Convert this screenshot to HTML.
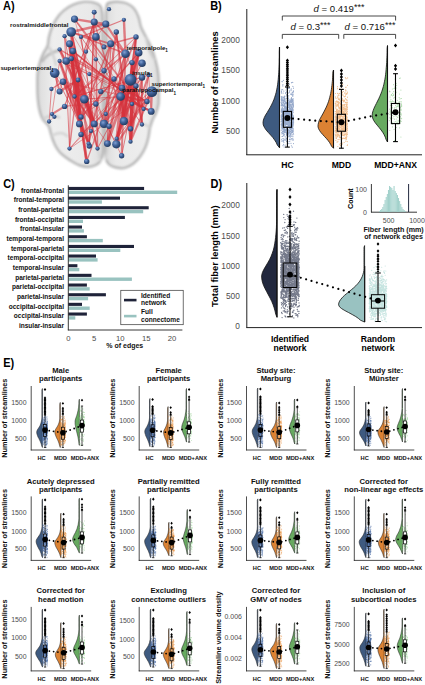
<!DOCTYPE html>
<html><head><meta charset="utf-8"><style>
html,body{margin:0;padding:0;background:#fff;width:425px;height:685px;overflow:hidden}
svg{display:block}
text{font-family:"Liberation Sans",sans-serif}
</style></head><body>
<svg width="425" height="685" viewBox="0 0 425 685" font-family="Liberation Sans, sans-serif">
<rect width="425" height="685" fill="#fff"/>
<text transform="translate(3.0,9.9) scale(0.9,1)" font-size="12.2" font-weight="bold" fill="#000">A)</text>
<defs>
<radialGradient id="nb" cx="0.38" cy="0.33" r="0.72"><stop offset="0" stop-color="#7f9fd2"/><stop offset="0.45" stop-color="#41639a"/><stop offset="1" stop-color="#1f3558"/></radialGradient>
<linearGradient id="hemiL" x1="0" y1="0" x2="1" y2="0"><stop offset="0" stop-color="#dcdcdc"/><stop offset="0.25" stop-color="#eeeeee"/><stop offset="0.8" stop-color="#e9e9e9"/><stop offset="1" stop-color="#dcdcdc"/></linearGradient>
<linearGradient id="hemiR" x1="0" y1="0" x2="1" y2="0"><stop offset="0" stop-color="#dcdcdc"/><stop offset="0.2" stop-color="#e9e9e9"/><stop offset="0.75" stop-color="#eeeeee"/><stop offset="1" stop-color="#dcdcdc"/></linearGradient>
<filter id="bl" x="-10%" y="-10%" width="120%" height="120%"><feGaussianBlur stdDeviation="1.0"/></filter>
</defs>
<path d="M100,5.5 C98.3,3.9 94.8,2.8 92,2.2 C89.2,1.6 86.1,1.5 83,1.9 C79.9,2.3 76.5,3.3 73.3,4.7 C70.1,6.1 66.7,8.1 63.9,10.4 C61.1,12.8 58.4,15.8 56.4,18.8 C54.4,21.8 52.9,25.1 51.6,28.2 C50.3,31.3 49.5,34.6 48.8,37.6 C48.1,40.6 48.4,43.4 47.5,46 C46.6,48.6 44.8,50.3 43.5,53 C42.2,55.7 41.0,58.8 40,62 C39.0,65.2 38.2,68.5 37.8,72 C37.3,75.5 37.3,79.0 37.3,83 C37.3,87.0 37.3,91.8 37.6,96 C37.9,100.2 38.2,104.2 39,108 C39.8,111.8 40.9,116.0 42.5,119 C44.1,122.0 47.0,123.2 48.5,126 C50.0,128.8 50.4,132.8 51.5,136 C52.6,139.2 53.7,142.3 55,145 C56.3,147.7 57.7,149.9 59.5,152 C61.3,154.1 63.8,155.8 66,157.5 C68.2,159.2 70.7,160.7 73,162 C75.3,163.3 77.5,164.7 80,165.5 C82.5,166.3 85.3,167.1 88,167 C90.7,166.9 93.9,166.1 96,165 C98.1,163.9 99.6,163.0 100.8,160.5 C102.0,158.0 102.8,156.8 103.2,150 C103.7,143.2 103.5,131.7 103.5,120 C103.5,108.3 103.4,95.0 103.3,80 C103.2,65.0 103.2,41.3 103,30 C102.8,18.7 102.7,16.1 102.2,12 C101.7,7.9 101.7,7.1 100,5.5 Z" fill="url(#hemiL)"/>
<path d="M106.5,6 C107.2,2.2 108.1,3.2 110,2.5 C111.9,1.8 115.2,1.6 118,1.8 C120.8,2.0 124.3,2.4 127,3.5 C129.7,4.6 132.1,6.2 134,8.5 C135.9,10.8 137.3,13.9 138.5,17 C139.7,20.1 139.8,23.7 141,27 C142.2,30.3 144.3,33.7 146,37 C147.7,40.3 149.4,43.2 151,47 C152.6,50.8 154.3,55.5 155.5,60 C156.7,64.5 157.8,69.0 158.3,74 C158.9,79.0 158.8,85.0 158.8,90 C158.8,95.0 159.0,100.2 158.5,104 C158.0,107.8 157.0,110.3 156,113 C155.0,115.7 153.5,117.5 152.5,120 C151.5,122.5 150.7,125.2 150,128 C149.3,130.8 149.2,133.8 148.5,137 C147.8,140.2 146.8,143.8 145.5,147 C144.2,150.2 142.5,153.2 140.5,156 C138.5,158.8 136.1,161.5 133.5,163.5 C130.9,165.5 127.9,167.1 125,167.8 C122.1,168.5 118.7,168.1 116,167.5 C113.3,166.9 110.7,166.1 109,164.5 C107.3,162.9 106.4,162.1 105.8,158 C105.2,153.9 105.5,149.7 105.5,140 C105.5,130.3 105.5,113.3 105.5,100 C105.5,86.7 105.7,72.5 105.8,60 C105.9,47.5 105.9,34.0 106,25 C106.1,16.0 105.8,9.8 106.5,6 Z" fill="url(#hemiR)"/>
<g filter="url(#bl)" fill="none" stroke="#b8b8b8" stroke-width="2.4"><path d="M100,5.5 C98.3,3.9 94.8,2.8 92,2.2 C89.2,1.6 86.1,1.5 83,1.9 C79.9,2.3 76.5,3.3 73.3,4.7 C70.1,6.1 66.7,8.1 63.9,10.4 C61.1,12.8 58.4,15.8 56.4,18.8 C54.4,21.8 52.9,25.1 51.6,28.2 C50.3,31.3 49.5,34.6 48.8,37.6 C48.1,40.6 48.4,43.4 47.5,46 C46.6,48.6 44.8,50.3 43.5,53 C42.2,55.7 41.0,58.8 40,62 C39.0,65.2 38.2,68.5 37.8,72 C37.3,75.5 37.3,79.0 37.3,83 C37.3,87.0 37.3,91.8 37.6,96 C37.9,100.2 38.2,104.2 39,108 C39.8,111.8 40.9,116.0 42.5,119 C44.1,122.0 47.0,123.2 48.5,126 C50.0,128.8 50.4,132.8 51.5,136 C52.6,139.2 53.7,142.3 55,145 C56.3,147.7 57.7,149.9 59.5,152 C61.3,154.1 63.8,155.8 66,157.5 C68.2,159.2 70.7,160.7 73,162 C75.3,163.3 77.5,164.7 80,165.5 C82.5,166.3 85.3,167.1 88,167 C90.7,166.9 93.9,166.1 96,165 C98.1,163.9 99.6,163.0 100.8,160.5 C102.0,158.0 102.8,156.8 103.2,150 C103.7,143.2 103.5,131.7 103.5,120 C103.5,108.3 103.4,95.0 103.3,80 C103.2,65.0 103.2,41.3 103,30 C102.8,18.7 102.7,16.1 102.2,12 C101.7,7.9 101.7,7.1 100,5.5 Z"/><path d="M106.5,6 C107.2,2.2 108.1,3.2 110,2.5 C111.9,1.8 115.2,1.6 118,1.8 C120.8,2.0 124.3,2.4 127,3.5 C129.7,4.6 132.1,6.2 134,8.5 C135.9,10.8 137.3,13.9 138.5,17 C139.7,20.1 139.8,23.7 141,27 C142.2,30.3 144.3,33.7 146,37 C147.7,40.3 149.4,43.2 151,47 C152.6,50.8 154.3,55.5 155.5,60 C156.7,64.5 157.8,69.0 158.3,74 C158.9,79.0 158.8,85.0 158.8,90 C158.8,95.0 159.0,100.2 158.5,104 C158.0,107.8 157.0,110.3 156,113 C155.0,115.7 153.5,117.5 152.5,120 C151.5,122.5 150.7,125.2 150,128 C149.3,130.8 149.2,133.8 148.5,137 C147.8,140.2 146.8,143.8 145.5,147 C144.2,150.2 142.5,153.2 140.5,156 C138.5,158.8 136.1,161.5 133.5,163.5 C130.9,165.5 127.9,167.1 125,167.8 C122.1,168.5 118.7,168.1 116,167.5 C113.3,166.9 110.7,166.1 109,164.5 C107.3,162.9 106.4,162.1 105.8,158 C105.2,153.9 105.5,149.7 105.5,140 C105.5,130.3 105.5,113.3 105.5,100 C105.5,86.7 105.7,72.5 105.8,60 C105.9,47.5 105.9,34.0 106,25 C106.1,16.0 105.8,9.8 106.5,6 Z"/><path d="M60,50 C52,52 45,56 42,62" /><path d="M49,47 C52,52 55,58 56,66" stroke="#d0d0d0"/><path d="M42.5,119 C50,115 56,115 60,118" stroke="#d0d0d0"/><path d="M51.5,136 C58,132 64,132 68,137" stroke="#d4d4d4"/><path d="M146,37 C148,47 150,55 155.5,60" stroke="#cccccc"/><path d="M150,128 C145,123 140,123 136,127" stroke="#d4d4d4"/><path d="M100.5,161 C98,150 96,140 97,130" stroke="#d6d6d6"/><path d="M105.5,160 C108,150 110,140 110,130" stroke="#d6d6d6"/></g>
<g stroke="#d5323c" stroke-opacity="0.6"><line x1="63" y1="81.7" x2="94.2" y2="123.9" stroke-width="2.0"/><line x1="59.6" y1="61" x2="97.5" y2="148.6" stroke-width="0.6"/><line x1="78" y1="80" x2="69.5" y2="148.6" stroke-width="1.3"/><line x1="54.7" y1="73.1" x2="79.4" y2="123.9" stroke-width="1.0"/><line x1="69.5" y1="43.8" x2="86.7" y2="161.4" stroke-width="2.9"/><line x1="78" y1="80" x2="89.3" y2="146" stroke-width="2.4"/><line x1="59.6" y1="49.4" x2="84.3" y2="99.2" stroke-width="1.3"/><line x1="71.2" y1="32" x2="97.5" y2="148.6" stroke-width="1.3"/><line x1="81" y1="36.9" x2="94.2" y2="123.9" stroke-width="1.0"/><line x1="78" y1="80" x2="59.6" y2="91.6" stroke-width="2.4"/><line x1="72.8" y1="51" x2="59.6" y2="91.6" stroke-width="0.8"/><line x1="72.8" y1="51" x2="81" y2="117" stroke-width="2.9"/><line x1="72.8" y1="51" x2="81" y2="134.4" stroke-width="0.6"/><line x1="78" y1="80" x2="79.4" y2="123.9" stroke-width="1.3"/><line x1="59.6" y1="61" x2="89.3" y2="146" stroke-width="1.0"/><line x1="78" y1="80" x2="81" y2="134.4" stroke-width="1.6"/><line x1="94.2" y1="22" x2="89.3" y2="146" stroke-width="1.3"/><line x1="72.8" y1="51" x2="97.5" y2="148.6" stroke-width="1.3"/><line x1="81" y1="36.9" x2="94.2" y2="123.9" stroke-width="0.6"/><line x1="94.2" y1="22" x2="64.6" y2="106.4" stroke-width="1.0"/><line x1="72.8" y1="51" x2="94.2" y2="123.9" stroke-width="0.8"/><line x1="94.2" y1="22" x2="94.2" y2="123.9" stroke-width="0.6"/><line x1="63" y1="81.7" x2="88.6" y2="143.6" stroke-width="2.0"/><line x1="69.5" y1="43.8" x2="94.2" y2="123.9" stroke-width="2.0"/><line x1="78" y1="80" x2="94.2" y2="123.9" stroke-width="2.9"/><line x1="71.2" y1="58.6" x2="86.7" y2="161.4" stroke-width="1.0"/><line x1="64.6" y1="36.2" x2="69.5" y2="148.6" stroke-width="1.0"/><line x1="71.2" y1="32" x2="94.2" y2="123.9" stroke-width="0.6"/><line x1="71.2" y1="58.6" x2="86.7" y2="161.4" stroke-width="2.4"/><line x1="71.2" y1="32" x2="74.5" y2="96.5" stroke-width="2.4"/><line x1="94.2" y1="22" x2="64.6" y2="106.4" stroke-width="0.6"/><line x1="64.6" y1="36.2" x2="79.4" y2="123.9" stroke-width="1.0"/><line x1="63" y1="81.7" x2="89.3" y2="146" stroke-width="0.8"/><line x1="59.6" y1="61" x2="89.3" y2="146" stroke-width="2.9"/><line x1="94.2" y1="22" x2="74.5" y2="96.5" stroke-width="2.0"/><line x1="59.6" y1="49.4" x2="94.2" y2="123.9" stroke-width="2.9"/><line x1="69.5" y1="43.8" x2="81" y2="117" stroke-width="2.0"/><line x1="78" y1="80" x2="94.2" y2="123.9" stroke-width="0.6"/><line x1="110.7" y1="43.8" x2="107.4" y2="143.6" stroke-width="1.3"/><line x1="151.9" y1="91.6" x2="151.2" y2="111.4" stroke-width="2.0"/><line x1="138.7" y1="52.7" x2="116.6" y2="138.7" stroke-width="1.6"/><line x1="148.6" y1="75.1" x2="151.2" y2="111.4" stroke-width="0.8"/><line x1="120.6" y1="96.5" x2="147" y2="101.5" stroke-width="2.0"/><line x1="120.6" y1="96.5" x2="123.9" y2="121.2" stroke-width="0.8"/><line x1="132" y1="62.6" x2="123.9" y2="121.2" stroke-width="1.6"/><line x1="116.3" y1="32" x2="123.9" y2="121.2" stroke-width="0.6"/><line x1="130.5" y1="79.7" x2="143.6" y2="109" stroke-width="2.4"/><line x1="125.5" y1="53.7" x2="121.6" y2="155.8" stroke-width="2.0"/><line x1="136" y1="86" x2="130.5" y2="141.7" stroke-width="2.9"/><line x1="132" y1="62.6" x2="130.5" y2="128.8" stroke-width="1.0"/><line x1="125.5" y1="53.7" x2="147" y2="101.5" stroke-width="0.6"/><line x1="142" y1="77.4" x2="142" y2="124.5" stroke-width="2.0"/><line x1="136" y1="86" x2="121.6" y2="155.8" stroke-width="1.0"/><line x1="148.6" y1="75.1" x2="143.6" y2="109" stroke-width="1.0"/><line x1="132" y1="62.6" x2="130.5" y2="128.8" stroke-width="0.8"/><line x1="138.7" y1="52.7" x2="130.5" y2="128.8" stroke-width="2.0"/><line x1="138.7" y1="52.7" x2="116.3" y2="144.3" stroke-width="2.4"/><line x1="120.6" y1="96.5" x2="123.9" y2="121.2" stroke-width="2.9"/><line x1="122" y1="88" x2="123.9" y2="121.2" stroke-width="2.9"/><line x1="116.3" y1="32" x2="104" y2="123.9" stroke-width="2.0"/><line x1="116.3" y1="32" x2="130.5" y2="141.7" stroke-width="1.6"/><line x1="116.3" y1="32" x2="130.5" y2="128.8" stroke-width="1.0"/><line x1="130.5" y1="79.7" x2="130.5" y2="128.8" stroke-width="1.0"/><line x1="132" y1="62.6" x2="142" y2="124.5" stroke-width="2.0"/><line x1="138.7" y1="52.7" x2="107.4" y2="143.6" stroke-width="2.9"/><line x1="120.6" y1="96.5" x2="151.2" y2="111.4" stroke-width="2.0"/><line x1="130.5" y1="79.7" x2="116.6" y2="138.7" stroke-width="0.6"/><line x1="142" y1="77.4" x2="130.5" y2="141.7" stroke-width="2.0"/><line x1="136" y1="36.9" x2="104" y2="123.9" stroke-width="1.6"/><line x1="136" y1="86" x2="142" y2="124.5" stroke-width="1.6"/><line x1="142" y1="77.4" x2="104" y2="123.9" stroke-width="1.6"/><line x1="151.9" y1="91.6" x2="147" y2="101.5" stroke-width="1.0"/><line x1="122" y1="88" x2="116.3" y2="144.3" stroke-width="2.9"/><line x1="136" y1="36.9" x2="130.5" y2="141.7" stroke-width="2.0"/><line x1="132" y1="62.6" x2="130.5" y2="141.7" stroke-width="2.9"/><line x1="120.6" y1="96.5" x2="151.2" y2="111.4" stroke-width="2.0"/><line x1="151.9" y1="91.6" x2="130.5" y2="141.7" stroke-width="2.0"/><line x1="148.6" y1="75.1" x2="130.5" y2="128.8" stroke-width="2.0"/><line x1="136" y1="86" x2="123.9" y2="121.2" stroke-width="2.9"/><line x1="151.9" y1="91.6" x2="116.6" y2="138.7" stroke-width="1.0"/><line x1="136" y1="36.9" x2="123.9" y2="121.2" stroke-width="1.3"/><line x1="136" y1="86" x2="116.6" y2="138.7" stroke-width="2.9"/><line x1="74.5" y1="19.1" x2="104" y2="123.9" stroke-width="0.6"/><line x1="71.2" y1="58.6" x2="147" y2="101.5" stroke-width="1.3"/><line x1="72.8" y1="51" x2="143.6" y2="109" stroke-width="1.6"/><line x1="59.6" y1="49.4" x2="147" y2="101.5" stroke-width="1.3"/><line x1="74.5" y1="19.1" x2="143.6" y2="109" stroke-width="1.6"/><line x1="59.6" y1="61" x2="147" y2="101.5" stroke-width="1.0"/><line x1="71.2" y1="58.6" x2="116.3" y2="144.3" stroke-width="0.8"/><line x1="72.8" y1="51" x2="143.6" y2="109" stroke-width="1.3"/><line x1="63" y1="81.7" x2="147" y2="101.5" stroke-width="0.8"/><line x1="66.2" y1="61" x2="147" y2="101.5" stroke-width="0.8"/><line x1="54.7" y1="73.1" x2="104" y2="123.9" stroke-width="0.6"/><line x1="64.6" y1="36.2" x2="121.6" y2="155.8" stroke-width="0.8"/><line x1="71.2" y1="32" x2="123.9" y2="121.2" stroke-width="0.6"/><line x1="94.2" y1="22" x2="123.9" y2="121.2" stroke-width="1.3"/><line x1="66.2" y1="61" x2="151.2" y2="111.4" stroke-width="0.6"/><line x1="81" y1="36.9" x2="142" y2="124.5" stroke-width="1.0"/><line x1="110.7" y1="43.8" x2="88.6" y2="143.6" stroke-width="1.6"/><line x1="130.5" y1="79.7" x2="81" y2="117" stroke-width="0.8"/><line x1="142" y1="63.2" x2="97.5" y2="148.6" stroke-width="1.0"/><line x1="125.5" y1="53.7" x2="86.7" y2="161.4" stroke-width="1.3"/><line x1="120.6" y1="96.5" x2="64.6" y2="106.4" stroke-width="0.6"/><line x1="148.6" y1="75.1" x2="74.5" y2="96.5" stroke-width="1.0"/><line x1="125.5" y1="53.7" x2="74.5" y2="96.5" stroke-width="1.6"/><line x1="120.6" y1="96.5" x2="84.3" y2="99.2" stroke-width="1.0"/><line x1="136" y1="36.9" x2="74.5" y2="96.5" stroke-width="1.0"/><line x1="122" y1="88" x2="94.2" y2="123.9" stroke-width="1.0"/><line x1="136" y1="86" x2="81" y2="134.4" stroke-width="1.3"/><line x1="110.7" y1="43.8" x2="81" y2="117" stroke-width="1.6"/><line x1="151.9" y1="91.6" x2="69.5" y2="148.6" stroke-width="0.8"/><line x1="138.7" y1="52.7" x2="81" y2="117" stroke-width="1.3"/><line x1="122" y1="88" x2="69.5" y2="148.6" stroke-width="0.8"/><line x1="138.7" y1="52.7" x2="81" y2="117" stroke-width="0.6"/><line x1="132" y1="104" x2="74.5" y2="19.1" stroke-width="0.7"/><line x1="110.7" y1="43.8" x2="120.6" y2="96.5" stroke-width="0.5"/><line x1="120.6" y1="96.5" x2="136" y2="86" stroke-width="0.7"/><line x1="94.2" y1="123.9" x2="104" y2="123.9" stroke-width="0.5"/><line x1="107.4" y1="143.6" x2="74.5" y2="96.5" stroke-width="0.7"/><line x1="54.4" y1="116.8" x2="49.1" y2="121.5" stroke-width="0.5"/><line x1="148.6" y1="75.1" x2="100.8" y2="91.6" stroke-width="0.7"/><line x1="114" y1="79" x2="79.4" y2="123.9" stroke-width="0.5"/><line x1="95.9" y1="104" x2="64.6" y2="106.4" stroke-width="0.7"/><line x1="84.3" y1="99.2" x2="125.5" y2="53.7" stroke-width="0.7"/><line x1="105.8" y1="24" x2="86" y2="51.7" stroke-width="0.7"/><line x1="142" y1="77.4" x2="74.5" y2="96.5" stroke-width="0.5"/><line x1="71.2" y1="32" x2="105.8" y2="24" stroke-width="2.8"/><line x1="74.5" y1="19.1" x2="103" y2="23.7" stroke-width="2.4"/><line x1="71.2" y1="32" x2="110.7" y2="43.8" stroke-width="1.8"/><line x1="71.2" y1="32" x2="125.5" y2="53.7" stroke-width="1.5"/><line x1="94.2" y1="22" x2="125.5" y2="53.7" stroke-width="1.6"/><line x1="123.9" y1="19.8" x2="125.5" y2="53.7" stroke-width="2.4"/><line x1="105.8" y1="24" x2="125.5" y2="53.7" stroke-width="2.2"/><line x1="136" y1="36.9" x2="130.5" y2="79.7" stroke-width="1.8"/><line x1="71.2" y1="32" x2="84.3" y2="99.2" stroke-width="2.8"/><line x1="69.5" y1="43.8" x2="79.4" y2="123.9" stroke-width="3.0"/><line x1="72.8" y1="51" x2="94.2" y2="123.9" stroke-width="2.4"/><line x1="130.5" y1="79.7" x2="116.3" y2="144.3" stroke-width="3.0"/><line x1="125.5" y1="53.7" x2="107.4" y2="143.6" stroke-width="2.6"/><line x1="120.6" y1="96.5" x2="104" y2="123.9" stroke-width="2.2"/><line x1="151.9" y1="91.6" x2="116.3" y2="144.3" stroke-width="2.2"/><line x1="54.7" y1="73.1" x2="59.6" y2="91.6" stroke-width="2.0"/><line x1="63" y1="81.7" x2="51.4" y2="89" stroke-width="1.2"/><line x1="95.9" y1="36.9" x2="97.5" y2="148.6" stroke-width="1.6"/><line x1="94.2" y1="12.2" x2="89.3" y2="146" stroke-width="1.2"/><line x1="64.6" y1="106.4" x2="52" y2="114.1" stroke-width="2.2"/><line x1="49.1" y1="121.5" x2="51.4" y2="89" stroke-width="0.9"/><line x1="52" y1="114.1" x2="59.6" y2="61" stroke-width="0.8"/><line x1="69.5" y1="148.6" x2="71.2" y2="58.6" stroke-width="0.9"/><line x1="69.5" y1="148.6" x2="94.2" y2="123.9" stroke-width="0.7"/><line x1="110.7" y1="43.8" x2="136" y2="36.9" stroke-width="1.6"/><line x1="81" y1="36.9" x2="123.9" y2="19.8" stroke-width="1.2"/></g>
<g fill="url(#nb)"><circle cx="74.5" cy="19.1" r="3.56"/><circle cx="94.2" cy="12.2" r="2.48"/><circle cx="94.2" cy="22" r="3.56"/><circle cx="105.8" cy="24" r="3.56"/><circle cx="109" cy="9.2" r="2.16"/><circle cx="71.2" cy="32" r="4.86"/><circle cx="64.6" cy="36.2" r="2.16"/><circle cx="69.5" cy="43.8" r="3.56"/><circle cx="81" cy="36.9" r="2.16"/><circle cx="95.9" cy="36.9" r="3.78"/><circle cx="116.3" cy="32" r="2.70"/><circle cx="123.9" cy="19.8" r="2.16"/><circle cx="136" cy="36.9" r="2.70"/><circle cx="110.7" cy="43.8" r="3.56"/><circle cx="104" cy="47.1" r="2.48"/><circle cx="86" cy="51.7" r="2.16"/><circle cx="59.6" cy="49.4" r="2.16"/><circle cx="72.8" cy="51" r="3.24"/><circle cx="125.5" cy="53.7" r="4.32"/><circle cx="138.7" cy="52.7" r="3.78"/><circle cx="66.2" cy="61" r="3.78"/><circle cx="71.2" cy="58.6" r="2.70"/><circle cx="59.6" cy="61" r="2.16"/><circle cx="95.9" cy="59.3" r="2.16"/><circle cx="142" cy="63.2" r="3.78"/><circle cx="132" cy="62.6" r="2.70"/><circle cx="54.7" cy="73.1" r="4.86"/><circle cx="104" cy="70.8" r="2.70"/><circle cx="89.3" cy="74.1" r="2.16"/><circle cx="63" cy="81.7" r="3.24"/><circle cx="130.5" cy="79.7" r="5.94"/><circle cx="142" cy="77.4" r="3.24"/><circle cx="114" cy="79" r="2.70"/><circle cx="148.6" cy="75.1" r="2.16"/><circle cx="51.4" cy="89" r="2.16"/><circle cx="59.6" cy="91.6" r="3.02"/><circle cx="84.3" cy="99.2" r="4.32"/><circle cx="74.5" cy="96.5" r="2.16"/><circle cx="100.8" cy="91.6" r="2.70"/><circle cx="64.6" cy="106.4" r="2.70"/><circle cx="95.9" cy="104" r="2.70"/><circle cx="120.6" cy="96.5" r="4.32"/><circle cx="151.9" cy="91.6" r="5.40"/><circle cx="147" cy="101.5" r="2.70"/><circle cx="132" cy="104" r="2.16"/><circle cx="143.6" cy="109" r="2.16"/><circle cx="151.2" cy="111.4" r="3.46"/><circle cx="52" cy="114.1" r="2.16"/><circle cx="54.4" cy="116.8" r="2.16"/><circle cx="49.1" cy="121.5" r="2.16"/><circle cx="81" cy="117" r="2.70"/><circle cx="105.8" cy="114" r="2.16"/><circle cx="123.9" cy="121.2" r="4.10"/><circle cx="79.4" cy="123.9" r="3.46"/><circle cx="94.2" cy="123.9" r="3.46"/><circle cx="104" cy="123.9" r="4.10"/><circle cx="109" cy="126.2" r="2.70"/><circle cx="142" cy="124.5" r="2.16"/><circle cx="130.5" cy="128.8" r="2.70"/><circle cx="81" cy="134.4" r="2.70"/><circle cx="91" cy="131.1" r="2.16"/><circle cx="116.6" cy="138.7" r="2.16"/><circle cx="130.5" cy="141.7" r="2.16"/><circle cx="107.4" cy="143.6" r="3.46"/><circle cx="116.3" cy="144.3" r="4.10"/><circle cx="89.3" cy="146" r="2.70"/><circle cx="69.5" cy="148.6" r="2.16"/><circle cx="97.5" cy="148.6" r="2.16"/><circle cx="88.6" cy="143.6" r="2.16"/><circle cx="121.6" cy="155.8" r="2.70"/><circle cx="86.7" cy="161.4" r="2.70"/><circle cx="122" cy="88" r="3.24"/><circle cx="136" cy="86" r="2.70"/><circle cx="78" cy="80" r="2.38"/></g>
<text x="10.0" y="26.8" font-size="6.2" font-weight="bold" fill="#111">rostralmiddlefrontal</text>
<text x="0.4" y="69.5" font-size="6.2" font-weight="bold" fill="#111">superiortemporal<tspan font-size="4.6" dy="2.2">1</tspan></text>
<text x="126.5" y="49.7" font-size="6.2" font-weight="bold" fill="#111">temporalpole<tspan font-size="4.6" dy="2.2">1</tspan></text>
<text x="132" y="75.2" font-size="6.2" font-weight="bold" fill="#111">insula<tspan font-size="4.6" dy="2.2">1</tspan></text>
<text x="151.5" y="85.5" font-size="6.2" font-weight="bold" fill="#111">superiortemporal<tspan font-size="4.6" dy="2.2">1</tspan></text>
<text x="122.2" y="92.3" font-size="6.2" font-weight="bold" fill="#111">parahippocampal<tspan font-size="4.6" dy="2.2">1</tspan></text>
<text transform="translate(210.2,9.9) scale(0.9,1)" font-size="12.2" font-weight="bold" fill="#000">B)</text>
<line x1="246.8" y1="9.0" x2="246.8" y2="155.0" stroke="#222" stroke-width="1"/>
<line x1="246.3" y1="154.8" x2="422.0" y2="154.8" stroke="#222" stroke-width="1"/>
<text transform="translate(239.9,43.0) scale(0.87,1)" font-size="9.6" text-anchor="end" fill="#4d4d4d">2000</text>
<text transform="translate(239.9,73.4) scale(0.87,1)" font-size="9.6" text-anchor="end" fill="#4d4d4d">1500</text>
<text transform="translate(239.9,103.8) scale(0.87,1)" font-size="9.6" text-anchor="end" fill="#4d4d4d">1000</text>
<text transform="translate(239.9,134.2) scale(0.87,1)" font-size="9.6" text-anchor="end" fill="#4d4d4d">500</text>
<text x="217.6" y="82.3" font-size="9.45" font-weight="bold" text-anchor="middle" fill="#000" transform="rotate(-90 217.6 82.3)">Number of streamlines</text>
<text x="287.5" y="168.3" font-size="8.6" font-weight="bold" text-anchor="middle" fill="#000">HC</text>
<text x="341.5" y="168.3" font-size="8.6" font-weight="bold" text-anchor="middle" fill="#000">MDD</text>
<text x="395.5" y="168.3" font-size="8.6" font-weight="bold" text-anchor="middle" fill="#000">MDD+ANX</text>
<path d="M282.3,20.5 V16 H395.6 V20.5 M282.3,38.8 V34.4 H338.7 V38.8 M343.8,38.8 V34.4 H395.6 V38.8" fill="none" stroke="#333" stroke-width="0.9"/>
<text x="339" y="12.4" font-size="9.6" text-anchor="middle" fill="#111"><tspan font-style="italic">d</tspan> = 0.419<tspan font-size="9" dy="-2.2">***</tspan></text>
<text x="310.5" y="29.7" font-size="9.6" text-anchor="middle" fill="#111"><tspan font-style="italic">d</tspan> = 0.3<tspan font-size="9" dy="-2.2">***</tspan></text>
<text x="370" y="29.7" font-size="9.6" text-anchor="middle" fill="#111"><tspan font-style="italic">d</tspan> = 0.716<tspan font-size="9" dy="-2.2">***</tspan></text>
<path d="M279.5,47.0 L279.5,47.0 L279.4,49.5 L279.3,52.0 L279.3,54.6 L279.3,57.1 L279.2,59.6 L279.2,62.1 L279.1,64.6 L279.0,67.1 L278.9,69.7 L278.8,72.2 L278.6,74.7 L278.4,77.2 L278.2,79.7 L277.9,82.2 L277.6,84.8 L277.2,87.3 L276.7,89.8 L276.2,92.3 L275.5,94.8 L274.7,97.3 L273.8,99.9 L272.7,102.4 L271.5,104.9 L270.2,107.4 L268.7,109.9 L267.2,112.5 L265.6,115.0 L264.3,117.5 L263.4,120.0 L263.0,122.5 L263.3,125.0 L264.5,127.6 L266.2,130.1 L268.4,132.6 L270.7,135.1 L272.9,137.6 L274.7,140.1 L276.3,142.7 L277.4,145.2 L279.5,147.7 L279.5,147.7 Z" fill="#3e5a80" stroke="#111" stroke-width="0.8"/>
<line x1="279.5" y1="47.0" x2="279.5" y2="147.7" stroke="#111" stroke-width="1.1"/>
<path d="M287.8 119.6h0M292.8 116.8h0M283.1 119.0h0M284.8 127.5h0M288.7 134.4h0M282.7 121.3h0M285.4 123.1h0M287.8 102.4h0M288.5 104.0h0M284.3 101.1h0M288.0 93.5h0M290.9 104.2h0M289.0 99.3h0M292.5 108.8h0M283.6 97.6h0M291.5 101.6h0M286.6 107.7h0M290.9 100.4h0M288.0 126.6h0M285.3 106.3h0M282.0 96.9h0M291.4 105.7h0M290.2 120.1h0M293.6 120.9h0M283.9 138.9h0M293.0 125.2h0M292.6 124.9h0M288.8 110.1h0M281.7 108.5h0M285.9 102.3h0M290.4 101.7h0M282.9 123.9h0M287.3 111.3h0M285.8 132.5h0M289.0 116.2h0M292.5 111.2h0M288.0 110.9h0M290.5 111.3h0M285.8 112.0h0M283.4 124.8h0M289.5 121.4h0M282.7 113.9h0M287.2 120.4h0M291.1 90.3h0M283.1 118.1h0M289.6 122.4h0M289.4 90.8h0M282.9 138.5h0M285.3 123.7h0M285.5 125.2h0M289.2 101.6h0M286.6 134.5h0M288.3 133.5h0M286.1 120.4h0M281.7 109.6h0M287.2 120.3h0M292.2 131.2h0M286.5 118.8h0M283.2 112.2h0M286.0 114.1h0M284.6 123.7h0M284.8 110.1h0M292.7 115.3h0M292.8 118.4h0M292.9 124.5h0M289.5 104.8h0M283.2 108.5h0M281.5 98.7h0M293.3 106.3h0M285.1 112.1h0M290.1 114.1h0M284.2 96.6h0M286.5 133.6h0M281.3 124.6h0M281.8 116.2h0M293.5 104.7h0M282.1 115.2h0M287.3 122.7h0M281.8 126.6h0M281.9 115.3h0M281.8 108.8h0M293.2 112.2h0M287.8 104.6h0M285.1 118.0h0M288.6 88.4h0M283.9 125.3h0M288.3 103.2h0M289.0 114.8h0M286.8 126.9h0M284.0 123.7h0M290.8 116.5h0M285.1 123.2h0M282.2 109.7h0M288.4 113.6h0M281.8 98.7h0M284.7 110.6h0M285.1 106.9h0M288.1 125.5h0M288.3 129.3h0M291.3 99.4h0M289.9 135.8h0M291.3 112.5h0M283.3 115.3h0M289.6 115.0h0M288.1 96.9h0M281.8 109.6h0M293.0 101.5h0M284.1 135.8h0M281.4 110.7h0M291.5 126.3h0M283.3 130.0h0M286.7 126.4h0M285.1 120.3h0M286.9 124.1h0M292.8 96.5h0M293.2 110.2h0M286.4 134.9h0M293.3 103.3h0M292.1 104.6h0M283.9 111.3h0M285.6 113.4h0M284.2 132.3h0M291.6 118.4h0M291.5 123.8h0M281.7 114.3h0M292.4 100.7h0M291.1 105.9h0M288.9 107.4h0M285.9 138.8h0M283.5 100.3h0M285.1 117.4h0M287.1 113.6h0M286.1 128.8h0M289.8 128.8h0M287.9 141.7h0M289.6 128.4h0M284.7 104.6h0M288.4 107.6h0M290.1 124.2h0M290.1 108.7h0M290.5 114.0h0M289.7 141.4h0M290.4 125.1h0M292.3 122.2h0M293.3 102.5h0M286.0 118.0h0M289.3 118.1h0M286.0 131.6h0M289.7 108.5h0M292.2 115.9h0M285.0 105.6h0M283.3 97.4h0M290.7 135.1h0M291.5 102.1h0M290.2 124.3h0M292.4 103.5h0M284.7 111.1h0M281.6 125.7h0M288.2 116.9h0M288.6 121.7h0M289.8 125.3h0M291.5 130.5h0M285.1 123.6h0M284.0 134.2h0M291.6 138.7h0M283.1 111.4h0M283.1 113.4h0M290.3 133.4h0M291.2 130.1h0M289.0 143.3h0M282.5 131.5h0M285.8 110.1h0M289.6 115.1h0M287.9 128.5h0M282.7 111.7h0M287.3 130.6h0M292.9 130.6h0M284.9 117.4h0M287.1 96.5h0M285.9 116.3h0M287.4 87.6h0M284.9 122.3h0M291.7 101.1h0M284.1 104.9h0M282.1 122.4h0M293.4 105.7h0M286.0 109.8h0M291.3 127.4h0M290.7 111.7h0M286.9 108.2h0M287.6 117.7h0M286.7 111.4h0M282.3 81.7h0M287.5 98.4h0M286.1 112.8h0M292.4 132.3h0M289.1 124.7h0M286.3 95.1h0M291.4 121.6h0M292.3 147.2h0M293.3 116.0h0M283.9 130.1h0M284.8 116.7h0M282.7 131.1h0M285.9 113.5h0M292.2 119.9h0M293.1 92.8h0M282.9 121.2h0M281.6 89.9h0M286.5 103.0h0M290.8 118.5h0M287.6 105.3h0M282.6 120.2h0M285.8 123.4h0M293.2 100.5h0M288.3 116.2h0M282.9 97.1h0M290.0 112.4h0M287.5 116.9h0M291.0 130.2h0M286.0 114.9h0M281.5 118.8h0M292.7 99.4h0M287.8 112.5h0M293.5 143.6h0M283.3 105.7h0M290.3 129.4h0M286.0 111.7h0M291.5 123.0h0M285.6 101.9h0M286.8 110.1h0M282.3 115.0h0M284.5 96.2h0M290.9 90.1h0M289.0 120.4h0M289.0 92.6h0M286.6 116.4h0M283.4 141.2h0M288.2 97.1h0M281.7 111.4h0M281.7 141.1h0M282.7 119.6h0M283.9 130.4h0M282.6 128.5h0M282.0 116.3h0M289.2 113.2h0M289.2 119.6h0M282.7 122.9h0M281.2 119.3h0M287.6 128.1h0M283.9 125.0h0M292.9 117.1h0M282.2 107.7h0M288.9 111.9h0M287.3 121.5h0M286.7 124.2h0M284.5 124.0h0M287.8 114.7h0M286.4 134.0h0M291.6 124.3h0M285.6 110.4h0M284.5 124.1h0M282.6 136.3h0M285.4 140.1h0M288.4 100.6h0M293.3 98.9h0M284.4 104.1h0M285.3 101.9h0M286.3 98.4h0M282.0 125.7h0M291.0 104.6h0M287.5 142.7h0M281.5 110.2h0M284.8 122.8h0M292.9 86.4h0M282.5 116.4h0M282.2 129.1h0M287.9 127.8h0M293.3 116.3h0M283.8 101.3h0M289.1 106.9h0M285.2 124.1h0M281.9 124.7h0M287.0 119.9h0M287.4 102.9h0M290.4 109.8h0M288.7 95.7h0M283.7 114.5h0M293.6 119.5h0M283.3 112.4h0M291.8 100.5h0M289.9 112.4h0M285.6 109.5h0M290.1 113.7h0M288.5 117.7h0M287.3 128.7h0M285.3 126.6h0M282.8 123.1h0M282.8 85.9h0M290.6 134.2h0M285.1 145.2h0M289.4 119.0h0M285.4 107.8h0M287.5 132.9h0M283.2 133.6h0M281.2 102.4h0M281.7 121.6h0M287.1 92.4h0M291.8 107.7h0M291.5 82.7h0M284.0 130.7h0M281.3 105.5h0M287.4 134.6h0M285.0 107.5h0M290.6 129.1h0M289.7 105.3h0M283.0 117.0h0M281.4 92.1h0M286.6 128.4h0M287.1 126.3h0M290.7 94.2h0M291.6 121.8h0M288.9 123.3h0M292.2 92.2h0M285.4 120.0h0M285.8 113.9h0M286.5 118.6h0M290.2 117.7h0M292.3 101.4h0M283.9 142.3h0M281.5 105.2h0M290.7 114.5h0M290.7 129.5h0M292.6 131.6h0M289.4 132.8h0M290.0 126.9h0M284.3 114.3h0M290.7 127.9h0M285.7 92.6h0M288.7 113.2h0M281.3 111.7h0M286.5 109.8h0M293.1 101.2h0M285.2 119.3h0M281.3 124.3h0M288.7 115.0h0M286.8 138.4h0M288.7 121.6h0M286.7 111.8h0M284.0 129.0h0M287.9 116.6h0M289.4 113.9h0M286.3 133.6h0M291.8 106.2h0M282.7 124.8h0M282.2 99.2h0M281.7 132.3h0M287.0 108.8h0M286.8 112.2h0M289.6 109.6h0M285.0 117.3h0M284.8 123.4h0M282.3 99.7h0M283.8 91.1h0M291.9 123.7h0M289.7 117.3h0M284.0 115.5h0M284.5 115.3h0M287.5 128.9h0M288.3 119.0h0M286.2 108.1h0M282.8 102.7h0M285.7 110.2h0M288.5 125.3h0M281.7 97.4h0M290.6 111.2h0M289.0 122.9h0M289.3 116.4h0M285.3 110.8h0M287.5 120.6h0M291.7 127.1h0M287.1 102.5h0M292.2 114.0h0M290.9 114.0h0M291.8 129.0h0M282.8 122.8h0M284.6 120.5h0M286.3 103.5h0M288.9 125.7h0M288.8 112.6h0M291.3 117.9h0M284.2 121.7h0M292.4 104.4h0M285.0 125.1h0M292.8 112.5h0M287.4 113.4h0M284.0 114.6h0M291.0 119.3h0M282.7 115.3h0M293.4 117.8h0M282.6 118.7h0M290.4 122.8h0M284.4 128.7h0M284.5 97.8h0M287.3 108.7h0M285.0 98.9h0M290.3 129.3h0M288.1 133.1h0M281.7 108.6h0M286.9 113.7h0M285.8 109.6h0M287.2 122.8h0M285.2 119.3h0M285.1 100.1h0M284.9 130.7h0M281.3 99.3h0M284.9 119.0h0M283.7 117.3h0M290.3 126.5h0M292.6 113.1h0M290.3 100.5h0M292.0 106.9h0M283.5 120.4h0M288.0 113.5h0M287.1 118.1h0M291.6 105.9h0M289.3 101.1h0M284.7 111.8h0M282.9 102.6h0M288.1 106.9h0M281.5 93.1h0M284.9 99.6h0M286.2 117.8h0M282.2 125.3h0M281.5 112.2h0M284.7 100.4h0M287.2 126.7h0M283.1 115.0h0M287.9 121.1h0M293.1 131.1h0M289.4 131.3h0M289.7 114.2h0M289.5 104.5h0M290.0 128.9h0M288.8 121.1h0M282.0 126.4h0M287.7 120.7h0M290.7 131.5h0M288.2 104.8h0M285.2 123.2h0M290.8 123.2h0M287.9 120.1h0M287.2 122.7h0M289.9 123.6h0M282.0 125.5h0M292.5 94.0h0M290.7 119.2h0M289.5 106.2h0M293.2 130.3h0M287.3 102.2h0M293.1 122.0h0M287.4 117.1h0M284.6 107.0h0M291.3 88.9h0M292.3 109.8h0M285.3 103.1h0M282.7 118.7h0M285.1 118.6h0M284.3 128.4h0M289.0 114.1h0M284.5 106.2h0M290.9 107.3h0M287.9 96.7h0M285.1 125.8h0M286.5 141.3h0M284.4 110.8h0M291.3 122.6h0M285.0 96.5h0M283.1 93.1h0M288.1 131.8h0M287.7 106.0h0M285.0 111.5h0M290.8 128.1h0M286.4 116.9h0M288.9 115.2h0M285.7 125.1h0M281.6 103.8h0M289.6 117.1h0M284.1 117.7h0M291.8 109.2h0M282.1 118.4h0M284.8 104.6h0M281.8 128.0h0M281.8 133.8h0M291.6 110.8h0M282.0 120.8h0M283.4 108.9h0M287.3 95.0h0M282.9 133.2h0M292.2 127.2h0M293.4 106.8h0M292.8 95.1h0M282.1 128.4h0M289.6 101.7h0M285.5 93.5h0M287.6 114.1h0M284.5 110.0h0M290.5 101.0h0M281.6 123.6h0M290.4 124.8h0M288.8 122.9h0M283.6 116.2h0M282.6 104.3h0M285.5 86.1h0M284.7 108.6h0M292.2 125.5h0M281.8 119.1h0M285.6 115.2h0M284.9 99.2h0M289.6 131.5h0M292.9 118.5h0M288.9 110.4h0M291.0 143.3h0M283.1 122.8h0M289.7 105.2h0M281.5 118.7h0M285.6 121.3h0M289.9 105.1h0M293.5 91.6h0M284.8 101.3h0M288.8 126.5h0M284.8 132.2h0M290.3 134.7h0M293.3 117.6h0M287.0 128.6h0M282.1 123.6h0M288.4 109.8h0M291.8 134.0h0M287.4 120.9h0M290.6 105.6h0M282.7 120.7h0M288.0 136.8h0M288.3 121.8h0M285.5 103.4h0M291.3 102.2h0M282.8 119.7h0M283.9 129.6h0M281.2 121.7h0M291.0 127.1h0M290.3 126.7h0M288.4 117.8h0M288.7 116.6h0M288.7 132.6h0M286.3 107.3h0M289.7 102.8h0M285.7 110.5h0M289.3 120.4h0M285.6 113.8h0M289.6 127.7h0M287.9 116.3h0M292.1 120.4h0M292.8 112.7h0M289.4 102.7h0M286.0 128.8h0M289.7 118.0h0M283.6 114.2h0M287.4 123.8h0M285.8 123.4h0M283.6 125.6h0M284.5 131.1h0M292.4 130.0h0M293.1 121.6h0M283.1 133.6h0M281.2 115.8h0M284.4 115.6h0M289.6 102.8h0M288.4 110.8h0M289.1 114.3h0M291.4 132.8h0M291.5 97.7h0M292.3 100.4h0M285.9 129.4h0M290.7 101.7h0M285.7 127.4h0M286.9 120.4h0M283.4 80.3h0M290.2 115.5h0M284.6 97.9h0M283.7 121.5h0M292.3 104.6h0M292.6 114.6h0M285.1 115.1h0M285.7 123.2h0M283.5 135.6h0M283.3 115.6h0M289.6 114.5h0M284.8 111.6h0M286.6 114.5h0M287.7 113.4h0M291.8 117.3h0M292.7 127.4h0M292.2 104.6h0M287.9 112.0h0M292.2 118.2h0M286.5 129.3h0M285.8 117.1h0M281.3 130.2h0M289.7 91.8h0M288.7 135.8h0M287.3 121.8h0M288.0 130.6h0M287.3 124.5h0M293.6 134.0h0M282.1 121.9h0M291.5 117.5h0M284.3 118.5h0M283.0 112.4h0M288.9 121.1h0M291.5 110.9h0M290.3 131.5h0M286.4 103.2h0M286.6 94.8h0M289.0 134.0h0M291.0 114.3h0M284.3 101.0h0M292.7 104.7h0M284.6 121.7h0M286.1 110.5h0M289.3 118.4h0M286.0 130.7h0M288.1 127.6h0M283.6 102.9h0M291.6 114.7h0M289.0 122.7h0M284.9 109.7h0M292.1 102.4h0M287.9 107.9h0M284.3 122.9h0M283.0 125.9h0M286.8 119.6h0M283.4 102.6h0M290.4 124.7h0M283.6 116.9h0M290.0 126.3h0M293.6 117.7h0M282.8 131.6h0M289.9 106.2h0M292.7 82.4h0M282.0 136.5h0M290.1 138.0h0M289.0 117.1h0M283.0 123.1h0M290.0 118.8h0M289.7 121.9h0M286.9 113.5h0M290.2 116.8h0M287.3 94.5h0M287.0 106.7h0M291.1 120.9h0M285.5 106.4h0M292.9 136.7h0M287.0 109.1h0M291.9 109.1h0M291.1 125.2h0M283.5 112.0h0M292.3 125.8h0M289.6 114.1h0M288.0 125.2h0M287.8 103.3h0M289.7 121.6h0M285.8 127.0h0M286.0 132.4h0M284.9 132.3h0M292.0 115.3h0M286.4 123.8h0M284.2 98.7h0M287.4 100.4h0M282.7 115.4h0M288.7 105.2h0M289.5 88.1h0M290.6 100.7h0M289.8 108.8h0M289.9 127.2h0M285.8 122.3h0M281.7 124.1h0M292.0 113.3h0M282.5 104.8h0M286.8 106.8h0M287.6 133.8h0M293.0 115.4h0M282.4 120.5h0M290.5 115.4h0M283.0 131.6h0M290.5 120.6h0M285.0 124.5h0M286.7 117.6h0M282.8 127.9h0M284.2 147.1h0M286.6 88.0h0M291.6 102.6h0M287.4 110.5h0M291.8 124.4h0M290.9 124.4h0M290.5 120.9h0M283.9 99.8h0M281.6 103.6h0M293.5 124.9h0M289.0 130.9h0M287.3 119.4h0M290.2 133.3h0M283.6 131.3h0M293.0 117.8h0M291.3 109.4h0M283.4 120.8h0M290.0 120.2h0M289.4 112.0h0M290.9 122.6h0M284.5 119.4h0M282.1 118.4h0M288.2 98.4h0M292.0 123.2h0M293.2 128.6h0M283.1 123.7h0M289.8 125.1h0M290.4 108.8h0M292.4 114.7h0M290.6 120.7h0M288.0 117.6h0M287.0 112.0h0M284.1 105.3h0M285.3 112.4h0M281.9 81.5h0M286.4 122.9h0M281.9 103.8h0M281.3 111.6h0M283.4 112.3h0M292.9 92.7h0M291.9 111.0h0M289.5 111.7h0M287.2 124.1h0M287.1 112.4h0M287.5 135.4h0M287.5 121.3h0M283.8 113.5h0M287.2 109.1h0M287.5 96.0h0M286.9 91.5h0M288.4 130.0h0M289.7 118.5h0M289.1 115.2h0M287.2 106.4h0M286.9 111.6h0M291.3 119.3h0M283.6 128.7h0M282.9 84.6h0M282.9 122.4h0M283.8 127.7h0M281.7 100.7h0M287.8 128.4h0M291.4 93.9h0M285.3 120.7h0M289.1 115.6h0M290.5 118.2h0M285.3 120.7h0M289.1 135.6h0M287.8 108.0h0M291.5 107.2h0M287.6 117.5h0M286.9 139.9h0M281.6 109.3h0M287.0 88.8h0M284.2 107.0h0M288.4 122.6h0M288.9 122.5h0M286.5 128.9h0M293.2 105.2h0M291.7 128.2h0M291.5 130.6h0M286.2 124.5h0M284.5 117.5h0M289.7 107.3h0M287.2 132.3h0M282.9 124.5h0M283.1 128.7h0M281.5 117.8h0M291.6 136.2h0M285.0 105.3h0M284.4 118.5h0M286.8 115.4h0M282.9 112.1h0M284.8 119.3h0M292.8 108.7h0M282.4 140.8h0M284.7 113.7h0M282.0 101.5h0M287.0 112.6h0M290.0 106.5h0M284.9 100.7h0M289.2 102.9h0M292.2 128.4h0M286.2 114.6h0M292.5 114.4h0M293.2 133.0h0M285.7 107.2h0M282.2 113.4h0M282.2 123.5h0M283.3 122.4h0M281.6 117.4h0M290.8 109.4h0M291.0 111.4h0M292.0 119.1h0M282.1 104.8h0M284.9 132.4h0M287.3 122.7h0M287.3 96.4h0M287.8 109.0h0M285.4 130.3h0M284.2 123.1h0M283.6 131.5h0M287.9 108.1h0M282.7 113.8h0M286.1 121.6h0M290.5 125.9h0M287.4 128.3h0M289.7 115.2h0M289.2 136.7h0M284.8 129.3h0M287.6 132.2h0M293.4 90.8h0M289.0 123.8h0M292.1 139.5h0M283.7 115.7h0M287.1 132.9h0M288.3 112.9h0M291.1 123.4h0M285.3 136.9h0M292.4 108.6h0M281.8 105.9h0M291.1 128.8h0M281.7 139.3h0M289.6 130.3h0M291.4 132.7h0M283.5 112.8h0M288.0 124.4h0M285.1 111.7h0M286.3 122.7h0M293.1 95.0h0M285.5 116.1h0M283.1 116.8h0M283.8 119.3h0M281.3 96.7h0M284.3 104.0h0M289.2 114.4h0M290.0 112.4h0M288.2 105.2h0M292.6 115.0h0M288.3 120.0h0M288.4 100.3h0M286.7 129.8h0M285.4 117.3h0M283.8 110.1h0M281.8 125.6h0M287.0 135.4h0M291.3 130.6h0M282.4 107.0h0M282.0 115.9h0M292.6 95.3h0M291.4 94.7h0M289.8 104.3h0M290.3 122.5h0M291.0 124.9h0M293.5 88.2h0M287.5 137.8h0M282.8 128.0h0M282.9 128.0h0M289.2 103.8h0M293.0 124.2h0M285.5 107.0h0M293.3 121.6h0M285.1 111.4h0M292.8 138.5h0M288.2 98.6h0M291.0 98.9h0M290.6 110.5h0M287.3 126.6h0M284.6 113.1h0M292.8 118.9h0M289.5 132.2h0M290.9 131.1h0M290.8 108.3h0M282.4 116.2h0M283.6 140.3h0M284.4 110.6h0M287.9 111.9h0M283.1 123.7h0M281.4 116.6h0M293.1 123.7h0M283.8 109.6h0M282.6 131.3h0M284.1 126.8h0M289.0 99.7h0M281.6 100.7h0M293.3 129.9h0M292.1 107.7h0M282.4 113.1h0M283.7 101.7h0M287.8 123.7h0M292.6 118.7h0M284.4 121.9h0M293.3 94.8h0M293.3 123.5h0M292.7 100.6h0M287.5 99.0h0M288.4 113.1h0M283.4 120.2h0M286.2 118.2h0M290.1 117.0h0M284.4 139.9h0M289.8 126.0h0M288.8 125.1h0M292.6 109.1h0M292.3 117.4h0M293.2 122.8h0M282.5 98.8h0M289.4 84.2h0M289.4 139.4h0M283.0 113.7h0M292.4 109.4h0M283.3 118.9h0M293.4 140.0h0M281.9 133.8h0M282.2 105.5h0M288.8 133.9h0M290.3 139.7h0M288.0 126.3h0M289.7 109.7h0M286.8 117.1h0M291.2 132.2h0M284.1 130.4h0M282.3 133.1h0M284.2 115.0h0M288.7 121.0h0M287.9 105.4h0M292.2 99.3h0M282.7 89.6h0M288.7 133.5h0M292.4 124.3h0M282.1 111.9h0M287.6 110.5h0M283.5 144.3h0M288.3 100.9h0M282.4 123.1h0M291.1 131.1h0M289.7 118.2h0M284.9 119.9h0M287.8 117.9h0M283.3 134.2h0M283.5 119.9h0M283.2 114.9h0M290.6 105.8h0M287.5 116.8h0M293.1 109.7h0M291.9 121.4h0M288.4 98.5h0M286.7 120.1h0M283.0 145.7h0M289.9 114.7h0M282.7 100.7h0M289.6 104.0h0M291.6 127.6h0M285.7 118.9h0M286.5 115.9h0M283.7 116.5h0M284.4 112.6h0M286.5 124.4h0M291.4 145.8h0M292.0 125.9h0M288.7 125.8h0M292.7 110.0h0M285.4 108.5h0M288.3 118.8h0M283.8 98.9h0M291.6 98.4h0M292.8 110.5h0M289.5 119.8h0M283.4 115.5h0M290.6 105.6h0M292.8 134.9h0M293.3 120.2h0M288.3 102.6h0M283.3 132.0h0M286.1 90.0h0M286.7 123.3h0M289.1 119.7h0M292.9 105.3h0M283.0 104.1h0M283.7 126.0h0M291.0 119.2h0M292.3 124.7h0M293.6 122.8h0M289.1 112.4h0M287.1 111.9h0M285.9 103.3h0M282.6 110.9h0M289.5 108.4h0M289.0 123.5h0M287.2 121.6h0M281.6 127.7h0M283.6 106.1h0M292.6 115.7h0M287.3 123.5h0M290.3 123.4h0M281.5 91.4h0M281.6 96.9h0M287.6 113.9h0M293.0 109.1h0M287.9 143.7h0M282.9 121.2h0M282.5 109.1h0M282.2 111.4h0M286.9 112.8h0M284.4 134.6h0M284.7 131.7h0M287.9 126.6h0M291.1 116.6h0M281.3 117.0h0M292.1 110.0h0M285.3 119.0h0M284.8 131.9h0M282.9 114.9h0M285.3 118.8h0M291.5 110.7h0M283.5 119.0h0M289.1 106.0h0M284.2 127.3h0M282.7 129.0h0M290.1 109.6h0M281.5 103.1h0M284.2 103.2h0M286.0 104.0h0M287.9 98.6h0M284.8 110.9h0M289.5 87.4h0M289.4 132.4h0M282.5 111.8h0M293.2 107.3h0M286.5 133.2h0M287.0 129.6h0M282.5 112.8h0M288.4 121.7h0M288.9 131.0h0M286.9 132.1h0M292.9 130.8h0M292.1 110.4h0M290.9 118.8h0M282.7 116.8h0M283.3 110.3h0M293.4 139.9h0M283.4 112.3h0M291.7 128.8h0M284.5 107.9h0M290.5 136.8h0M290.8 102.7h0M286.0 108.8h0M286.9 130.0h0M288.2 117.6h0M286.3 115.2h0M285.6 112.5h0M290.8 99.9h0M289.0 99.3h0M282.2 107.5h0M293.4 122.3h0M286.5 134.0h0M286.0 119.2h0M288.2 112.0h0M287.0 111.6h0M291.0 132.8h0M288.3 120.8h0M283.6 123.4h0M282.2 107.8h0M286.3 117.3h0M292.3 140.0h0M287.5 120.7h0M291.6 136.1h0M288.8 114.8h0M286.9 105.1h0M292.0 113.1h0M284.8 130.2h0M288.9 125.8h0M293.2 131.7h0M289.0 117.0h0M293.1 110.0h0M287.1 111.0h0M288.7 120.6h0M281.7 120.3h0M284.2 120.4h0M283.9 133.5h0M288.0 141.6h0M292.9 126.4h0M293.5 104.7h0" stroke="#3f62a0" stroke-opacity="0.55" stroke-width="1.2" stroke-linecap="round" fill="none"/>
<path d="M333.5,70.0 L333.5,70.0 L332.9,72.0 L332.8,73.9 L332.7,75.9 L332.6,77.8 L332.5,79.8 L332.3,81.7 L332.1,83.7 L331.9,85.6 L331.6,87.6 L331.4,89.5 L331.0,91.5 L330.7,93.5 L330.2,95.4 L329.7,97.4 L329.2,99.3 L328.6,101.3 L327.9,103.2 L327.1,105.2 L326.3,107.1 L325.3,109.1 L324.3,111.1 L323.3,113.0 L322.2,115.0 L321.1,116.9 L320.0,118.9 L319.1,120.8 L318.5,122.8 L318.1,124.7 L318.0,126.7 L318.5,128.6 L319.6,130.6 L321.0,132.6 L322.7,134.5 L324.5,136.5 L326.3,138.4 L328.0,140.4 L329.4,142.3 L330.6,144.3 L331.5,146.2 L333.5,148.2 L333.5,148.2 Z" fill="#db8233" stroke="#111" stroke-width="0.8"/>
<line x1="333.5" y1="70.0" x2="333.5" y2="148.2" stroke="#111" stroke-width="1.1"/>
<path d="M345.8 87.5h0M335.9 123.8h0M336.2 129.1h0M336.6 130.3h0M336.9 100.8h0M347.4 134.4h0M343.1 95.2h0M343.8 131.9h0M344.6 93.0h0M343.8 113.5h0M336.2 114.2h0M344.1 118.9h0M344.4 135.1h0M344.8 96.6h0M346.5 123.3h0M346.0 120.4h0M336.1 132.7h0M345.7 113.5h0M336.1 122.4h0M338.6 128.5h0M337.3 116.5h0M339.8 110.9h0M338.5 104.8h0M347.1 117.4h0M340.8 108.1h0M343.0 114.2h0M347.4 128.4h0M343.8 109.4h0M338.4 99.0h0M343.1 121.2h0M341.6 144.5h0M343.4 128.5h0M344.0 130.9h0M346.1 104.3h0M339.5 136.1h0M346.5 121.8h0M341.4 110.0h0M338.6 107.1h0M336.6 129.4h0M347.3 109.5h0M337.2 116.5h0M346.7 120.9h0M337.9 131.7h0M336.9 129.1h0M346.0 113.6h0M339.3 100.1h0M339.1 135.8h0M338.4 131.9h0M337.7 127.2h0M336.1 129.0h0M336.5 114.4h0M338.5 135.8h0M339.2 120.5h0M343.7 128.0h0M339.5 131.8h0M341.4 123.8h0M339.4 113.7h0M343.0 108.9h0M346.1 131.1h0M347.1 128.1h0M339.4 125.9h0M344.9 130.7h0M347.5 126.1h0M342.6 113.6h0M345.2 121.7h0M343.8 123.0h0M344.7 118.6h0M342.6 128.4h0M346.4 128.0h0M346.5 138.0h0M346.5 127.8h0M346.0 117.2h0M344.1 135.3h0M339.5 99.0h0M345.8 131.4h0M345.8 108.7h0M338.2 128.3h0M340.1 109.6h0M336.3 129.1h0M339.1 115.7h0M346.2 118.5h0M347.1 108.6h0M345.0 118.2h0M347.0 127.3h0M346.7 121.2h0M337.5 113.5h0M347.5 144.8h0M340.4 106.5h0M346.4 134.3h0M344.5 118.7h0M344.2 116.5h0M335.5 113.8h0M335.3 119.9h0M337.9 105.1h0M341.2 104.0h0M338.8 107.0h0M336.8 122.4h0M338.5 129.4h0M339.5 126.2h0M345.5 123.5h0M346.0 122.7h0M346.9 112.8h0M345.4 127.1h0M336.6 128.3h0M336.3 135.7h0M344.4 129.0h0M342.7 94.5h0M340.3 108.2h0M344.9 131.4h0M342.3 132.2h0M338.6 106.6h0M344.7 115.1h0M336.9 122.4h0M344.3 122.6h0M346.3 118.4h0M337.5 135.1h0M343.9 134.0h0M339.9 129.0h0M343.4 118.8h0M338.8 134.8h0M345.1 134.1h0M339.1 125.7h0M343.7 111.5h0M342.4 112.8h0M340.5 145.5h0M335.5 93.5h0M342.6 108.4h0M342.5 109.3h0M339.8 118.8h0M342.5 92.1h0M345.3 122.7h0M341.3 100.5h0M345.9 106.6h0M344.0 96.6h0M338.4 118.7h0M346.3 129.6h0M346.1 112.6h0M335.2 111.5h0M341.6 128.4h0M343.0 116.0h0M344.2 131.5h0M337.1 122.8h0M336.4 124.2h0M341.3 139.6h0M345.6 120.5h0M346.6 105.7h0M341.6 122.5h0M343.3 107.0h0M340.2 118.7h0M342.0 124.2h0M341.4 111.6h0M346.8 112.3h0M337.3 111.6h0M344.2 131.9h0M341.8 110.5h0M341.4 120.0h0M337.8 116.8h0M346.0 87.2h0M347.5 119.8h0M343.9 130.5h0M345.0 122.5h0M345.0 115.0h0M335.7 127.0h0M336.9 112.5h0M346.7 102.8h0M344.4 125.1h0M339.8 119.3h0M337.3 118.4h0M335.8 108.0h0M347.2 119.1h0M346.3 134.9h0M343.1 100.1h0M342.0 119.8h0M341.5 105.4h0M339.1 122.4h0M338.7 98.1h0M344.9 122.4h0M335.4 120.0h0M346.5 112.8h0M335.8 140.4h0M347.2 93.5h0M342.7 89.2h0M336.2 125.3h0M339.1 139.3h0M343.1 107.4h0M336.3 117.4h0M344.8 126.8h0M338.2 112.3h0M337.5 97.2h0M339.4 125.7h0M338.1 124.1h0M335.9 119.6h0M338.9 120.2h0M344.4 129.9h0M347.3 128.2h0M344.5 112.7h0M345.5 93.0h0M336.2 124.4h0M342.1 119.6h0M340.3 137.3h0M342.5 105.9h0M345.0 119.8h0M338.1 112.4h0M340.5 111.2h0M335.4 103.4h0M343.1 124.8h0M337.7 124.1h0M340.6 127.3h0M341.2 131.4h0M340.9 123.4h0M339.3 110.5h0M346.7 100.0h0M347.5 85.3h0M341.1 121.0h0M335.6 106.0h0M343.0 121.3h0M345.6 89.9h0M344.3 106.6h0M346.0 104.4h0M338.1 122.9h0M344.2 138.5h0M346.1 123.8h0M343.9 130.4h0M335.3 117.7h0M342.2 104.6h0M337.8 129.8h0M337.9 141.6h0M335.4 116.1h0M336.0 128.3h0M346.3 131.5h0M337.7 111.7h0M344.4 131.8h0M335.4 113.9h0M337.0 101.4h0M338.9 107.7h0M339.7 107.9h0M343.3 135.4h0M339.8 144.7h0M337.7 101.7h0M346.4 105.3h0M339.6 99.5h0M347.5 107.5h0M339.7 126.5h0M337.5 86.7h0M338.7 127.6h0M339.2 111.5h0M343.1 119.3h0M341.8 115.9h0M337.4 105.2h0M337.3 116.6h0M346.1 78.7h0M342.6 143.0h0M335.7 136.8h0M336.5 113.5h0M335.2 131.5h0M341.6 120.8h0M342.6 138.4h0M338.1 110.2h0M346.6 133.2h0M342.5 126.1h0M340.1 111.9h0M336.6 111.3h0M344.8 128.2h0M344.1 122.3h0M342.6 100.4h0M338.3 132.5h0M339.2 112.1h0M335.9 113.6h0M339.6 125.4h0M337.5 126.7h0M335.2 116.8h0M337.3 105.3h0M343.2 107.3h0M336.3 128.7h0M344.2 100.0h0M344.8 116.0h0M340.5 137.6h0M345.4 127.5h0M339.5 107.6h0M338.8 128.5h0M343.3 120.9h0M339.7 108.7h0M337.2 120.1h0M341.4 111.7h0M339.1 108.4h0M347.2 123.1h0M340.4 104.6h0M346.2 139.4h0M341.4 121.6h0M337.6 102.4h0M338.2 116.6h0M346.9 117.2h0M339.1 129.7h0M342.3 109.1h0M342.7 107.5h0M339.6 135.6h0M338.4 113.5h0M341.5 122.5h0M347.3 104.2h0M345.1 110.7h0M342.5 125.4h0M340.8 130.3h0M337.3 111.2h0M339.2 102.7h0M342.6 126.2h0M344.7 126.9h0M338.6 129.2h0M339.0 121.4h0M337.8 122.2h0M346.2 136.0h0M336.9 142.0h0M338.7 106.1h0M342.6 109.3h0M340.7 125.2h0M345.6 129.5h0M344.7 101.1h0M344.0 117.0h0M344.0 101.3h0M340.5 145.6h0M340.1 127.0h0M338.1 115.2h0M339.4 129.0h0M344.3 114.3h0M341.5 92.6h0M347.3 130.5h0M345.0 138.5h0M346.0 121.8h0M337.1 137.0h0M337.9 134.7h0M336.7 109.7h0M339.7 108.8h0M344.2 107.6h0M338.5 102.4h0M342.7 105.0h0M346.0 107.2h0M338.4 117.3h0M341.6 125.5h0M339.9 123.5h0M343.6 108.7h0M336.2 101.7h0M341.3 132.3h0M336.8 113.8h0M339.2 124.2h0M343.9 116.0h0M335.5 135.5h0M344.4 114.3h0M345.7 117.5h0M335.9 120.4h0M339.7 93.3h0M346.9 114.2h0M335.7 128.5h0M338.1 110.8h0M347.4 102.6h0M347.2 132.2h0M340.4 133.7h0M346.4 135.0h0M336.5 111.4h0M344.1 115.5h0M342.7 84.4h0M346.7 108.8h0M335.9 122.8h0M336.8 131.1h0M341.9 116.5h0M340.6 101.3h0M342.6 126.5h0M338.6 112.2h0M346.8 122.7h0M346.9 107.2h0M337.9 125.5h0M336.0 138.2h0M339.6 130.0h0M339.6 118.1h0M335.6 116.1h0M341.9 109.9h0M340.9 101.2h0M337.6 93.4h0M341.0 114.9h0M346.3 93.3h0M345.9 108.4h0M335.9 114.2h0M339.7 128.7h0M345.5 119.7h0M338.6 130.9h0M341.1 91.0h0M339.0 93.8h0M344.8 109.7h0M345.6 109.4h0M339.1 125.6h0M346.0 118.0h0M336.9 126.5h0M336.2 101.4h0M336.4 111.2h0M345.4 111.3h0M341.2 98.1h0M346.2 103.0h0M345.2 131.9h0M338.1 116.6h0M344.0 119.1h0M340.2 133.9h0M338.7 107.0h0M342.0 119.1h0M342.8 132.0h0M339.8 116.5h0M341.5 124.6h0M340.7 116.4h0M341.7 113.4h0M339.7 115.0h0M342.2 138.1h0M339.6 120.7h0M338.6 123.5h0M337.9 114.6h0M344.2 120.8h0M336.9 117.2h0M343.2 130.1h0M336.0 122.4h0M341.9 104.9h0M346.5 137.8h0M346.2 125.7h0M341.8 121.9h0M345.0 124.3h0M344.4 124.6h0M346.9 123.7h0M346.6 137.0h0M342.9 118.9h0M336.4 138.6h0M344.5 100.4h0M337.6 142.0h0M335.7 118.7h0M341.2 126.4h0M338.6 103.4h0M339.5 117.0h0M335.8 107.3h0M338.5 126.7h0M344.3 111.2h0M345.9 125.7h0M341.8 106.7h0M339.6 125.8h0M347.2 106.8h0M346.4 122.3h0M346.5 119.8h0M335.5 98.0h0M336.9 123.8h0M343.7 127.0h0M344.2 123.5h0M345.3 96.3h0M343.8 129.6h0M342.7 133.3h0M337.5 122.7h0M336.7 116.8h0M347.3 128.4h0M342.3 105.5h0M342.8 125.0h0M341.1 111.2h0M341.4 127.7h0M343.5 129.6h0M338.0 105.4h0M346.3 111.0h0M335.9 116.8h0M338.4 125.0h0M341.4 120.2h0M338.4 122.0h0M340.0 89.5h0M337.9 96.1h0M336.2 111.8h0M336.6 101.6h0M337.9 122.0h0M346.0 90.5h0M347.1 100.2h0M343.0 125.6h0M347.5 129.8h0M344.1 125.3h0M346.8 118.6h0M342.7 125.1h0M344.9 125.5h0M335.3 126.6h0M341.2 126.8h0M339.3 126.4h0M339.4 126.7h0M342.0 133.0h0M347.3 111.4h0M342.7 124.6h0M337.2 104.2h0M342.0 98.9h0M340.9 107.7h0M343.2 112.5h0M346.2 99.4h0M339.3 132.0h0M339.8 102.8h0M343.7 113.1h0M336.0 124.2h0M341.1 120.7h0M342.8 95.3h0M345.1 133.9h0M343.1 113.2h0M342.2 99.8h0M346.2 139.1h0M342.5 114.5h0M342.5 129.4h0M343.5 119.6h0M341.0 131.3h0M344.2 135.8h0M336.5 123.5h0M347.0 107.1h0M337.9 105.1h0M335.8 132.4h0M343.0 124.8h0M339.0 114.0h0M342.5 111.7h0M345.8 117.0h0M346.9 121.3h0M336.1 113.1h0M342.5 105.7h0M338.3 103.9h0M337.6 129.2h0M346.1 116.5h0M338.0 139.7h0M346.8 105.0h0M341.5 125.0h0M345.4 77.7h0M344.5 122.7h0M341.9 122.1h0M335.9 135.2h0M336.5 138.4h0M344.5 105.2h0M346.8 116.0h0M336.3 132.8h0M343.2 110.1h0M341.5 137.8h0M345.4 115.3h0M336.5 110.0h0M347.4 109.2h0M341.2 120.7h0M340.0 128.0h0M336.1 102.2h0M339.4 113.4h0M337.4 106.0h0M337.3 132.0h0M336.0 108.7h0M337.2 123.0h0M347.3 106.9h0M342.8 107.3h0M335.7 121.6h0M347.3 141.6h0M344.7 130.4h0M344.7 134.0h0M342.5 128.2h0M338.0 128.2h0M346.1 139.6h0M341.7 120.1h0M340.7 116.2h0M336.6 111.2h0M346.4 115.9h0M336.1 118.5h0M343.1 117.7h0M347.3 123.9h0M342.3 92.9h0M345.5 109.6h0M339.3 137.6h0M335.7 104.1h0M345.8 113.1h0M341.5 126.3h0M343.1 118.5h0M344.7 138.6h0M345.5 94.9h0M336.8 133.1h0M345.8 141.2h0M340.7 107.1h0M336.4 113.7h0M335.4 105.9h0M339.5 102.8h0M338.5 125.7h0M340.5 108.9h0M341.5 119.5h0M336.8 105.1h0M339.3 118.3h0M341.5 115.9h0M340.3 117.1h0M335.5 122.1h0M347.2 145.5h0M339.0 102.4h0M341.2 102.4h0M344.2 114.0h0M339.4 128.7h0M338.4 111.1h0M345.8 125.6h0M337.5 115.0h0M345.0 110.4h0M342.8 138.5h0M343.5 138.1h0M335.3 130.4h0M336.9 98.3h0M341.8 119.8h0M347.1 124.5h0M345.9 106.3h0M345.6 117.3h0M340.3 143.5h0M341.9 107.0h0M346.8 126.8h0M339.8 114.9h0M335.4 114.0h0M338.9 117.3h0M335.3 134.2h0M338.0 133.5h0M337.7 135.5h0M344.7 104.7h0M346.6 109.0h0M346.8 129.7h0M345.5 98.7h0M340.1 116.0h0M336.7 112.3h0M337.4 112.6h0M338.4 128.7h0M347.1 100.9h0M342.3 126.7h0M343.1 122.4h0M347.6 77.9h0M346.3 139.0h0M340.4 103.6h0M343.3 100.8h0M344.4 115.0h0M336.3 129.4h0M335.8 130.3h0M344.5 93.1h0M341.9 105.5h0M335.8 122.4h0M342.5 135.2h0M335.9 129.1h0M343.7 126.5h0M345.2 126.2h0M338.6 131.3h0M346.8 119.1h0M340.7 130.2h0M344.1 104.4h0M340.5 119.3h0M340.8 103.1h0M338.0 124.3h0M342.9 135.2h0M347.3 123.5h0M343.1 117.5h0M340.7 104.9h0M338.9 95.3h0M335.8 104.8h0M337.2 122.0h0M339.4 107.8h0M343.2 102.0h0M340.4 117.9h0M347.4 114.3h0M345.7 129.7h0M346.0 118.2h0M345.3 102.5h0M339.9 122.7h0M343.1 126.1h0M345.8 102.3h0M344.2 114.0h0M343.6 105.2h0M344.3 105.3h0M344.9 119.6h0M337.3 109.3h0M346.9 117.8h0M343.7 124.1h0M336.9 126.3h0M347.1 114.1h0M337.3 134.7h0M339.1 111.6h0M341.1 123.2h0M340.7 127.1h0M339.8 88.4h0M338.9 98.8h0M345.2 134.6h0M341.4 129.2h0M341.3 124.7h0M342.2 109.4h0M346.0 138.2h0M344.7 108.4h0M335.6 106.0h0M337.9 134.6h0M346.8 133.2h0M347.1 114.4h0M345.2 133.4h0M338.0 121.4h0M343.5 112.2h0M345.8 90.9h0M344.9 124.2h0M342.4 110.4h0M342.1 130.6h0M340.8 124.1h0M346.8 109.2h0M337.5 88.7h0M347.4 113.8h0M340.2 104.9h0M338.2 120.4h0M337.3 129.2h0M337.9 115.0h0M346.4 127.9h0M344.8 113.8h0M336.9 134.6h0M336.2 132.1h0M341.4 99.5h0M337.1 128.1h0M339.0 129.9h0M337.2 111.2h0M337.8 120.7h0M342.1 144.3h0M342.3 120.5h0M343.1 123.7h0M341.5 129.5h0M336.6 117.9h0M345.0 126.7h0M338.3 110.4h0M342.2 124.0h0M339.5 116.0h0M344.5 118.5h0M337.1 129.2h0M340.8 125.0h0M346.3 104.7h0M338.5 117.3h0M343.9 104.6h0M346.2 102.6h0M341.5 120.9h0M345.2 124.5h0M345.9 128.9h0M346.7 125.1h0M346.3 120.1h0M337.6 120.8h0M337.6 115.5h0M342.3 128.4h0M346.5 119.5h0M337.1 101.3h0M335.8 115.5h0M342.7 111.2h0M346.6 124.4h0M337.0 131.0h0M343.6 112.8h0M335.8 101.5h0M338.0 121.8h0M346.2 104.8h0M335.6 128.1h0M338.3 134.6h0M340.2 120.3h0M341.5 126.1h0M347.0 105.9h0M340.3 123.1h0M346.4 123.7h0M340.9 112.7h0M347.1 133.3h0M343.0 127.9h0M338.0 122.4h0M344.2 142.5h0M343.6 107.4h0M337.5 136.4h0M344.6 115.6h0M336.5 106.2h0M347.5 97.2h0M338.6 112.6h0M337.4 118.8h0M340.2 121.9h0M343.2 135.4h0M347.0 136.1h0M347.5 92.2h0M338.3 95.0h0M337.8 146.5h0M342.8 134.0h0M344.0 114.7h0M344.7 114.2h0M340.9 131.1h0M345.3 137.3h0M341.1 124.4h0M343.9 124.4h0M336.6 119.6h0M342.2 98.4h0M346.7 94.3h0M338.3 124.2h0M339.5 137.2h0M347.3 111.1h0M340.2 132.0h0M335.9 103.3h0M338.3 122.9h0M344.4 122.3h0M346.7 117.0h0M337.2 105.6h0M346.6 105.6h0M343.5 91.5h0M338.7 101.7h0M338.3 103.8h0M342.3 138.8h0M337.0 122.9h0M336.2 137.1h0M338.5 99.5h0M343.4 128.4h0M346.4 109.9h0M341.8 118.1h0M337.4 116.5h0M342.3 126.3h0M342.7 116.9h0M345.9 120.3h0M335.5 96.8h0M340.8 100.5h0M346.1 124.5h0M339.8 120.9h0M335.6 123.9h0" stroke="#e58a34" stroke-opacity="0.55" stroke-width="1.2" stroke-linecap="round" fill="none"/>
<path d="M387.5,45.6 L387.5,45.6 L387.2,48.0 L387.1,50.4 L387.1,52.8 L387.0,55.2 L386.9,57.7 L386.8,60.1 L386.7,62.5 L386.5,64.9 L386.3,67.3 L386.1,69.7 L385.9,72.1 L385.6,74.5 L385.3,76.9 L384.9,79.3 L384.4,81.8 L383.9,84.2 L383.3,86.6 L382.6,89.0 L381.8,91.4 L380.9,93.8 L379.9,96.2 L378.8,98.6 L377.6,101.0 L376.4,103.4 L375.2,105.8 L374.0,108.3 L373.1,110.7 L372.4,113.1 L372.2,115.5 L372.6,117.9 L373.6,120.3 L375.2,122.7 L377.1,125.1 L379.1,127.5 L381.0,129.9 L382.8,132.4 L384.2,134.8 L385.3,137.2 L386.1,139.6 L387.5,142.0 L387.5,142.0 Z" fill="#67aa60" stroke="#111" stroke-width="0.8"/>
<line x1="387.5" y1="45.6" x2="387.5" y2="142.0" stroke="#111" stroke-width="1.1"/>
<path d="M401.5 104.9h0M400.6 107.3h0M391.2 95.5h0M394.4 108.1h0M397.4 110.5h0M399.7 115.9h0M400.9 118.1h0M399.9 109.2h0M392.9 101.5h0M390.8 103.2h0M400.2 112.6h0M399.7 110.8h0M400.4 78.0h0M399.7 102.5h0M400.1 98.6h0M400.9 90.1h0M390.9 99.3h0M397.5 104.6h0M392.4 126.9h0M392.4 89.0h0M394.9 114.2h0M401.6 118.7h0M396.4 127.5h0M392.5 100.9h0M392.1 123.5h0M396.2 88.0h0M389.5 91.1h0M396.1 92.5h0M393.0 118.1h0M399.6 78.4h0M401.4 103.9h0M392.5 115.4h0M395.2 111.5h0M397.0 111.5h0M397.8 117.4h0M401.2 121.4h0M395.8 112.9h0M401.6 106.4h0M397.4 117.2h0M394.9 88.4h0M393.5 84.7h0M392.2 122.6h0M401.4 114.9h0M390.0 117.6h0M397.0 106.3h0M400.7 118.1h0M399.2 115.9h0M399.5 112.5h0M399.5 94.0h0M397.0 113.0h0M391.3 101.4h0M391.9 105.6h0M394.8 97.3h0M391.5 94.5h0M394.5 140.5h0M400.5 107.8h0M390.4 105.3h0M399.9 107.1h0M399.9 121.5h0M400.2 112.3h0M389.8 130.5h0M397.2 122.7h0M399.2 112.3h0M398.1 105.3h0M399.8 101.5h0M393.7 98.1h0M401.4 101.8h0M397.1 120.9h0M395.2 86.7h0M396.3 83.3h0M394.8 107.6h0M398.7 115.6h0M399.6 127.8h0M398.8 120.4h0M390.4 110.8h0M400.8 107.9h0M401.0 109.7h0M392.4 95.8h0M393.7 112.1h0M389.5 91.7h0M392.4 123.9h0M395.1 79.0h0M394.0 110.1h0M396.3 116.2h0M394.8 111.4h0M394.2 122.0h0M396.8 122.9h0M393.4 94.3h0M394.1 103.4h0M400.7 114.3h0M399.9 113.0h0M399.8 116.5h0M401.2 106.4h0M397.3 100.3h0M395.6 121.6h0M393.0 111.5h0M396.3 107.2h0M390.2 118.1h0M398.0 124.3h0M396.3 119.0h0M401.0 113.3h0M398.5 112.5h0M391.4 94.7h0M391.0 118.6h0M397.6 106.4h0M391.0 113.3h0M394.2 110.7h0M397.2 104.7h0M394.9 87.8h0M393.5 95.4h0M390.1 97.0h0M396.9 103.1h0M396.0 92.2h0M390.4 112.1h0M398.0 104.4h0M390.3 118.8h0M401.5 98.5h0M392.6 93.3h0M394.9 103.5h0M393.6 91.7h0M400.5 116.6h0M399.6 105.8h0M400.9 137.0h0M401.6 105.5h0M392.2 107.3h0M396.4 109.1h0M398.8 104.8h0M394.4 119.2h0M394.4 102.1h0M400.3 120.4h0M395.6 105.6h0M399.9 99.1h0M389.4 120.7h0M392.5 107.9h0M400.0 121.2h0M392.1 105.5h0M390.0 101.7h0M400.3 123.0h0M398.5 121.8h0M393.5 101.5h0M389.9 112.1h0M393.9 116.4h0M394.1 129.4h0M391.3 102.6h0M396.8 123.0h0M396.6 85.3h0M390.0 91.7h0M400.0 101.5h0M390.0 114.4h0M400.1 110.7h0M389.7 109.2h0M399.2 97.5h0M394.0 88.6h0M396.0 102.3h0M398.8 102.2h0M395.6 93.4h0M391.8 111.1h0M390.5 101.0h0M398.3 106.7h0M401.5 110.0h0" stroke="#7cc478" stroke-opacity="0.55" stroke-width="1.2" stroke-linecap="round" fill="none"/>
<path d="M287.4,118.0 L314.0,120.6 L341.4,122.3 L368.0,116.8 L395.5,112.3" fill="none" stroke="#000" stroke-width="2.2" stroke-linecap="round" stroke-dasharray="0 5.6"/>
<line x1="287.4" y1="87.0" x2="287.4" y2="111.4" stroke="#000" stroke-width="1.1"/>
<line x1="287.4" y1="127.3" x2="287.4" y2="147.1" stroke="#000" stroke-width="1.1"/>
<line x1="285.0" y1="87.0" x2="289.8" y2="87.0" stroke="#000" stroke-width="1.1"/>
<line x1="285.0" y1="147.1" x2="289.8" y2="147.1" stroke="#000" stroke-width="1.1"/>
<rect x="283.3" y="111.4" width="8.2" height="15.9" fill="none" stroke="#000" stroke-width="1.1"/>
<circle cx="287.4" cy="118.0" r="3.0" fill="#000"/>
<path d="M287.4,45.3L289.0,47.3L287.4,49.3L285.8,47.3ZM287.4,58.6L289.0,60.6L287.4,62.6L285.8,60.6ZM287.4,60.5L289.0,62.5L287.4,64.5L285.8,62.5ZM287.4,62.4L289.0,64.4L287.4,66.4L285.8,64.4ZM287.4,64.3L289.0,66.3L287.4,68.3L285.8,66.3ZM287.4,66.2L289.0,68.2L287.4,70.2L285.8,68.2ZM287.4,68.1L289.0,70.1L287.4,72.1L285.8,70.1ZM287.4,70.0L289.0,72.0L287.4,74.0L285.8,72.0ZM287.4,71.9L289.0,73.9L287.4,75.9L285.8,73.9ZM287.4,73.8L289.0,75.8L287.4,77.8L285.8,75.8ZM287.4,75.7L289.0,77.7L287.4,79.7L285.8,77.7ZM287.4,77.6L289.0,79.6L287.4,81.6L285.8,79.6ZM287.4,79.5L289.0,81.5L287.4,83.5L285.8,81.5ZM287.4,81.4L289.0,83.4L287.4,85.4L285.8,83.4ZM287.4,83.3L289.0,85.3L287.4,87.3L285.8,85.3Z" fill="#000"/>
<line x1="341.4" y1="89.4" x2="341.4" y2="114.3" stroke="#000" stroke-width="1.1"/>
<line x1="341.4" y1="131.2" x2="341.4" y2="148.2" stroke="#000" stroke-width="1.1"/>
<line x1="339.0" y1="89.4" x2="343.8" y2="89.4" stroke="#000" stroke-width="1.1"/>
<line x1="339.0" y1="148.2" x2="343.8" y2="148.2" stroke="#000" stroke-width="1.1"/>
<rect x="337.3" y="114.3" width="8.2" height="16.9" fill="none" stroke="#000" stroke-width="1.1"/>
<circle cx="341.4" cy="122.3" r="3.0" fill="#000"/>
<path d="M341.4,68.5L343.0,70.5L341.4,72.5L339.8,70.5ZM341.4,72.0L343.0,74.0L341.4,76.0L339.8,74.0ZM341.4,75.0L343.0,77.0L341.4,79.0L339.8,77.0ZM341.4,78.0L343.0,80.0L341.4,82.0L339.8,80.0ZM341.4,81.0L343.0,83.0L341.4,85.0L339.8,83.0ZM341.4,84.0L343.0,86.0L341.4,88.0L339.8,86.0Z" fill="#000"/>
<line x1="395.5" y1="73.7" x2="395.5" y2="103.5" stroke="#000" stroke-width="1.1"/>
<line x1="395.5" y1="123.6" x2="395.5" y2="141.6" stroke="#000" stroke-width="1.1"/>
<line x1="393.1" y1="73.7" x2="397.9" y2="73.7" stroke="#000" stroke-width="1.1"/>
<line x1="393.1" y1="141.6" x2="397.9" y2="141.6" stroke="#000" stroke-width="1.1"/>
<rect x="391.4" y="103.5" width="8.2" height="20.1" fill="none" stroke="#000" stroke-width="1.1"/>
<circle cx="395.5" cy="112.3" r="3.0" fill="#000"/>
<path d="M395.5,43.6L397.1,45.6L395.5,47.6L393.9,45.6ZM395.5,63.7L397.1,65.7L395.5,67.7L393.9,65.7ZM395.5,67.0L397.1,69.0L395.5,71.0L393.9,69.0Z" fill="#000"/>
<text transform="translate(3.2,187.9) scale(0.9,1)" font-size="12.2" font-weight="bold" fill="#000">C)</text>
<text x="64.0" y="192.7" font-size="6.55" font-weight="bold" text-anchor="end" fill="#111">frontal-frontal</text>
<rect x="68.3" y="186.9" width="75.8" height="3.1" fill="#1f2339"/>
<rect x="68.3" y="190.6" width="108.9" height="3.4" fill="#99c3c0"/>
<text x="64.0" y="202.4" font-size="6.55" font-weight="bold" text-anchor="end" fill="#111">frontal-temporal</text>
<rect x="68.3" y="196.6" width="51.7" height="3.1" fill="#1f2339"/>
<rect x="68.3" y="200.3" width="33.6" height="3.4" fill="#99c3c0"/>
<text x="64.0" y="212.0" font-size="6.55" font-weight="bold" text-anchor="end" fill="#111">frontal-parietal</text>
<rect x="68.3" y="206.2" width="80.4" height="3.1" fill="#1f2339"/>
<rect x="68.3" y="209.9" width="74.9" height="3.4" fill="#99c3c0"/>
<text x="64.0" y="221.7" font-size="6.55" font-weight="bold" text-anchor="end" fill="#111">frontal-occipital</text>
<rect x="68.3" y="215.9" width="56.6" height="3.1" fill="#1f2339"/>
<rect x="68.3" y="219.6" width="14.7" height="3.4" fill="#99c3c0"/>
<text x="64.0" y="231.3" font-size="6.55" font-weight="bold" text-anchor="end" fill="#111">frontal-insular</text>
<rect x="68.3" y="225.5" width="13.7" height="3.1" fill="#1f2339"/>
<rect x="68.3" y="229.2" width="15.6" height="3.4" fill="#99c3c0"/>
<text x="64.0" y="241.0" font-size="6.55" font-weight="bold" text-anchor="end" fill="#111">temporal-temporal</text>
<rect x="68.3" y="235.2" width="18.6" height="3.1" fill="#1f2339"/>
<rect x="68.3" y="238.9" width="34.5" height="3.4" fill="#99c3c0"/>
<text x="64.0" y="250.7" font-size="6.55" font-weight="bold" text-anchor="end" fill="#111">temporal-parietal</text>
<rect x="68.3" y="244.9" width="65.7" height="3.1" fill="#1f2339"/>
<rect x="68.3" y="248.6" width="52.0" height="3.4" fill="#99c3c0"/>
<text x="64.0" y="260.3" font-size="6.55" font-weight="bold" text-anchor="end" fill="#111">temporal-occipital</text>
<rect x="68.3" y="254.5" width="27.7" height="3.1" fill="#1f2339"/>
<rect x="68.3" y="258.2" width="29.3" height="3.4" fill="#99c3c0"/>
<text x="64.0" y="270.0" font-size="6.55" font-weight="bold" text-anchor="end" fill="#111">temporal-insular</text>
<rect x="68.3" y="264.2" width="9.1" height="3.1" fill="#1f2339"/>
<rect x="68.3" y="267.9" width="11.0" height="3.4" fill="#99c3c0"/>
<text x="64.0" y="279.6" font-size="6.55" font-weight="bold" text-anchor="end" fill="#111">parietal-parietal</text>
<rect x="68.3" y="273.8" width="23.2" height="3.1" fill="#1f2339"/>
<rect x="68.3" y="277.5" width="63.6" height="3.4" fill="#99c3c0"/>
<text x="64.0" y="289.3" font-size="6.55" font-weight="bold" text-anchor="end" fill="#111">parietal-occipital</text>
<rect x="68.3" y="283.5" width="18.6" height="3.1" fill="#1f2339"/>
<rect x="68.3" y="287.2" width="21.4" height="3.4" fill="#99c3c0"/>
<text x="64.0" y="299.0" font-size="6.55" font-weight="bold" text-anchor="end" fill="#111">parietal-insular</text>
<rect x="68.3" y="293.2" width="37.6" height="3.1" fill="#1f2339"/>
<rect x="68.3" y="296.9" width="19.8" height="3.4" fill="#99c3c0"/>
<text x="64.0" y="308.6" font-size="6.55" font-weight="bold" text-anchor="end" fill="#111">occipital-occipital</text>
<rect x="68.3" y="302.8" width="13.7" height="3.1" fill="#1f2339"/>
<rect x="68.3" y="306.5" width="21.4" height="3.4" fill="#99c3c0"/>
<text x="64.0" y="318.3" font-size="6.55" font-weight="bold" text-anchor="end" fill="#111">occipital-insular</text>
<rect x="68.3" y="312.5" width="18.6" height="3.1" fill="#1f2339"/>
<rect x="68.3" y="316.2" width="7.0" height="3.4" fill="#99c3c0"/>
<text x="64.0" y="327.9" font-size="6.55" font-weight="bold" text-anchor="end" fill="#111">insular-insular</text>
<line x1="68.3" y1="185.3" x2="68.3" y2="330.3" stroke="#222" stroke-width="0.9"/>
<line x1="67.9" y1="330.0" x2="182.4" y2="330.0" stroke="#222" stroke-width="0.9"/>
<text x="68.3" y="340.8" font-size="7.7" text-anchor="middle" fill="#4d4d4d">0</text>
<text x="94.2" y="340.8" font-size="7.7" text-anchor="middle" fill="#4d4d4d">5</text>
<text x="120.2" y="340.8" font-size="7.7" text-anchor="middle" fill="#4d4d4d">10</text>
<text x="146.2" y="340.8" font-size="7.7" text-anchor="middle" fill="#4d4d4d">15</text>
<text x="172.1" y="340.8" font-size="7.7" text-anchor="middle" fill="#4d4d4d">20</text>
<text x="124.8" y="348.3" font-size="7.0" font-weight="bold" text-anchor="middle" fill="#111">% of edges</text>
<rect x="120.8" y="290.3" width="62.4" height="34.4" fill="#fff" stroke="#333" stroke-width="0.7"/>
<rect x="124.0" y="298.8" width="12.5" height="2.6" fill="#1f2339"/>
<rect x="124.0" y="314.8" width="12.5" height="2.6" fill="#99c3c0"/>
<text x="141.0" y="297.9" font-size="6.6" font-weight="bold" text-anchor="start" fill="#111">Identified</text>
<text x="141.0" y="305.1" font-size="6.6" font-weight="bold" text-anchor="start" fill="#111">network</text>
<text x="141.0" y="314.3" font-size="6.6" font-weight="bold" text-anchor="start" fill="#111">Full</text>
<text x="141.0" y="321.6" font-size="6.6" font-weight="bold" text-anchor="start" fill="#111">connectome</text>
<text transform="translate(210.5,187.7) scale(0.9,1)" font-size="12.2" font-weight="bold" fill="#000">D)</text>
<line x1="246.8" y1="183.0" x2="246.8" y2="327.8" stroke="#222" stroke-width="1"/>
<line x1="246.3" y1="327.6" x2="422.0" y2="327.6" stroke="#222" stroke-width="1"/>
<text transform="translate(239.9,208.4) scale(0.87,1)" font-size="9.6" text-anchor="end" fill="#4d4d4d">2000</text>
<text transform="translate(239.9,238.8) scale(0.87,1)" font-size="9.6" text-anchor="end" fill="#4d4d4d">1500</text>
<text transform="translate(239.9,269.1) scale(0.87,1)" font-size="9.6" text-anchor="end" fill="#4d4d4d">1000</text>
<text transform="translate(239.9,299.4) scale(0.87,1)" font-size="9.6" text-anchor="end" fill="#4d4d4d">500</text>
<text transform="translate(239.9,329.3) scale(0.87,1)" font-size="9.6" text-anchor="end" fill="#4d4d4d">0</text>
<text x="217.6" y="256.2" font-size="9.45" font-weight="bold" text-anchor="middle" fill="#000" transform="rotate(-90 217.6 256.2)">Total fiber length (mm)</text>
<text x="290.0" y="342.0" font-size="8.6" font-weight="bold" text-anchor="middle" fill="#000">Identified</text>
<text x="290.0" y="350.5" font-size="8.6" font-weight="bold" text-anchor="middle" fill="#000">network</text>
<text x="378.0" y="342.0" font-size="8.6" font-weight="bold" text-anchor="middle" fill="#000">Random</text>
<text x="378.0" y="350.5" font-size="8.6" font-weight="bold" text-anchor="middle" fill="#000">network</text>
<path d="M277.0,189.4 L277.0,189.4 L276.6,192.6 L276.6,195.8 L276.6,199.0 L276.6,202.2 L276.6,205.4 L276.6,208.6 L276.6,211.8 L276.6,215.0 L276.6,218.2 L276.6,221.4 L276.5,224.6 L276.4,227.8 L276.2,231.0 L275.9,234.2 L275.6,237.4 L275.2,240.6 L274.7,243.8 L274.1,247.0 L273.3,250.2 L272.2,253.4 L271.0,256.5 L269.5,259.7 L267.7,262.9 L265.8,266.1 L263.9,269.3 L262.4,272.5 L261.6,275.7 L261.8,278.9 L262.4,282.1 L263.5,285.3 L265.0,288.5 L266.7,291.7 L268.4,294.9 L270.1,298.1 L271.7,301.3 L273.0,304.5 L274.1,307.7 L275.0,310.9 L275.7,314.1 L277.0,317.3 L277.0,317.3 Z" fill="#22283e" stroke="#111" stroke-width="0.8"/>
<line x1="277.0" y1="189.4" x2="277.0" y2="317.3" stroke="#111" stroke-width="1.1"/>
<path d="M287.4 256.3h0M290.7 268.0h0M293.3 258.5h0M286.5 273.1h0M287.7 274.9h0M295.1 244.3h0M284.0 275.3h0M288.5 286.6h0M298.6 248.1h0M288.8 243.0h0M293.9 269.6h0M288.9 283.7h0M297.3 274.5h0M295.0 294.0h0M281.6 261.3h0M292.0 268.4h0M298.4 300.2h0M296.0 257.8h0M290.4 295.1h0M298.2 280.3h0M282.5 281.3h0M288.1 254.9h0M281.3 298.3h0M291.3 296.0h0M286.2 272.4h0M283.0 254.1h0M292.1 285.5h0M292.8 272.2h0M288.5 264.9h0M282.6 248.7h0M291.9 243.7h0M294.0 294.3h0M294.9 280.7h0M285.7 296.0h0M283.2 284.0h0M292.3 270.9h0M286.2 278.1h0M291.6 262.1h0M281.4 296.0h0M297.8 256.9h0M283.8 268.4h0M294.7 238.3h0M292.1 276.7h0M283.2 282.3h0M286.7 261.2h0M291.7 259.3h0M285.2 270.5h0M298.1 263.8h0M298.3 296.0h0M298.3 271.1h0M290.9 285.4h0M283.3 275.4h0M288.5 268.4h0M294.8 269.4h0M286.5 291.1h0M288.0 277.8h0M285.6 272.7h0M297.3 309.4h0M293.3 269.0h0M296.7 283.9h0M286.8 274.7h0M283.7 274.6h0M294.2 280.2h0M286.3 271.0h0M284.2 253.1h0M290.2 243.3h0M287.9 264.3h0M287.3 257.7h0M290.5 298.5h0M298.7 294.4h0M293.4 271.2h0M288.4 301.5h0M292.6 278.4h0M298.0 292.3h0M289.1 279.5h0M282.0 270.8h0M283.9 279.7h0M286.2 275.4h0M299.1 296.1h0M292.6 276.1h0M286.6 293.5h0M284.0 277.5h0M282.1 291.9h0M294.1 303.2h0M291.6 284.5h0M282.1 272.0h0M288.3 252.9h0M298.5 288.8h0M287.5 280.2h0M299.1 267.0h0M296.5 270.2h0M291.8 262.6h0M291.2 305.9h0M288.7 270.1h0M291.2 254.5h0M281.9 277.3h0M290.9 270.4h0M286.1 268.1h0M293.8 269.0h0M289.8 285.2h0M288.6 283.5h0M293.9 266.0h0M294.4 275.1h0M295.5 272.2h0M291.9 263.2h0M295.0 248.3h0M291.7 289.5h0M288.2 271.8h0M284.2 272.5h0M290.1 265.4h0M293.1 277.5h0M298.6 294.0h0M281.5 277.6h0M283.7 273.3h0M282.9 261.3h0M295.1 234.7h0M285.3 283.4h0M281.5 276.4h0M287.9 288.9h0M284.5 255.0h0M292.5 275.8h0M299.1 250.6h0M290.9 243.6h0M286.2 260.1h0M292.1 295.4h0M298.5 279.9h0M283.5 270.2h0M286.9 251.4h0M285.1 263.4h0M297.8 316.7h0M285.8 276.8h0M290.2 272.3h0M285.7 276.4h0M292.0 271.1h0M295.7 248.7h0M289.2 270.1h0M283.7 272.5h0M284.4 281.3h0M290.1 284.5h0M286.9 296.5h0M291.7 262.0h0M287.4 278.9h0M286.2 291.1h0M283.7 235.1h0M281.7 279.1h0M297.6 264.3h0M283.1 288.2h0M284.6 273.9h0M289.8 247.1h0M294.4 296.9h0M288.6 266.7h0M280.9 272.8h0M291.2 283.8h0M285.5 255.4h0M295.4 297.9h0M285.3 269.4h0M291.5 263.7h0M283.4 236.9h0M281.7 279.2h0M295.0 261.9h0M292.5 281.5h0M296.3 301.3h0M296.7 278.1h0M296.1 267.7h0M287.5 243.1h0M289.4 278.2h0M287.5 300.9h0M281.2 254.4h0M282.8 289.8h0M293.2 272.8h0M292.6 270.1h0M290.1 291.0h0M283.9 297.8h0M290.2 247.4h0M286.5 268.3h0M284.1 253.2h0M291.8 260.8h0M282.5 280.3h0M296.9 268.5h0M281.7 267.7h0M290.8 278.0h0M289.0 280.8h0M289.1 285.0h0M287.3 278.0h0M289.0 273.2h0M283.6 261.6h0M296.9 278.8h0M296.7 260.1h0M286.5 256.2h0M280.7 276.8h0M293.6 266.3h0M298.9 262.5h0M286.6 274.3h0M289.7 287.0h0M291.2 283.3h0M295.6 260.4h0M298.4 261.5h0M288.1 288.4h0M294.9 257.8h0M289.5 276.3h0M289.1 288.5h0M292.7 247.2h0M283.3 270.7h0M296.5 262.7h0M293.4 264.4h0M296.9 218.1h0M296.9 273.2h0M283.6 251.3h0M288.4 260.7h0M282.5 291.2h0M292.6 262.1h0M281.3 285.1h0M286.7 243.7h0M294.7 227.3h0M290.7 254.6h0M284.2 276.7h0M290.7 306.4h0M289.7 269.6h0M286.3 264.9h0M298.8 268.5h0M283.9 273.6h0M285.0 232.6h0M294.2 279.1h0M298.4 255.1h0M289.5 314.0h0M296.3 269.5h0M294.3 260.0h0M296.3 296.7h0M290.3 284.5h0M296.5 280.4h0M287.2 294.7h0M289.4 299.1h0M281.7 280.4h0M296.1 298.8h0M285.9 233.0h0M282.5 256.3h0M289.2 249.5h0M284.8 222.5h0M292.9 248.1h0M294.1 270.6h0M290.2 275.6h0M299.3 305.4h0M281.8 293.1h0M297.8 251.3h0M289.0 290.8h0M287.1 254.7h0M293.3 283.3h0M284.3 287.1h0M284.3 267.7h0M284.7 281.3h0M289.7 292.7h0M298.1 262.8h0M297.0 285.3h0M287.0 252.8h0M283.3 259.9h0M296.6 244.0h0M289.2 299.6h0M288.4 269.0h0M280.8 286.3h0M282.2 289.5h0M282.2 272.2h0M291.2 246.2h0M295.0 295.3h0M289.8 285.9h0M288.8 253.3h0M281.8 271.6h0M284.2 295.7h0M281.7 270.3h0M295.8 275.6h0M289.3 259.2h0M287.1 278.0h0M292.4 268.7h0M283.5 302.5h0M290.5 263.6h0M298.9 285.4h0M291.3 277.0h0M286.3 277.1h0M293.9 295.9h0M286.4 250.0h0M297.6 279.0h0M297.9 255.0h0M291.7 267.8h0M298.6 279.7h0M292.8 272.5h0M285.7 274.2h0M284.1 278.8h0M292.0 253.2h0M283.8 261.5h0M291.2 278.4h0M292.2 261.9h0M296.5 272.1h0M287.5 284.6h0M293.5 244.4h0M294.8 278.2h0M284.4 272.4h0M295.9 274.5h0M286.6 294.5h0M286.5 281.9h0M290.4 280.7h0M280.7 267.6h0M297.9 287.7h0M298.1 281.1h0M286.9 258.7h0M296.8 261.0h0M281.5 248.7h0M292.4 294.2h0M298.4 283.9h0M290.5 267.2h0M294.0 262.6h0M283.2 252.6h0M287.5 285.7h0M295.5 250.7h0M291.6 240.4h0M286.4 288.2h0M287.7 286.9h0M283.8 283.5h0M296.9 294.9h0M294.4 289.7h0M295.9 262.4h0M295.6 285.9h0M284.7 287.6h0M296.2 274.6h0M290.7 258.8h0M292.2 247.4h0M289.1 272.1h0M284.5 277.2h0M299.1 253.6h0M296.4 304.4h0M281.8 235.6h0M287.1 293.4h0M289.8 258.6h0M284.6 267.3h0M283.3 280.7h0M289.3 248.5h0M294.5 270.4h0M292.3 277.0h0M285.2 287.1h0M284.8 303.8h0M295.7 279.4h0M295.8 305.8h0M285.4 261.9h0M298.8 237.8h0M291.2 298.3h0M292.0 263.9h0M296.1 278.6h0M294.1 282.6h0M282.2 270.9h0M296.7 256.9h0M298.2 283.3h0M298.1 256.2h0M282.1 313.5h0M296.5 299.6h0M291.1 288.8h0M281.2 285.8h0M298.0 276.2h0M293.3 246.9h0M289.8 284.9h0M284.2 227.8h0M281.7 257.7h0M284.7 266.6h0M292.9 269.1h0M284.7 266.9h0M297.2 283.5h0M283.7 283.9h0M295.9 260.9h0M288.5 259.1h0M285.6 305.4h0M296.7 245.0h0M283.6 281.9h0M287.6 273.6h0M285.0 316.0h0M290.6 301.1h0M284.2 303.4h0M288.0 281.4h0M296.8 272.6h0M281.5 283.1h0M294.3 247.6h0M286.6 271.7h0M291.8 274.7h0M297.8 259.7h0M285.8 271.8h0M295.8 246.8h0M282.9 285.2h0M289.3 249.8h0M292.9 293.1h0M284.7 275.7h0M285.4 262.5h0M285.4 293.8h0M296.0 287.9h0M282.3 293.7h0M281.5 276.5h0M290.9 285.5h0M290.2 242.4h0M281.9 285.5h0M294.6 246.0h0M287.2 286.6h0M287.5 258.4h0M293.9 310.3h0M291.3 255.3h0M296.9 289.0h0M289.8 255.7h0M291.3 304.8h0M298.2 257.5h0M291.6 293.9h0M298.9 313.4h0M294.8 243.3h0M289.2 224.9h0M289.1 263.3h0M292.2 293.6h0M284.5 284.4h0M282.1 269.7h0M296.3 255.0h0M294.1 251.1h0M285.6 296.8h0M293.8 286.1h0M286.9 275.6h0M297.6 262.3h0M290.9 238.3h0M290.6 271.8h0M293.8 269.4h0M289.8 292.3h0M295.4 265.4h0M295.6 304.7h0M295.4 271.1h0M294.6 252.0h0M295.1 255.8h0M296.8 269.9h0M283.8 217.6h0M288.2 262.2h0M292.2 259.6h0M283.4 249.6h0M292.4 271.7h0M296.3 250.1h0M282.9 275.2h0M282.5 271.0h0M297.6 288.6h0M286.6 282.6h0M284.9 243.1h0M283.3 260.3h0M283.7 297.8h0M283.3 287.6h0M288.1 253.5h0M286.4 227.0h0M298.7 296.2h0M292.5 240.0h0M297.8 263.8h0M292.2 266.4h0M296.0 271.4h0M282.1 274.6h0M298.8 264.7h0M289.3 279.2h0M290.4 270.1h0M290.3 239.8h0M298.1 270.1h0M299.0 302.9h0M290.3 266.2h0M288.3 285.9h0M287.0 262.1h0M283.9 245.4h0M285.9 281.1h0M284.5 275.8h0M288.2 275.0h0M284.8 256.6h0M291.6 280.4h0M281.2 259.2h0M288.2 291.2h0M283.5 272.1h0M296.9 258.2h0M286.9 280.8h0M296.6 268.1h0M282.1 292.0h0M286.4 291.0h0M288.4 224.8h0M288.4 255.7h0M296.0 262.7h0M283.1 239.6h0M285.7 270.4h0M294.6 266.0h0M289.3 283.6h0M287.1 214.7h0M293.5 236.4h0M283.3 275.9h0M283.0 285.7h0M283.7 284.8h0M289.2 308.1h0M292.8 255.6h0M282.8 272.6h0M281.5 275.0h0M285.4 247.2h0M295.9 286.7h0M288.1 266.7h0M286.9 263.7h0M295.0 271.8h0M294.3 285.9h0M287.2 273.5h0M281.4 285.3h0M284.9 250.7h0M298.4 298.2h0M281.3 279.8h0M287.4 272.5h0M293.8 254.3h0M282.1 298.0h0M295.3 269.8h0M295.7 267.9h0M290.1 244.9h0M284.1 270.1h0M288.5 258.5h0M289.2 281.1h0M291.0 266.4h0M295.8 281.2h0M282.6 228.1h0M282.9 287.8h0M298.0 275.0h0M283.3 283.4h0M289.4 258.3h0M285.0 309.0h0M296.9 272.1h0M286.2 268.7h0M283.4 271.9h0M281.4 279.3h0M297.5 258.6h0M290.9 252.9h0M292.9 265.0h0M293.6 258.3h0M299.1 241.3h0M281.6 264.3h0M290.8 240.3h0M287.2 251.0h0M297.8 270.4h0M282.9 286.1h0M281.2 264.7h0M290.8 230.4h0M286.3 297.3h0M292.4 275.6h0M291.3 239.5h0M291.5 285.1h0M284.7 268.7h0M282.2 244.4h0M286.2 246.5h0M282.9 287.4h0M287.4 273.2h0M282.0 245.9h0M297.4 293.9h0M285.4 278.4h0M294.8 257.1h0M295.9 265.8h0M294.6 283.8h0M290.3 309.4h0M285.8 259.9h0M285.4 245.6h0M296.3 278.5h0M290.8 274.9h0M282.0 275.2h0M296.8 288.3h0M295.8 275.9h0M289.4 283.4h0M287.4 269.5h0M281.2 293.9h0M285.3 278.2h0M293.1 278.6h0M285.7 288.6h0M295.3 280.6h0M286.6 257.4h0M291.0 282.8h0M297.6 244.2h0M295.7 249.2h0M285.4 255.0h0M286.5 265.2h0M284.3 288.3h0M296.4 302.4h0M292.9 247.3h0M281.6 260.5h0M288.3 285.4h0M281.3 239.2h0M294.4 299.0h0M289.2 208.5h0M294.2 261.6h0M282.7 276.6h0M282.4 282.3h0M290.0 273.1h0M292.6 254.7h0M296.7 259.5h0M287.2 286.3h0M285.7 281.5h0M291.7 305.1h0M298.0 266.1h0M294.9 282.2h0M291.6 250.1h0M297.9 264.0h0M284.9 256.5h0M293.3 260.8h0M293.4 284.4h0M298.7 274.4h0M296.2 289.9h0M294.0 244.6h0M295.5 264.1h0M282.0 269.9h0M291.3 272.3h0M297.2 259.9h0M288.5 252.3h0M286.8 265.2h0M284.2 264.8h0M292.4 271.4h0M281.2 265.0h0M284.6 283.7h0M296.4 257.6h0M286.8 261.1h0M295.0 259.7h0M284.9 251.8h0M293.0 263.4h0M285.0 250.1h0M293.5 273.8h0M298.5 255.7h0M283.7 297.2h0M295.5 272.2h0M291.8 281.6h0M294.0 261.2h0M292.5 253.0h0M288.4 273.4h0M290.9 268.7h0M293.9 300.7h0M295.5 290.6h0M297.3 253.7h0M299.0 283.0h0M283.9 250.3h0M298.2 273.5h0M287.2 261.0h0M296.9 277.2h0M281.3 257.8h0M281.0 261.3h0M288.3 311.1h0M283.1 305.2h0M286.8 267.2h0M286.1 279.0h0M285.5 300.7h0M283.4 271.2h0M292.8 285.0h0M292.8 234.0h0M296.8 294.1h0M289.0 283.4h0M297.8 251.8h0M299.3 276.4h0M291.0 260.8h0M293.8 282.0h0M286.2 258.6h0M286.0 312.6h0M294.3 282.6h0M282.6 286.0h0M290.9 252.7h0M286.0 294.8h0M281.2 258.0h0M298.1 285.2h0M291.7 285.8h0M293.5 259.8h0M286.8 242.3h0M286.6 294.7h0M286.3 243.4h0M284.8 256.3h0M294.0 278.9h0M293.1 264.6h0M298.3 262.6h0M286.2 270.7h0M287.2 285.6h0M291.4 270.7h0M284.6 310.8h0M292.8 283.5h0M281.6 312.5h0M281.5 274.2h0M283.6 261.6h0M286.0 260.2h0M294.1 259.0h0M289.0 304.0h0M292.8 249.1h0M296.7 283.7h0M283.0 280.5h0M297.3 289.8h0M293.0 241.9h0M295.7 272.1h0M285.3 277.4h0M288.0 278.3h0M294.3 274.6h0M284.9 275.9h0M291.6 286.9h0M292.5 265.1h0M292.2 270.7h0M288.6 264.3h0M283.9 241.5h0M294.0 260.6h0M284.5 269.8h0M294.9 247.7h0M297.8 273.6h0M289.7 236.2h0M284.2 278.5h0M292.3 282.9h0M296.1 278.4h0M295.4 283.4h0M294.1 260.6h0M294.2 286.1h0M282.0 267.9h0M286.2 302.4h0M293.5 242.1h0M298.0 261.7h0M282.8 287.2h0M297.4 227.6h0M290.5 245.5h0M292.7 306.1h0M297.6 283.4h0M298.0 260.2h0M287.9 286.2h0M285.1 265.7h0M291.3 244.9h0M292.7 256.1h0M292.8 239.4h0M288.8 217.4h0M287.3 256.6h0M292.3 269.6h0M294.3 281.0h0M298.3 282.0h0M292.6 277.1h0M292.1 260.4h0M292.4 284.7h0M298.5 288.0h0M295.3 296.9h0M295.3 276.2h0M291.1 249.3h0M291.8 260.4h0M284.5 279.8h0M286.2 286.7h0M284.1 308.2h0M293.2 276.8h0M283.7 214.4h0M287.5 260.3h0M284.7 299.8h0M284.5 283.5h0M297.6 268.0h0M287.3 289.1h0M284.2 254.5h0M287.9 297.4h0M284.5 257.8h0M292.4 294.2h0M298.1 264.3h0M282.3 241.2h0M284.3 256.9h0M293.9 269.4h0M290.5 287.4h0M292.8 257.3h0M288.8 281.3h0M297.7 246.4h0M290.7 305.6h0M283.3 254.3h0M281.8 247.8h0M283.0 273.8h0M290.3 270.9h0M294.1 257.1h0M282.7 244.0h0M295.1 304.6h0M290.2 244.0h0M293.9 273.3h0M296.4 290.8h0M287.1 283.0h0M293.4 286.5h0M288.3 257.7h0M298.7 290.3h0M286.9 273.5h0M291.7 279.8h0M294.1 252.9h0M288.0 290.3h0M285.7 246.3h0M294.0 242.4h0M288.8 279.9h0M283.7 248.2h0M298.5 277.8h0M282.3 246.1h0M289.6 295.4h0M285.8 281.4h0M295.7 294.8h0M292.2 262.7h0M294.5 238.7h0M286.3 231.6h0M297.5 281.2h0M281.2 270.8h0M293.7 284.3h0M281.1 265.8h0M294.6 284.1h0M296.7 285.8h0M292.5 254.2h0M289.9 259.1h0M290.4 280.5h0M288.8 275.9h0M295.9 260.0h0M291.4 271.6h0M290.6 251.8h0M292.8 265.4h0M286.3 283.5h0M297.9 295.4h0M285.9 274.2h0M290.4 279.2h0M294.0 222.0h0M298.1 263.2h0M296.6 282.2h0M297.1 293.9h0M285.0 283.5h0M289.8 266.6h0M287.4 250.0h0M295.0 259.9h0M298.5 265.6h0M295.1 313.6h0M285.2 245.9h0M285.2 284.9h0M291.1 301.3h0M285.5 276.2h0M286.1 271.0h0M290.3 272.4h0M283.8 278.8h0M293.3 245.8h0M296.1 256.9h0M294.9 299.0h0M286.5 264.9h0M297.1 268.6h0M298.8 270.6h0M295.7 258.9h0M287.4 257.3h0M284.7 255.9h0M293.8 278.2h0M293.4 279.4h0M287.2 268.1h0M298.3 256.4h0M281.1 268.8h0M284.9 246.5h0M287.9 261.6h0M283.1 275.4h0M294.2 268.8h0M287.2 291.4h0M281.5 287.5h0M287.7 263.6h0M288.0 225.4h0M288.1 254.3h0M287.9 287.2h0M293.1 259.5h0M291.6 258.3h0M296.8 288.6h0M283.2 301.7h0M298.6 248.8h0M280.9 260.3h0M288.2 216.3h0M291.8 303.9h0M288.1 283.7h0M293.7 265.5h0M289.2 278.3h0M282.2 234.4h0M298.2 283.1h0M287.8 284.3h0M297.7 273.0h0M285.2 242.3h0M288.4 296.9h0M296.0 313.7h0M291.1 276.7h0M284.3 274.4h0M297.8 276.2h0M292.0 232.5h0M291.2 299.0h0M285.6 240.8h0M287.1 233.7h0M292.7 286.6h0M289.9 266.3h0M290.9 303.1h0M286.1 290.5h0M289.3 204.0h0M283.8 304.6h0M285.3 275.8h0M296.2 269.8h0M284.9 255.0h0M297.3 271.8h0M290.2 288.2h0M288.6 299.5h0M291.8 276.7h0M290.8 263.9h0M289.2 279.8h0M294.1 259.4h0M299.2 254.0h0M288.0 281.4h0M283.9 292.0h0M289.0 263.9h0M281.1 245.2h0M284.7 268.1h0M294.9 263.0h0M290.3 266.4h0M285.1 219.6h0M292.5 315.6h0M298.8 258.2h0M290.3 298.7h0M281.0 253.3h0M298.5 266.6h0M293.1 264.0h0M297.9 248.5h0M286.2 261.2h0M285.2 242.2h0M289.9 244.1h0M292.3 301.0h0M284.6 274.0h0M289.2 262.7h0M292.0 239.1h0M290.0 288.9h0M289.3 279.8h0M289.1 277.7h0M296.6 297.6h0M296.2 258.2h0M281.7 282.5h0M293.4 266.2h0M282.0 243.2h0M296.2 269.8h0M297.4 279.4h0M284.3 273.7h0M296.2 232.3h0M287.3 273.0h0M286.2 269.7h0M290.5 245.6h0M290.4 259.7h0M294.4 281.7h0M282.7 274.8h0M293.9 281.0h0M293.2 286.4h0M292.4 253.1h0M282.5 272.3h0M295.5 248.5h0M298.3 263.4h0M281.0 261.6h0M284.7 252.8h0M296.5 253.2h0M289.5 259.7h0M283.5 300.4h0M285.2 316.1h0M293.8 248.8h0M295.8 264.5h0M283.0 284.5h0M286.0 296.0h0M287.2 311.1h0M297.0 261.5h0M281.3 291.4h0M293.3 264.5h0M289.9 267.7h0M283.8 274.2h0M293.8 251.3h0M285.8 316.9h0M289.2 266.8h0M296.3 278.0h0M281.3 274.1h0M288.5 299.4h0M282.9 306.6h0M282.7 288.8h0M286.3 272.7h0M286.5 268.1h0M281.2 246.9h0M292.1 264.1h0M292.0 263.0h0M285.0 311.4h0M281.5 276.1h0M286.7 263.2h0M282.8 291.1h0M290.7 263.2h0M297.5 286.3h0M295.9 272.7h0M290.4 256.7h0M287.1 242.8h0M282.5 272.6h0M292.5 298.4h0M296.0 261.8h0M295.2 259.8h0M286.4 289.5h0M288.4 246.9h0M286.1 275.2h0M289.8 257.0h0M284.3 230.4h0M283.0 297.2h0M296.8 290.8h0M294.9 253.7h0M293.1 254.8h0M282.2 270.1h0M280.9 276.2h0M294.3 280.1h0M294.7 275.6h0M298.2 306.5h0M291.8 269.1h0M283.2 291.2h0M287.3 288.5h0M289.5 277.0h0M297.1 278.0h0M297.4 236.3h0M295.7 275.4h0M294.2 259.2h0M291.8 246.9h0M294.8 262.9h0M288.4 277.6h0M285.4 286.3h0M285.6 300.7h0M286.3 243.4h0M289.5 277.2h0M285.3 253.8h0M283.1 279.2h0M281.2 278.7h0M281.0 291.9h0M293.6 268.5h0M286.2 270.3h0M295.7 222.4h0M298.2 275.0h0M291.2 303.6h0M285.9 277.1h0M288.8 289.9h0M282.2 249.1h0M292.9 241.5h0M297.2 307.1h0M285.3 271.6h0M290.5 276.4h0M292.4 265.9h0M291.6 279.2h0M294.0 250.2h0M283.9 261.4h0M296.6 279.1h0M288.5 261.5h0M287.4 291.3h0M291.0 265.8h0M294.3 284.6h0M286.0 266.8h0M292.9 238.7h0M285.8 275.2h0M288.7 294.0h0M286.0 263.4h0M287.8 264.7h0M296.6 238.3h0M288.6 260.7h0M286.6 287.0h0M285.1 251.0h0M286.0 284.0h0M298.0 250.7h0M288.4 265.6h0M290.9 254.1h0M295.1 229.3h0M285.6 306.5h0M282.7 271.0h0M298.4 281.1h0M284.2 263.1h0M286.2 243.3h0M286.3 276.1h0M283.0 299.4h0M290.4 296.2h0M296.5 299.3h0M298.3 289.9h0M287.7 281.6h0M286.9 240.7h0M288.2 268.9h0M289.6 263.0h0M284.4 287.7h0M289.0 296.3h0M295.8 255.4h0M287.5 259.9h0M299.2 273.8h0M283.5 274.9h0M291.2 285.9h0M292.5 285.3h0M285.3 292.4h0M298.6 261.3h0M285.5 259.3h0M295.3 267.2h0M293.2 275.2h0M282.3 284.8h0M291.5 233.8h0M288.4 292.9h0M297.0 293.0h0M297.8 315.5h0M281.5 281.8h0M283.3 259.1h0M293.7 279.0h0M293.7 298.5h0M284.5 274.3h0M293.9 261.0h0M293.7 276.9h0M285.3 259.9h0M295.7 289.4h0M286.4 264.2h0M286.6 249.1h0M287.6 272.2h0M289.4 277.4h0M291.5 240.4h0M291.5 268.8h0M291.8 264.3h0M283.3 279.8h0M285.9 256.8h0M284.9 282.5h0M285.7 295.3h0M290.5 279.1h0M294.0 269.8h0M295.5 279.1h0M294.0 246.3h0M293.5 283.8h0M287.6 306.9h0M293.5 252.4h0M290.7 254.8h0M282.3 278.6h0M288.3 269.5h0M290.0 301.3h0M298.1 294.1h0M292.8 300.0h0M293.5 295.2h0M296.4 286.2h0M295.9 303.1h0M292.2 281.2h0M282.1 256.8h0M297.7 281.5h0M288.4 259.6h0M293.5 289.1h0M298.7 286.7h0M286.5 246.6h0M285.7 274.1h0M283.2 274.2h0M293.2 284.7h0M295.2 289.2h0M298.1 263.7h0M291.0 279.1h0M291.8 259.9h0M286.9 268.6h0M286.0 266.1h0M290.6 240.6h0M296.2 247.7h0M298.7 284.7h0M296.5 282.1h0M293.9 261.2h0M289.4 283.9h0M296.6 291.4h0M284.7 256.9h0M292.7 291.2h0M297.8 281.7h0M298.7 275.0h0M289.1 284.5h0M289.0 259.0h0M288.3 297.1h0M285.4 303.7h0M291.7 254.0h0M287.2 313.1h0M297.5 252.2h0M294.6 258.5h0M286.0 254.3h0M298.3 263.1h0M289.2 252.7h0M281.4 282.1h0M282.6 271.9h0M287.9 286.9h0M298.3 295.1h0M289.8 283.7h0M295.5 297.0h0M296.4 276.3h0M287.1 283.6h0M298.2 285.5h0M298.5 279.2h0M283.9 268.3h0M298.0 259.7h0M297.9 246.4h0M293.3 267.1h0M286.7 279.0h0M284.8 246.1h0M284.7 270.1h0M290.2 240.3h0M287.1 242.6h0M283.5 271.8h0M290.3 277.8h0M294.1 259.9h0M288.6 256.2h0M283.9 270.8h0M298.5 262.8h0M297.1 246.8h0M293.4 267.9h0M286.6 267.3h0M283.9 291.3h0M283.5 269.6h0M296.3 275.7h0M294.3 293.3h0M281.0 252.8h0M289.5 282.5h0M294.7 300.8h0M290.6 300.7h0M293.8 270.4h0M295.8 282.6h0M291.8 256.1h0M288.9 304.0h0M293.9 296.0h0M293.5 270.6h0M298.7 266.2h0M288.2 297.1h0M288.2 260.8h0M295.3 255.8h0M296.4 268.1h0M286.3 280.9h0M297.3 277.1h0M293.0 269.3h0M286.3 294.9h0M285.5 273.1h0M295.2 270.6h0M283.9 267.8h0M289.7 277.0h0M292.7 262.6h0M282.7 272.1h0M294.9 289.2h0M295.9 257.5h0M285.2 297.8h0M293.2 289.7h0M288.0 278.1h0M283.0 272.0h0M295.8 278.7h0M296.5 240.4h0M290.8 260.8h0M295.9 297.6h0M289.7 262.9h0M296.9 300.5h0M286.3 293.0h0M295.4 295.6h0M286.1 283.2h0M282.9 262.9h0M296.2 230.0h0M284.5 256.2h0M287.4 275.0h0M292.6 248.4h0M283.2 290.7h0M298.3 294.4h0M285.4 268.2h0M286.8 283.1h0M280.8 258.5h0M296.5 266.7h0M287.5 280.3h0M289.2 287.2h0M296.8 257.6h0M289.3 249.6h0M287.3 309.6h0M283.7 256.7h0M295.2 287.2h0M289.8 308.2h0M294.8 232.1h0M283.9 253.5h0M296.4 228.5h0M287.1 292.7h0M293.8 294.4h0M282.6 287.2h0M282.3 255.0h0M290.0 297.3h0M283.2 284.4h0M291.1 295.7h0M296.7 287.0h0M298.7 252.9h0M283.5 291.7h0M291.0 250.1h0M282.3 264.5h0M290.1 264.4h0M284.7 311.9h0M283.0 239.5h0M285.9 264.8h0M285.0 246.9h0M297.6 311.1h0M289.0 296.2h0M291.0 288.6h0M294.5 286.3h0M283.8 307.7h0M295.1 261.3h0M295.8 263.6h0M289.7 306.9h0M290.3 271.3h0M290.2 282.3h0M295.7 270.1h0M288.2 218.8h0M287.4 232.5h0M282.9 278.4h0M288.0 252.6h0M291.0 248.2h0M287.5 260.5h0M295.3 277.7h0M295.4 268.6h0M290.0 280.6h0M294.2 287.8h0M291.1 308.4h0M294.6 292.0h0M291.2 285.9h0M298.1 252.4h0M297.3 266.7h0M289.3 273.8h0M298.9 269.5h0M286.6 292.3h0M288.3 277.3h0M292.7 283.9h0M290.9 277.1h0M295.5 254.5h0M295.9 254.6h0M282.9 255.4h0M283.5 282.7h0M288.4 301.3h0M283.9 284.7h0M286.3 281.4h0M284.4 266.1h0M297.0 259.7h0M288.9 269.1h0M296.0 244.1h0M295.8 284.6h0M297.4 281.8h0M283.3 294.4h0M288.4 298.1h0M287.8 277.1h0M291.8 285.4h0M288.9 288.5h0M299.0 272.0h0M285.4 258.2h0M292.8 247.0h0M284.5 273.8h0M295.1 276.3h0M296.7 273.4h0M298.1 251.5h0M283.3 279.8h0M286.2 284.1h0M289.2 223.0h0M286.2 279.1h0M287.6 283.6h0M293.7 277.7h0M298.3 261.9h0M282.6 291.7h0M294.3 266.8h0M281.6 271.5h0M296.8 285.8h0M288.9 303.7h0M291.8 240.9h0M282.6 267.1h0M291.6 277.6h0M285.7 275.2h0M291.4 292.0h0M287.6 277.3h0M295.6 266.1h0M282.2 255.2h0M295.4 285.5h0M293.3 263.2h0M291.0 261.7h0M289.8 246.6h0M294.3 282.0h0M289.5 258.7h0M281.7 279.4h0M289.3 288.5h0M290.3 287.4h0M299.0 248.3h0M297.6 314.6h0M297.6 264.2h0M292.9 286.6h0M293.8 272.7h0M296.0 293.0h0M282.5 303.5h0M284.7 271.3h0M297.1 292.6h0M297.7 275.2h0M292.3 273.1h0M291.3 259.6h0M290.0 265.0h0M297.2 274.4h0M288.9 253.6h0M297.0 290.1h0M281.0 269.8h0M280.7 281.3h0M295.2 259.6h0M285.2 291.5h0M286.2 258.4h0M288.5 283.2h0M293.8 303.6h0M287.8 270.3h0M288.8 295.4h0M289.0 266.5h0M288.7 289.0h0M294.6 230.6h0M284.0 286.4h0M283.5 286.7h0M295.2 272.9h0M288.2 280.1h0M281.0 284.3h0M290.5 258.1h0M291.7 283.7h0M293.3 258.2h0M282.6 265.7h0M289.1 242.0h0M294.5 278.5h0M293.6 289.6h0M286.7 264.3h0M296.8 272.6h0M291.2 268.7h0M288.3 278.0h0M298.9 291.0h0M287.6 282.2h0M283.1 286.8h0M281.7 260.6h0M294.0 296.6h0M284.8 276.5h0M281.7 266.3h0M288.9 280.4h0M293.8 252.7h0M286.4 274.6h0M289.7 289.6h0M281.6 292.8h0M291.7 269.4h0M293.5 235.1h0M284.7 277.9h0M283.0 269.1h0M294.5 224.7h0M298.3 268.9h0M296.8 249.7h0M281.3 265.3h0M280.8 252.9h0M296.5 314.9h0M295.4 284.4h0M294.9 285.5h0M283.1 287.5h0M283.8 275.7h0M282.6 261.7h0M281.5 282.4h0M286.3 273.5h0M281.0 273.6h0M281.0 279.3h0M298.4 245.1h0M288.3 270.9h0M288.7 250.8h0M282.6 276.8h0M283.0 264.8h0M285.1 301.9h0M299.1 259.0h0M290.1 268.4h0M298.6 269.7h0M284.5 280.8h0M296.5 292.9h0M281.0 296.1h0M288.5 251.3h0M281.3 291.8h0M288.3 281.5h0M286.2 278.8h0M283.1 265.6h0M298.5 266.6h0M283.8 275.7h0M286.8 278.7h0M295.1 269.5h0M295.9 272.9h0M281.1 237.4h0M287.9 284.3h0M298.4 245.7h0M282.8 285.0h0M298.9 267.8h0M290.5 243.5h0M297.3 294.1h0M296.9 281.3h0M281.5 307.9h0M289.0 269.9h0M293.2 289.2h0M282.9 254.3h0M282.0 255.6h0M287.5 287.2h0M292.9 273.9h0M288.8 265.6h0M293.4 247.1h0M296.0 269.7h0M284.6 246.2h0M289.7 287.8h0M280.7 277.3h0M298.1 266.7h0M293.5 211.2h0M293.2 283.8h0M288.8 263.9h0M283.8 289.4h0M292.3 255.4h0M292.1 236.3h0M297.7 254.2h0M290.2 290.5h0M284.0 277.2h0M296.1 315.4h0M291.8 294.9h0M290.6 253.1h0M297.4 277.1h0M297.7 282.1h0M297.8 228.2h0M292.4 281.4h0M294.9 270.7h0M281.9 262.4h0M296.7 253.5h0M292.5 263.6h0M298.9 311.4h0M282.4 283.1h0M286.7 249.0h0M285.3 292.1h0M287.6 248.4h0M293.3 286.9h0M285.2 271.1h0M293.2 256.5h0M292.6 256.7h0M280.7 276.0h0M285.5 285.8h0M286.0 267.8h0M289.6 275.9h0M298.4 291.1h0M289.8 282.1h0M286.5 304.8h0M284.4 285.3h0M288.3 284.2h0M285.8 269.4h0M285.2 259.7h0M288.8 284.7h0M292.5 296.6h0M293.5 294.2h0M284.9 263.3h0M285.3 254.1h0M299.1 287.2h0M282.8 258.0h0M281.4 268.8h0M289.0 246.1h0M283.3 311.0h0M290.4 257.4h0M286.0 302.2h0M296.6 269.4h0M281.8 290.1h0M295.6 272.3h0M290.4 268.5h0M295.4 266.7h0M285.0 259.4h0M294.5 272.9h0M292.4 273.3h0M295.3 281.3h0M298.8 245.3h0M289.6 265.5h0M294.0 307.2h0M281.5 278.3h0M280.8 275.1h0M295.9 284.6h0M280.8 282.9h0M283.7 261.7h0M290.9 284.4h0M286.9 258.7h0M288.2 273.8h0M282.2 265.7h0M281.6 269.7h0M281.3 235.1h0M294.1 275.5h0M284.3 288.7h0M294.9 276.1h0M292.4 301.3h0M282.4 274.7h0M281.7 272.4h0M296.0 299.1h0M285.3 248.7h0M293.3 254.7h0M290.7 213.5h0M293.2 305.7h0M298.4 271.8h0M290.5 293.2h0M292.6 281.5h0M290.5 245.8h0M299.2 296.6h0M295.0 260.5h0M296.6 273.1h0M298.4 264.2h0M281.6 304.8h0M282.2 272.9h0M297.8 258.9h0M283.7 261.6h0M285.8 262.2h0M292.8 286.5h0M298.1 254.9h0M291.1 299.2h0M284.7 257.6h0M292.1 261.7h0M282.5 238.8h0M282.4 286.8h0M288.5 243.4h0M289.1 272.3h0M293.8 233.4h0M286.9 261.7h0M281.7 266.7h0M281.1 271.4h0M282.0 281.7h0M288.4 291.2h0M286.4 284.5h0M288.1 316.8h0M290.2 267.5h0M288.8 286.2h0M292.0 276.5h0M281.7 269.8h0M288.0 283.5h0M294.7 269.1h0M289.7 275.3h0M298.6 272.1h0M297.0 276.4h0M298.9 277.3h0M282.4 273.8h0M282.9 260.1h0M282.2 243.8h0M293.4 264.8h0M293.7 293.2h0M296.5 288.1h0M297.8 249.0h0M287.3 279.1h0M297.9 248.0h0M294.6 254.2h0M293.7 262.8h0M296.0 263.6h0M292.7 284.5h0M284.1 268.6h0M292.6 279.9h0M298.7 261.0h0M283.3 289.8h0M299.3 258.9h0M287.7 252.7h0M287.4 260.0h0M296.1 285.6h0M298.9 251.8h0M294.0 268.3h0M294.8 282.2h0M288.1 284.8h0M296.7 278.0h0M280.8 269.5h0M292.5 296.1h0M284.5 243.1h0M294.0 291.0h0M295.3 252.3h0M292.2 273.4h0M292.4 312.2h0M291.6 289.2h0M282.0 262.7h0M286.9 293.5h0M293.2 278.5h0M281.1 296.7h0M293.2 257.4h0M289.2 274.8h0M284.0 267.9h0M290.9 266.8h0M286.6 292.0h0M281.7 278.8h0M284.6 297.5h0M297.9 267.7h0M285.4 248.7h0M281.3 262.2h0M283.5 275.7h0M289.8 260.7h0M282.8 271.4h0M280.9 272.6h0M283.4 247.5h0M280.9 262.2h0M294.3 274.4h0M297.5 272.4h0M296.8 289.0h0M286.4 268.3h0M289.8 286.0h0M288.4 295.7h0M289.2 278.6h0M284.5 267.2h0M298.5 274.4h0M287.8 279.1h0M284.9 275.7h0M282.8 268.6h0M282.5 270.1h0M293.1 259.7h0M281.9 269.9h0M290.0 270.4h0M292.2 259.4h0M291.6 279.7h0M297.9 277.1h0M290.1 285.2h0M293.3 270.7h0M295.4 270.4h0M284.9 300.3h0M298.8 278.9h0M297.2 265.3h0M294.2 256.7h0M289.3 273.4h0M294.0 266.2h0M285.5 254.9h0M286.0 273.8h0M283.1 294.1h0M294.6 296.5h0M289.7 248.7h0M293.0 277.8h0M281.2 291.9h0M284.8 264.8h0M296.2 259.1h0M285.8 269.0h0M281.7 291.1h0M299.0 265.1h0M287.5 311.8h0M287.7 236.9h0M295.9 232.3h0M297.2 263.2h0M298.0 261.1h0M282.9 276.1h0M281.4 260.2h0M287.4 288.7h0M296.2 291.3h0M294.7 245.4h0M296.9 240.6h0M292.5 296.5h0M283.4 276.2h0M290.1 276.7h0M298.6 262.7h0M288.1 256.3h0M299.3 267.8h0M280.8 282.7h0M289.0 289.0h0M290.0 284.8h0M294.4 280.2h0M281.4 302.8h0M289.6 275.3h0M280.8 297.8h0M297.6 266.9h0M289.2 306.1h0M286.3 257.7h0M287.2 290.9h0M291.0 261.5h0M283.7 275.4h0M286.7 283.2h0M293.0 248.7h0M292.6 273.4h0M289.9 293.2h0M293.3 285.9h0M296.0 305.5h0M297.4 283.9h0M293.1 300.5h0M295.0 292.2h0M284.1 267.2h0M295.2 266.4h0M292.2 283.4h0M288.0 299.3h0M291.9 306.9h0M291.8 259.0h0M281.6 246.5h0M297.8 284.9h0M292.5 259.8h0M285.5 230.0h0M292.2 238.8h0M280.7 257.3h0M290.6 248.9h0M297.8 278.2h0M290.8 273.2h0M289.8 264.6h0M296.0 275.0h0M293.8 272.7h0M293.8 317.9h0M296.0 264.5h0M297.7 279.4h0M283.2 260.2h0M287.8 274.8h0M282.9 262.9h0M283.1 278.9h0M280.7 242.8h0M287.4 262.4h0M292.0 235.2h0M284.7 262.8h0M290.9 272.2h0M281.1 296.9h0M291.8 257.5h0M287.8 249.8h0M291.3 286.6h0M293.5 304.7h0M289.7 254.5h0M282.8 247.4h0M298.9 272.3h0M287.6 228.3h0M285.7 283.7h0M285.9 253.9h0M291.2 277.6h0M285.3 270.2h0M293.0 311.2h0M287.6 274.0h0M289.8 284.4h0M284.9 266.9h0M287.2 290.8h0M294.4 280.3h0M299.0 291.0h0M283.9 284.9h0M287.8 216.4h0M294.0 262.4h0M286.7 279.1h0M289.5 271.7h0M291.4 292.6h0M292.1 274.7h0M293.2 278.1h0M295.7 254.0h0M292.0 293.3h0M298.2 292.9h0M285.9 293.7h0M285.0 254.7h0M290.7 294.8h0M282.1 317.6h0M282.1 273.8h0M298.8 282.4h0M299.0 306.5h0M296.5 272.5h0M296.0 255.1h0M292.7 283.1h0M283.1 243.4h0M298.0 282.5h0M287.1 278.1h0M297.8 267.0h0M292.3 263.6h0M295.5 286.4h0M293.6 269.1h0M288.6 243.2h0M286.6 243.8h0M289.8 271.5h0M289.0 269.8h0M285.6 268.6h0M282.9 298.3h0M282.9 260.8h0M288.7 273.0h0M284.4 290.2h0M291.3 258.9h0M298.7 277.5h0M293.1 276.9h0M294.1 277.3h0M297.4 256.5h0M291.3 272.1h0M289.4 236.6h0M287.2 252.4h0M298.2 269.5h0M297.6 262.2h0M295.0 237.9h0M285.3 283.0h0M291.8 281.1h0M296.4 239.0h0M288.8 261.5h0M282.3 258.7h0M295.6 267.1h0M292.7 260.7h0M283.8 299.5h0M294.6 237.9h0M290.1 278.9h0M285.7 266.9h0M295.8 239.8h0M283.3 253.1h0M298.1 255.9h0M283.4 297.7h0M280.9 251.8h0M294.2 279.7h0M286.8 271.1h0M288.6 271.9h0M287.6 246.3h0M290.3 282.1h0M290.0 278.2h0M299.1 294.8h0M284.4 295.1h0M284.9 232.9h0M286.4 246.5h0M281.1 283.3h0M297.1 262.1h0M287.2 286.7h0M284.5 291.7h0M282.8 299.1h0M283.9 266.4h0M282.6 277.4h0M291.2 280.1h0M285.8 275.1h0M287.8 262.1h0M285.7 293.3h0M284.0 283.2h0M289.7 257.2h0M281.4 259.0h0M292.8 275.5h0M290.5 289.5h0M288.5 276.3h0M284.7 254.0h0M291.0 265.2h0M282.8 254.0h0M287.7 260.3h0M282.6 294.0h0M287.6 269.1h0M297.3 291.8h0M280.9 256.8h0M292.5 248.7h0M290.4 268.6h0M297.2 275.7h0M296.1 302.7h0M294.6 304.0h0M291.0 263.1h0M291.1 291.5h0M290.2 262.0h0M284.4 278.2h0M298.6 246.5h0M289.6 225.2h0M281.4 295.7h0M297.4 282.1h0M286.7 255.1h0M290.8 265.1h0M292.5 252.0h0M295.7 234.7h0M283.0 267.4h0M284.1 256.4h0M282.2 274.7h0M294.7 283.2h0M281.8 280.0h0M293.0 273.6h0M297.5 284.7h0M285.1 269.9h0M281.0 271.8h0M288.5 270.1h0M283.6 275.8h0M284.8 245.1h0M285.2 278.1h0M282.1 264.3h0M297.2 229.9h0M298.9 260.3h0M283.4 295.9h0M282.9 283.5h0M293.3 224.8h0M283.3 269.3h0M280.8 283.8h0M294.6 274.6h0M299.2 259.6h0M293.0 269.8h0M286.1 262.1h0M291.4 270.7h0M291.5 248.1h0M294.2 259.3h0M292.7 278.9h0M290.4 238.8h0M297.6 268.8h0M287.1 272.8h0M286.0 300.9h0M291.8 256.5h0M288.7 263.2h0M285.7 282.3h0M291.6 254.6h0M281.5 264.4h0M283.3 280.6h0M297.1 272.8h0M283.6 266.9h0M286.1 291.1h0M289.6 239.5h0M286.9 275.0h0M292.1 274.0h0M298.7 255.6h0M295.7 282.5h0M299.0 282.6h0M286.2 259.5h0M293.0 312.6h0M282.1 243.7h0M282.9 285.2h0M285.9 246.0h0M291.9 284.0h0M281.5 243.7h0M297.4 284.1h0M295.5 239.7h0M293.4 270.2h0M297.8 272.7h0M291.3 265.2h0M284.2 279.3h0M290.6 288.7h0M285.0 244.7h0M290.4 240.4h0M296.4 304.4h0M296.6 300.1h0M294.6 254.2h0M298.4 258.4h0M294.1 255.7h0M281.0 292.7h0M287.8 260.3h0M290.3 248.1h0M297.6 264.2h0M289.2 259.6h0M283.7 285.6h0M281.3 294.9h0M298.9 243.6h0M293.7 257.0h0M284.9 276.9h0M289.9 268.5h0M294.1 257.6h0M288.6 280.0h0M294.6 259.0h0M286.7 259.4h0M291.8 238.6h0M291.6 288.3h0M295.3 292.9h0M286.3 250.7h0M298.7 275.4h0M281.9 252.3h0M291.9 282.8h0M293.7 279.4h0M285.5 260.8h0M295.6 229.5h0M294.8 240.0h0M284.5 300.8h0M286.6 254.8h0M289.7 261.4h0M289.0 254.8h0M285.4 259.6h0M293.0 266.6h0M293.6 225.6h0M293.1 267.5h0M281.1 294.2h0M287.0 268.5h0M296.2 276.0h0M289.7 269.3h0M284.9 235.6h0M285.8 311.6h0M287.5 276.4h0M293.0 265.3h0M293.5 294.8h0M297.9 237.7h0M295.9 261.4h0M286.4 246.1h0M283.2 236.2h0" stroke="#18203c" stroke-opacity="0.6" stroke-width="1.36" stroke-linecap="round" fill="none"/>
<path d="M364.6,245.6 L364.6,245.6 L364.0,247.5 L364.0,249.4 L364.0,251.3 L364.0,253.2 L364.0,255.2 L364.0,257.1 L364.0,259.0 L364.0,260.9 L364.0,262.8 L364.0,264.7 L364.0,266.6 L364.0,268.6 L363.9,270.5 L363.5,272.4 L363.0,274.3 L362.4,276.2 L361.5,278.1 L360.5,280.0 L359.2,281.9 L357.6,283.9 L355.8,285.8 L353.8,287.7 L351.5,289.6 L349.2,291.5 L346.9,293.4 L344.6,295.3 L342.6,297.2 L340.9,299.2 L339.6,301.1 L338.8,303.0 L338.6,304.9 L339.5,306.8 L341.7,308.7 L344.9,310.6 L348.5,312.5 L352.2,314.5 L355.5,316.4 L358.3,318.3 L360.5,320.2 L364.6,322.1 L364.6,322.1 Z" fill="#99c2c1" stroke="#111" stroke-width="0.8"/>
<line x1="364.7" y1="266.0" x2="364.7" y2="322.0" stroke="#111" stroke-width="1.1"/>
<path d="M369.7 296.8h0M385.5 288.0h0M371.5 295.2h0M370.9 287.7h0M381.9 300.6h0M381.7 303.4h0M374.0 267.6h0M372.4 303.4h0M384.7 298.7h0M378.9 291.6h0M380.3 297.3h0M370.4 280.7h0M371.2 297.7h0M385.4 294.0h0M378.6 296.7h0M373.2 292.3h0M378.1 290.9h0M370.1 305.8h0M386.6 302.8h0M378.8 292.9h0M372.4 279.6h0M386.4 302.5h0M379.2 298.4h0M383.1 297.1h0M386.7 288.7h0M378.4 314.4h0M382.8 303.9h0M371.4 304.3h0M375.7 285.4h0M381.3 306.5h0M370.2 295.6h0M383.4 284.2h0M371.6 277.7h0M384.3 289.6h0M374.8 305.3h0M369.4 299.1h0M380.3 299.1h0M386.5 293.8h0M381.7 276.2h0M382.9 279.8h0M371.0 303.2h0M379.0 313.5h0M381.2 282.4h0M379.7 283.7h0M381.3 291.1h0M377.1 300.6h0M370.6 295.3h0M385.2 321.3h0M370.9 294.6h0M384.1 298.3h0M375.8 309.1h0M369.4 279.4h0M381.3 301.0h0M375.7 298.1h0M371.0 303.7h0M370.4 283.0h0M377.0 279.9h0M374.2 299.8h0M371.9 312.2h0M374.0 285.3h0M372.3 286.3h0M376.4 294.1h0M377.9 288.6h0M377.5 318.3h0M381.7 267.2h0M373.1 319.4h0M371.8 299.0h0M370.9 281.6h0M380.8 293.8h0M371.3 282.4h0M371.4 315.9h0M372.9 312.6h0M372.3 310.4h0M370.4 294.6h0M378.2 296.9h0M384.0 299.2h0M375.8 296.5h0M375.6 308.4h0M383.1 309.1h0M374.2 308.0h0M376.0 266.4h0M370.8 297.9h0M382.9 300.4h0M380.3 291.1h0M374.5 291.6h0M379.2 301.9h0M373.8 272.5h0M383.3 307.2h0M372.3 313.2h0M371.9 308.4h0M385.5 289.3h0M369.8 291.4h0M371.2 307.5h0M370.0 302.1h0M374.4 304.3h0M384.9 304.2h0M383.1 298.3h0M373.2 296.3h0M382.7 299.7h0M369.3 298.3h0M379.0 283.4h0M384.9 299.5h0M370.9 311.2h0M372.0 298.3h0M383.1 278.7h0M378.6 311.7h0M376.1 283.2h0M377.3 310.1h0M384.5 318.8h0M376.8 298.8h0M377.5 319.2h0M381.9 302.1h0M381.8 307.2h0M378.5 301.3h0M371.9 304.7h0M369.6 303.6h0M377.2 301.2h0M383.7 288.4h0M379.6 294.2h0M374.9 296.8h0M385.8 289.9h0M383.2 295.9h0M369.6 279.2h0M371.5 288.3h0M371.8 291.6h0M372.4 303.3h0M374.5 301.3h0M384.8 293.5h0M378.6 291.6h0M372.9 315.4h0M376.1 287.6h0M373.3 289.5h0M383.7 299.0h0M383.3 285.0h0M378.2 312.6h0M383.3 317.0h0M385.3 313.9h0M381.0 314.3h0M370.5 307.8h0M371.3 304.5h0M383.7 288.5h0M376.6 276.5h0M371.1 293.5h0M376.3 290.7h0M378.5 289.5h0M378.5 290.3h0M372.8 286.0h0M380.6 288.8h0M375.4 299.8h0M379.1 310.6h0M383.8 279.6h0M370.6 289.7h0M370.6 314.9h0M379.9 296.0h0M385.1 296.1h0M382.3 293.5h0M376.5 290.2h0M384.6 294.9h0M380.0 302.5h0M375.9 271.2h0M369.9 287.7h0M375.7 301.7h0M377.3 297.2h0M379.1 307.2h0M378.0 297.7h0M383.6 285.0h0M380.8 296.0h0M377.3 286.6h0M375.6 287.7h0M371.5 310.0h0M382.9 301.1h0M378.3 314.5h0M386.2 290.4h0M381.1 276.1h0M370.2 291.1h0M378.2 298.4h0M376.5 298.6h0M370.2 308.4h0M371.0 290.0h0M378.4 319.0h0M376.9 279.3h0M381.5 291.4h0M380.5 293.0h0M370.3 306.5h0M372.6 299.9h0M383.4 298.2h0M382.5 288.7h0M371.8 300.6h0M374.0 302.0h0M385.5 302.3h0M384.1 270.7h0M376.5 281.5h0M375.3 313.2h0M379.2 305.9h0M381.3 300.4h0M375.3 288.9h0M374.4 311.1h0M377.7 300.3h0M385.7 303.2h0M375.5 289.9h0M377.0 294.7h0M384.7 286.2h0M372.1 295.8h0M372.8 296.2h0M382.5 320.3h0M385.0 280.2h0M375.4 300.3h0M374.0 299.5h0M375.2 300.4h0M374.8 299.3h0M371.8 298.6h0M378.2 272.3h0M373.4 307.4h0M383.4 302.4h0M372.7 286.3h0M382.2 303.1h0M380.7 287.4h0M384.9 303.2h0M383.2 296.5h0M372.8 288.9h0M375.9 288.5h0M375.5 313.5h0M374.5 296.1h0M375.9 310.0h0M375.0 311.8h0M376.5 299.6h0M375.7 298.6h0M379.2 288.2h0M380.8 282.8h0M386.6 301.4h0M373.5 309.9h0M377.9 302.2h0M369.8 296.2h0M369.9 306.1h0M379.1 301.4h0M386.5 286.1h0M369.8 285.8h0M373.9 313.7h0M383.5 294.4h0M382.6 306.9h0M376.9 280.0h0M379.4 307.6h0M382.8 282.0h0M378.8 292.4h0M374.8 295.8h0M369.9 291.0h0M383.6 302.6h0M374.5 294.8h0M384.1 288.4h0M372.6 301.4h0M382.0 287.1h0M381.6 304.0h0M372.8 289.9h0M369.7 299.5h0M369.8 283.0h0M379.7 312.4h0M374.5 300.0h0M379.3 290.3h0M369.8 310.7h0M377.7 314.0h0M373.8 297.3h0M370.4 299.9h0M377.6 310.8h0M380.5 296.4h0M374.7 281.4h0M376.1 286.6h0M385.0 305.9h0M370.5 298.6h0M372.5 301.6h0M383.1 310.4h0M371.7 304.0h0M382.2 290.4h0M375.7 318.2h0M374.2 307.7h0M386.7 306.3h0M371.8 299.3h0M386.8 307.5h0M377.0 287.0h0M377.6 305.1h0M376.4 295.4h0M373.6 303.6h0M374.6 297.2h0M376.2 318.2h0M369.7 296.3h0M384.2 313.6h0M380.7 293.0h0M369.4 300.6h0M379.4 286.0h0M374.4 308.3h0M371.9 298.0h0M372.1 295.3h0M382.6 302.7h0M374.0 305.8h0M379.4 303.5h0M376.6 305.8h0M377.4 290.1h0M384.4 293.9h0M376.6 298.6h0M379.7 283.8h0M370.4 306.7h0M384.6 306.0h0M384.1 301.1h0M385.2 286.0h0M377.5 287.5h0M380.6 281.1h0M381.3 296.8h0M370.0 292.7h0M375.8 274.9h0M384.1 301.8h0M381.3 308.4h0M377.2 310.4h0M377.4 297.4h0M377.4 298.5h0M373.2 281.0h0M375.5 320.8h0M383.0 285.9h0M371.1 313.4h0M373.0 274.3h0M373.1 302.2h0M384.6 310.3h0M372.7 300.2h0M386.0 314.5h0M371.3 282.6h0M384.8 291.7h0M380.4 296.9h0M379.5 290.4h0M373.5 293.0h0M372.3 301.0h0M377.5 301.9h0M381.7 304.0h0M378.3 311.8h0M373.0 313.6h0M373.6 297.9h0M370.3 296.4h0M386.8 288.5h0M378.2 315.5h0M380.6 313.7h0M376.5 298.4h0M379.2 302.4h0M373.4 318.6h0M375.5 299.8h0M380.8 299.9h0M379.8 290.5h0M381.4 293.6h0M385.6 298.0h0M381.1 295.1h0M381.4 305.3h0M378.3 297.5h0M383.4 309.2h0M378.7 270.6h0M372.9 290.7h0M381.1 295.2h0M373.0 289.6h0M383.4 286.2h0M382.1 289.3h0M384.7 301.4h0M373.8 297.2h0M375.5 287.9h0M379.5 293.3h0M386.6 286.5h0M373.9 294.3h0M374.4 312.1h0M379.9 310.5h0M373.6 294.4h0M386.3 293.2h0M383.0 303.3h0M381.6 312.0h0M375.9 300.1h0M374.7 305.9h0M375.9 280.6h0M381.7 285.6h0M378.2 299.1h0M369.5 300.0h0M384.6 298.2h0M381.6 297.9h0M376.9 301.7h0M383.0 285.3h0M378.9 305.8h0M385.8 271.0h0M375.2 309.3h0M370.8 295.6h0M385.2 301.2h0M378.5 303.5h0M379.7 296.0h0M380.0 297.4h0M380.3 310.9h0M370.6 281.2h0M371.8 305.3h0M374.5 286.5h0M374.3 313.9h0M385.5 308.3h0M372.2 298.1h0M378.7 298.7h0M374.0 298.4h0M383.1 298.7h0M381.9 320.5h0M383.1 302.2h0M382.5 290.6h0M381.8 280.7h0M373.8 298.7h0M375.6 319.5h0M370.6 289.6h0M375.7 294.4h0M376.2 302.3h0M385.1 281.0h0M372.8 293.0h0M370.5 283.7h0M380.1 291.3h0M377.8 298.6h0M379.0 300.1h0M376.8 296.7h0M382.2 282.9h0M385.2 282.3h0M380.2 308.2h0M372.7 297.4h0M377.5 291.3h0M382.1 291.0h0M382.6 304.5h0M385.1 293.2h0M371.3 309.4h0M382.1 285.9h0M384.6 273.4h0M383.7 311.1h0M378.2 299.9h0M371.5 307.9h0M380.3 287.5h0M384.1 309.5h0M375.0 301.6h0M382.5 285.6h0M369.6 288.5h0M370.9 300.3h0M379.8 306.7h0M385.2 275.2h0M383.7 289.6h0M376.4 299.4h0M383.4 305.4h0M383.5 281.2h0M381.3 297.3h0M371.5 312.7h0M378.1 283.2h0M377.4 296.8h0M383.4 285.5h0M376.9 295.3h0M370.5 308.3h0M386.1 290.9h0M371.5 298.7h0M376.3 300.7h0M384.9 293.1h0M380.8 299.3h0M379.8 298.9h0M374.1 299.3h0M374.0 288.6h0M377.4 294.5h0M378.8 281.9h0M376.9 290.6h0M374.7 292.3h0M374.6 278.4h0M373.3 284.3h0M383.6 288.6h0M386.5 301.1h0M369.5 300.6h0M372.0 308.9h0M385.9 287.2h0M369.5 297.8h0M382.1 301.7h0M384.2 305.2h0M371.0 289.4h0M369.2 286.3h0M376.6 301.6h0M378.6 290.9h0M381.0 317.3h0M380.5 302.4h0M376.1 296.5h0M373.6 302.2h0M383.2 294.1h0M384.3 299.2h0M378.2 302.7h0M383.0 296.3h0M384.1 300.0h0M381.2 303.0h0M381.6 297.0h0M381.2 287.6h0M382.0 305.3h0M373.0 314.8h0M373.0 309.6h0M374.2 303.9h0M373.1 313.5h0M370.1 294.3h0M375.2 289.9h0M379.5 295.4h0M372.6 318.7h0M382.4 297.8h0M384.5 315.8h0M384.1 283.3h0M371.8 319.2h0M378.8 310.8h0M379.5 285.4h0M386.8 296.0h0M378.3 295.2h0M374.3 277.1h0M382.7 304.3h0M379.8 304.8h0M377.5 295.9h0M385.3 301.9h0M371.5 291.7h0M378.0 290.6h0M383.9 309.6h0M376.3 293.6h0M378.7 303.0h0M370.8 291.7h0M384.5 272.3h0M374.5 302.1h0M379.9 306.9h0M385.7 284.0h0M373.1 286.1h0M382.8 305.1h0M383.8 287.4h0M382.2 294.7h0M386.6 286.3h0M372.5 308.6h0M369.8 309.2h0M378.4 282.6h0M378.0 280.1h0M382.1 293.7h0M374.5 306.2h0M383.7 308.4h0M371.8 310.2h0M386.5 307.2h0M384.1 299.6h0M369.4 299.7h0M376.1 303.3h0M381.7 293.8h0M377.5 312.4h0M385.2 289.2h0M369.7 296.4h0M378.9 290.7h0M371.9 293.7h0M379.1 302.5h0M370.5 306.8h0M378.6 312.2h0M369.4 298.3h0M369.8 309.6h0M378.9 283.0h0M386.6 279.9h0M370.2 309.3h0M373.5 302.2h0M369.9 304.5h0M374.9 298.0h0M374.7 306.7h0M378.1 315.2h0M380.2 303.9h0M372.4 296.1h0M386.0 297.7h0M373.5 313.7h0M378.3 285.3h0M374.5 285.8h0M383.0 280.1h0M376.3 302.3h0M374.3 297.6h0M377.0 288.8h0M386.1 297.5h0M375.3 283.2h0M372.2 299.2h0M383.1 279.2h0M384.9 298.2h0M373.1 293.0h0M375.8 299.5h0M384.1 304.1h0M369.9 308.0h0M369.8 309.0h0M376.8 313.5h0M382.7 297.0h0M377.0 284.1h0M382.9 311.2h0M381.9 290.2h0M379.1 294.4h0M386.6 302.4h0M386.4 298.9h0M370.5 308.2h0M374.2 316.8h0M384.2 304.3h0M375.7 297.3h0M371.1 289.9h0M383.3 315.7h0M376.8 281.9h0M373.1 291.4h0M369.2 293.3h0M372.5 298.1h0M375.9 289.5h0M374.4 274.3h0M381.1 280.5h0M378.4 297.5h0M384.4 300.3h0M371.6 289.5h0M386.2 296.4h0M369.2 303.4h0M371.0 319.3h0M378.6 299.6h0M380.5 296.7h0M379.5 301.6h0M380.4 278.6h0M381.5 304.6h0M381.8 296.1h0M375.0 309.0h0M383.0 295.7h0M377.8 311.7h0M370.4 302.6h0M379.1 303.1h0M377.1 301.0h0M377.6 290.1h0M373.7 303.5h0M382.6 289.1h0M379.2 287.2h0M384.3 294.1h0M382.0 302.1h0M379.3 297.5h0M373.5 306.4h0M375.8 310.8h0M372.3 312.0h0M373.6 280.4h0M384.4 291.4h0M375.6 298.9h0M378.0 311.4h0M371.4 295.3h0M375.4 284.2h0M384.9 294.3h0M372.5 311.6h0M371.5 310.3h0M374.1 302.7h0M380.4 302.6h0M380.3 296.1h0M386.0 296.0h0M380.4 304.5h0M375.5 306.0h0M375.5 298.3h0M371.6 276.7h0M373.2 284.2h0M374.9 291.7h0M374.5 300.8h0M382.3 301.2h0M381.9 283.6h0M378.6 304.8h0M370.5 291.1h0M375.7 298.3h0M369.6 289.4h0M377.5 312.2h0M370.8 281.4h0M369.7 291.7h0M375.6 295.9h0M371.3 295.2h0M384.8 307.7h0M386.0 300.0h0M374.7 288.6h0M375.5 302.7h0M383.4 300.2h0M383.0 303.7h0M381.1 288.1h0M379.1 304.5h0M375.3 313.1h0M383.9 294.9h0M370.6 284.0h0M371.2 308.5h0M376.0 296.6h0M382.2 296.8h0M376.4 304.0h0M378.8 280.3h0M373.9 293.8h0M381.9 289.4h0M379.5 290.2h0M379.3 305.2h0M375.5 310.5h0M375.9 291.6h0M382.9 276.4h0M379.7 306.7h0M379.3 304.1h0M371.7 270.4h0M386.6 295.0h0M383.6 292.6h0M375.9 292.4h0M381.4 288.0h0M380.6 287.1h0M379.9 294.2h0M386.0 298.1h0M369.3 295.3h0M371.9 298.3h0M383.5 300.6h0M379.9 296.2h0M379.1 292.2h0M381.3 276.8h0M371.1 289.3h0M370.0 307.7h0M377.0 289.6h0M385.9 310.1h0M380.8 297.8h0M369.3 293.2h0M384.1 299.1h0M369.3 295.7h0M377.7 306.2h0M371.3 296.9h0M372.2 298.6h0M372.0 313.9h0M380.5 314.3h0M375.1 294.8h0M382.8 293.2h0M375.5 298.4h0M376.9 302.1h0M381.2 304.6h0M379.4 294.8h0M386.6 297.9h0M374.7 293.2h0M370.1 285.7h0M386.4 306.7h0M381.7 302.1h0M377.6 276.9h0M382.3 294.8h0M384.4 300.3h0M382.9 290.1h0M370.7 300.0h0M379.4 285.7h0M378.4 298.9h0M386.0 316.5h0M377.5 278.1h0M376.3 297.7h0M384.8 311.0h0M374.1 294.2h0M375.7 306.4h0M381.9 305.5h0M374.7 292.8h0M369.4 285.8h0M375.6 294.5h0M380.9 307.2h0M371.4 307.9h0M373.9 295.6h0M386.1 302.7h0M384.3 290.6h0M375.6 286.0h0M375.5 291.5h0M376.9 285.0h0M370.2 274.7h0M386.1 303.3h0M386.3 291.4h0M374.1 311.6h0M377.7 307.9h0M374.9 304.1h0M379.1 298.6h0M381.3 306.3h0M377.6 297.1h0M377.5 295.1h0M386.4 303.2h0M374.7 286.4h0M377.0 284.8h0M381.8 310.9h0M372.9 298.4h0M371.5 284.9h0M379.0 300.2h0M377.4 302.4h0M380.0 289.9h0M378.4 304.6h0M375.7 314.4h0M374.1 304.5h0M379.4 304.6h0M376.1 307.8h0M375.5 297.0h0M383.2 289.7h0M369.4 278.6h0M385.6 318.8h0M377.5 307.7h0M370.8 319.2h0M384.1 302.3h0M373.7 286.4h0M370.0 294.5h0M384.4 292.3h0M379.4 277.5h0M385.9 286.3h0M378.7 299.5h0M374.6 306.5h0M375.8 300.8h0M385.7 308.5h0M386.3 302.4h0M378.0 294.4h0M384.1 302.8h0M369.4 297.7h0M375.9 300.8h0M380.2 306.7h0M370.9 295.4h0M376.9 300.8h0M374.5 295.9h0M380.9 285.5h0M385.2 307.0h0M381.5 301.6h0M372.0 297.6h0M380.0 312.9h0M384.2 307.2h0M369.8 275.7h0M374.7 313.9h0M383.9 306.7h0M373.3 301.9h0M375.1 293.6h0M371.3 302.3h0M381.4 285.6h0M384.8 303.8h0M374.9 281.7h0M381.7 279.7h0M382.9 287.8h0M385.6 307.9h0M374.6 304.4h0M372.9 288.1h0M383.6 307.7h0M372.8 293.3h0M386.1 303.6h0M386.8 301.0h0M370.6 293.1h0M385.6 303.4h0M377.1 291.8h0M380.5 309.6h0M376.0 301.9h0M369.6 312.0h0M371.8 289.7h0M369.7 311.5h0M380.0 277.7h0M378.7 308.0h0M374.9 302.2h0M384.5 299.5h0M384.7 294.5h0M382.0 288.2h0M371.9 292.0h0M386.3 297.7h0M379.4 284.6h0M370.9 310.1h0M384.9 289.2h0M377.0 302.1h0M371.0 288.3h0M384.6 310.5h0M370.1 299.6h0M380.5 290.6h0M374.9 302.9h0M378.2 294.0h0M372.0 305.6h0M384.2 319.8h0M369.4 282.9h0M372.1 284.0h0M378.7 291.0h0M383.7 301.5h0M369.9 290.6h0M376.6 298.0h0M382.1 296.5h0M376.3 303.7h0M376.6 286.9h0M371.1 285.5h0M378.7 278.5h0M382.6 314.3h0M375.3 305.3h0M381.8 303.1h0M382.9 304.0h0M382.4 286.3h0M373.9 285.3h0M374.1 308.3h0M385.2 306.9h0M370.5 293.8h0M384.4 298.7h0M383.9 272.2h0M375.2 290.2h0M382.3 312.7h0M373.0 310.6h0M371.4 309.5h0M381.9 278.8h0M379.1 300.2h0M386.3 303.8h0M377.1 290.7h0M384.5 285.9h0M375.0 299.1h0M372.2 282.9h0M371.7 297.4h0M369.9 299.5h0M369.4 301.4h0M375.6 277.5h0M370.3 298.7h0M386.5 294.8h0M383.0 306.7h0M377.7 271.0h0M382.9 289.1h0M382.4 301.0h0M386.5 309.7h0M383.7 306.5h0M372.0 293.4h0M374.3 293.0h0M377.2 301.5h0M374.6 297.2h0M380.9 270.7h0M370.7 307.9h0M376.9 307.1h0M370.5 291.0h0M383.4 295.5h0M373.1 306.4h0M386.1 283.9h0M369.7 287.4h0M382.4 297.1h0M376.7 282.4h0M372.7 292.6h0M382.4 301.2h0M380.8 309.0h0M382.1 282.9h0M385.1 300.6h0M382.8 285.1h0M369.3 280.6h0M381.8 298.6h0M382.0 289.5h0M378.7 278.2h0M375.8 305.8h0M372.3 288.5h0M370.2 301.5h0M377.3 296.8h0M372.1 314.1h0M381.7 284.5h0M378.2 304.0h0M383.0 300.5h0M372.2 315.0h0M372.2 278.8h0M371.4 307.8h0M377.2 311.5h0M382.0 301.0h0M379.1 295.5h0M378.5 300.2h0M382.2 307.2h0M375.7 305.7h0M382.9 296.0h0M371.3 301.3h0M379.7 297.6h0M384.6 300.3h0M369.8 294.0h0M382.0 294.1h0M385.2 266.0h0M372.0 305.9h0M382.1 310.6h0M382.6 309.4h0M370.6 301.3h0M374.6 294.5h0M384.2 300.5h0M377.0 301.2h0M378.1 291.4h0M385.9 281.2h0M377.0 287.8h0M383.4 293.1h0M383.1 301.6h0M385.5 297.5h0M379.7 305.8h0M384.4 313.4h0M379.3 287.6h0M380.7 308.2h0M373.3 318.4h0M372.0 288.2h0M375.2 310.7h0M375.0 304.5h0M384.7 298.1h0M369.2 298.6h0M373.8 307.8h0M375.0 294.4h0M369.5 303.2h0M376.8 279.4h0M382.2 297.2h0M383.6 299.6h0M380.3 303.3h0M378.2 291.1h0M369.6 290.7h0M378.6 305.6h0M381.2 299.8h0M379.8 321.8h0M374.8 301.2h0M379.9 310.5h0M381.5 290.0h0M376.7 303.1h0M373.8 300.9h0M378.3 321.3h0M372.3 289.1h0M382.8 298.3h0M379.7 299.7h0M381.0 289.4h0M383.1 303.1h0M386.7 296.4h0M374.0 293.2h0M373.5 290.8h0M385.5 310.9h0M369.6 307.4h0M382.1 288.4h0M384.5 302.6h0M382.9 306.4h0M375.5 313.5h0M372.8 294.4h0M381.8 297.2h0M381.2 307.4h0M369.6 311.0h0M371.3 287.9h0M376.8 292.7h0M378.7 287.6h0M382.8 285.5h0M376.4 299.2h0M377.2 292.8h0M373.2 309.5h0M370.1 281.1h0M385.7 302.8h0M375.3 315.2h0M386.2 290.8h0M373.7 285.9h0M376.5 309.0h0M374.0 276.6h0M371.2 309.7h0M386.5 305.9h0M377.5 298.6h0M380.1 301.4h0M374.0 302.3h0M379.9 305.6h0M369.3 294.0h0M372.2 301.3h0M382.2 303.2h0M373.4 293.7h0M374.9 290.7h0M386.1 293.9h0M374.7 301.3h0M382.6 281.6h0M380.0 301.1h0M377.8 280.1h0M385.5 283.8h0M381.8 293.9h0M385.7 312.1h0M375.4 282.1h0M379.3 300.0h0M380.9 314.5h0M373.5 296.1h0M375.8 303.4h0M379.1 303.2h0M380.2 291.3h0M380.1 298.2h0M383.3 286.1h0M372.4 280.6h0M386.7 294.4h0M384.5 307.3h0M374.5 321.0h0M376.0 299.8h0M369.3 296.2h0M371.7 303.2h0M386.4 299.7h0M373.4 314.8h0M378.5 303.3h0M375.5 307.6h0M379.5 285.2h0M374.5 293.0h0M380.6 289.6h0M376.7 277.9h0M385.0 305.5h0M382.7 290.7h0M384.7 300.5h0M385.3 289.3h0M369.2 308.5h0M374.9 273.2h0M385.5 295.0h0M378.8 305.6h0M376.9 296.8h0M374.4 291.3h0M376.5 272.6h0M383.3 300.9h0M373.5 293.3h0M371.1 300.6h0M381.1 296.4h0M381.8 301.6h0M378.6 284.9h0M378.3 291.9h0M379.5 289.1h0M375.1 289.1h0M374.9 273.9h0M380.9 280.2h0M369.8 301.3h0M384.8 308.7h0M374.5 285.6h0M380.1 289.2h0M378.2 285.3h0M379.4 285.7h0M380.4 289.6h0M380.6 311.8h0M370.0 300.6h0M378.3 306.7h0M377.1 304.0h0M382.2 299.8h0M378.2 313.6h0M381.0 307.8h0M381.3 295.7h0M380.8 293.5h0M375.0 316.2h0M384.8 309.9h0M376.5 279.8h0M386.2 302.5h0M378.2 301.6h0M378.2 314.5h0M386.5 283.5h0M376.1 285.1h0M379.4 301.0h0M376.2 285.2h0M375.5 289.2h0M371.9 310.7h0M372.4 295.7h0M371.8 300.1h0M370.1 308.2h0M371.0 296.9h0M381.7 316.8h0M375.9 300.4h0M374.5 314.5h0M376.3 266.2h0M378.6 282.0h0M381.0 297.6h0M375.8 281.5h0M381.0 280.4h0M381.0 290.5h0M386.7 301.6h0M382.8 286.5h0M381.6 295.9h0M378.7 284.2h0M383.5 291.8h0M385.3 304.7h0M382.5 306.0h0M381.8 282.8h0M385.0 317.8h0M376.3 294.8h0M385.8 315.2h0M386.1 299.4h0M384.6 300.8h0M381.9 311.3h0M369.5 310.2h0M369.7 290.1h0M370.4 302.9h0M370.2 290.8h0M381.0 276.6h0M381.0 280.7h0M380.7 294.0h0M386.6 295.9h0M375.2 311.1h0M382.7 305.2h0M376.6 303.1h0M376.5 284.5h0M373.8 296.2h0M370.0 308.4h0M385.4 286.4h0M385.1 307.1h0M371.6 309.5h0M379.1 293.7h0M382.0 297.7h0M379.0 303.2h0M384.1 304.5h0M372.4 297.9h0M369.2 303.0h0M383.0 296.1h0M370.2 297.5h0M381.0 299.2h0M373.2 313.6h0M379.5 293.9h0M377.2 291.5h0M375.2 293.8h0M380.1 310.0h0M381.2 318.9h0M386.1 298.7h0M380.5 284.3h0M371.5 291.9h0M379.7 296.9h0M373.7 297.8h0M380.1 289.7h0M379.3 280.1h0M381.2 308.8h0M376.8 313.1h0M379.4 293.6h0M373.5 312.5h0M380.1 289.3h0M380.8 302.3h0M374.0 288.8h0M370.1 279.9h0M381.6 309.5h0M381.2 293.4h0M384.9 281.0h0M376.7 311.4h0M377.2 299.3h0M371.1 303.0h0M381.2 295.1h0M383.7 311.7h0M375.6 302.0h0M380.3 280.7h0M373.4 316.1h0M383.3 314.8h0M379.4 292.3h0M372.7 280.6h0M375.7 290.7h0M374.3 315.9h0M385.7 305.6h0M373.2 286.9h0M369.6 298.0h0M371.0 297.2h0M376.6 306.9h0M380.8 291.6h0M372.1 298.6h0M386.2 290.0h0M383.3 294.7h0M380.5 299.4h0M381.1 300.7h0M382.0 275.0h0M385.3 300.5h0M383.2 292.5h0M380.5 302.2h0M383.6 313.5h0M379.1 305.4h0M371.9 291.3h0M372.9 299.7h0M378.2 293.6h0M372.2 300.2h0M384.3 291.9h0M373.4 298.9h0M385.7 303.4h0M382.1 309.2h0M369.9 304.9h0M384.6 302.9h0M380.0 298.6h0M371.3 309.3h0M380.9 311.7h0M383.7 302.2h0M373.3 304.9h0M373.2 294.2h0M375.1 299.6h0M379.7 289.3h0M380.6 297.0h0M380.7 287.6h0M378.1 287.0h0M369.5 302.7h0M369.4 311.1h0M374.3 288.2h0M370.5 287.6h0M371.9 296.8h0M380.2 298.8h0M374.0 313.6h0M381.0 299.1h0M381.7 302.0h0M372.7 297.4h0M383.1 305.1h0M384.7 298.6h0M383.5 292.2h0M370.9 283.2h0M375.4 297.4h0M376.0 314.9h0M373.4 304.3h0M380.4 285.1h0M376.3 309.9h0M370.5 311.5h0M384.7 279.8h0M377.2 308.0h0M371.6 317.1h0M376.2 287.3h0M385.8 295.1h0M385.8 298.7h0M372.2 292.0h0M378.9 297.0h0M376.5 298.8h0M380.7 292.2h0M382.1 277.1h0M373.0 294.8h0M377.5 309.4h0M382.2 287.2h0M386.3 288.2h0M374.3 291.5h0M372.4 289.7h0M376.2 291.6h0M376.6 293.7h0M377.8 298.9h0M381.1 294.3h0M383.0 278.9h0M381.4 300.4h0M370.5 291.5h0M385.5 305.4h0M381.9 290.5h0M385.8 312.7h0M384.5 291.6h0M386.6 321.7h0M383.0 306.3h0M370.9 282.6h0M372.7 311.4h0M376.2 272.3h0M371.4 294.0h0M378.1 293.3h0M379.3 289.3h0M370.8 304.1h0M385.1 299.1h0M383.8 290.7h0M383.8 295.9h0M383.3 287.6h0M378.1 291.5h0M374.5 293.0h0M379.0 302.5h0M375.2 311.2h0M378.4 306.4h0M376.1 300.6h0M377.5 305.1h0M377.6 302.3h0M371.4 306.5h0M381.4 294.7h0M377.8 306.5h0M383.4 294.7h0M373.0 302.7h0M382.9 289.4h0M378.4 302.4h0M380.5 315.5h0M375.7 316.6h0M373.0 297.7h0M378.5 306.2h0M384.1 291.5h0M376.9 290.9h0M385.8 297.7h0M375.0 285.3h0M370.7 295.7h0M373.7 301.6h0M370.1 291.8h0M376.6 302.1h0M381.6 297.3h0M371.6 293.5h0M382.1 310.7h0M379.0 290.1h0M385.0 302.4h0M381.4 292.6h0M369.7 304.8h0M385.8 292.7h0M371.6 300.1h0M378.1 273.1h0M369.2 308.2h0M386.7 295.8h0M385.7 300.4h0M381.3 286.4h0M385.8 305.8h0M372.1 284.0h0M385.8 290.7h0M378.4 294.9h0M384.0 307.4h0M373.3 293.3h0M372.6 306.6h0M381.9 299.2h0M382.1 300.3h0M379.4 309.5h0M369.6 302.2h0M373.6 280.6h0M380.5 289.6h0M376.0 313.9h0M380.5 307.5h0M373.1 306.5h0M375.0 300.7h0M386.0 289.7h0M384.4 301.8h0M377.1 302.8h0M384.6 299.6h0M375.2 298.1h0M371.3 318.0h0M372.2 294.1h0M381.0 290.6h0M378.4 301.2h0M379.8 288.4h0M384.4 299.9h0M377.1 296.9h0M371.9 312.3h0M373.2 298.9h0M372.3 298.4h0M384.9 319.5h0M378.2 275.6h0M380.8 305.0h0M377.1 312.8h0M382.8 298.3h0M376.0 285.0h0M380.4 297.8h0M375.9 288.0h0M378.6 309.4h0M369.9 289.3h0M386.4 313.9h0M383.2 285.6h0M385.8 309.9h0M384.4 290.8h0M371.9 299.0h0M377.7 305.3h0M378.5 300.2h0M379.1 302.1h0M376.6 277.0h0M375.5 295.9h0M379.3 300.6h0M377.3 307.3h0M371.3 288.1h0M374.3 284.3h0M381.2 297.6h0M380.1 299.0h0M372.4 287.1h0M383.3 286.6h0M379.3 296.7h0M377.5 289.3h0M379.4 313.1h0M382.4 298.1h0M374.8 286.8h0M377.0 273.5h0M373.5 291.3h0M379.1 305.0h0M382.9 297.8h0M374.2 313.8h0M380.1 289.9h0M373.1 294.0h0M369.4 306.8h0M381.6 317.2h0M372.7 293.6h0M375.4 297.3h0M384.9 294.7h0M370.8 292.5h0M378.9 315.6h0M379.2 287.0h0M385.6 303.5h0M385.6 297.9h0M380.9 309.8h0M383.7 271.9h0M369.7 297.9h0M379.3 297.0h0M386.3 291.5h0M375.1 293.4h0M370.9 279.2h0M386.5 303.0h0M371.0 295.6h0M378.7 293.5h0M376.3 286.0h0M373.4 304.2h0M385.8 296.2h0M378.2 299.3h0M374.3 308.3h0M370.8 292.5h0M386.2 298.6h0M382.0 297.0h0M376.7 296.0h0M376.2 293.2h0M379.0 281.5h0M384.5 297.7h0M377.3 299.2h0M382.4 296.4h0M386.1 315.6h0M386.1 305.0h0M383.3 291.4h0M386.5 288.1h0M374.5 305.8h0M379.5 306.3h0M375.8 286.4h0M372.5 286.3h0M385.7 309.4h0M376.0 292.3h0M377.4 299.2h0M377.3 284.3h0M377.8 308.3h0M373.4 293.0h0M382.4 313.1h0M384.8 291.0h0M371.1 288.2h0M380.7 308.4h0M383.9 317.2h0M369.3 288.5h0M377.2 285.4h0M371.2 285.2h0M371.0 278.5h0M374.3 305.9h0M375.9 295.0h0M369.6 300.0h0M378.6 298.9h0M384.2 297.0h0M376.9 303.3h0M372.4 298.3h0M375.9 307.1h0M369.8 304.4h0M380.9 310.0h0M380.7 291.2h0M385.2 306.7h0M379.5 302.5h0M383.7 302.0h0M373.5 295.5h0M378.5 295.0h0M373.6 309.1h0M376.4 296.5h0M377.6 300.0h0M384.6 296.3h0M380.1 297.8h0M378.4 302.9h0M379.8 299.4h0M375.2 308.5h0M381.3 291.0h0M384.4 300.0h0M381.4 290.5h0M373.2 274.6h0M385.2 290.2h0M377.8 297.9h0M379.1 298.7h0M385.1 305.7h0M370.0 317.5h0M375.0 307.8h0M384.1 295.7h0M372.7 304.9h0M378.1 313.5h0M381.5 310.0h0M382.6 310.1h0M375.7 299.2h0M382.6 294.6h0M371.8 315.7h0M374.2 299.6h0" stroke="#8cc9c2" stroke-opacity="0.5" stroke-width="1.1" stroke-linecap="round" fill="none"/>
<path d="M290.0,274.6 L334.0,287.6 L378.0,300.6" fill="none" stroke="#000" stroke-width="2.2" stroke-linecap="round" stroke-dasharray="0 5.6"/>
<line x1="290.0" y1="226.4" x2="290.0" y2="263.0" stroke="#000" stroke-width="1.0"/>
<line x1="290.0" y1="287.5" x2="290.0" y2="316.8" stroke="#000" stroke-width="1.0"/>
<line x1="287.2" y1="226.4" x2="292.8" y2="226.4" stroke="#000" stroke-width="1.0"/>
<line x1="287.2" y1="316.8" x2="292.8" y2="316.8" stroke="#000" stroke-width="1.0"/>
<rect x="283.2" y="263.0" width="13.6" height="24.5" fill="none" stroke="#000" stroke-width="1.0"/>
<line x1="283.2" y1="276.0" x2="296.8" y2="276.0" stroke="#000" stroke-width="1.0"/>
<circle cx="290.0" cy="274.6" r="2.9" fill="#000"/>
<path d="M290.0,187.6L291.5,189.5L290.0,191.4L288.5,189.5ZM290.0,195.1L291.5,197.0L290.0,198.9L288.5,197.0ZM290.0,202.6L291.5,204.5L290.0,206.4L288.5,204.5ZM290.0,210.1L291.5,212.0L290.0,213.9L288.5,212.0ZM290.0,214.1L291.5,216.0L290.0,217.9L288.5,216.0ZM290.0,215.8L291.5,217.7L290.0,219.6L288.5,217.7ZM290.0,217.5L291.5,219.4L290.0,221.3L288.5,219.4ZM290.0,219.2L291.5,221.1L290.0,223.0L288.5,221.1ZM290.0,220.9L291.5,222.8L290.0,224.7L288.5,222.8ZM290.0,222.6L291.5,224.5L290.0,226.4L288.5,224.5Z" fill="#000"/>
<line x1="378.0" y1="273.0" x2="378.0" y2="294.7" stroke="#000" stroke-width="1.0"/>
<line x1="378.0" y1="308.2" x2="378.0" y2="321.5" stroke="#000" stroke-width="1.0"/>
<line x1="375.2" y1="273.0" x2="380.8" y2="273.0" stroke="#000" stroke-width="1.0"/>
<line x1="375.2" y1="321.5" x2="380.8" y2="321.5" stroke="#000" stroke-width="1.0"/>
<rect x="371.4" y="294.7" width="13.2" height="13.5" fill="none" stroke="#000" stroke-width="1.0"/>
<line x1="371.4" y1="301.0" x2="384.6" y2="301.0" stroke="#000" stroke-width="1.0"/>
<circle cx="378.0" cy="300.6" r="2.9" fill="#000"/>
<path d="M378.0,242.3L379.4,244.0L378.0,245.7L376.6,244.0ZM378.0,249.3L379.4,251.0L378.0,252.7L376.6,251.0ZM378.0,253.3L379.4,255.0L378.0,256.7L376.6,255.0ZM378.0,254.9L379.4,256.6L378.0,258.3L376.6,256.6ZM378.0,256.5L379.4,258.2L378.0,259.9L376.6,258.2ZM378.0,258.1L379.4,259.8L378.0,261.5L376.6,259.8ZM378.0,259.7L379.4,261.4L378.0,263.1L376.6,261.4ZM378.0,261.3L379.4,263.0L378.0,264.7L376.6,263.0ZM378.0,262.9L379.4,264.6L378.0,266.3L376.6,264.6ZM378.0,264.5L379.4,266.2L378.0,267.9L376.6,266.2ZM378.0,266.1L379.4,267.8L378.0,269.5L376.6,267.8ZM378.0,267.7L379.4,269.4L378.0,271.1L376.6,269.4ZM378.0,269.3L379.4,271.0L378.0,272.7L376.6,271.0Z" fill="#000"/>
<line x1="371.4" y1="184.0" x2="371.4" y2="212.4" stroke="#222" stroke-width="0.9"/>
<line x1="371.0" y1="212.2" x2="417.0" y2="212.2" stroke="#222" stroke-width="0.9"/>
<text x="367.0" y="191.5" font-size="7" text-anchor="end" fill="#4d4d4d">100</text>
<text x="367.0" y="214.5" font-size="7" text-anchor="end" fill="#4d4d4d">0</text>
<text x="352.8" y="198.6" font-size="7.2" font-weight="bold" text-anchor="middle" fill="#000" transform="rotate(-90 352.8 198.6)">Count</text>
<text x="388.6" y="223.2" font-size="7" text-anchor="middle" fill="#4d4d4d">500</text>
<text x="417.0" y="223.2" font-size="7" text-anchor="middle" fill="#4d4d4d">1000</text>
<text x="393.6" y="231.5" font-size="7.15" font-weight="bold" text-anchor="middle" fill="#111">Fiber length (mm)</text>
<text x="393.6" y="239.0" font-size="7.15" font-weight="bold" text-anchor="middle" fill="#111">of network edges</text>
<g fill="#9fd0ca"><rect x="379.00" y="211.0" width="1.0" height="1.0"/><rect x="380.12" y="210.0" width="1.0" height="2.0"/><rect x="381.24" y="209.0" width="1.0" height="3.0"/><rect x="382.36" y="207.0" width="1.0" height="5.0"/><rect x="383.48" y="204.0" width="1.0" height="8.0"/><rect x="384.60" y="200.0" width="1.0" height="12.0"/><rect x="385.72" y="197.0" width="1.0" height="15.0"/><rect x="386.84" y="194.0" width="1.0" height="18.0"/><rect x="387.96" y="190.0" width="1.0" height="22.0"/><rect x="389.08" y="186.0" width="1.0" height="26.0"/><rect x="390.20" y="187.0" width="1.0" height="25.0"/><rect x="391.32" y="188.0" width="1.0" height="24.0"/><rect x="392.44" y="190.0" width="1.0" height="22.0"/><rect x="393.56" y="186.0" width="1.0" height="26.0"/><rect x="394.68" y="191.0" width="1.0" height="21.0"/><rect x="395.80" y="193.0" width="1.0" height="19.0"/><rect x="396.92" y="195.0" width="1.0" height="17.0"/><rect x="398.04" y="198.0" width="1.0" height="14.0"/><rect x="399.16" y="201.0" width="1.0" height="11.0"/><rect x="400.28" y="204.0" width="1.0" height="8.0"/><rect x="401.40" y="207.0" width="1.0" height="5.0"/><rect x="402.52" y="209.0" width="1.0" height="3.0"/><rect x="403.64" y="210.0" width="1.0" height="2.0"/><rect x="404.76" y="211.0" width="1.0" height="1.0"/></g>
<line x1="408.6" y1="184.0" x2="408.6" y2="212.0" stroke="#22283e" stroke-width="1"/>
<text transform="translate(3.2,367.4) scale(0.9,1)" font-size="12.2" font-weight="bold" fill="#000">E)</text>
<text x="60.7" y="373.2" font-size="7.65" font-weight="bold" text-anchor="middle" fill="#111">Male</text>
<text x="60.7" y="381.4" font-size="7.65" font-weight="bold" text-anchor="middle" fill="#111">participants</text>
<line x1="31.2" y1="386.0" x2="31.2" y2="450.4" stroke="#222" stroke-width="0.8"/>
<line x1="30.8" y1="450.0" x2="91.2" y2="450.0" stroke="#222" stroke-width="0.8"/>
<text x="26.6" y="405.0" font-size="6.95" text-anchor="end" fill="#4d4d4d">1500</text>
<text x="26.6" y="423.1" font-size="6.95" text-anchor="end" fill="#4d4d4d">1000</text>
<text x="26.6" y="440.9" font-size="6.95" text-anchor="end" fill="#4d4d4d">500</text>
<text x="7.4" y="418.2" font-size="7.3" font-weight="bold" text-anchor="middle" fill="#111" transform="rotate(-90 7.399999999999999 418.2)">Number of streamlines</text>
<text x="41.6" y="459.6" font-size="5.7" font-weight="bold" text-anchor="middle" fill="#111">HC</text>
<text x="60.5" y="459.6" font-size="5.7" font-weight="bold" text-anchor="middle" fill="#111">MDD</text>
<text x="84.8" y="459.6" font-size="5.7" font-weight="bold" text-anchor="middle" fill="#111">MDD+ANX</text>
<path d="M42.4,388.5 L42.4,388.5 L41.9,390.0 L41.9,391.4 L41.9,392.9 L41.9,394.4 L41.9,395.9 L41.9,397.4 L41.9,398.8 L41.9,400.3 L41.9,401.8 L41.9,403.2 L41.9,404.7 L41.9,406.2 L41.9,407.7 L41.9,409.1 L41.9,410.6 L41.9,412.1 L41.9,413.6 L41.9,415.1 L41.9,416.5 L41.9,418.0 L41.7,419.5 L41.5,420.9 L41.1,422.4 L40.7,423.9 L40.1,425.4 L39.3,426.9 L38.4,428.3 L37.4,429.8 L36.8,431.3 L36.7,432.8 L37.0,434.2 L37.5,435.7 L38.1,437.2 L38.9,438.6 L39.6,440.1 L40.3,441.6 L40.9,443.1 L41.4,444.6 L41.8,446.0 L42.4,447.5 L42.4,447.5 Z" fill="#3e5a80" stroke="#222" stroke-width="0.55"/>
<path d="M43.8 419.5h0M46.1 437.0h0M45.3 433.6h0M44.4 432.1h0M45.6 436.6h0M46.0 418.7h0M44.0 424.4h0M44.5 427.1h0M44.1 428.2h0M42.8 432.0h0M46.2 435.3h0M43.2 420.1h0M44.8 432.0h0M46.9 429.0h0M44.4 442.5h0M47.2 433.1h0M46.6 434.1h0M47.0 425.5h0M44.2 419.2h0M47.4 428.2h0M45.9 428.5h0M45.8 433.3h0M45.0 437.0h0M43.9 432.7h0M42.9 417.5h0M43.4 436.8h0M43.7 425.0h0M42.8 435.3h0M46.7 433.9h0M44.4 423.2h0M45.1 438.2h0M46.5 430.0h0M46.3 432.1h0M46.2 435.4h0M43.5 443.3h0M42.5 439.1h0M43.3 433.4h0M46.1 424.4h0M43.0 444.8h0M45.2 417.6h0M45.1 436.0h0M47.6 424.5h0M46.7 444.2h0M46.5 444.2h0M46.4 438.0h0M44.1 420.5h0M42.4 420.4h0M46.6 428.5h0M45.9 426.6h0M47.3 427.1h0M46.0 439.6h0M44.6 424.0h0M44.0 439.0h0M45.9 444.6h0M42.7 437.3h0M44.6 436.8h0M47.4 431.1h0M47.3 423.8h0M45.8 445.9h0M46.0 436.1h0M45.3 437.8h0M43.9 438.9h0M43.3 440.7h0M45.7 418.6h0M47.5 432.1h0M44.0 432.2h0M46.3 444.3h0M46.3 429.6h0M45.7 432.4h0M42.5 432.1h0M42.8 431.6h0M44.2 439.3h0M46.3 437.8h0M44.5 433.9h0M44.5 438.2h0M46.7 440.3h0M47.2 438.6h0M45.4 429.1h0M46.6 434.4h0M45.7 437.1h0M47.2 427.7h0M46.7 435.1h0M43.2 427.9h0M45.6 419.9h0M42.6 433.9h0M43.9 433.6h0M47.6 425.4h0M42.5 424.5h0M44.8 427.4h0M45.3 425.1h0M44.4 439.6h0M42.6 423.9h0M43.8 425.3h0M43.8 433.4h0M43.6 433.3h0M46.1 432.9h0M46.3 437.6h0M45.2 427.8h0M42.6 427.5h0M44.0 441.3h0M47.2 432.3h0M44.6 429.1h0M46.8 441.2h0M45.8 424.5h0M45.0 429.8h0M43.0 434.3h0M44.2 428.1h0M45.1 430.0h0M46.6 432.0h0M45.5 444.4h0M42.5 437.5h0M46.4 429.3h0M45.5 433.1h0M45.0 426.6h0M42.5 439.7h0M44.1 432.1h0M46.5 432.7h0M43.7 434.0h0M45.8 425.6h0M47.4 418.9h0M46.3 442.5h0M44.0 438.1h0M43.7 432.2h0M44.6 421.9h0M44.6 433.3h0M43.4 431.0h0M46.1 431.8h0M46.5 424.7h0M42.8 435.9h0M46.5 428.2h0M44.8 430.4h0M44.8 423.1h0M43.1 435.4h0M45.8 421.1h0M45.4 430.0h0M45.3 416.4h0M45.3 434.6h0M44.1 436.1h0M46.2 433.3h0M45.2 440.0h0M45.3 438.8h0M47.4 435.2h0M44.0 439.1h0M44.0 430.1h0M44.6 422.6h0M46.5 443.7h0M45.7 434.0h0M47.3 423.4h0M44.9 424.6h0M47.0 435.2h0M45.7 442.2h0M44.9 420.9h0M45.8 434.2h0M44.7 431.8h0M44.5 426.9h0M42.6 435.2h0M44.9 433.1h0M47.2 427.0h0M42.9 439.9h0M46.1 429.3h0M47.6 432.4h0M43.4 424.5h0M47.3 433.0h0M47.3 422.2h0M46.8 432.5h0M45.3 445.2h0M43.2 437.1h0M46.9 421.3h0M47.1 426.7h0M46.5 431.6h0M42.5 440.5h0M43.6 439.0h0M47.5 438.8h0M43.0 438.5h0M45.2 438.7h0M45.0 431.9h0M45.8 434.0h0M43.5 422.7h0M43.7 420.1h0M45.6 442.3h0M47.1 441.5h0M43.1 428.2h0M43.7 431.8h0M47.0 427.1h0M44.8 419.6h0M44.1 420.4h0M44.0 436.6h0M47.0 429.0h0M47.5 429.6h0M47.5 427.6h0M43.0 433.3h0M46.6 427.1h0M47.2 428.7h0M43.2 423.1h0M43.9 419.9h0M45.8 442.5h0M45.4 428.4h0M46.2 423.9h0M46.7 425.1h0M43.0 425.3h0M46.6 445.4h0M43.0 434.0h0M46.9 428.0h0M44.7 434.3h0M45.5 419.5h0M47.6 430.1h0M47.3 430.7h0M44.4 429.3h0M45.6 440.0h0M45.7 433.2h0M43.6 422.6h0M45.9 429.8h0M45.1 436.3h0M42.7 441.1h0M47.6 437.9h0M44.1 439.4h0M44.1 435.5h0M43.4 431.3h0M43.0 430.7h0M43.0 444.1h0M46.4 444.3h0M44.5 426.6h0M47.6 421.8h0M45.0 425.2h0M44.7 440.2h0M42.8 438.4h0M43.9 429.9h0M46.5 434.1h0M44.5 435.9h0M45.0 427.3h0M42.7 441.4h0M47.3 427.8h0M43.0 431.8h0M45.6 426.3h0M45.2 426.0h0M44.7 416.7h0M47.4 423.0h0M44.7 429.8h0M47.0 429.8h0M43.3 432.8h0M43.8 421.4h0M45.3 432.5h0M45.1 427.4h0M42.6 441.4h0M46.7 441.6h0M44.5 417.3h0M43.4 427.4h0M43.5 435.6h0M45.4 420.0h0M44.5 426.6h0M44.9 437.4h0M46.7 427.7h0M47.6 429.0h0M44.3 430.5h0M46.1 431.6h0M45.4 425.1h0M43.6 433.2h0M45.0 434.5h0M44.5 430.5h0M42.6 434.9h0M45.9 447.3h0M43.8 424.7h0M44.3 442.4h0M42.5 442.6h0M46.7 441.8h0M46.1 428.2h0M47.3 435.5h0M46.6 430.3h0M45.9 418.0h0M45.0 429.4h0M47.0 429.4h0M44.6 431.3h0M43.3 426.9h0M45.1 426.7h0M46.7 432.1h0M45.6 426.6h0M47.3 440.0h0M43.6 439.3h0M47.2 442.6h0M43.9 428.5h0M46.5 434.5h0M42.9 433.8h0M47.3 444.0h0M46.4 422.7h0M47.3 426.3h0M44.0 439.5h0M42.7 422.8h0M44.9 431.7h0M45.7 435.0h0M47.1 440.8h0M46.5 423.3h0M45.7 442.1h0M44.2 438.8h0M44.8 431.1h0M42.6 435.6h0M45.2 426.0h0M45.8 424.6h0M43.7 421.6h0M47.3 430.0h0M43.6 436.5h0M45.9 430.0h0M42.8 438.5h0M46.0 429.1h0M45.3 434.1h0M42.8 439.0h0M44.0 432.0h0M42.6 422.6h0M44.0 434.1h0M47.2 430.8h0M43.8 442.3h0M42.9 422.1h0M46.1 436.2h0M46.8 419.7h0M43.3 428.5h0M47.3 429.4h0M42.5 421.4h0M46.0 434.7h0M44.2 426.5h0M47.2 436.6h0M44.1 429.3h0M47.4 426.8h0M43.8 437.5h0M46.1 437.6h0M42.6 439.9h0M44.2 439.9h0M42.6 442.2h0M42.4 425.6h0M44.5 438.3h0M45.9 432.1h0M45.9 439.6h0M43.4 440.8h0M42.7 435.4h0M47.6 439.2h0M47.0 421.4h0M42.7 437.0h0M43.7 425.3h0M44.4 443.9h0M45.0 437.1h0M43.0 430.3h0M45.5 427.9h0M42.6 423.5h0M46.4 427.5h0M45.4 438.1h0M43.9 423.3h0M44.3 432.2h0M45.2 442.0h0M45.3 441.4h0M47.5 425.8h0M46.5 436.6h0M47.2 429.0h0M44.9 441.8h0M44.4 431.1h0M46.8 417.3h0M45.1 421.7h0M47.3 432.6h0M45.7 430.2h0M45.6 432.4h0M43.2 430.5h0M46.7 432.8h0M44.8 426.1h0M43.7 444.4h0M45.9 431.4h0M42.7 429.1h0M45.4 426.6h0M42.6 437.0h0M46.1 423.3h0M46.5 437.9h0M43.2 435.4h0M46.3 433.1h0M43.1 433.1h0M45.8 438.1h0M44.7 424.0h0M45.8 434.7h0M44.1 427.7h0M43.7 426.4h0M47.5 433.6h0M46.1 426.9h0M45.3 434.8h0M45.4 415.3h0M42.6 428.8h0M44.7 433.7h0M44.0 423.4h0M46.9 431.7h0M47.2 439.8h0M44.8 432.3h0M42.5 434.5h0M44.9 430.2h0M47.4 425.3h0M47.5 428.6h0M47.2 427.5h0M43.2 434.4h0M42.6 438.9h0M45.7 416.7h0M44.3 431.4h0M43.5 440.5h0M45.0 424.7h0M45.9 437.8h0M43.1 422.2h0M47.5 421.9h0M43.4 426.2h0M42.5 419.1h0M42.5 418.9h0M47.4 430.2h0M45.0 438.1h0M47.6 423.9h0M44.4 430.7h0M43.3 437.3h0M43.1 438.1h0M46.7 431.4h0M44.6 437.3h0M44.6 417.3h0M47.0 431.5h0M44.1 430.0h0M46.7 432.2h0M44.7 430.4h0M42.7 423.4h0M43.9 424.5h0M43.3 438.8h0M44.8 433.1h0M44.1 418.2h0M43.5 423.8h0M44.2 430.6h0M44.8 437.8h0M45.3 428.7h0M45.0 443.5h0M46.3 424.4h0M47.0 438.7h0M43.2 434.5h0M44.8 420.5h0M46.1 435.3h0M46.4 423.1h0M46.5 432.6h0M44.1 427.1h0M43.7 430.1h0M43.6 431.0h0M47.0 416.8h0M43.6 423.5h0M47.5 430.7h0M43.5 427.3h0M45.3 436.8h0M45.4 421.5h0M45.5 417.9h0M44.3 428.9h0M46.2 432.6h0M44.1 423.4h0M45.3 430.5h0M46.4 431.7h0M46.4 425.1h0M47.3 434.2h0M46.1 427.7h0M44.1 439.0h0M47.0 420.4h0M45.7 427.3h0M43.9 427.1h0M44.0 417.8h0M47.3 443.4h0M42.7 423.5h0M46.3 437.9h0M43.5 435.3h0M44.1 422.5h0M43.1 430.6h0M44.4 435.8h0M46.3 437.0h0M46.0 434.2h0M46.3 447.4h0M43.1 442.8h0M44.8 446.0h0M43.7 433.5h0M44.0 432.4h0M46.4 426.4h0M43.9 433.4h0M43.0 418.6h0M46.8 436.6h0M43.4 435.4h0M46.0 428.6h0M46.1 436.2h0M46.8 427.7h0M42.6 441.7h0M46.2 430.9h0M42.7 435.4h0" stroke="#4a6ca6" stroke-opacity="0.55" stroke-width="0.9" stroke-linecap="round" fill="none"/>
<path d="M60.3,402.4 L60.3,402.4 L59.9,403.5 L59.8,404.7 L59.8,405.8 L59.8,406.9 L59.8,408.0 L59.8,409.2 L59.8,410.3 L59.8,411.4 L59.8,412.5 L59.8,413.7 L59.8,414.8 L59.8,415.9 L59.8,417.1 L59.8,418.2 L59.7,419.3 L59.5,420.4 L59.3,421.6 L59.0,422.7 L58.6,423.8 L58.2,424.9 L57.6,426.1 L56.9,427.2 L56.2,428.3 L55.5,429.5 L55.0,430.6 L54.8,431.7 L54.9,432.8 L55.1,434.0 L55.5,435.1 L55.9,436.2 L56.4,437.4 L56.9,438.5 L57.5,439.6 L58.0,440.7 L58.5,441.9 L58.9,443.0 L59.2,444.1 L59.5,445.2 L59.9,446.4 L60.3,447.5 L60.3,447.5 Z" fill="#db8233" stroke="#222" stroke-width="0.55"/>
<path d="M63.8 428.8h0M61.7 433.9h0M62.1 430.1h0M60.6 434.4h0M61.6 424.2h0M62.1 426.8h0M61.1 424.3h0M60.9 422.2h0M64.5 431.8h0M62.2 429.8h0M65.4 435.6h0M61.8 431.0h0M62.0 425.8h0M60.9 425.8h0M64.0 426.7h0M60.6 426.7h0M62.2 426.9h0M63.2 439.3h0M64.0 428.0h0M64.6 428.9h0M64.3 425.2h0M61.6 441.5h0M63.8 433.0h0M61.6 431.0h0M60.9 432.6h0M61.1 425.9h0M65.4 435.6h0M60.4 427.8h0M62.0 423.2h0M61.7 445.2h0M63.8 437.2h0M61.7 416.8h0M60.5 440.1h0M62.1 431.9h0M64.1 429.3h0M63.2 431.7h0M64.0 440.9h0M63.8 425.2h0M61.6 434.9h0M64.0 442.8h0M64.7 441.1h0M63.0 417.0h0M62.7 429.1h0M61.9 429.4h0M60.4 436.8h0M63.0 422.0h0M64.7 420.8h0M62.3 418.7h0M61.5 442.0h0M60.8 429.2h0M63.1 431.8h0M65.2 433.4h0M60.9 426.0h0M64.8 425.9h0M62.0 439.7h0M62.8 429.2h0M60.4 439.1h0M64.1 441.8h0M62.1 443.9h0M65.1 432.0h0M61.3 433.6h0M61.5 431.4h0M61.9 429.3h0M65.5 440.4h0M63.9 417.7h0M62.8 433.2h0M61.0 435.7h0M62.3 431.9h0M63.7 434.0h0M64.0 439.3h0M60.5 428.8h0M61.1 428.2h0M64.6 425.2h0M63.6 429.5h0M60.6 427.2h0M64.0 424.9h0M61.2 430.6h0M64.9 439.6h0M65.1 420.2h0M64.3 432.1h0M60.4 431.1h0M62.8 441.2h0M64.5 425.6h0M60.8 425.0h0M60.4 436.7h0M64.1 439.1h0M64.3 443.6h0M60.4 419.4h0M60.6 423.1h0M65.3 440.9h0M63.9 440.6h0M64.6 437.3h0M61.0 432.3h0M64.9 437.5h0M64.3 437.3h0M63.2 419.9h0M65.2 424.8h0M65.4 440.7h0M60.9 429.1h0M60.5 423.5h0M63.4 438.8h0M63.5 429.1h0M64.8 436.5h0M64.3 437.2h0M64.0 428.8h0M63.8 434.6h0M62.5 419.9h0M61.5 429.3h0M61.6 437.7h0M60.6 437.3h0M62.1 437.2h0M65.1 441.9h0M63.1 431.2h0M61.3 432.1h0M62.2 437.4h0M65.2 434.1h0M60.8 432.9h0M62.1 435.3h0M61.1 416.5h0M63.9 438.5h0M65.0 434.9h0M60.3 434.9h0M64.9 434.0h0M61.7 425.3h0M61.6 444.6h0M63.6 441.5h0M63.3 434.8h0M60.8 431.7h0M61.2 440.8h0M64.5 428.0h0M63.0 440.4h0M61.7 423.4h0M60.7 424.3h0M65.0 437.7h0M61.1 422.4h0M64.6 442.9h0M62.9 427.1h0M64.0 433.5h0M61.9 430.2h0M65.4 422.9h0M61.6 431.5h0M61.5 430.0h0M61.5 432.9h0M64.2 424.4h0M63.1 438.0h0M60.7 429.2h0M60.8 433.2h0M64.4 425.8h0M63.3 427.0h0M64.3 431.6h0M63.3 423.7h0M63.2 443.3h0M62.9 434.5h0M62.7 425.0h0M61.4 444.6h0M63.3 445.2h0M61.8 427.4h0M64.6 427.0h0M64.6 435.6h0M64.8 432.6h0M61.2 439.6h0M62.9 416.1h0M64.9 430.8h0M61.1 431.4h0M63.2 435.3h0M64.9 422.6h0M64.5 418.5h0M63.9 431.2h0M65.4 430.0h0M62.6 432.0h0M62.8 426.9h0M61.3 420.8h0M61.0 431.5h0M62.7 434.9h0M64.7 425.0h0M65.5 421.4h0M64.6 430.4h0M65.0 436.0h0M65.3 427.6h0M60.7 425.9h0M60.9 432.6h0M63.7 444.5h0M63.0 437.6h0M61.8 428.4h0M61.0 439.1h0M63.5 427.6h0M63.9 438.6h0M62.3 432.8h0M61.4 428.9h0M64.3 428.4h0M63.5 440.3h0M65.3 423.4h0M64.3 439.4h0M63.3 431.7h0M61.6 437.3h0M61.6 434.6h0M63.8 429.6h0M63.0 439.2h0M62.4 427.2h0M65.0 442.8h0M62.1 430.4h0M60.7 431.5h0M64.6 441.5h0M64.3 432.1h0M61.0 431.6h0M61.3 419.5h0M63.3 425.5h0M62.4 436.5h0M61.2 435.5h0M65.4 424.8h0M62.0 429.4h0M65.4 437.4h0M64.9 429.8h0M61.8 423.0h0M62.7 440.3h0M64.4 431.6h0M63.8 440.3h0M60.8 442.9h0M63.5 424.9h0M63.8 426.8h0M64.1 431.6h0M61.6 431.8h0M61.1 446.0h0M65.4 436.6h0M60.4 422.5h0M61.8 424.8h0M64.4 416.7h0M65.5 426.6h0M63.9 418.1h0M64.2 424.1h0M62.3 430.9h0M62.9 429.9h0M62.4 431.2h0M62.6 438.4h0M64.8 428.5h0M60.6 436.2h0M61.7 427.9h0M62.4 431.2h0M62.4 425.3h0M63.4 426.2h0M63.6 428.8h0M64.0 434.9h0M63.1 421.4h0M61.8 426.6h0M65.0 427.4h0M61.1 427.8h0M61.5 432.6h0M65.3 435.0h0M60.5 421.3h0M63.7 425.2h0M62.2 435.7h0M63.7 428.1h0M63.8 430.9h0M63.1 432.8h0M60.7 435.5h0M64.7 423.8h0M64.7 432.4h0M63.0 433.5h0M62.4 427.6h0M64.1 430.5h0M60.8 433.8h0M61.3 430.6h0M62.6 419.3h0M63.8 425.0h0M60.6 444.7h0M61.7 435.7h0M63.5 443.7h0M62.5 436.8h0M61.3 443.8h0M63.0 423.8h0M63.1 437.3h0M64.0 433.6h0M64.5 430.1h0M64.1 439.4h0M65.4 428.9h0M65.4 429.1h0M62.2 436.9h0M65.0 422.6h0M62.5 427.8h0M61.9 438.4h0M60.4 429.5h0M61.0 441.7h0M62.3 433.3h0M61.1 433.0h0M65.3 434.6h0M64.8 423.3h0M63.2 426.4h0M61.6 419.8h0M61.0 433.1h0M64.9 425.6h0M62.4 418.7h0M63.8 435.5h0M62.6 424.5h0M63.7 433.6h0M61.1 419.1h0M65.5 427.3h0M65.2 430.5h0M62.0 431.0h0M62.4 437.6h0M64.0 423.6h0M63.5 436.4h0M62.0 419.9h0M64.5 435.2h0M62.8 431.9h0M64.1 432.6h0M62.9 432.6h0M60.6 426.0h0M62.0 427.7h0M62.3 422.0h0M63.1 429.8h0M63.3 431.2h0M65.2 420.2h0M64.0 422.1h0M62.6 428.6h0M61.2 429.6h0M62.1 442.4h0M61.5 431.3h0M61.7 438.3h0M64.6 432.0h0M64.3 438.8h0M61.8 419.4h0M60.8 420.0h0M62.3 428.9h0M63.4 430.1h0M65.1 423.8h0M63.8 429.5h0M64.4 430.7h0M63.2 441.5h0M60.8 441.5h0M64.7 438.0h0M65.1 440.4h0M64.2 420.8h0M61.3 428.5h0M63.9 436.0h0M62.6 429.0h0M62.0 433.7h0M62.0 432.3h0M62.5 439.0h0M65.2 430.9h0M64.1 437.6h0M60.7 428.3h0M62.5 434.8h0M63.7 433.2h0M63.3 429.8h0M60.4 434.4h0M61.2 439.5h0M62.0 444.7h0M62.3 429.1h0M61.3 426.2h0M61.8 429.8h0M60.5 442.9h0M61.5 435.1h0M62.0 433.2h0M61.2 433.1h0M62.3 423.8h0M61.5 433.7h0M63.3 420.3h0M60.4 428.3h0M60.8 423.5h0M64.9 429.8h0" stroke="#e8913f" stroke-opacity="0.55" stroke-width="0.9" stroke-linecap="round" fill="none"/>
<path d="M79.4,399.2 L79.4,399.2 L79.0,400.4 L78.9,401.5 L78.9,402.7 L78.9,403.8 L78.8,405.0 L78.7,406.1 L78.6,407.3 L78.4,408.4 L78.2,409.6 L78.0,410.8 L77.7,411.9 L77.5,413.1 L77.1,414.2 L76.8,415.4 L76.4,416.5 L76.0,417.7 L75.6,418.8 L75.3,420.0 L75.1,421.1 L75.1,422.3 L75.1,423.5 L75.2,424.6 L75.4,425.8 L75.6,426.9 L75.8,428.1 L76.1,429.2 L76.3,430.4 L76.6,431.5 L76.9,432.7 L77.2,433.8 L77.5,435.0 L77.8,436.2 L78.0,437.3 L78.2,438.5 L78.4,439.6 L78.6,440.8 L78.8,441.9 L78.9,443.1 L79.0,444.2 L79.4,445.4 L79.4,445.4 Z" fill="#67aa60" stroke="#222" stroke-width="0.55"/>
<path d="M81.2 423.4h0M80.7 429.6h0M82.9 436.0h0M82.4 418.2h0M81.9 416.2h0M79.7 428.3h0M84.3 424.8h0M81.2 411.2h0M80.8 420.9h0M83.3 420.8h0M80.4 420.5h0M80.5 424.9h0M83.0 411.4h0M80.5 417.7h0M80.8 423.7h0M84.0 421.6h0M82.0 429.3h0M80.8 419.2h0M81.3 421.8h0M81.3 410.5h0M82.6 427.0h0M83.0 428.8h0M82.2 428.7h0M83.1 429.7h0M83.3 416.1h0M80.7 421.7h0M84.5 421.7h0M81.1 434.0h0M82.3 434.4h0M84.1 422.5h0M83.4 430.3h0M82.2 414.8h0M83.1 427.4h0M79.7 418.1h0M79.6 428.2h0M83.8 424.1h0M80.1 420.3h0M83.7 425.5h0M83.8 422.1h0M82.4 426.4h0M82.6 412.8h0M81.2 414.0h0M83.3 419.7h0M82.9 430.0h0M82.3 428.9h0M84.3 434.8h0M84.2 424.6h0M80.8 436.2h0M83.9 424.6h0M81.1 418.2h0M82.9 427.6h0M83.0 428.7h0M79.8 425.2h0M81.4 416.2h0M83.4 428.5h0M83.6 427.8h0M79.7 438.6h0M83.3 420.4h0M83.1 421.2h0M84.3 423.7h0M80.8 426.1h0M80.3 416.6h0M84.5 412.5h0M82.9 431.1h0M84.2 429.0h0M80.3 443.3h0M82.2 413.3h0M82.0 434.9h0M80.6 418.0h0M82.0 440.5h0M83.8 412.4h0M82.5 418.7h0M83.1 419.6h0M82.7 408.9h0M80.9 415.6h0M83.7 417.1h0M83.9 429.9h0M83.3 417.5h0M80.2 408.9h0M84.1 423.2h0M84.5 423.2h0M80.8 407.2h0M81.4 419.3h0M79.5 425.1h0M79.6 417.6h0M84.1 419.0h0M84.2 419.9h0M81.5 407.3h0M81.5 415.7h0M83.2 430.5h0M79.9 425.4h0M81.8 429.2h0M83.5 429.2h0M81.8 428.3h0M81.4 439.9h0M83.5 436.6h0M79.6 431.5h0M83.2 416.2h0M83.5 439.3h0M80.0 427.5h0M82.1 418.2h0M82.8 424.3h0M81.5 438.4h0M81.3 421.1h0M80.7 428.0h0M80.9 421.9h0M79.8 419.7h0M80.4 429.3h0M83.3 420.3h0M81.0 411.5h0M83.3 421.8h0M84.0 423.8h0M82.7 435.6h0M83.2 427.2h0M82.1 424.2h0M79.6 443.3h0M80.9 432.3h0M81.5 413.6h0M80.4 445.0h0M84.4 414.6h0M84.2 422.0h0M81.4 420.7h0M83.0 416.8h0M79.7 421.6h0M83.4 426.0h0M83.4 412.4h0M81.1 432.6h0M83.5 426.8h0M79.7 418.6h0M82.4 423.5h0M83.0 419.7h0M81.7 426.5h0M83.3 440.9h0M83.4 441.1h0M83.7 417.6h0M81.7 421.0h0M84.3 417.0h0M81.6 424.5h0M83.0 420.8h0M80.8 432.5h0M83.0 444.5h0M83.0 414.8h0M80.5 410.3h0M82.9 415.9h0M79.8 410.3h0M81.9 414.9h0M82.8 434.4h0M83.7 416.6h0M80.2 418.8h0M80.5 439.7h0M79.6 420.4h0M81.9 424.9h0M81.3 419.4h0M82.8 438.8h0M80.9 423.5h0M81.4 417.5h0M84.5 417.3h0M80.5 423.7h0M79.8 424.3h0M80.1 438.3h0M80.8 423.5h0M80.2 429.9h0M82.5 419.3h0M82.7 414.4h0M82.3 431.8h0M80.7 418.8h0M83.0 409.1h0M84.4 429.0h0M81.5 445.2h0M80.1 430.0h0" stroke="#86c982" stroke-opacity="0.55" stroke-width="0.9" stroke-linecap="round" fill="none"/>
<path d="M45.0,430.1 L62.9,432.7 L82.0,425.6" fill="none" stroke="#000" stroke-width="1.8" stroke-linecap="round" stroke-dasharray="0 4.3"/>
<line x1="45.0" y1="415.1" x2="45.0" y2="424.6" stroke="#000" stroke-width="0.7"/>
<line x1="45.0" y1="436.6" x2="45.0" y2="447.5" stroke="#000" stroke-width="0.7"/>
<line x1="43.9" y1="415.1" x2="46.1" y2="415.1" stroke="#000" stroke-width="0.7"/>
<line x1="43.9" y1="447.5" x2="46.1" y2="447.5" stroke="#000" stroke-width="0.7"/>
<rect x="43.5" y="424.6" width="3.0" height="12.0" fill="none" stroke="#000" stroke-width="0.7"/>
<circle cx="45.0" cy="430.1" r="2.8" fill="#000"/>
<path d="M45.0,387.9L46.3,389.5L45.0,391.1L43.7,389.5ZM45.0,412.5L46.3,414.1L45.0,415.7L43.7,414.1ZM45.0,411.1L46.3,412.8L45.0,414.4L43.7,412.8ZM45.0,409.8L46.3,411.4L45.0,413.0L43.7,411.4ZM45.0,408.4L46.3,410.1L45.0,411.7L43.7,410.1ZM45.0,407.1L46.3,408.7L45.0,410.3L43.7,408.7ZM45.0,405.8L46.3,407.4L45.0,409.0L43.7,407.4ZM45.0,404.4L46.3,406.0L45.0,407.6L43.7,406.0ZM45.0,403.1L46.3,404.7L45.0,406.3L43.7,404.7ZM45.0,401.7L46.3,403.3L45.0,404.9L43.7,403.3ZM45.0,400.4L46.3,402.0L45.0,403.6L43.7,402.0ZM45.0,399.0L46.3,400.6L45.0,402.2L43.7,400.6ZM45.0,397.6L46.3,399.2L45.0,400.9L43.7,399.2ZM45.0,396.3L46.3,397.9L45.0,399.5L43.7,397.9Z" fill="#000"/>
<line x1="62.9" y1="414.6" x2="62.9" y2="427.2" stroke="#000" stroke-width="0.7"/>
<line x1="62.9" y1="439.2" x2="62.9" y2="447.5" stroke="#000" stroke-width="0.7"/>
<line x1="61.8" y1="414.6" x2="64.0" y2="414.6" stroke="#000" stroke-width="0.7"/>
<line x1="61.8" y1="447.5" x2="64.0" y2="447.5" stroke="#000" stroke-width="0.7"/>
<rect x="61.4" y="427.2" width="3.0" height="12.0" fill="none" stroke="#000" stroke-width="0.7"/>
<circle cx="62.9" cy="432.7" r="2.8" fill="#000"/>
<path d="M62.9,401.9L64.1,403.4L62.9,404.8L61.7,403.4ZM62.9,412.2L64.1,413.6L62.9,415.1L61.7,413.6ZM62.9,410.4L64.1,411.8L62.9,413.2L61.7,411.8ZM62.9,408.6L64.1,410.0L62.9,411.4L61.7,410.0ZM62.9,406.8L64.1,408.2L62.9,409.7L61.7,408.2Z" fill="#000"/>
<line x1="82.0" y1="406.0" x2="82.0" y2="420.1" stroke="#000" stroke-width="0.7"/>
<line x1="82.0" y1="432.1" x2="82.0" y2="445.4" stroke="#000" stroke-width="0.7"/>
<line x1="80.9" y1="406.0" x2="83.1" y2="406.0" stroke="#000" stroke-width="0.7"/>
<line x1="80.9" y1="445.4" x2="83.1" y2="445.4" stroke="#000" stroke-width="0.7"/>
<rect x="80.5" y="420.1" width="3.0" height="12.0" fill="#fff" stroke="#000" stroke-width="0.7"/>
<circle cx="82.0" cy="425.6" r="2.8" fill="#000"/>
<path d="M82.0,398.8L83.2,400.2L82.0,401.6L80.8,400.2Z" fill="#000"/>
<text x="168.7" y="373.2" font-size="7.65" font-weight="bold" text-anchor="middle" fill="#111">Female</text>
<text x="168.7" y="381.4" font-size="7.65" font-weight="bold" text-anchor="middle" fill="#111">participants</text>
<line x1="139.2" y1="386.0" x2="139.2" y2="450.4" stroke="#222" stroke-width="0.8"/>
<line x1="138.8" y1="450.0" x2="199.2" y2="450.0" stroke="#222" stroke-width="0.8"/>
<text x="134.6" y="405.0" font-size="6.95" text-anchor="end" fill="#4d4d4d">1500</text>
<text x="134.6" y="423.1" font-size="6.95" text-anchor="end" fill="#4d4d4d">1000</text>
<text x="134.6" y="440.9" font-size="6.95" text-anchor="end" fill="#4d4d4d">500</text>
<text x="115.4" y="418.2" font-size="7.3" font-weight="bold" text-anchor="middle" fill="#111" transform="rotate(-90 115.39999999999999 418.2)">Number of streamlines</text>
<text x="149.6" y="459.6" font-size="5.7" font-weight="bold" text-anchor="middle" fill="#111">HC</text>
<text x="168.5" y="459.6" font-size="5.7" font-weight="bold" text-anchor="middle" fill="#111">MDD</text>
<text x="192.8" y="459.6" font-size="5.7" font-weight="bold" text-anchor="middle" fill="#111">MDD+ANX</text>
<path d="M150.0,398.5 L150.0,398.5 L149.6,399.7 L149.5,400.9 L149.5,402.1 L149.5,403.3 L149.5,404.5 L149.5,405.7 L149.5,406.9 L149.5,408.1 L149.5,409.3 L149.5,410.6 L149.5,411.8 L149.5,413.0 L149.5,414.2 L149.5,415.4 L149.5,416.6 L149.5,417.8 L149.4,419.0 L149.2,420.2 L148.9,421.4 L148.6,422.6 L148.2,423.8 L147.7,425.0 L147.1,426.2 L146.4,427.4 L145.7,428.6 L145.1,429.8 L144.8,431.0 L144.8,432.2 L145.0,433.4 L145.4,434.6 L145.8,435.9 L146.4,437.1 L146.9,438.3 L147.5,439.5 L148.0,440.7 L148.5,441.9 L148.9,443.1 L149.2,444.3 L149.6,445.5 L150.0,446.7 L150.0,446.7 Z" fill="#3e5a80" stroke="#222" stroke-width="0.55"/>
<path d="M153.0 445.7h0M152.6 442.1h0M152.1 440.8h0M152.7 424.4h0M152.7 442.5h0M153.4 436.7h0M154.5 437.4h0M155.0 426.7h0M150.9 437.1h0M153.8 436.7h0M154.7 443.2h0M150.0 432.8h0M154.6 422.5h0M154.4 418.5h0M150.7 434.0h0M150.4 429.5h0M153.9 422.4h0M150.6 427.5h0M154.0 435.2h0M154.3 430.5h0M152.7 420.8h0M154.8 428.2h0M154.6 441.9h0M154.9 422.9h0M151.4 428.8h0M151.8 430.7h0M150.9 422.6h0M153.4 437.5h0M152.5 433.3h0M152.9 419.7h0M152.1 428.9h0M152.1 423.7h0M152.7 423.7h0M154.7 422.3h0M154.6 436.3h0M154.2 431.9h0M152.0 428.8h0M154.1 432.9h0M150.5 435.0h0M154.9 426.2h0M152.1 436.7h0M151.9 433.5h0M154.2 423.8h0M151.4 435.9h0M154.9 425.9h0M154.6 426.0h0M153.9 436.0h0M154.0 435.2h0M151.4 432.0h0M152.9 432.6h0M151.5 419.0h0M150.9 433.7h0M152.7 426.1h0M155.2 435.0h0M152.0 430.9h0M150.9 431.3h0M151.1 415.9h0M154.7 430.3h0M150.5 435.4h0M151.5 425.0h0M154.3 428.2h0M150.1 435.8h0M153.1 428.1h0M150.0 415.7h0M153.4 426.0h0M150.2 426.7h0M152.4 424.4h0M154.9 440.7h0M154.4 431.7h0M154.0 431.7h0M154.9 428.8h0M155.0 436.3h0M153.9 440.9h0M150.3 432.1h0M154.0 438.1h0M153.1 446.5h0M153.2 426.0h0M150.6 428.4h0M154.9 430.7h0M154.5 424.6h0M151.5 423.1h0M150.3 429.7h0M153.5 429.0h0M155.1 418.2h0M154.4 434.2h0M154.1 442.3h0M150.7 438.5h0M153.2 427.0h0M151.8 425.2h0M150.5 423.9h0M155.1 423.8h0M154.6 430.9h0M151.7 432.3h0M155.0 417.5h0M150.3 430.1h0M150.4 430.1h0M150.2 428.9h0M151.6 445.3h0M151.6 442.6h0M154.6 429.9h0M150.3 435.6h0M151.8 442.1h0M155.2 433.2h0M151.2 427.3h0M152.5 444.1h0M154.5 421.4h0M150.8 429.3h0M154.3 440.0h0M153.2 427.3h0M153.3 441.2h0M151.8 434.1h0M150.6 436.3h0M152.0 442.3h0M151.0 423.9h0M150.1 435.4h0M150.7 429.4h0M153.8 427.4h0M151.7 421.0h0M154.8 428.7h0M154.9 423.1h0M153.9 439.0h0M151.1 430.0h0M155.1 441.4h0M154.4 443.7h0M151.5 441.4h0M152.2 420.5h0M152.3 439.8h0M150.1 431.4h0M151.5 436.8h0M154.6 444.0h0M152.0 427.9h0M150.6 438.8h0M150.1 435.5h0M151.5 436.6h0M152.1 427.2h0M154.2 424.2h0M154.0 429.8h0M154.5 421.0h0M154.8 424.8h0M151.0 437.1h0M154.3 421.7h0M151.4 437.3h0M154.5 437.7h0M153.6 428.2h0M152.6 427.2h0M151.9 433.0h0M153.7 434.0h0M151.9 432.4h0M153.5 417.8h0M154.2 425.1h0M152.9 438.6h0M150.5 430.6h0M154.3 418.9h0M153.2 426.8h0M152.1 414.6h0M151.1 427.8h0M151.7 438.1h0M154.7 437.6h0M154.1 427.6h0M151.2 415.9h0M151.9 422.1h0M152.7 432.0h0M155.0 428.7h0M151.7 429.9h0M155.1 434.9h0M153.6 430.0h0M150.4 432.0h0M153.3 433.1h0M154.1 435.0h0M154.0 435.1h0M154.9 422.3h0M152.1 428.9h0M152.3 434.6h0M154.8 432.1h0M154.5 429.8h0M154.4 415.9h0M150.4 435.6h0M151.6 437.3h0M150.2 432.2h0M154.7 442.3h0M155.1 437.6h0M152.1 446.5h0M151.1 431.8h0M153.3 438.7h0M154.2 435.9h0M152.4 435.5h0M152.7 428.8h0M152.7 425.5h0M154.1 415.1h0M155.0 432.6h0M151.4 436.5h0M152.6 434.2h0M150.4 432.9h0M153.0 420.7h0M150.6 430.3h0M152.4 429.5h0M152.5 424.8h0M151.4 419.2h0M150.0 430.9h0M154.1 436.4h0M150.4 431.7h0M150.5 439.2h0M153.2 425.1h0M150.6 426.4h0M153.2 429.2h0M150.9 437.3h0M151.1 432.3h0M154.4 425.4h0M152.1 425.3h0M150.1 436.8h0M154.6 430.9h0M154.6 426.9h0M153.5 422.9h0M150.3 433.0h0M152.6 439.2h0M154.4 439.5h0M154.8 434.5h0M150.8 434.2h0M150.3 427.4h0M154.9 423.5h0M152.9 440.6h0M153.4 422.5h0M150.4 425.3h0M153.7 430.6h0M153.8 439.1h0M151.2 435.9h0M152.5 422.4h0M152.2 427.3h0M152.0 419.6h0M150.5 429.7h0M152.1 435.8h0M150.1 427.7h0M150.4 435.9h0M155.0 437.6h0M155.1 430.0h0M151.9 422.5h0M152.5 432.4h0M151.0 426.7h0M153.2 443.7h0M154.4 430.5h0M153.3 440.2h0M153.6 426.8h0M154.8 422.1h0M151.3 432.9h0M150.2 434.0h0M153.1 417.4h0M151.5 433.4h0M151.5 430.2h0M151.6 430.7h0M151.1 422.6h0M152.4 439.6h0M151.9 420.6h0M151.7 433.2h0M154.3 417.3h0M154.6 428.8h0M151.5 428.4h0M154.6 434.1h0M151.3 437.1h0M152.5 436.1h0M152.3 434.1h0M151.5 426.8h0M151.4 431.5h0M152.8 429.1h0M152.6 434.2h0M154.3 440.6h0M150.5 441.0h0M153.9 424.1h0M153.0 426.9h0M151.2 438.5h0M154.9 415.1h0M153.4 424.2h0M152.0 432.1h0M154.7 433.7h0M153.7 430.7h0M151.5 425.5h0M152.8 428.0h0M153.8 426.2h0M151.2 426.5h0M151.0 436.9h0M151.1 427.7h0M152.9 431.1h0M152.4 422.6h0M153.9 434.7h0M153.8 415.6h0M152.6 442.5h0M151.5 431.3h0M150.5 430.5h0M154.6 444.0h0M150.3 438.5h0M153.6 430.1h0M150.1 436.3h0M151.2 429.3h0M155.1 428.7h0M150.6 419.7h0M152.2 426.9h0M155.0 425.1h0M155.0 435.4h0M152.3 431.8h0M152.3 441.1h0M152.8 438.6h0M154.7 424.3h0M151.1 429.3h0M154.0 422.6h0M150.1 443.5h0M154.6 435.7h0M154.0 426.9h0M152.7 431.6h0M151.1 427.0h0M150.5 425.8h0M150.8 441.5h0M154.6 436.2h0M152.0 429.5h0M153.3 428.1h0M152.7 430.2h0M150.7 433.7h0M152.1 427.7h0M152.3 431.4h0M154.7 421.7h0M151.4 429.2h0M154.4 426.7h0M151.7 425.1h0M152.5 432.6h0M150.6 421.6h0M151.3 428.6h0M154.9 424.8h0M151.8 441.1h0M154.5 418.8h0M151.4 427.7h0M150.4 440.1h0M154.8 427.6h0M153.9 430.8h0M151.4 429.6h0M151.7 430.1h0M153.9 429.8h0M151.0 437.2h0M150.4 432.8h0M153.0 436.4h0M154.2 424.8h0M150.7 421.6h0M150.6 427.4h0M154.0 445.6h0M150.7 420.8h0M151.2 426.5h0M153.0 419.3h0M151.7 422.6h0M151.2 432.4h0M154.9 425.8h0M154.0 416.8h0M154.9 437.3h0M153.0 431.9h0M154.1 434.9h0M151.1 422.6h0M155.1 422.3h0M153.9 436.2h0M154.7 428.8h0M155.0 424.7h0M152.3 427.4h0M151.8 433.4h0M150.7 424.5h0M152.3 444.9h0M150.4 431.5h0M150.9 426.0h0M153.6 439.5h0M153.5 433.7h0M154.5 423.8h0M152.8 422.8h0M154.1 426.3h0M154.0 430.2h0M152.1 421.6h0M154.3 430.6h0M151.4 435.1h0M152.9 423.3h0M153.6 440.5h0M153.7 427.8h0M152.4 427.8h0M151.3 437.9h0M153.8 436.6h0M154.1 438.8h0M151.6 424.3h0M154.1 429.1h0M152.7 438.9h0M154.8 421.5h0M153.8 418.8h0M153.3 435.3h0M151.0 424.1h0M155.1 430.2h0M151.0 435.5h0M150.7 444.6h0M150.4 431.7h0M153.8 423.2h0M153.7 435.5h0M154.3 434.0h0M151.4 431.0h0M151.3 434.5h0M153.1 435.3h0M151.3 428.4h0M150.7 433.6h0M150.5 428.5h0M150.0 436.7h0M151.5 428.4h0M153.3 428.2h0M154.6 429.5h0M150.4 429.9h0M153.8 428.4h0M153.5 424.6h0M151.9 428.4h0M154.0 434.3h0M150.1 428.0h0M154.0 432.5h0M152.9 423.7h0M152.4 432.0h0M150.6 431.7h0M151.7 434.2h0M152.0 431.7h0M150.5 426.1h0M154.7 426.2h0M150.3 443.2h0M152.6 430.1h0M152.1 436.7h0M150.5 436.2h0M151.7 425.4h0M154.9 431.4h0M152.4 441.2h0M153.1 431.6h0M150.7 431.1h0M154.2 426.7h0M151.0 429.8h0M154.3 434.6h0M152.6 433.4h0M151.0 437.4h0M152.0 424.8h0M152.9 434.5h0M152.5 427.1h0M151.6 429.0h0M154.1 420.7h0M150.1 432.9h0M153.8 440.2h0M154.1 426.5h0M154.5 429.6h0M151.4 432.0h0M152.7 421.0h0M150.2 434.5h0M150.0 420.9h0M151.4 433.1h0M153.3 443.3h0M152.4 435.9h0M151.5 444.5h0M154.7 427.5h0M154.6 420.7h0M154.2 424.1h0M150.2 427.7h0M153.1 435.1h0M152.4 434.5h0M152.8 424.5h0M150.6 420.9h0M154.8 431.8h0M154.2 433.3h0M151.4 428.6h0M154.7 421.9h0M155.1 430.2h0M155.2 427.0h0M152.3 436.4h0M151.6 439.0h0M152.1 433.3h0M150.2 418.9h0M152.3 432.8h0M152.3 435.1h0M152.4 425.6h0M154.2 440.1h0M150.7 432.5h0M151.4 441.2h0M150.7 429.3h0M153.0 440.1h0M150.3 419.8h0M153.4 429.5h0M152.1 424.8h0M152.8 428.9h0M154.2 436.8h0M152.4 425.9h0M153.2 418.4h0" stroke="#4a6ca6" stroke-opacity="0.55" stroke-width="0.9" stroke-linecap="round" fill="none"/>
<path d="M168.1,406.6 L168.1,406.6 L167.8,407.6 L167.6,408.6 L167.6,409.7 L167.6,410.7 L167.6,411.7 L167.6,412.7 L167.6,413.8 L167.6,414.8 L167.6,415.8 L167.6,416.8 L167.6,417.8 L167.6,418.9 L167.6,419.9 L167.5,420.9 L167.3,421.9 L167.1,423.0 L166.9,424.0 L166.5,425.0 L166.2,426.0 L165.7,427.1 L165.2,428.1 L164.7,429.1 L164.1,430.1 L163.8,431.1 L163.6,432.2 L163.6,433.2 L163.8,434.2 L164.0,435.2 L164.4,436.3 L164.7,437.3 L165.1,438.3 L165.6,439.3 L166.0,440.3 L166.4,441.4 L166.7,442.4 L167.0,443.4 L167.3,444.4 L167.5,445.5 L167.8,446.5 L168.1,447.5 L168.1,447.5 Z" fill="#db8233" stroke="#222" stroke-width="0.55"/>
<path d="M173.1 432.8h0M171.6 426.8h0M173.0 428.9h0M170.2 433.4h0M168.8 427.0h0M173.0 426.1h0M169.0 433.0h0M168.6 437.3h0M170.8 431.3h0M173.2 417.6h0M170.7 429.8h0M171.3 435.8h0M171.7 435.8h0M169.1 427.2h0M170.7 427.9h0M170.7 427.6h0M172.5 442.9h0M171.4 445.9h0M173.1 437.7h0M168.5 424.3h0M170.9 439.7h0M172.5 432.8h0M171.3 428.3h0M170.8 431.7h0M169.0 420.6h0M171.0 430.9h0M168.5 435.8h0M171.7 432.6h0M169.8 440.5h0M171.8 425.9h0M171.7 427.7h0M173.0 422.8h0M169.9 428.7h0M171.8 435.0h0M169.8 435.7h0M169.6 423.1h0M168.8 431.1h0M170.3 425.6h0M170.2 428.3h0M172.9 434.3h0M170.4 433.2h0M170.2 425.7h0M172.4 430.3h0M169.3 419.9h0M168.7 427.4h0M171.7 427.9h0M170.0 432.3h0M169.5 435.4h0M172.7 432.6h0M170.7 431.2h0M173.0 434.4h0M171.0 419.5h0M169.4 429.3h0M168.3 434.2h0M171.7 424.9h0M171.5 434.3h0M171.1 427.8h0M171.0 434.9h0M170.6 432.1h0M170.7 426.3h0M171.4 425.9h0M168.6 443.8h0M169.5 424.3h0M168.1 436.1h0M172.6 430.6h0M170.1 433.0h0M172.9 424.2h0M172.4 445.3h0M172.0 435.8h0M168.6 431.7h0M168.1 437.5h0M168.6 416.7h0M173.0 436.6h0M168.9 435.2h0M168.3 422.3h0M171.3 432.7h0M168.4 437.1h0M169.4 442.1h0M169.8 447.4h0M170.5 437.7h0M168.9 433.1h0M171.6 424.6h0M173.2 421.1h0M172.8 442.4h0M172.5 438.3h0M169.7 437.2h0M170.3 430.8h0M168.3 423.0h0M170.3 430.4h0M169.8 421.0h0M171.8 431.9h0M172.0 429.3h0M170.7 425.1h0M171.2 429.6h0M168.1 438.3h0M171.3 437.0h0M169.0 434.7h0M171.3 437.0h0M172.6 421.9h0M171.3 440.1h0M173.2 434.1h0M169.9 427.6h0M172.7 420.1h0M169.7 428.2h0M168.9 437.2h0M171.1 431.9h0M170.0 435.5h0M170.7 445.7h0M172.4 421.5h0M172.1 426.9h0M172.4 428.2h0M169.2 431.5h0M170.2 435.1h0M172.2 435.6h0M173.1 440.0h0M172.4 442.6h0M172.1 420.7h0M170.2 443.1h0M172.7 439.7h0M172.7 430.3h0M168.7 424.9h0M169.0 436.1h0M169.3 427.2h0M172.8 430.3h0M170.8 428.6h0M169.7 437.3h0M169.2 437.4h0M172.1 435.6h0M172.1 425.7h0M170.4 419.2h0M168.8 426.2h0M171.1 442.1h0M172.5 429.2h0M173.3 445.0h0M172.6 423.3h0M168.9 429.3h0M169.5 430.9h0M170.2 435.6h0M170.2 427.7h0M170.9 428.4h0M169.7 438.6h0M170.7 429.9h0M170.6 429.4h0M172.0 424.8h0M168.1 424.8h0M173.2 440.6h0M168.4 436.3h0M169.5 424.1h0M170.8 427.5h0M169.4 432.1h0M171.6 424.6h0M172.0 422.8h0M168.3 430.0h0M169.5 429.8h0M170.7 426.7h0M173.0 433.9h0M169.4 428.8h0M169.4 431.8h0M169.5 431.6h0M169.6 427.8h0M172.7 436.9h0M172.2 439.2h0M168.4 440.1h0M173.3 428.0h0M170.9 440.7h0M172.5 425.0h0M172.4 420.3h0M169.7 425.9h0M168.6 431.0h0M171.8 431.7h0M168.1 425.5h0M173.0 427.3h0M169.2 430.2h0M170.0 434.7h0M170.8 434.8h0M168.4 432.1h0M170.6 424.1h0M172.4 439.6h0M168.4 433.0h0M168.2 446.6h0M169.1 426.7h0M169.9 430.2h0M170.8 424.5h0M171.5 431.6h0M172.5 428.4h0M171.1 428.4h0M168.4 431.8h0M172.3 432.8h0M169.5 441.8h0M172.2 434.0h0M168.3 432.9h0M169.0 439.5h0M168.9 427.1h0M169.3 428.8h0M171.9 419.9h0M172.2 442.7h0M171.4 436.4h0M173.3 434.5h0M169.0 438.0h0M172.6 425.2h0M169.8 425.5h0M171.3 418.6h0M168.3 425.0h0M171.0 433.4h0M170.9 437.5h0M168.6 437.7h0M172.1 436.2h0M168.3 435.4h0M169.5 445.0h0M171.5 433.8h0M170.5 433.1h0M173.0 444.5h0M172.9 430.7h0M169.8 438.2h0M172.5 425.5h0M172.1 430.8h0M168.6 430.9h0M171.2 432.6h0M171.8 438.5h0M169.7 438.8h0M172.3 440.7h0M168.6 431.5h0M172.3 439.4h0M171.3 436.0h0M170.8 431.8h0M173.2 430.2h0M173.0 438.4h0M169.4 428.3h0M173.3 430.7h0M170.0 434.4h0M171.4 426.1h0M171.0 445.0h0M169.5 435.4h0M172.9 425.7h0M171.9 433.2h0M171.6 435.0h0M168.3 426.7h0M172.0 435.8h0M171.9 430.7h0M172.7 441.2h0M168.4 428.8h0M168.8 431.4h0M169.7 436.9h0M171.0 431.2h0M172.7 435.7h0M169.1 443.5h0M172.2 440.4h0M169.6 433.2h0M168.5 441.0h0M171.8 432.6h0M172.5 428.1h0M169.2 438.9h0M170.9 427.7h0M172.8 434.1h0M172.9 431.8h0M171.7 434.9h0M172.1 432.7h0M170.3 426.5h0M170.8 434.3h0M170.7 433.7h0M169.8 428.2h0M169.0 437.2h0M168.3 434.1h0M171.7 432.8h0M170.9 432.0h0M169.6 438.2h0M170.5 438.0h0M171.6 441.0h0M170.6 431.5h0M172.5 426.1h0M172.0 443.0h0M171.5 446.7h0M168.5 423.8h0M170.3 434.6h0M168.2 441.8h0M173.1 435.7h0M171.8 418.3h0M172.4 445.3h0M168.3 433.1h0M170.1 431.1h0M170.2 438.5h0M171.2 431.5h0M171.0 427.8h0M171.9 439.6h0M170.0 416.2h0M171.2 431.8h0M172.8 424.2h0M168.1 444.1h0M169.4 427.0h0M168.6 427.4h0M173.1 424.1h0M172.7 428.2h0M172.9 420.4h0M170.7 430.8h0M170.6 418.2h0M171.1 441.7h0M172.8 431.8h0M170.7 419.7h0M170.5 425.9h0M172.4 438.8h0M168.4 437.8h0M170.2 432.0h0M173.1 444.4h0M168.4 433.0h0M172.1 433.3h0M172.8 427.8h0M172.9 421.2h0M172.1 440.2h0M171.1 429.0h0M169.8 444.7h0M169.0 433.4h0M170.5 433.8h0M173.1 438.9h0M171.7 419.7h0M172.7 428.4h0M171.3 417.7h0M171.6 443.4h0M168.3 437.6h0M170.9 426.1h0M170.9 433.1h0M169.9 435.1h0M173.0 437.9h0M169.4 441.8h0M169.6 425.3h0M171.5 438.4h0M170.3 440.5h0M173.2 439.3h0M172.0 416.1h0M171.4 433.1h0M171.8 426.9h0M171.3 432.3h0M168.8 429.2h0M171.5 436.4h0M170.6 425.0h0M173.3 426.9h0M168.8 434.6h0M173.1 418.9h0M169.4 432.7h0M171.9 430.3h0M172.7 436.7h0M170.3 427.7h0M171.1 435.1h0M172.9 433.2h0M169.0 434.0h0M171.3 423.1h0M168.1 430.7h0M170.1 433.3h0M171.4 444.8h0M168.8 443.5h0M168.3 425.6h0M171.8 446.1h0M171.8 434.0h0M172.9 426.4h0M171.6 425.8h0M172.8 434.4h0M171.8 428.6h0M168.7 421.7h0M172.9 443.3h0M172.1 420.5h0M171.3 428.1h0" stroke="#e8913f" stroke-opacity="0.55" stroke-width="0.9" stroke-linecap="round" fill="none"/>
<path d="M186.5,388.5 L186.5,388.5 L186.1,389.8 L186.0,391.2 L186.0,392.5 L186.0,393.9 L186.0,395.2 L186.0,396.5 L186.0,397.9 L186.0,399.2 L186.0,400.6 L186.0,401.9 L186.0,403.2 L186.0,404.6 L186.0,405.9 L186.0,407.3 L186.0,408.6 L185.9,409.9 L185.8,411.3 L185.6,412.6 L185.4,414.0 L185.2,415.3 L184.9,416.6 L184.6,418.0 L184.2,419.3 L183.7,420.7 L183.2,422.0 L182.7,423.3 L182.2,424.7 L181.9,426.0 L181.7,427.4 L181.8,428.7 L182.0,430.0 L182.5,431.4 L183.0,432.7 L183.6,434.1 L184.2,435.4 L184.8,436.7 L185.3,438.1 L185.7,439.4 L186.0,440.8 L186.5,442.1 L186.5,442.1 Z" fill="#67aa60" stroke="#222" stroke-width="0.55"/>
<path d="M191.3 432.5h0M191.4 433.8h0M187.4 430.2h0M190.8 416.7h0M190.8 431.2h0M190.4 421.7h0M189.9 432.4h0M187.9 433.8h0M188.0 433.5h0M187.9 432.8h0M186.8 432.3h0M188.5 425.5h0M190.3 438.4h0M187.0 433.9h0M190.1 423.2h0M189.3 429.7h0M188.6 425.5h0M186.9 429.8h0M186.8 412.9h0M187.8 428.6h0M188.4 417.4h0M186.7 423.9h0M189.4 428.3h0M188.8 423.2h0M190.4 424.6h0M187.3 428.1h0M190.3 421.0h0M189.3 426.2h0M187.6 430.1h0M188.5 436.5h0M186.6 429.8h0M190.4 414.9h0M187.3 420.7h0M190.2 432.2h0M186.9 428.2h0M190.4 422.8h0M189.7 426.9h0M187.8 438.0h0M187.5 432.1h0M187.8 425.7h0M190.9 436.1h0M187.8 422.1h0M190.1 422.5h0M189.9 425.1h0M186.7 420.0h0M189.0 436.5h0M189.0 434.5h0M187.1 433.1h0M190.7 426.5h0M188.1 422.5h0M189.8 438.8h0M186.9 419.0h0M191.1 423.6h0M191.6 422.6h0M191.7 433.8h0M188.0 441.7h0M189.2 427.3h0M188.2 411.4h0M189.7 425.7h0M188.4 417.1h0M191.6 440.5h0M186.8 418.7h0M186.6 434.6h0M186.6 429.1h0M190.2 421.5h0M188.7 436.3h0M189.7 434.3h0M188.5 413.6h0M187.5 433.7h0M188.6 427.2h0M190.5 413.7h0M187.0 436.9h0M190.0 420.8h0M189.4 418.8h0M189.7 427.9h0M188.6 420.7h0M189.2 433.0h0M191.6 413.9h0M187.1 424.4h0M187.7 421.4h0M189.7 429.5h0M186.8 430.3h0M187.1 428.0h0M189.1 433.1h0M190.4 429.1h0M191.5 419.8h0M189.3 429.4h0M191.3 415.6h0M189.5 428.3h0M189.7 424.6h0M186.7 424.0h0M189.6 430.3h0M188.3 428.9h0M188.9 435.6h0M188.5 422.3h0M186.5 430.5h0M191.3 423.2h0M189.7 432.9h0M191.1 419.5h0M186.7 423.9h0M191.2 431.9h0M190.5 421.5h0M190.1 419.8h0M187.0 420.8h0M191.7 428.2h0M189.9 425.4h0M188.6 428.4h0M190.9 433.2h0M186.7 416.7h0M190.5 425.9h0M188.2 437.4h0M189.6 433.9h0M191.0 428.9h0M190.6 423.7h0M187.6 425.5h0M189.6 415.0h0M189.6 416.1h0M190.2 421.3h0M187.8 429.0h0M186.9 430.7h0M190.4 430.5h0M188.2 431.6h0M187.0 420.3h0M189.2 431.8h0M190.4 427.2h0M187.6 431.6h0M189.7 416.3h0M187.6 434.6h0M187.3 434.8h0M191.2 422.5h0M187.1 422.1h0M190.3 435.5h0M189.5 422.8h0M190.1 433.8h0M190.3 435.9h0M186.8 413.5h0M190.0 431.9h0M187.2 427.3h0M190.3 429.5h0M191.2 426.1h0M187.1 419.9h0M188.1 417.2h0M191.6 427.1h0M188.4 423.8h0M189.2 429.1h0M191.0 421.7h0M188.5 420.8h0M187.1 435.3h0M189.3 422.0h0M186.8 425.0h0M191.2 424.0h0M188.0 426.9h0M191.4 431.4h0M189.6 425.2h0M189.8 419.7h0M190.1 417.6h0M190.6 418.3h0M189.0 427.0h0M189.5 429.7h0M186.5 424.3h0M191.3 431.0h0M189.2 426.6h0M188.2 418.6h0M188.5 424.0h0M190.3 419.0h0M187.0 420.0h0M190.0 426.1h0M189.7 433.4h0M188.6 425.7h0M189.9 423.3h0" stroke="#86c982" stroke-opacity="0.55" stroke-width="0.9" stroke-linecap="round" fill="none"/>
<path d="M152.6,430.3 L170.7,432.9 L189.1,427.3" fill="none" stroke="#000" stroke-width="1.8" stroke-linecap="round" stroke-dasharray="0 4.3"/>
<line x1="152.6" y1="414.4" x2="152.6" y2="424.8" stroke="#000" stroke-width="0.7"/>
<line x1="152.6" y1="436.8" x2="152.6" y2="446.7" stroke="#000" stroke-width="0.7"/>
<line x1="151.5" y1="414.4" x2="153.7" y2="414.4" stroke="#000" stroke-width="0.7"/>
<line x1="151.5" y1="446.7" x2="153.7" y2="446.7" stroke="#000" stroke-width="0.7"/>
<rect x="151.1" y="424.8" width="3.0" height="12.0" fill="none" stroke="#000" stroke-width="0.7"/>
<circle cx="152.6" cy="430.3" r="2.8" fill="#000"/>
<path d="M152.6,397.9L153.9,399.5L152.6,401.1L151.3,399.5ZM152.6,411.8L153.9,413.4L152.6,415.0L151.3,413.4ZM152.6,410.4L153.9,412.0L152.6,413.6L151.3,412.0ZM152.6,409.1L153.9,410.7L152.6,412.3L151.3,410.7ZM152.6,407.7L153.9,409.3L152.6,410.9L151.3,409.3ZM152.6,406.4L153.9,408.0L152.6,409.6L151.3,408.0ZM152.6,405.0L153.9,406.6L152.6,408.2L151.3,406.6Z" fill="#000"/>
<line x1="170.7" y1="415.2" x2="170.7" y2="427.4" stroke="#000" stroke-width="0.7"/>
<line x1="170.7" y1="439.4" x2="170.7" y2="447.5" stroke="#000" stroke-width="0.7"/>
<line x1="169.6" y1="415.2" x2="171.8" y2="415.2" stroke="#000" stroke-width="0.7"/>
<line x1="169.6" y1="447.5" x2="171.8" y2="447.5" stroke="#000" stroke-width="0.7"/>
<rect x="169.2" y="427.4" width="3.0" height="12.0" fill="none" stroke="#000" stroke-width="0.7"/>
<circle cx="170.7" cy="432.9" r="2.8" fill="#000"/>
<path d="M170.7,406.2L171.9,407.6L170.7,409.1L169.5,407.6ZM170.7,412.8L171.9,414.2L170.7,415.6L169.5,414.2ZM170.7,410.9L171.9,412.4L170.7,413.8L169.5,412.4Z" fill="#000"/>
<line x1="189.1" y1="400.3" x2="189.1" y2="421.8" stroke="#000" stroke-width="0.7"/>
<line x1="189.1" y1="433.8" x2="189.1" y2="442.1" stroke="#000" stroke-width="0.7"/>
<line x1="188.0" y1="400.3" x2="190.2" y2="400.3" stroke="#000" stroke-width="0.7"/>
<line x1="188.0" y1="442.1" x2="190.2" y2="442.1" stroke="#000" stroke-width="0.7"/>
<rect x="187.6" y="421.8" width="3.0" height="12.0" fill="#fff" stroke="#000" stroke-width="0.7"/>
<circle cx="189.1" cy="427.3" r="2.8" fill="#000"/>
<path d="M189.1,388.1L190.3,389.5L189.1,390.9L187.9,389.5ZM189.1,397.8L190.3,399.3L189.1,400.7L187.9,399.3ZM189.1,395.4L190.3,396.9L189.1,398.3L187.9,396.9Z" fill="#000"/>
<text x="276.0" y="373.2" font-size="7.65" font-weight="bold" text-anchor="middle" fill="#111">Study site:</text>
<text x="276.0" y="381.4" font-size="7.65" font-weight="bold" text-anchor="middle" fill="#111">Marburg</text>
<line x1="246.5" y1="386.0" x2="246.5" y2="450.4" stroke="#222" stroke-width="0.8"/>
<line x1="246.1" y1="450.0" x2="306.5" y2="450.0" stroke="#222" stroke-width="0.8"/>
<text x="241.9" y="405.0" font-size="6.95" text-anchor="end" fill="#4d4d4d">1500</text>
<text x="241.9" y="423.1" font-size="6.95" text-anchor="end" fill="#4d4d4d">1000</text>
<text x="241.9" y="440.9" font-size="6.95" text-anchor="end" fill="#4d4d4d">500</text>
<text x="222.7" y="418.2" font-size="7.3" font-weight="bold" text-anchor="middle" fill="#111" transform="rotate(-90 222.7 418.2)">Number of streamlines</text>
<text x="256.9" y="459.6" font-size="5.7" font-weight="bold" text-anchor="middle" fill="#111">HC</text>
<text x="275.8" y="459.6" font-size="5.7" font-weight="bold" text-anchor="middle" fill="#111">MDD</text>
<text x="300.1" y="459.6" font-size="5.7" font-weight="bold" text-anchor="middle" fill="#111">MDD+ANX</text>
<path d="M257.8,388.0 L257.8,388.0 L257.3,389.5 L257.3,391.0 L257.3,392.5 L257.3,393.9 L257.3,395.4 L257.3,396.9 L257.3,398.4 L257.3,399.9 L257.3,401.4 L257.3,402.9 L257.3,404.4 L257.3,405.9 L257.3,407.3 L257.3,408.8 L257.3,410.3 L257.3,411.8 L257.3,413.3 L257.3,414.8 L257.3,416.3 L257.2,417.8 L257.0,419.2 L256.7,420.7 L256.3,422.2 L255.8,423.7 L255.0,425.2 L254.2,426.7 L253.2,428.2 L252.5,429.6 L252.2,431.1 L252.3,432.6 L252.7,434.1 L253.2,435.6 L253.9,437.1 L254.6,438.6 L255.3,440.1 L255.9,441.6 L256.4,443.0 L256.9,444.5 L257.2,446.0 L257.8,447.5 L257.8,447.5 Z" fill="#3e5a80" stroke="#222" stroke-width="0.55"/>
<path d="M261.3 426.4h0M260.2 431.8h0M262.0 426.0h0M261.3 442.8h0M258.4 427.8h0M262.2 425.2h0M262.7 442.6h0M262.6 443.4h0M261.6 440.8h0M259.4 427.6h0M258.7 439.1h0M260.0 436.3h0M259.7 420.5h0M261.7 431.5h0M259.2 431.4h0M260.4 427.1h0M259.4 430.7h0M259.2 427.8h0M258.8 414.6h0M262.7 424.0h0M259.1 424.2h0M259.7 432.0h0M260.7 421.8h0M261.4 432.4h0M261.3 438.4h0M258.3 434.9h0M260.0 441.4h0M257.8 434.2h0M259.2 445.6h0M262.6 423.4h0M261.3 432.7h0M260.9 430.8h0M262.3 428.3h0M261.0 432.5h0M260.4 425.2h0M259.0 421.2h0M261.1 437.7h0M258.9 437.8h0M262.8 415.7h0M258.8 435.4h0M260.2 420.4h0M262.2 424.2h0M259.2 433.0h0M262.5 430.6h0M263.0 419.7h0M260.0 427.9h0M259.3 425.1h0M261.3 430.4h0M259.6 430.3h0M260.1 430.7h0M258.5 424.5h0M260.6 433.8h0M258.2 430.7h0M260.1 434.0h0M263.0 419.0h0M259.0 426.4h0M257.9 431.3h0M259.0 428.6h0M262.4 439.0h0M262.4 421.2h0M258.2 429.9h0M260.4 430.0h0M259.7 432.4h0M262.1 419.6h0M262.2 433.0h0M259.1 420.0h0M262.6 444.1h0M262.0 433.8h0M258.0 432.1h0M258.5 422.8h0M261.9 433.4h0M259.7 441.9h0M260.9 414.7h0M258.4 422.7h0M261.4 425.9h0M260.0 419.0h0M259.1 428.3h0M258.8 423.7h0M258.4 433.0h0M260.4 425.3h0M260.1 438.4h0M262.5 424.4h0M257.9 434.3h0M261.5 432.0h0M262.1 437.4h0M258.7 432.1h0M262.1 424.8h0M258.2 428.0h0M258.8 435.0h0M262.5 427.7h0M259.3 415.9h0M258.2 429.9h0M262.6 424.8h0M260.5 438.1h0M259.1 422.1h0M259.6 437.1h0M259.2 429.7h0M259.3 420.4h0M261.9 432.7h0M259.5 428.7h0M259.1 433.3h0M261.3 426.6h0M259.2 434.5h0M259.9 438.2h0M259.6 434.5h0M261.5 438.1h0M261.2 436.8h0M258.3 431.4h0M260.4 423.4h0M262.5 436.5h0M259.4 430.6h0M260.7 421.3h0M259.6 425.2h0M259.8 434.0h0M258.8 427.0h0M261.9 436.1h0M258.5 429.6h0M263.0 426.2h0M260.7 432.6h0M261.1 418.5h0M259.4 425.7h0M261.1 431.3h0M260.5 446.1h0M261.7 431.2h0M259.7 435.6h0M262.3 428.8h0M261.4 428.0h0M260.0 429.6h0M260.3 433.4h0M259.2 421.8h0M261.5 430.7h0M259.2 435.4h0M261.8 432.3h0M261.2 443.1h0M260.8 438.9h0M258.6 435.1h0M258.4 434.6h0M258.6 426.6h0M262.6 436.5h0M262.9 428.3h0M258.0 428.0h0M257.8 419.2h0M259.5 424.7h0M259.4 441.7h0M259.8 426.9h0M258.3 434.8h0M261.0 435.2h0M260.8 439.2h0M261.1 442.2h0M262.1 437.3h0M258.3 420.0h0M262.4 424.2h0M258.9 442.2h0M259.3 431.6h0M261.2 424.6h0M258.2 429.8h0M259.6 425.1h0M262.6 446.6h0M261.2 429.2h0M260.8 435.5h0M261.3 438.2h0M262.9 428.6h0M260.6 419.4h0M259.6 438.3h0M259.6 426.0h0M260.9 429.6h0M259.6 429.3h0M260.1 435.5h0M258.6 431.2h0M261.5 414.0h0M258.7 436.4h0M260.2 427.1h0M258.7 420.3h0M259.3 446.4h0M261.4 428.8h0M261.3 441.5h0M262.3 432.5h0M262.6 431.9h0M262.2 437.3h0M262.6 442.0h0M258.3 435.5h0M261.1 435.7h0M259.4 439.6h0M260.0 423.2h0M258.5 431.9h0M259.9 428.2h0M260.7 433.3h0M259.1 423.2h0M260.9 436.1h0M259.8 429.4h0M260.4 418.6h0M260.7 427.1h0M258.9 427.6h0M259.8 427.4h0M261.2 429.2h0M258.9 431.0h0M259.0 422.7h0M262.4 433.5h0M260.0 431.2h0M259.4 427.5h0M259.9 438.7h0M261.2 442.5h0M259.2 429.4h0M260.2 440.0h0M257.9 441.1h0M258.7 424.2h0M261.2 432.1h0M261.9 429.6h0M258.1 433.9h0M260.6 433.5h0M258.3 417.9h0M259.9 429.5h0M262.7 441.5h0M261.6 429.5h0M261.4 430.1h0M261.0 419.0h0M261.6 434.9h0M260.5 438.9h0M260.0 429.1h0M259.6 434.7h0M258.6 437.0h0M263.0 417.9h0M258.3 426.9h0M259.9 414.5h0M261.8 431.3h0M259.3 428.9h0M260.2 427.3h0M262.5 423.6h0M261.2 420.7h0M261.7 423.4h0M260.8 429.7h0M261.0 435.7h0M257.8 436.3h0M260.7 432.9h0M261.5 437.6h0M262.1 445.8h0M259.2 443.1h0M258.8 444.7h0M259.7 425.4h0M260.1 431.3h0M262.6 427.6h0M262.5 436.4h0M262.9 432.1h0M259.5 443.2h0M261.0 433.8h0M261.1 422.9h0M260.8 438.3h0M260.7 431.5h0M259.1 425.1h0M261.2 439.2h0M262.6 425.0h0M262.7 443.4h0M258.3 438.9h0M260.6 429.0h0M260.9 434.2h0M261.2 433.3h0M261.1 433.7h0M260.3 416.0h0M262.5 428.9h0M259.3 426.4h0M259.2 431.7h0M259.1 416.0h0M263.0 432.2h0M259.1 432.8h0M259.6 431.3h0M259.0 434.7h0M258.4 429.6h0M259.6 420.5h0M258.3 435.5h0M262.6 429.7h0M260.8 439.6h0M261.7 425.2h0M259.0 426.8h0M262.9 436.0h0M259.2 437.6h0M258.7 428.9h0M259.4 432.0h0M259.7 428.0h0M261.5 436.1h0M262.2 427.6h0M261.3 426.0h0M259.1 441.3h0M258.6 425.9h0M260.1 435.1h0M262.0 426.2h0M261.4 430.7h0M261.9 426.9h0M258.8 427.8h0M260.8 440.2h0M258.5 439.5h0M259.1 436.3h0M258.6 436.9h0M258.6 444.1h0M261.5 441.6h0M259.0 428.0h0M258.4 429.9h0M259.1 422.7h0M260.3 440.8h0M258.1 438.2h0M258.3 430.7h0M260.4 430.8h0M261.9 415.6h0M262.6 433.2h0M260.6 430.5h0M261.0 422.6h0M261.1 431.5h0M258.2 428.8h0M258.4 431.8h0M260.3 441.1h0M258.5 428.1h0M258.3 428.2h0M258.0 432.4h0M260.1 431.0h0M262.8 426.4h0M262.3 432.0h0M262.1 436.0h0M261.5 425.5h0M259.0 428.4h0M260.2 436.2h0M259.6 436.8h0M258.1 425.9h0M262.9 422.0h0M258.6 423.6h0M258.9 417.6h0M261.1 425.6h0M260.3 427.9h0M258.4 422.3h0M261.7 425.6h0M259.8 415.5h0M262.1 447.4h0M262.6 433.2h0M260.2 427.8h0M262.0 431.5h0M262.1 431.6h0M263.0 425.5h0M260.6 425.8h0M258.1 425.0h0M259.4 424.4h0M262.4 420.2h0M257.8 442.4h0M259.8 417.5h0M260.8 432.6h0M261.5 431.8h0M258.0 423.5h0M262.1 422.4h0M258.5 432.4h0M260.3 433.5h0M259.5 429.9h0M258.6 437.6h0M258.6 421.6h0M258.7 437.2h0M260.3 436.6h0M260.3 431.5h0M262.2 416.5h0M259.2 427.3h0M261.4 437.0h0M260.2 430.2h0M258.1 427.6h0M258.8 433.3h0M261.7 425.7h0M259.1 414.7h0M262.0 443.6h0M258.9 431.7h0M259.0 436.4h0M259.6 415.4h0M259.2 435.5h0M260.6 427.8h0M260.0 423.5h0M260.6 424.9h0M262.7 443.3h0M260.7 435.3h0M261.9 437.9h0M260.7 441.6h0M259.9 435.3h0M262.0 425.2h0M258.8 432.0h0M258.6 439.6h0M261.2 434.7h0M258.0 428.2h0M261.4 426.3h0M260.5 433.9h0M262.4 429.3h0M259.1 430.2h0M262.4 428.1h0M262.9 425.4h0M261.1 436.6h0M262.6 435.2h0M258.5 430.9h0M261.8 436.0h0M258.8 420.2h0M259.4 429.8h0M262.4 434.4h0M262.6 435.8h0M260.8 443.9h0M258.5 423.8h0M262.2 445.3h0M260.7 434.8h0M260.4 441.6h0M259.3 425.7h0M259.7 439.1h0M260.1 424.0h0M261.5 429.4h0M261.5 437.7h0M261.1 428.5h0M258.5 426.9h0M260.6 430.0h0M262.5 430.2h0M260.3 424.7h0M262.1 423.7h0M260.2 432.9h0M260.0 429.1h0M259.3 429.6h0M259.8 421.4h0M258.3 435.8h0M257.9 431.8h0M259.0 421.1h0M262.5 429.0h0M260.3 436.6h0M258.6 425.4h0M259.5 444.0h0M262.3 425.1h0M262.7 440.2h0M261.9 440.7h0M261.7 429.9h0M262.2 419.5h0M262.5 420.8h0M258.2 446.5h0M258.3 427.8h0M260.2 433.4h0M258.1 433.8h0M262.6 433.4h0M262.7 438.4h0M259.8 435.3h0M258.8 421.1h0M259.6 431.5h0M261.2 436.8h0M262.4 430.4h0M259.5 418.0h0M261.1 433.1h0M257.9 433.1h0M260.0 438.2h0M259.4 430.2h0M262.8 441.1h0M259.5 436.3h0M261.1 422.6h0M260.8 438.4h0M258.3 429.4h0M262.9 427.9h0M260.9 440.0h0M257.9 432.8h0M261.8 427.9h0M260.7 414.7h0M259.7 431.9h0M260.5 428.5h0M258.2 433.1h0M260.7 422.6h0M259.9 438.1h0M259.0 433.2h0M258.5 433.0h0M258.7 427.2h0M261.1 442.5h0M258.3 435.7h0M261.4 432.3h0M260.7 443.3h0M260.1 430.3h0M261.7 429.2h0M259.5 438.0h0M260.1 424.9h0M261.7 439.4h0M262.1 425.5h0M258.1 432.1h0M262.2 436.2h0M261.0 430.1h0M261.6 416.5h0M258.2 431.6h0M262.4 424.5h0M260.2 424.9h0M260.9 421.2h0M260.8 430.1h0M260.0 422.0h0" stroke="#4a6ca6" stroke-opacity="0.55" stroke-width="0.9" stroke-linecap="round" fill="none"/>
<path d="M276.6,402.0 L276.6,402.0 L276.2,403.1 L276.1,404.3 L276.1,405.4 L276.1,406.6 L276.1,407.7 L276.1,408.8 L276.1,410.0 L276.1,411.1 L276.1,412.2 L276.1,413.4 L276.1,414.5 L276.1,415.6 L276.1,416.8 L276.1,417.9 L276.1,419.1 L275.9,420.2 L275.7,421.3 L275.5,422.5 L275.1,423.6 L274.7,424.8 L274.2,425.9 L273.5,427.0 L272.8,428.2 L272.0,429.3 L271.2,430.4 L270.7,431.6 L270.6,432.7 L270.7,433.9 L271.0,435.0 L271.5,436.1 L272.0,437.3 L272.6,438.4 L273.3,439.5 L273.9,440.7 L274.5,441.8 L275.0,442.9 L275.4,444.1 L275.7,445.2 L276.1,446.4 L276.6,447.5 L276.6,447.5 Z" fill="#db8233" stroke="#222" stroke-width="0.55"/>
<path d="M280.5 433.6h0M280.9 428.5h0M280.1 425.8h0M281.7 426.4h0M279.6 433.6h0M277.9 427.5h0M280.6 429.7h0M278.9 426.2h0M277.2 433.1h0M278.7 425.3h0M278.7 419.3h0M281.3 435.1h0M277.2 420.5h0M279.7 426.6h0M280.9 421.2h0M280.1 438.1h0M280.0 439.1h0M279.3 434.2h0M281.3 436.2h0M281.6 432.6h0M279.0 437.3h0M279.8 429.3h0M277.2 439.8h0M277.1 431.1h0M280.3 439.8h0M278.2 420.7h0M280.1 443.1h0M280.4 432.4h0M277.3 425.5h0M277.4 420.2h0M278.0 440.9h0M278.6 418.4h0M277.6 443.0h0M276.6 430.6h0M277.2 437.4h0M276.6 438.0h0M279.2 435.0h0M276.8 423.4h0M278.0 444.2h0M281.4 427.2h0M279.4 423.1h0M278.6 440.9h0M278.2 427.8h0M279.3 431.4h0M277.3 442.2h0M281.5 430.8h0M280.6 433.5h0M281.4 437.8h0M281.4 427.3h0M278.9 437.4h0M281.6 436.1h0M280.1 429.2h0M280.5 425.4h0M278.7 429.1h0M281.0 433.8h0M279.6 425.9h0M279.2 434.9h0M279.3 436.9h0M278.6 420.4h0M278.8 431.9h0M276.7 428.7h0M280.3 415.8h0M279.2 427.6h0M277.6 428.7h0M281.4 421.2h0M277.3 441.1h0M278.0 437.6h0M281.7 427.3h0M279.7 434.3h0M281.7 423.6h0M281.1 429.0h0M278.2 438.0h0M281.6 422.3h0M279.5 430.8h0M281.0 433.2h0M279.9 439.7h0M279.8 428.5h0M279.3 427.9h0M281.2 427.1h0M277.3 422.7h0M281.2 426.2h0M279.6 417.6h0M279.4 421.6h0M279.2 429.9h0M281.1 439.8h0M276.7 442.3h0M277.9 428.5h0M276.9 432.7h0M278.6 427.4h0M278.8 424.2h0M278.6 435.6h0M278.4 417.3h0M277.4 431.5h0M279.9 431.1h0M281.6 435.7h0M281.1 434.7h0M277.8 432.6h0M281.7 425.0h0M280.2 438.1h0M278.9 441.6h0M276.7 433.8h0M278.7 419.2h0M280.0 431.1h0M277.6 424.8h0M278.2 432.4h0M278.0 444.1h0M278.0 439.9h0M277.4 432.5h0M278.1 434.7h0M280.6 446.2h0M279.1 419.4h0M277.9 441.2h0M277.0 441.0h0M278.2 436.8h0M280.2 433.0h0M277.0 424.2h0M277.3 425.1h0M279.1 428.8h0M277.3 427.5h0M280.7 434.3h0M278.4 440.6h0M279.1 438.5h0M279.7 434.2h0M276.9 439.1h0M278.7 439.4h0M278.0 426.4h0M280.0 421.9h0M279.2 419.3h0M277.4 422.8h0M279.8 438.8h0M277.3 440.8h0M280.2 437.0h0M278.4 444.3h0M281.7 431.1h0M280.3 425.7h0M280.2 431.4h0M279.7 430.1h0M278.6 423.6h0M279.9 416.4h0M280.9 428.9h0M278.8 416.8h0M279.6 437.2h0M280.3 439.7h0M281.7 438.7h0M278.6 437.5h0M279.2 437.5h0M279.5 426.7h0M277.8 431.5h0M281.3 428.4h0M278.5 434.7h0M281.0 422.6h0M278.8 445.4h0M281.3 440.8h0M277.9 427.6h0M280.6 418.8h0M278.9 419.5h0M280.0 423.0h0M278.9 430.8h0M279.4 428.6h0M276.7 433.4h0M280.7 434.3h0M278.0 433.4h0M278.4 430.8h0M276.8 441.8h0M278.1 436.0h0M281.1 432.4h0M277.1 430.5h0M279.8 438.5h0M277.0 420.0h0M279.9 422.5h0M278.6 427.3h0M277.1 426.7h0M280.6 430.1h0M281.1 426.7h0M281.1 438.0h0M281.2 429.9h0M277.8 436.1h0M278.4 423.5h0M277.9 431.3h0M280.8 433.9h0M278.1 421.9h0M278.3 419.9h0M280.7 432.2h0M277.7 432.7h0M279.4 424.8h0M276.7 431.5h0M281.3 432.8h0M279.1 425.5h0M277.5 425.7h0M281.3 426.3h0M281.1 428.4h0M281.5 426.4h0M277.7 431.4h0M278.8 439.6h0M280.3 437.6h0M278.1 438.7h0M277.5 424.1h0M280.4 421.6h0M281.3 426.9h0M278.2 430.3h0M281.1 429.7h0M276.7 430.0h0M279.5 434.7h0M279.6 439.3h0M278.9 428.3h0M278.2 443.4h0M279.3 441.5h0M279.6 431.8h0M281.2 420.0h0M277.2 428.3h0M278.6 423.0h0M280.2 423.2h0M278.9 430.6h0M278.5 429.2h0M277.1 437.8h0M280.1 435.9h0M277.5 427.2h0M280.6 417.9h0M280.9 426.2h0M278.4 439.3h0M279.4 436.6h0M281.5 432.2h0M278.2 430.3h0M281.4 435.3h0M280.9 435.8h0M276.8 416.7h0M278.7 419.5h0M277.9 430.9h0M280.8 438.7h0M280.0 434.3h0M281.1 434.5h0M281.0 433.8h0M280.8 432.6h0M280.3 425.7h0M278.4 430.2h0M277.3 438.2h0M277.6 421.9h0M277.2 423.3h0M280.4 434.1h0M277.4 433.2h0M280.5 444.3h0M276.8 432.6h0M277.1 424.5h0M277.1 433.0h0M276.9 429.9h0M279.2 435.7h0M278.8 432.0h0M278.0 425.9h0M279.6 417.7h0M281.2 428.0h0M279.3 427.4h0M276.6 432.2h0M279.8 430.9h0M281.0 429.5h0M277.9 439.1h0M281.7 426.2h0M277.5 431.7h0M279.5 426.4h0M278.0 434.2h0M278.4 435.1h0M280.4 421.6h0M278.4 431.8h0M281.1 422.2h0M278.4 418.1h0M277.4 432.2h0M278.0 435.2h0M281.2 425.7h0M278.8 437.1h0M280.1 435.7h0M278.6 436.5h0M281.5 443.3h0M280.5 431.9h0M277.6 431.8h0M279.1 436.1h0M279.8 420.6h0M280.2 435.7h0M279.4 435.7h0M276.7 444.9h0M280.8 434.6h0M280.4 429.3h0M281.3 432.4h0M278.5 421.7h0M279.1 433.0h0M281.3 423.2h0M276.6 426.0h0M280.9 429.9h0M277.1 439.3h0M279.5 429.9h0M281.6 437.2h0M279.2 433.9h0M278.8 432.6h0M276.8 433.8h0M277.9 445.8h0M277.5 429.7h0M281.6 418.2h0M280.2 422.1h0M277.4 425.3h0M279.6 426.7h0M278.1 428.9h0M281.5 429.7h0M277.1 439.6h0M280.9 433.0h0M277.3 423.3h0M281.2 416.1h0M278.9 417.6h0M277.8 433.3h0M277.7 428.3h0M280.1 425.9h0M279.4 426.3h0M279.4 429.9h0M281.3 429.3h0M277.6 437.2h0M278.2 436.2h0M277.2 431.2h0M280.4 422.5h0M280.7 441.8h0M279.5 427.8h0M280.1 430.8h0M280.7 424.1h0M278.4 426.3h0M279.8 421.4h0M281.7 436.5h0M276.9 435.3h0M278.8 435.9h0M280.8 423.3h0M279.1 429.0h0M281.3 442.2h0M279.8 432.4h0M278.2 442.7h0M281.0 431.1h0M278.6 439.9h0M279.7 437.7h0M279.9 438.3h0M278.1 433.5h0M280.4 431.0h0M277.2 427.8h0M278.5 445.9h0M278.3 433.5h0M277.4 438.3h0M280.1 441.8h0M277.6 438.3h0M277.4 430.0h0M278.9 437.4h0M276.8 440.1h0M280.0 445.5h0M281.1 432.0h0M280.8 434.2h0M279.0 429.1h0M277.0 430.4h0M276.9 428.9h0M281.5 433.5h0M280.7 432.2h0M278.7 432.9h0M281.4 436.2h0M278.6 428.8h0M280.9 433.7h0M279.1 429.2h0M278.6 420.8h0M281.2 417.4h0M279.9 436.0h0" stroke="#e8913f" stroke-opacity="0.55" stroke-width="0.9" stroke-linecap="round" fill="none"/>
<path d="M294.7,399.0 L294.7,399.0 L294.3,400.1 L294.2,401.2 L294.2,402.4 L294.2,403.5 L294.2,404.6 L294.2,405.8 L294.2,406.9 L294.2,408.0 L294.2,409.1 L294.1,410.2 L293.9,411.4 L293.8,412.5 L293.6,413.6 L293.4,414.8 L293.2,415.9 L292.9,417.0 L292.6,418.1 L292.2,419.2 L291.8,420.4 L291.4,421.5 L290.9,422.6 L290.5,423.8 L290.0,424.9 L289.7,426.0 L289.5,427.1 L289.4,428.2 L289.5,429.4 L289.7,430.5 L290.1,431.6 L290.5,432.8 L291.0,433.9 L291.5,435.0 L292.0,436.1 L292.5,437.2 L293.0,438.4 L293.3,439.5 L293.7,440.6 L293.9,441.8 L294.3,442.9 L294.7,444.0 L294.7,444.0 Z" fill="#67aa60" stroke="#222" stroke-width="0.55"/>
<path d="M295.5 434.0h0M295.1 431.1h0M299.0 419.1h0M297.8 432.6h0M297.5 435.9h0M294.8 432.3h0M295.8 431.3h0M298.9 440.0h0M294.8 428.8h0M297.0 424.8h0M299.0 414.8h0M298.1 430.7h0M296.1 414.2h0M296.5 433.3h0M295.7 443.7h0M296.1 426.7h0M294.9 422.3h0M297.5 423.1h0M299.6 438.2h0M298.9 435.1h0M299.1 434.4h0M296.2 420.0h0M294.8 424.7h0M297.8 434.5h0M297.0 419.8h0M294.9 430.5h0M296.3 426.6h0M297.8 421.4h0M299.2 437.5h0M296.2 421.5h0M297.8 421.7h0M296.1 416.4h0M296.1 442.7h0M298.6 434.0h0M295.6 416.8h0M296.1 423.4h0M297.7 425.5h0M299.2 428.8h0M295.3 425.8h0M298.3 429.1h0M297.5 425.1h0M296.4 420.7h0M298.7 425.2h0M295.5 415.3h0M299.2 429.7h0M299.1 417.5h0M299.8 430.5h0M298.9 419.1h0M298.6 423.5h0M294.9 427.6h0M296.0 417.8h0M297.8 436.5h0M299.6 425.3h0M297.5 414.0h0M297.4 429.6h0M295.6 427.0h0M296.9 435.0h0M297.0 424.5h0M299.1 434.8h0M298.2 423.8h0M298.7 413.6h0M295.8 441.4h0M298.4 428.1h0M299.1 426.6h0M296.3 425.3h0M298.3 415.3h0M299.1 421.4h0M298.0 426.1h0M298.0 431.6h0M295.4 430.0h0M298.3 420.1h0M294.8 411.8h0M295.8 441.1h0M297.9 423.1h0M298.6 421.5h0M296.5 420.1h0M298.6 420.3h0M297.8 414.3h0M297.7 426.8h0M299.6 430.4h0M296.0 420.1h0M297.7 425.6h0M294.9 423.5h0M295.8 425.9h0M296.7 420.8h0M297.2 419.0h0M298.0 417.8h0M298.1 429.8h0M299.0 414.7h0M297.4 438.3h0M297.7 420.8h0M296.5 427.2h0M299.6 430.1h0M295.9 416.9h0M299.4 430.9h0M298.7 423.9h0M295.1 429.4h0M295.9 433.4h0M297.2 421.1h0M298.0 426.8h0M299.2 430.0h0M294.9 424.9h0M295.0 422.1h0M297.2 424.9h0M296.7 418.6h0M297.3 441.4h0M296.8 414.0h0M295.2 422.7h0M299.3 433.5h0M297.4 426.1h0M298.4 433.4h0M299.6 425.9h0M297.2 431.2h0M298.3 424.4h0M297.4 427.5h0M299.4 426.8h0M297.8 437.6h0M297.6 420.9h0M299.1 424.0h0M295.3 424.0h0M299.6 432.5h0M294.8 432.2h0M299.5 422.9h0M298.1 434.5h0M294.9 433.5h0M296.2 421.8h0M296.3 430.9h0M299.8 428.1h0M294.8 421.4h0M296.8 419.0h0M299.1 440.6h0M296.9 433.1h0M295.4 438.2h0M296.3 427.1h0M299.6 420.5h0M297.0 431.0h0M295.6 434.4h0M298.2 423.6h0M295.8 423.7h0M297.9 425.6h0M296.4 432.7h0M299.5 421.8h0M295.7 432.2h0M295.9 416.3h0M298.2 423.2h0M299.7 426.1h0M298.5 437.0h0M295.9 421.7h0M298.8 432.9h0M295.0 429.5h0M295.8 428.5h0M299.3 425.5h0M298.6 421.0h0M299.7 418.4h0M296.7 435.2h0M298.6 421.4h0M298.0 432.8h0M297.3 432.9h0M296.5 414.9h0M299.7 415.7h0M299.7 411.8h0M296.5 431.3h0M298.1 417.8h0M294.8 429.2h0M297.9 438.1h0M294.8 427.9h0M297.1 431.9h0M297.3 431.5h0M299.1 430.5h0M299.5 419.6h0" stroke="#86c982" stroke-opacity="0.55" stroke-width="0.9" stroke-linecap="round" fill="none"/>
<path d="M260.4,430.1 L279.2,432.2 L297.3,425.4" fill="none" stroke="#000" stroke-width="1.8" stroke-linecap="round" stroke-dasharray="0 4.3"/>
<line x1="260.4" y1="414.0" x2="260.4" y2="424.6" stroke="#000" stroke-width="0.7"/>
<line x1="260.4" y1="436.6" x2="260.4" y2="447.5" stroke="#000" stroke-width="0.7"/>
<line x1="259.3" y1="414.0" x2="261.5" y2="414.0" stroke="#000" stroke-width="0.7"/>
<line x1="259.3" y1="447.5" x2="261.5" y2="447.5" stroke="#000" stroke-width="0.7"/>
<rect x="258.9" y="424.6" width="3.0" height="12.0" fill="none" stroke="#000" stroke-width="0.7"/>
<circle cx="260.4" cy="430.1" r="2.8" fill="#000"/>
<path d="M260.4,387.4L261.7,389.0L260.4,390.6L259.1,389.0ZM260.4,411.4L261.7,413.0L260.4,414.6L259.1,413.0ZM260.4,410.0L261.7,411.6L260.4,413.2L259.1,411.6ZM260.4,408.7L261.7,410.3L260.4,411.9L259.1,410.3ZM260.4,407.3L261.7,408.9L260.4,410.6L259.1,408.9ZM260.4,406.0L261.7,407.6L260.4,409.2L259.1,407.6ZM260.4,404.6L261.7,406.2L260.4,407.9L259.1,406.2ZM260.4,403.3L261.7,404.9L260.4,406.5L259.1,404.9ZM260.4,401.9L261.7,403.6L260.4,405.2L259.1,403.6ZM260.4,400.6L261.7,402.2L260.4,403.8L259.1,402.2ZM260.4,399.2L261.7,400.9L260.4,402.5L259.1,400.9ZM260.4,397.9L261.7,399.5L260.4,401.1L259.1,399.5ZM260.4,396.5L261.7,398.1L260.4,399.8L259.1,398.1ZM260.4,395.2L261.7,396.8L260.4,398.4L259.1,396.8Z" fill="#000"/>
<line x1="279.2" y1="415.4" x2="279.2" y2="426.7" stroke="#000" stroke-width="0.7"/>
<line x1="279.2" y1="438.7" x2="279.2" y2="447.5" stroke="#000" stroke-width="0.7"/>
<line x1="278.1" y1="415.4" x2="280.3" y2="415.4" stroke="#000" stroke-width="0.7"/>
<line x1="278.1" y1="447.5" x2="280.3" y2="447.5" stroke="#000" stroke-width="0.7"/>
<rect x="277.7" y="426.7" width="3.0" height="12.0" fill="none" stroke="#000" stroke-width="0.7"/>
<circle cx="279.2" cy="432.2" r="2.8" fill="#000"/>
<path d="M279.2,401.6L280.4,403.0L279.2,404.4L278.0,403.0ZM279.2,412.9L280.4,414.4L279.2,415.8L278.0,414.4ZM279.2,411.1L280.4,412.6L279.2,414.0L278.0,412.6ZM279.2,409.3L280.4,410.8L279.2,412.2L278.0,410.8ZM279.2,407.6L280.4,409.0L279.2,410.4L278.0,409.0ZM279.2,405.8L280.4,407.2L279.2,408.6L278.0,407.2Z" fill="#000"/>
<line x1="297.3" y1="407.7" x2="297.3" y2="419.9" stroke="#000" stroke-width="0.7"/>
<line x1="297.3" y1="431.9" x2="297.3" y2="444.0" stroke="#000" stroke-width="0.7"/>
<line x1="296.2" y1="407.7" x2="298.4" y2="407.7" stroke="#000" stroke-width="0.7"/>
<line x1="296.2" y1="444.0" x2="298.4" y2="444.0" stroke="#000" stroke-width="0.7"/>
<rect x="295.8" y="419.9" width="3.0" height="12.0" fill="#fff" stroke="#000" stroke-width="0.7"/>
<circle cx="297.3" cy="425.4" r="2.8" fill="#000"/>
<path d="M297.3,398.6L298.5,400.0L297.3,401.4L296.1,400.0ZM297.3,405.2L298.5,406.7L297.3,408.1L296.1,406.7Z" fill="#000"/>
<text x="383.8" y="373.2" font-size="7.65" font-weight="bold" text-anchor="middle" fill="#111">Study site:</text>
<text x="383.8" y="381.4" font-size="7.65" font-weight="bold" text-anchor="middle" fill="#111">Münster</text>
<line x1="354.3" y1="386.0" x2="354.3" y2="450.4" stroke="#222" stroke-width="0.8"/>
<line x1="353.9" y1="450.0" x2="414.3" y2="450.0" stroke="#222" stroke-width="0.8"/>
<text x="349.7" y="405.0" font-size="6.95" text-anchor="end" fill="#4d4d4d">1500</text>
<text x="349.7" y="423.1" font-size="6.95" text-anchor="end" fill="#4d4d4d">1000</text>
<text x="349.7" y="440.9" font-size="6.95" text-anchor="end" fill="#4d4d4d">500</text>
<text x="330.5" y="418.2" font-size="7.3" font-weight="bold" text-anchor="middle" fill="#111" transform="rotate(-90 330.5 418.2)">Number of streamlines</text>
<text x="364.7" y="459.6" font-size="5.7" font-weight="bold" text-anchor="middle" fill="#111">HC</text>
<text x="383.6" y="459.6" font-size="5.7" font-weight="bold" text-anchor="middle" fill="#111">MDD</text>
<text x="407.9" y="459.6" font-size="5.7" font-weight="bold" text-anchor="middle" fill="#111">MDD+ANX</text>
<path d="M366.0,402.0 L366.0,402.0 L365.6,403.1 L365.5,404.2 L365.5,405.3 L365.5,406.4 L365.5,407.5 L365.5,408.6 L365.5,409.7 L365.5,410.8 L365.5,411.9 L365.5,413.0 L365.5,414.1 L365.5,415.2 L365.5,416.3 L365.5,417.4 L365.5,418.5 L365.3,419.6 L365.1,420.7 L364.9,421.8 L364.5,422.9 L364.2,424.0 L363.7,425.1 L363.1,426.2 L362.4,427.3 L361.6,428.4 L360.8,429.5 L360.1,430.6 L359.6,431.7 L359.5,432.8 L359.7,433.9 L360.1,435.0 L360.6,436.1 L361.3,437.2 L362.0,438.3 L362.7,439.4 L363.4,440.5 L364.0,441.6 L364.6,442.7 L365.0,443.8 L365.5,444.9 L366.0,446.0 L366.0,446.0 Z" fill="#3e5a80" stroke="#222" stroke-width="0.55"/>
<path d="M371.1 432.1h0M369.8 442.1h0M369.0 441.3h0M368.5 424.9h0M369.0 426.2h0M370.9 433.8h0M368.3 428.1h0M369.1 433.2h0M370.1 434.4h0M370.6 426.2h0M369.2 432.8h0M369.7 426.7h0M370.8 432.0h0M370.3 424.0h0M366.9 440.7h0M369.6 435.1h0M370.0 425.7h0M367.2 435.2h0M367.2 434.2h0M370.3 424.5h0M368.8 432.0h0M370.4 433.1h0M368.5 432.4h0M367.6 438.2h0M367.6 434.6h0M369.5 427.0h0M369.9 418.8h0M366.1 441.6h0M366.5 436.5h0M370.5 437.3h0M367.9 434.7h0M369.8 436.5h0M367.9 428.9h0M369.2 426.9h0M367.9 425.6h0M366.6 421.3h0M367.6 430.1h0M368.7 424.5h0M369.3 437.7h0M369.3 437.9h0M366.1 437.2h0M370.8 436.2h0M367.1 436.5h0M366.9 427.1h0M369.3 426.6h0M368.8 435.2h0M370.8 420.6h0M369.1 423.7h0M368.7 425.8h0M366.9 437.6h0M368.4 427.0h0M368.1 429.8h0M370.5 427.4h0M368.2 445.4h0M368.1 445.4h0M371.0 438.2h0M368.2 441.8h0M369.6 441.3h0M368.1 427.5h0M370.0 429.2h0M368.7 442.4h0M366.8 427.6h0M369.3 425.0h0M368.9 421.8h0M369.5 426.3h0M367.4 440.5h0M366.6 419.0h0M367.0 435.8h0M370.6 430.0h0M369.5 432.2h0M368.0 436.4h0M370.5 429.1h0M366.9 435.8h0M370.9 425.9h0M368.7 416.8h0M369.7 428.3h0M369.7 431.3h0M368.6 425.8h0M368.1 430.8h0M370.9 434.1h0M366.9 434.0h0M369.6 433.4h0M368.5 431.8h0M367.7 438.8h0M368.4 433.0h0M367.2 438.0h0M370.5 436.7h0M367.1 427.6h0M370.5 436.2h0M368.1 438.6h0M368.8 427.5h0M367.7 433.7h0M367.8 444.4h0M371.1 433.9h0M368.6 437.4h0M368.0 441.1h0M369.2 425.6h0M370.7 420.7h0M369.3 440.8h0M368.4 425.1h0M370.1 425.3h0M366.8 438.2h0M366.4 429.9h0M367.4 431.2h0M367.5 431.8h0M368.8 421.9h0M369.3 438.7h0M370.3 422.2h0M367.7 424.2h0M370.6 416.7h0M367.2 423.1h0M371.2 438.0h0M370.1 426.3h0M367.6 416.8h0M366.2 433.4h0M371.1 433.0h0M367.0 424.8h0M368.7 442.2h0M369.4 434.8h0M368.1 426.8h0M370.8 443.3h0M368.2 423.8h0M370.7 436.1h0M367.2 431.5h0M367.9 425.8h0M370.1 430.9h0M368.9 428.7h0M367.0 425.3h0M367.5 433.3h0M368.1 427.8h0M371.2 427.6h0M367.5 445.3h0M368.4 424.4h0M369.6 423.3h0M368.8 436.1h0M367.7 422.2h0M371.2 418.2h0M370.1 427.9h0M368.9 428.8h0M367.6 430.2h0M367.3 438.5h0M366.3 438.2h0M368.6 436.2h0M367.3 420.2h0M369.9 430.0h0M366.1 427.6h0M370.8 431.4h0M367.4 442.6h0M367.6 436.7h0M371.0 427.0h0M369.0 427.6h0M367.7 435.9h0M368.4 420.2h0M371.0 435.6h0M368.1 432.1h0M368.9 428.7h0M370.9 425.6h0M370.4 445.5h0M371.1 429.7h0M368.0 434.4h0M368.3 442.8h0M366.7 432.4h0M366.2 434.1h0M370.8 432.0h0M368.9 442.6h0M366.6 437.7h0M366.2 437.2h0M367.9 435.9h0M370.2 438.6h0M367.6 437.3h0M368.8 424.0h0M366.4 441.3h0M368.9 435.1h0M369.6 424.2h0M368.7 431.9h0M366.7 426.0h0M368.2 441.2h0M371.0 434.8h0M370.1 434.0h0M368.8 431.0h0M369.1 429.5h0M368.3 430.9h0M370.5 423.4h0M368.3 429.6h0M369.6 428.7h0M369.0 430.0h0M371.0 433.0h0M367.2 441.1h0M366.2 425.5h0M367.5 423.9h0M370.0 420.6h0M368.6 426.8h0M369.3 436.7h0M370.0 441.2h0M368.1 430.4h0M367.0 430.9h0M366.9 435.8h0M368.3 429.3h0M366.7 439.1h0M366.2 422.5h0M369.4 430.5h0M369.3 440.5h0M367.2 435.2h0M369.3 416.3h0M369.1 430.4h0M366.4 428.5h0M368.7 435.6h0M368.9 427.7h0M370.4 428.0h0M371.2 436.7h0M368.3 435.0h0M366.8 433.9h0M369.9 425.1h0M366.4 428.4h0M370.5 432.6h0M369.6 426.7h0M368.2 439.1h0M369.5 425.8h0M370.2 441.5h0M368.1 435.4h0M368.2 431.2h0M366.3 423.2h0M370.5 437.5h0M368.4 436.8h0M367.7 429.6h0M370.2 439.1h0M369.8 428.0h0M368.6 434.1h0M368.3 416.7h0M370.0 441.5h0M368.9 437.4h0M368.4 445.2h0M366.6 441.2h0M367.9 425.7h0M368.7 423.6h0M368.7 426.7h0M369.0 424.5h0M369.2 431.6h0M367.6 420.6h0M371.0 435.9h0M367.7 428.4h0M367.6 431.9h0M367.6 434.6h0M368.6 436.7h0M370.2 432.1h0M371.1 433.1h0M371.0 431.4h0M370.8 433.9h0M368.9 425.2h0M368.1 431.7h0M367.0 430.6h0M369.6 423.7h0M368.4 442.3h0M367.1 432.7h0M369.5 432.5h0M367.2 436.4h0M369.2 426.8h0M369.1 436.3h0M366.9 434.5h0M366.2 434.2h0M370.8 432.9h0M369.1 426.2h0M369.5 432.1h0M370.7 429.1h0M370.2 434.8h0M369.5 439.8h0M367.6 427.8h0M370.7 437.9h0M370.8 429.5h0M367.8 433.9h0M370.6 428.5h0M367.2 433.8h0M368.8 436.5h0M367.1 436.9h0M367.3 432.5h0M366.4 432.7h0M366.8 426.9h0M367.1 431.6h0M370.9 427.8h0M370.3 433.7h0M366.7 424.4h0M371.1 437.4h0M368.2 420.8h0M370.0 432.9h0M368.4 439.2h0M370.5 434.5h0M370.8 424.1h0M367.1 418.9h0M370.7 439.3h0M367.5 433.4h0M370.8 439.1h0M370.6 432.0h0M368.7 429.6h0M366.8 429.4h0M368.5 429.4h0M366.7 427.4h0M370.9 428.3h0M366.8 420.5h0M369.8 426.1h0M370.6 430.6h0M366.6 433.6h0M368.3 439.9h0M369.2 430.9h0M369.9 444.3h0M370.5 428.7h0M370.8 427.5h0M369.2 428.1h0M370.1 426.2h0M370.3 439.2h0M367.2 433.0h0M366.2 429.8h0M369.3 429.1h0M370.3 427.9h0M366.0 428.1h0M366.2 428.7h0M368.2 439.6h0M366.7 428.2h0M368.8 434.8h0M366.7 428.7h0M368.5 439.8h0M370.4 430.4h0M370.5 429.8h0M368.7 433.4h0M369.1 417.1h0M370.1 423.7h0M371.0 426.3h0M366.9 423.6h0M367.5 430.3h0M368.8 427.0h0M367.7 432.1h0M370.8 443.2h0M369.1 439.7h0M367.0 423.6h0M369.6 432.0h0M366.1 440.0h0M366.7 430.0h0M371.1 435.5h0M370.0 421.3h0M370.3 425.1h0M366.3 429.1h0M370.5 418.4h0M367.1 427.2h0M366.6 429.4h0M370.9 425.5h0M367.9 443.6h0M366.4 440.0h0M368.8 428.3h0M368.7 435.7h0M369.6 438.4h0M367.1 430.6h0M367.4 426.3h0M369.2 431.4h0M367.8 420.3h0M368.3 421.6h0M367.5 430.6h0M367.2 438.7h0M368.7 430.3h0M367.9 432.6h0M367.9 427.4h0M366.1 435.1h0M368.2 428.2h0M368.5 439.7h0M368.2 433.1h0M370.4 435.5h0M369.1 436.1h0M369.5 431.9h0M370.3 435.5h0M370.5 435.2h0M369.6 440.4h0M369.2 431.6h0M369.3 429.5h0M367.1 437.5h0M369.0 433.0h0M366.3 431.4h0M369.3 417.1h0M370.6 421.1h0M369.8 424.1h0M367.8 429.9h0M367.2 436.6h0M369.3 431.9h0M370.9 431.6h0M366.7 437.2h0M366.1 433.2h0M369.2 432.2h0M368.0 431.3h0M366.7 445.0h0M368.7 434.5h0M369.6 435.5h0M367.8 435.8h0M366.8 426.5h0M369.8 439.2h0M367.5 426.0h0M369.2 425.5h0M367.3 438.2h0M370.3 436.2h0M370.3 420.4h0M367.9 437.7h0M370.5 425.9h0M367.1 435.2h0M367.5 439.9h0M370.1 438.3h0M368.9 419.7h0M366.4 429.2h0M367.1 421.9h0M367.3 431.6h0M367.8 434.7h0M368.1 430.5h0M369.8 426.9h0M368.7 427.0h0M369.6 429.2h0M369.3 427.7h0M368.9 431.4h0M367.7 432.0h0M368.1 430.5h0M369.3 425.2h0M367.3 433.7h0M366.2 432.9h0M371.0 429.1h0M367.8 435.6h0M367.5 435.8h0M366.3 425.9h0M367.4 435.7h0M366.5 440.3h0M367.5 442.9h0M369.1 424.8h0M367.5 435.2h0M366.5 431.6h0M368.8 422.3h0M369.5 428.7h0M368.3 433.0h0M368.6 433.8h0M369.8 436.7h0M367.8 422.7h0M370.8 440.9h0M370.1 436.3h0M371.2 423.5h0M366.0 419.9h0M369.5 443.9h0M367.1 434.8h0M368.0 429.7h0M371.1 421.2h0M371.1 426.5h0M369.6 443.5h0M367.1 426.3h0M367.0 436.9h0M370.4 438.9h0M370.3 433.3h0M367.3 428.6h0M369.9 433.5h0M367.9 433.8h0M370.6 431.3h0M366.2 439.3h0M368.4 425.8h0M370.5 438.5h0M367.3 441.6h0M370.9 434.6h0M370.6 425.6h0M370.7 426.4h0M369.9 419.2h0M367.8 433.3h0M370.9 422.3h0M366.3 422.9h0M369.7 433.7h0M367.4 440.1h0M370.1 424.2h0M367.8 423.5h0M366.9 425.6h0M367.7 431.9h0M367.6 433.7h0M371.1 431.7h0M366.9 429.1h0M367.8 435.0h0M366.9 431.0h0M367.5 435.4h0M368.0 430.6h0M371.2 420.8h0M370.5 425.4h0M370.4 439.1h0M371.0 430.1h0M368.2 427.9h0" stroke="#4a6ca6" stroke-opacity="0.55" stroke-width="0.9" stroke-linecap="round" fill="none"/>
<path d="M384.1,406.6 L384.1,406.6 L383.8,407.6 L383.6,408.6 L383.6,409.7 L383.6,410.7 L383.6,411.7 L383.6,412.7 L383.6,413.8 L383.6,414.8 L383.6,415.8 L383.6,416.8 L383.6,417.8 L383.6,418.9 L383.4,419.9 L383.2,420.9 L383.0,421.9 L382.7,423.0 L382.3,424.0 L381.9,425.0 L381.3,426.0 L380.7,427.1 L380.0,428.1 L379.2,429.1 L378.5,430.1 L378.0,431.1 L377.9,432.2 L378.0,433.2 L378.2,434.2 L378.6,435.2 L379.0,436.3 L379.5,437.3 L380.1,438.3 L380.7,439.3 L381.2,440.3 L381.7,441.4 L382.2,442.4 L382.6,443.4 L383.0,444.4 L383.3,445.5 L383.7,446.5 L384.1,447.5 L384.1,447.5 Z" fill="#db8233" stroke="#222" stroke-width="0.55"/>
<path d="M384.5 425.4h0M387.0 422.8h0M387.9 426.9h0M386.6 432.9h0M385.7 430.7h0M384.9 434.4h0M385.2 419.9h0M388.9 430.0h0M388.1 419.9h0M386.5 425.0h0M388.1 441.7h0M386.6 436.1h0M386.2 426.4h0M388.9 436.8h0M386.5 419.8h0M387.4 429.7h0M388.0 434.7h0M388.8 437.5h0M387.3 435.7h0M384.6 434.7h0M387.3 432.3h0M388.8 428.2h0M387.3 424.5h0M389.2 439.0h0M388.4 417.0h0M388.6 416.4h0M387.4 437.3h0M388.9 427.8h0M389.1 425.5h0M389.1 428.3h0M385.7 432.7h0M387.0 435.1h0M387.2 433.9h0M387.8 424.7h0M384.6 439.9h0M388.7 441.0h0M389.3 425.0h0M387.6 425.4h0M385.5 424.2h0M387.6 432.1h0M387.1 432.4h0M386.5 423.9h0M387.1 440.9h0M386.0 427.2h0M388.8 434.2h0M384.6 437.1h0M387.6 424.6h0M385.8 429.9h0M386.4 436.5h0M388.2 429.4h0M387.0 435.4h0M385.0 426.3h0M387.3 438.3h0M387.3 421.9h0M389.2 431.2h0M385.3 439.6h0M384.5 425.7h0M388.1 425.2h0M387.9 439.0h0M386.0 435.8h0M387.5 446.9h0M386.4 428.7h0M387.4 435.9h0M389.2 433.8h0M389.1 434.5h0M384.2 417.8h0M389.1 421.9h0M385.1 416.8h0M385.0 443.5h0M384.7 429.8h0M387.9 423.0h0M384.2 429.6h0M386.7 439.1h0M388.6 426.8h0M386.0 432.3h0M386.2 429.8h0M388.4 426.3h0M388.5 431.1h0M384.8 425.5h0M387.0 439.4h0M385.0 426.5h0M386.0 420.5h0M388.5 422.4h0M384.8 426.3h0M388.2 431.2h0M385.4 430.1h0M385.3 427.8h0M385.6 422.9h0M388.6 427.2h0M388.1 429.4h0M388.4 433.3h0M388.8 430.4h0M385.4 425.6h0M384.3 425.7h0M384.5 429.8h0M385.7 436.0h0M384.7 443.6h0M387.3 429.8h0M384.9 426.4h0M386.5 436.4h0M388.0 418.6h0M388.3 420.4h0M386.2 425.0h0M385.2 444.4h0M386.2 431.3h0M386.2 420.5h0M389.0 433.9h0M387.7 434.4h0M387.1 421.1h0M384.5 434.3h0M385.2 429.1h0M384.9 422.0h0M386.7 429.1h0M386.5 431.9h0M389.3 443.6h0M386.6 436.9h0M384.5 432.1h0M389.2 435.1h0M388.3 422.4h0M385.2 428.9h0M387.7 435.1h0M388.9 441.1h0M388.8 441.9h0M384.2 422.7h0M386.7 418.2h0M384.5 429.2h0M384.1 431.1h0M388.1 421.6h0M388.6 438.0h0M384.6 429.0h0M386.2 432.8h0M389.2 431.1h0M387.7 432.0h0M387.0 435.8h0M389.0 431.5h0M385.5 433.5h0M385.5 429.3h0M384.5 436.0h0M385.2 444.5h0M389.1 433.1h0M386.4 428.7h0M384.4 424.4h0M387.5 432.8h0M385.7 433.1h0M388.4 432.4h0M386.8 428.8h0M384.8 430.6h0M388.0 418.1h0M387.7 438.3h0M385.0 430.2h0M387.7 422.0h0M385.7 437.7h0M388.6 430.6h0M388.3 433.9h0M387.7 434.9h0M385.4 429.3h0M389.1 435.9h0M386.5 427.8h0M385.8 438.9h0M384.4 434.0h0M384.6 434.7h0M386.6 440.2h0M384.9 431.7h0M385.0 440.9h0M388.1 419.8h0M387.9 417.6h0M384.4 426.1h0M388.0 430.9h0M388.3 427.8h0M384.8 430.3h0M388.4 420.0h0M386.0 427.7h0M387.8 430.3h0M387.4 427.2h0M384.3 424.0h0M388.8 432.5h0M384.8 433.3h0M388.2 430.0h0M385.8 427.8h0M386.5 436.1h0M388.4 438.7h0M387.4 428.0h0M386.5 434.9h0M388.0 435.3h0M388.9 435.2h0M389.2 422.6h0M385.6 428.9h0M384.9 435.5h0M385.9 436.1h0M385.9 429.0h0M385.3 435.7h0M384.5 425.2h0M385.7 442.8h0M389.1 440.9h0M384.8 427.0h0M386.2 429.4h0M387.8 429.9h0M389.3 419.4h0M387.2 429.8h0M387.9 432.8h0M388.2 439.4h0M387.2 432.7h0M385.1 432.0h0M386.8 427.8h0M388.2 421.1h0M386.8 420.7h0M386.5 439.2h0M386.5 428.0h0M384.1 428.3h0M385.0 427.2h0M384.2 441.7h0M385.8 445.7h0M387.9 431.7h0M387.6 431.9h0M385.6 429.6h0M384.9 433.9h0M388.9 423.0h0M386.4 441.1h0M388.4 425.5h0M388.8 435.3h0M386.5 428.8h0M385.6 425.6h0M386.9 434.8h0M384.6 420.5h0M389.0 438.8h0M385.7 442.3h0M386.1 421.8h0M385.9 425.3h0M388.1 435.3h0M387.1 439.5h0M386.1 421.5h0M388.8 438.0h0M388.9 433.8h0M386.0 420.5h0M386.5 430.9h0M384.9 424.9h0M387.5 426.9h0M386.2 431.9h0M387.5 415.7h0M385.0 445.5h0M388.3 433.2h0M388.2 427.7h0M386.9 425.6h0M385.3 426.2h0M387.9 430.8h0M386.2 422.6h0M386.5 426.1h0M387.8 421.4h0M385.3 427.5h0M389.2 419.3h0M386.0 430.0h0M388.5 439.6h0M385.9 431.4h0M385.4 420.4h0M386.0 422.9h0M387.6 431.2h0M386.0 434.2h0M387.5 440.5h0M386.1 425.4h0M386.3 437.9h0M386.4 427.2h0M385.6 425.4h0M388.3 431.7h0M384.2 432.6h0M388.2 429.2h0M385.1 434.3h0M386.7 431.4h0M385.1 430.7h0M388.3 436.2h0M386.4 422.7h0M389.0 442.6h0M387.3 438.7h0M384.6 437.5h0M388.1 428.6h0M385.2 428.3h0M387.6 429.5h0M384.3 427.4h0M385.1 434.1h0M387.2 436.1h0M384.4 434.2h0M388.0 430.6h0M387.2 426.5h0M387.3 438.5h0M385.2 437.5h0M385.6 431.8h0M388.8 422.6h0M385.5 433.8h0M386.2 426.7h0M384.6 426.7h0M386.9 431.9h0M388.1 425.3h0M385.8 442.5h0M384.7 423.6h0M387.1 430.5h0M388.1 432.9h0M385.2 434.3h0M386.7 427.2h0M387.0 439.6h0M386.1 433.4h0M385.4 433.6h0M389.0 437.8h0M386.0 432.7h0M387.7 430.8h0M384.3 431.3h0M384.5 433.9h0M388.8 432.3h0M386.1 418.1h0M385.3 424.8h0M384.4 420.6h0M388.7 433.4h0M387.6 434.7h0M389.3 427.9h0M387.6 423.8h0M388.8 427.5h0M386.6 424.3h0M389.2 422.9h0M389.2 437.3h0M388.3 430.6h0M385.1 440.8h0M389.1 439.5h0M388.9 432.1h0M388.3 432.4h0M385.4 435.4h0M385.6 437.8h0M387.5 430.7h0M386.8 433.6h0M387.6 426.6h0M387.3 431.2h0M385.8 439.1h0M387.2 434.1h0M385.4 435.4h0M385.7 431.4h0M388.6 436.5h0M386.5 435.7h0M385.4 424.9h0M386.7 436.5h0M388.3 442.6h0M385.3 432.3h0M387.6 438.6h0M384.7 420.9h0M387.0 431.0h0M385.1 432.0h0M384.9 432.9h0M386.4 421.8h0M388.5 428.7h0M384.4 436.8h0M384.3 443.0h0M385.5 430.0h0M387.2 425.3h0M386.5 436.2h0M387.3 421.0h0M386.8 441.2h0M385.2 439.5h0M387.1 435.6h0M387.1 432.1h0M385.6 422.2h0M386.8 440.9h0M385.7 421.6h0M388.3 428.1h0M385.2 425.0h0" stroke="#e8913f" stroke-opacity="0.55" stroke-width="0.9" stroke-linecap="round" fill="none"/>
<path d="M402.5,388.5 L402.5,388.5 L402.1,389.8 L402.0,391.2 L402.0,392.5 L402.0,393.9 L402.0,395.2 L402.0,396.5 L402.0,397.9 L402.0,399.2 L402.0,400.5 L402.0,401.9 L402.0,403.2 L402.0,404.6 L402.0,405.9 L402.0,407.2 L402.0,408.6 L401.9,409.9 L401.8,411.2 L401.6,412.6 L401.4,413.9 L401.1,415.2 L400.8,416.6 L400.5,417.9 L400.0,419.3 L399.6,420.6 L399.0,421.9 L398.5,423.3 L397.9,424.6 L397.5,425.9 L397.2,427.3 L397.2,428.6 L397.5,430.0 L397.9,431.3 L398.5,432.6 L399.2,434.0 L399.9,435.3 L400.6,436.6 L401.1,438.0 L401.6,439.3 L402.0,440.7 L402.5,442.0 L402.5,442.0 Z" fill="#67aa60" stroke="#222" stroke-width="0.55"/>
<path d="M403.8 423.5h0M405.2 433.0h0M407.2 422.7h0M405.8 428.4h0M405.3 437.2h0M402.6 423.4h0M403.2 430.1h0M403.1 421.7h0M407.1 432.6h0M406.5 425.6h0M406.4 420.8h0M403.4 434.8h0M406.3 433.1h0M405.1 421.8h0M407.3 424.4h0M405.9 436.8h0M402.6 428.4h0M403.4 423.3h0M405.6 424.1h0M404.3 415.9h0M404.6 434.7h0M403.6 431.8h0M402.8 425.8h0M405.8 422.0h0M403.4 431.4h0M403.0 434.2h0M407.3 427.7h0M406.6 432.5h0M405.6 418.9h0M405.5 428.2h0M406.5 414.3h0M402.6 427.0h0M402.6 417.3h0M404.0 420.1h0M404.7 430.1h0M403.4 414.4h0M407.4 425.1h0M404.0 427.1h0M403.9 421.6h0M406.7 421.3h0M406.0 421.3h0M404.6 425.1h0M405.5 423.0h0M403.8 422.0h0M407.0 423.4h0M403.4 422.9h0M403.7 432.6h0M404.7 440.7h0M404.2 423.6h0M405.0 419.6h0M406.3 422.1h0M403.5 419.4h0M405.1 422.8h0M403.6 423.1h0M406.6 426.3h0M405.9 435.1h0M405.3 425.5h0M406.6 420.8h0M405.0 432.9h0M407.1 423.5h0M406.4 441.5h0M407.3 430.5h0M403.8 423.7h0M405.5 429.7h0M406.0 428.6h0M407.5 423.0h0M403.1 420.4h0M404.2 429.3h0M404.0 420.0h0M406.2 410.5h0M402.5 427.1h0M407.5 440.3h0M406.9 431.9h0M404.6 435.3h0M407.3 429.5h0M404.5 420.7h0M407.2 419.3h0M406.8 422.7h0M403.7 434.6h0M404.5 423.4h0M402.9 429.2h0M404.2 418.8h0M404.6 429.6h0M406.7 422.4h0M407.1 427.6h0M407.6 435.8h0M407.6 432.3h0M403.6 421.5h0M403.3 424.8h0M405.3 427.6h0M406.3 432.9h0M406.2 427.9h0M406.9 420.9h0M407.1 423.1h0M407.5 418.1h0M405.4 427.5h0M407.5 424.4h0M404.1 420.4h0M406.0 422.1h0M406.0 414.6h0M406.0 429.9h0M407.2 419.3h0M406.2 434.8h0M404.4 425.2h0M405.6 431.3h0M406.3 419.1h0M404.3 419.4h0M406.4 432.2h0M402.9 434.1h0M402.8 433.0h0M403.4 431.5h0M405.0 419.0h0M407.4 418.9h0M404.0 420.7h0M407.3 428.3h0M405.0 420.3h0M404.6 425.0h0M407.5 425.9h0M404.3 423.3h0M405.3 433.2h0M406.0 417.3h0M407.1 422.3h0M405.7 429.4h0M407.5 417.8h0M405.7 426.6h0M405.4 438.0h0M405.3 436.7h0M403.8 415.0h0M405.6 433.7h0M405.5 421.3h0M406.4 429.5h0M404.6 425.2h0M403.7 429.0h0M407.4 427.6h0M402.8 428.0h0M407.6 424.3h0M404.7 422.6h0M402.8 429.0h0M405.3 426.2h0M403.4 436.5h0M406.2 432.1h0M403.5 422.2h0M403.9 431.7h0M405.6 419.2h0M405.8 425.8h0M405.1 429.4h0M403.4 415.2h0M403.7 429.2h0M403.2 428.7h0M402.6 408.5h0M406.8 416.0h0M403.0 423.7h0M406.6 425.5h0M405.2 437.2h0M405.2 426.6h0M405.3 430.6h0M406.8 422.3h0M403.2 424.6h0M407.0 428.7h0M402.9 426.6h0M403.5 428.8h0M403.8 420.3h0M405.1 436.8h0M405.7 423.7h0M405.5 418.9h0M404.3 423.6h0M404.8 425.6h0M406.1 426.3h0M402.9 423.3h0M406.1 424.9h0" stroke="#86c982" stroke-opacity="0.55" stroke-width="0.9" stroke-linecap="round" fill="none"/>
<path d="M368.6,429.5 L386.7,432.0 L405.1,426.5" fill="none" stroke="#000" stroke-width="1.8" stroke-linecap="round" stroke-dasharray="0 4.3"/>
<line x1="368.6" y1="415.5" x2="368.6" y2="424.0" stroke="#000" stroke-width="0.7"/>
<line x1="368.6" y1="436.0" x2="368.6" y2="446.0" stroke="#000" stroke-width="0.7"/>
<line x1="367.5" y1="415.5" x2="369.7" y2="415.5" stroke="#000" stroke-width="0.7"/>
<line x1="367.5" y1="446.0" x2="369.7" y2="446.0" stroke="#000" stroke-width="0.7"/>
<rect x="367.1" y="424.0" width="3.0" height="12.0" fill="none" stroke="#000" stroke-width="0.7"/>
<circle cx="368.6" cy="429.5" r="2.8" fill="#000"/>
<path d="M368.6,401.4L369.9,403.0L368.6,404.6L367.3,403.0ZM368.6,412.9L369.9,414.5L368.6,416.1L367.3,414.5ZM368.6,411.5L369.9,413.1L368.6,414.8L367.3,413.1ZM368.6,410.2L369.9,411.8L368.6,413.4L367.3,411.8ZM368.6,408.8L369.9,410.4L368.6,412.1L367.3,410.4Z" fill="#000"/>
<line x1="386.7" y1="415.0" x2="386.7" y2="426.5" stroke="#000" stroke-width="0.7"/>
<line x1="386.7" y1="438.5" x2="386.7" y2="447.5" stroke="#000" stroke-width="0.7"/>
<line x1="385.6" y1="415.0" x2="387.8" y2="415.0" stroke="#000" stroke-width="0.7"/>
<line x1="385.6" y1="447.5" x2="387.8" y2="447.5" stroke="#000" stroke-width="0.7"/>
<rect x="385.2" y="426.5" width="3.0" height="12.0" fill="none" stroke="#000" stroke-width="0.7"/>
<circle cx="386.7" cy="432.0" r="2.8" fill="#000"/>
<path d="M386.7,406.2L387.9,407.6L386.7,409.1L385.5,407.6ZM386.7,412.6L387.9,414.0L386.7,415.4L385.5,414.0ZM386.7,410.8L387.9,412.2L386.7,413.6L385.5,412.2Z" fill="#000"/>
<line x1="405.1" y1="400.4" x2="405.1" y2="421.0" stroke="#000" stroke-width="0.7"/>
<line x1="405.1" y1="433.0" x2="405.1" y2="442.0" stroke="#000" stroke-width="0.7"/>
<line x1="404.0" y1="400.4" x2="406.2" y2="400.4" stroke="#000" stroke-width="0.7"/>
<line x1="404.0" y1="442.0" x2="406.2" y2="442.0" stroke="#000" stroke-width="0.7"/>
<rect x="403.6" y="421.0" width="3.0" height="12.0" fill="#fff" stroke="#000" stroke-width="0.7"/>
<circle cx="405.1" cy="426.5" r="2.8" fill="#000"/>
<path d="M405.1,388.1L406.3,389.5L405.1,390.9L403.9,389.5ZM405.1,397.9L406.3,399.4L405.1,400.8L403.9,399.4ZM405.1,395.5L406.3,397.0L405.1,398.4L403.9,397.0Z" fill="#000"/>
<text x="60.7" y="483.6" font-size="7.65" font-weight="bold" text-anchor="middle" fill="#111">Acutely depressed</text>
<text x="60.7" y="491.8" font-size="7.65" font-weight="bold" text-anchor="middle" fill="#111">participants</text>
<line x1="31.2" y1="496.4" x2="31.2" y2="560.8" stroke="#222" stroke-width="0.8"/>
<line x1="30.8" y1="560.4" x2="91.2" y2="560.4" stroke="#222" stroke-width="0.8"/>
<text x="26.6" y="515.4" font-size="6.95" text-anchor="end" fill="#4d4d4d">1500</text>
<text x="26.6" y="533.5" font-size="6.95" text-anchor="end" fill="#4d4d4d">1000</text>
<text x="26.6" y="551.3" font-size="6.95" text-anchor="end" fill="#4d4d4d">500</text>
<text x="7.4" y="528.6" font-size="7.3" font-weight="bold" text-anchor="middle" fill="#111" transform="rotate(-90 7.399999999999999 528.6)">Number of streamlines</text>
<text x="41.6" y="570.0" font-size="5.7" font-weight="bold" text-anchor="middle" fill="#111">HC</text>
<text x="60.5" y="570.0" font-size="5.7" font-weight="bold" text-anchor="middle" fill="#111">MDD</text>
<text x="84.8" y="570.0" font-size="5.7" font-weight="bold" text-anchor="middle" fill="#111">MDD+ANX</text>
<path d="M42.5,498.9 L42.5,498.9 L42.0,500.4 L42.0,501.8 L42.0,503.3 L42.0,504.8 L42.0,506.2 L42.0,507.7 L42.0,509.2 L42.0,510.7 L42.0,512.1 L42.0,513.6 L42.0,515.1 L42.0,516.5 L42.0,518.0 L42.0,519.5 L42.0,520.9 L42.0,522.4 L42.0,523.9 L42.0,525.4 L42.0,526.8 L41.8,528.3 L41.5,529.8 L41.1,531.2 L40.6,532.7 L40.0,534.2 L39.1,535.6 L38.1,537.1 L37.1,538.6 L36.3,540.1 L36.1,541.5 L36.3,543.0 L36.8,544.5 L37.4,545.9 L38.1,547.4 L38.9,548.9 L39.7,550.3 L40.4,551.8 L41.0,553.3 L41.4,554.8 L41.8,556.2 L42.5,557.7 L42.5,557.7 Z" fill="#3e5a80" stroke="#222" stroke-width="0.55"/>
<path d="M42.9 547.9h0M43.8 531.4h0M45.0 554.3h0M43.7 548.6h0M43.6 527.7h0M45.8 546.1h0M45.9 546.3h0M44.8 536.4h0M46.5 554.7h0M43.2 541.9h0M43.1 543.8h0M43.1 535.1h0M46.4 538.8h0M42.7 524.7h0M46.5 541.5h0M45.4 542.4h0M47.3 543.3h0M45.9 551.2h0M43.3 538.4h0M46.4 545.1h0M45.0 555.9h0M44.4 545.9h0M43.3 537.7h0M44.9 548.7h0M43.6 547.5h0M43.9 538.7h0M43.4 541.2h0M45.2 539.6h0M43.5 525.3h0M45.8 546.7h0M47.2 542.2h0M43.5 535.5h0M46.5 539.9h0M46.0 552.2h0M43.3 544.3h0M47.4 537.5h0M43.7 537.3h0M46.7 547.9h0M44.7 551.4h0M42.6 550.6h0M45.8 540.6h0M44.6 527.1h0M45.6 547.3h0M47.3 542.8h0M47.2 539.6h0M45.0 542.1h0M42.9 539.1h0M45.5 541.4h0M43.4 538.3h0M46.9 529.9h0M46.5 547.9h0M46.2 536.0h0M43.4 531.7h0M44.4 546.7h0M43.5 529.6h0M44.0 540.3h0M47.3 535.3h0M47.4 552.5h0M47.5 548.6h0M46.5 542.2h0M44.8 551.7h0M46.9 541.1h0M45.8 543.4h0M47.3 557.4h0M47.2 544.5h0M45.1 544.8h0M45.4 536.7h0M46.0 539.2h0M42.7 543.6h0M46.7 542.2h0M43.3 534.6h0M44.8 532.6h0M43.6 542.6h0M43.3 531.3h0M46.7 536.3h0M45.8 545.5h0M46.0 549.4h0M46.8 533.3h0M46.0 547.8h0M47.6 548.4h0M44.3 535.3h0M44.3 540.8h0M46.1 528.8h0M44.2 541.3h0M42.6 543.4h0M42.9 544.3h0M44.6 537.9h0M43.4 546.4h0M47.2 526.9h0M42.8 527.3h0M47.5 543.6h0M43.2 547.6h0M42.6 539.0h0M43.2 525.9h0M44.0 543.8h0M43.9 541.2h0M45.8 554.4h0M46.0 545.9h0M45.1 536.4h0M46.7 546.2h0M46.7 534.8h0M45.2 549.4h0M45.8 556.2h0M45.6 531.9h0M43.9 544.8h0M44.8 547.9h0M47.4 543.4h0M44.8 538.1h0M43.9 531.9h0M47.1 545.4h0M44.9 530.5h0M47.6 537.6h0M43.9 533.1h0M43.8 532.6h0M44.5 542.4h0M45.3 549.7h0M42.6 541.5h0M44.6 549.4h0M46.0 525.7h0M46.4 535.7h0M47.2 539.8h0M44.5 548.3h0M46.5 545.9h0M47.0 538.5h0M43.9 537.3h0M46.6 555.4h0M42.5 535.2h0M44.3 530.6h0M43.4 554.6h0M42.9 546.2h0M46.9 545.1h0M46.7 535.2h0M44.0 548.8h0M45.6 537.0h0M47.2 535.4h0M46.1 554.3h0M43.8 539.0h0M47.6 534.0h0M46.1 537.9h0M47.2 544.6h0M47.6 545.5h0M46.3 532.4h0M44.4 533.2h0M43.7 527.6h0M46.1 537.0h0M46.0 540.4h0M44.9 537.1h0M45.5 540.0h0M42.9 536.4h0M44.0 540.4h0M47.1 536.0h0M45.5 538.6h0M43.1 536.7h0M43.0 533.8h0M46.4 538.5h0M43.2 550.6h0M45.5 539.3h0M46.8 549.0h0M45.4 547.4h0M43.2 539.6h0M47.2 546.0h0M43.4 548.8h0M46.2 530.7h0M43.5 540.3h0M44.7 541.2h0M42.5 554.9h0M46.3 542.2h0M46.8 534.5h0M42.8 547.3h0M45.6 545.2h0M45.9 541.4h0M42.5 541.6h0M42.9 539.3h0M47.2 547.0h0M45.5 546.9h0M42.8 546.3h0M47.1 545.8h0M42.9 547.4h0M46.5 549.0h0M42.7 539.5h0M43.5 542.7h0M44.5 540.4h0M47.5 540.4h0M43.2 539.9h0M46.3 533.0h0M46.1 552.8h0M43.2 543.5h0M47.4 534.5h0M45.9 550.8h0M44.8 541.9h0M46.3 539.2h0M44.7 543.7h0M43.6 536.0h0M46.0 543.6h0M44.1 553.9h0M43.7 544.3h0M47.4 539.2h0M43.3 525.1h0M47.0 539.1h0M47.3 539.2h0M45.4 541.0h0M45.7 526.1h0M44.5 540.7h0M45.0 548.0h0M47.4 533.1h0M46.9 544.4h0M43.4 541.1h0M46.1 536.3h0M43.1 543.5h0M46.5 540.8h0M47.2 548.8h0M42.7 541.1h0M42.7 530.2h0M44.2 539.9h0M46.4 552.8h0M45.8 549.8h0M46.1 536.8h0M47.2 540.0h0M47.3 553.3h0M45.9 547.9h0M43.6 555.0h0M43.6 543.1h0M43.9 532.0h0M42.8 526.1h0M43.4 550.9h0M42.8 547.0h0M45.9 549.1h0M44.9 532.1h0M46.2 534.7h0M46.4 537.2h0M42.7 536.8h0M46.8 535.2h0M44.2 536.9h0M45.7 529.2h0M47.4 531.4h0M44.3 538.0h0M42.8 552.8h0M46.3 542.9h0M45.9 528.4h0M46.2 544.9h0M42.7 539.8h0M44.9 536.9h0M47.0 542.3h0M42.6 541.2h0M47.5 536.1h0M43.3 548.2h0M44.1 538.4h0M45.4 552.5h0M47.4 525.7h0M47.6 549.7h0M46.9 536.1h0M47.4 553.6h0M46.3 542.5h0M44.0 541.8h0M46.5 542.4h0M47.2 545.7h0M43.6 537.0h0M43.7 536.5h0M46.2 539.1h0M45.7 539.7h0M43.7 543.0h0M44.7 532.7h0M44.4 543.1h0M42.5 549.7h0M45.2 526.5h0M44.7 554.2h0M46.1 549.1h0M44.7 550.9h0M42.9 548.1h0M47.7 543.7h0M43.9 527.4h0M45.2 551.1h0M43.0 529.1h0M47.5 541.0h0M46.6 531.1h0M43.0 549.2h0M42.7 551.2h0M42.6 538.2h0M43.8 548.4h0M46.5 538.0h0M47.5 533.6h0M46.8 547.0h0M45.2 531.6h0M47.2 550.8h0M45.3 538.7h0M43.8 547.0h0M44.8 537.4h0M46.1 539.8h0M46.8 552.0h0M45.9 552.1h0M44.7 548.2h0M44.5 549.9h0M43.4 540.7h0M44.2 535.6h0M44.2 542.3h0M45.9 541.8h0M45.0 528.7h0M43.3 527.7h0M43.5 528.1h0M47.4 546.1h0M46.2 542.9h0M43.5 547.0h0M45.5 551.7h0M46.8 525.4h0M42.7 539.9h0M45.7 548.0h0M45.4 540.3h0M44.2 538.2h0M47.1 543.7h0M43.2 543.2h0M43.4 538.2h0M44.9 539.1h0M47.3 551.5h0M44.0 530.2h0M43.4 545.5h0M45.5 543.1h0M45.2 543.8h0M44.5 528.4h0M43.8 546.9h0M43.6 542.8h0M43.2 546.5h0M45.0 529.0h0M46.2 539.6h0M45.4 544.8h0M43.3 536.1h0M45.6 543.8h0M45.4 551.9h0M44.4 538.1h0M47.5 529.4h0M46.4 530.5h0M44.2 532.7h0M46.9 532.7h0M46.5 555.2h0M45.3 535.5h0M47.0 549.5h0M47.3 539.2h0M45.0 537.4h0M43.2 554.0h0M47.3 538.2h0M46.8 542.8h0M46.6 540.3h0M47.7 549.5h0M46.0 537.8h0M43.1 541.9h0M42.8 539.5h0M47.2 544.2h0M46.5 547.5h0M47.5 541.8h0M44.4 533.6h0M46.4 544.2h0M45.8 540.2h0M44.0 551.3h0M43.6 547.7h0M46.5 541.2h0M46.6 526.9h0M43.6 539.9h0M46.7 539.0h0M45.4 538.0h0M44.5 554.8h0M43.8 535.6h0M45.4 552.4h0M44.5 545.2h0M47.3 540.5h0M45.2 553.1h0M42.7 549.3h0M46.9 533.5h0M43.5 544.4h0M45.6 539.3h0M43.5 532.2h0M45.4 536.6h0M45.5 545.0h0M42.6 540.7h0M43.4 538.3h0M45.7 536.0h0M46.0 539.1h0M42.6 528.6h0M47.2 537.6h0M46.0 539.9h0M46.7 534.2h0M45.9 543.6h0M46.2 538.1h0M42.6 544.6h0M43.3 533.0h0M47.2 529.2h0M44.0 531.7h0M44.8 532.5h0M44.0 541.2h0M47.6 540.2h0M47.5 546.5h0M42.7 540.6h0M42.8 547.8h0M46.1 545.0h0M44.9 543.9h0M47.2 551.8h0M43.2 532.3h0M44.4 546.2h0M44.0 544.3h0M46.7 542.5h0M42.8 547.7h0M43.8 541.5h0M46.1 540.5h0M42.8 535.3h0M46.6 542.9h0M42.5 548.3h0M42.8 544.1h0M43.7 555.9h0M45.4 533.1h0M44.8 534.2h0M47.6 531.3h0M43.8 550.1h0M46.4 544.2h0M43.9 542.8h0M44.0 532.3h0M46.1 547.7h0M43.5 533.2h0M43.4 544.0h0M43.7 531.1h0M43.0 535.1h0M45.0 535.7h0M44.3 529.2h0M43.2 542.5h0M46.2 535.3h0M44.0 550.7h0M47.0 543.0h0M43.1 550.7h0M47.0 541.8h0M44.7 538.8h0M45.2 545.5h0M45.9 539.4h0M43.7 541.2h0M44.4 544.5h0M46.6 540.8h0M45.5 549.7h0M43.6 550.2h0M45.8 538.9h0M45.3 543.1h0M44.2 530.9h0M44.2 537.4h0M44.9 534.5h0M45.6 533.3h0M44.5 544.3h0M44.5 547.0h0M42.9 538.5h0M43.2 549.0h0M42.7 535.6h0M45.7 550.3h0M45.4 528.4h0M46.9 544.7h0M43.5 545.9h0M44.1 533.4h0M46.8 542.0h0M43.2 539.4h0M45.5 533.0h0M43.3 548.6h0M43.2 538.8h0M47.1 529.5h0M45.5 530.9h0M43.4 532.2h0M43.5 540.2h0M47.0 538.6h0M45.8 550.5h0M42.6 536.8h0M46.4 551.4h0M47.5 548.7h0M45.4 531.3h0M43.2 538.6h0M46.6 533.1h0M45.4 541.7h0M42.6 557.2h0M46.1 544.5h0M44.8 548.0h0M44.5 533.2h0M45.0 537.3h0M46.1 546.8h0M45.1 543.5h0M46.7 549.8h0M46.5 542.9h0M47.3 534.1h0M44.4 542.2h0M46.3 537.5h0" stroke="#4a6ca6" stroke-opacity="0.55" stroke-width="0.9" stroke-linecap="round" fill="none"/>
<path d="M61.0,513.2 L61.0,513.2 L60.6,514.3 L60.5,515.4 L60.5,516.5 L60.5,517.6 L60.5,518.8 L60.5,519.9 L60.5,521.0 L60.5,522.1 L60.5,523.2 L60.5,524.3 L60.5,525.4 L60.5,526.5 L60.5,527.7 L60.5,528.8 L60.4,529.9 L60.2,531.0 L60.0,532.1 L59.7,533.2 L59.3,534.3 L58.8,535.4 L58.2,536.6 L57.6,537.7 L56.8,538.8 L56.0,539.9 L55.3,541.0 L54.8,542.1 L54.8,543.2 L55.0,544.3 L55.4,545.5 L55.8,546.6 L56.4,547.7 L57.0,548.8 L57.7,549.9 L58.3,551.0 L58.8,552.1 L59.3,553.2 L59.8,554.4 L60.1,555.5 L60.5,556.6 L61.0,557.7 L61.0,557.7 Z" fill="#db8233" stroke="#222" stroke-width="0.55"/>
<path d="M64.2 544.1h0M62.9 526.6h0M63.9 546.3h0M63.2 537.8h0M61.9 547.9h0M62.3 547.4h0M61.1 550.2h0M64.1 552.0h0M63.4 542.2h0M65.3 540.6h0M62.2 550.0h0M61.1 535.0h0M63.4 540.6h0M63.6 546.2h0M63.1 553.4h0M62.1 542.1h0M63.9 547.4h0M61.1 540.3h0M63.2 533.4h0M62.4 544.4h0M63.8 542.0h0M61.4 541.2h0M64.8 550.0h0M63.4 535.5h0M66.0 539.5h0M63.5 538.8h0M61.8 527.0h0M64.7 538.5h0M62.1 534.8h0M64.3 553.0h0M63.0 543.3h0M61.5 554.4h0M66.2 539.5h0M62.4 544.0h0M61.0 540.1h0M63.6 541.9h0M63.0 544.4h0M62.5 536.5h0M63.3 540.9h0M64.9 544.2h0M62.4 538.2h0M62.7 536.0h0M66.1 544.9h0M66.1 551.9h0M61.5 536.6h0M61.5 547.3h0M63.7 533.1h0M64.3 554.5h0M63.2 543.1h0M64.9 554.2h0M62.4 544.8h0M61.7 544.1h0M64.6 541.9h0M61.5 539.6h0M61.3 552.4h0M61.4 544.9h0M65.0 538.1h0M65.9 552.3h0M61.1 526.0h0M65.7 540.6h0M63.3 534.8h0M64.8 553.4h0M61.8 538.9h0M61.2 536.6h0M64.4 540.2h0M62.2 548.3h0M65.0 540.9h0M61.4 528.6h0M64.5 544.5h0M61.3 547.7h0M62.3 551.5h0M63.6 531.4h0M65.5 551.3h0M65.2 532.9h0M62.9 541.8h0M65.0 541.2h0M62.6 540.8h0M65.1 537.4h0M64.7 541.1h0M66.1 539.0h0M63.1 535.4h0M64.1 548.5h0M64.6 539.4h0M64.8 544.6h0M64.5 542.3h0M61.0 532.8h0M62.0 543.9h0M62.2 533.4h0M61.1 534.8h0M64.0 528.9h0M63.8 550.0h0M62.1 551.3h0M64.1 557.0h0M62.9 537.1h0M62.8 536.2h0M61.7 530.2h0M61.1 538.6h0M65.3 530.7h0M64.5 551.4h0M61.8 543.1h0M63.5 548.8h0M62.5 532.0h0M64.5 552.5h0M62.1 553.5h0M65.5 543.4h0M62.5 537.5h0M64.7 544.1h0M63.3 542.5h0M62.4 549.4h0M63.6 533.8h0M63.9 542.0h0M65.3 546.5h0M62.3 526.3h0M64.7 533.7h0M65.6 549.3h0M63.0 529.0h0M65.3 549.5h0M64.0 544.3h0M61.5 545.0h0M64.6 538.0h0M61.6 549.3h0M63.4 539.6h0M62.9 555.0h0M65.4 535.5h0M64.7 538.7h0M65.5 554.9h0M62.6 534.8h0M65.4 542.5h0M61.4 542.9h0M61.5 531.9h0M62.9 557.2h0M64.6 547.0h0M63.9 546.0h0M65.2 556.4h0M65.3 532.8h0M63.4 545.4h0M61.4 531.2h0M64.3 538.8h0M65.3 537.7h0M64.3 538.9h0M62.7 537.7h0M65.6 541.4h0M62.1 546.8h0M63.3 541.2h0M64.1 537.9h0M62.0 553.1h0M61.4 530.7h0M63.3 548.6h0M65.2 542.0h0M63.4 540.7h0M61.3 532.6h0M64.0 545.9h0M64.4 534.9h0M61.2 542.2h0M65.3 549.0h0M64.3 543.7h0M63.5 536.4h0M62.0 543.9h0M63.1 543.7h0M64.7 553.9h0M64.8 552.4h0M65.9 536.6h0M62.6 535.6h0M65.7 536.1h0M63.8 535.0h0M64.9 550.2h0M63.9 548.2h0M61.5 541.2h0M62.4 534.4h0M65.8 546.4h0M65.6 543.6h0M63.7 543.1h0M66.1 552.9h0M63.1 532.5h0M63.4 536.0h0M63.2 540.5h0M61.4 535.1h0M63.8 544.0h0M64.5 533.8h0M66.1 538.4h0M61.0 541.8h0M62.9 543.8h0M64.0 540.2h0M62.7 533.9h0M62.3 527.9h0M65.2 550.5h0M62.1 542.6h0M62.5 539.6h0M65.1 540.3h0M62.1 546.1h0M61.2 541.8h0M65.3 556.3h0M65.6 535.4h0M65.8 535.1h0M61.6 553.4h0M62.4 541.9h0M63.4 545.1h0M64.1 541.7h0M63.8 548.2h0M65.8 545.8h0M62.4 535.6h0M65.3 550.1h0M61.0 533.5h0M61.6 530.8h0M62.0 536.6h0M63.6 532.2h0M64.5 539.7h0M61.2 531.5h0M61.6 536.9h0M63.0 536.0h0M62.1 542.2h0M64.8 556.5h0M63.3 556.7h0M62.0 546.4h0M63.9 547.7h0M65.6 545.9h0M62.6 545.9h0M65.9 546.0h0M66.2 533.9h0M65.1 541.8h0M62.3 532.1h0M62.7 546.0h0M62.5 545.8h0M63.4 546.7h0M63.5 547.2h0M62.4 547.9h0M63.7 557.5h0M65.4 544.8h0M61.6 547.4h0M63.3 533.8h0M65.3 555.3h0M63.4 550.0h0M62.8 551.2h0M63.2 535.7h0M66.0 533.8h0M63.9 532.3h0M63.6 543.1h0M61.8 539.6h0M65.7 550.7h0M62.6 541.7h0M64.0 551.7h0M62.2 529.5h0M61.4 547.7h0M62.7 534.1h0M64.0 544.5h0M62.3 551.6h0M65.9 535.6h0M63.8 547.4h0M61.1 536.3h0M62.1 536.5h0M62.2 539.1h0M64.0 545.8h0M63.8 541.3h0M63.0 535.5h0M64.6 545.8h0M62.3 541.6h0M64.1 540.6h0M64.0 525.8h0M61.5 543.9h0M63.9 537.4h0M65.3 538.9h0M65.0 537.3h0M66.0 557.3h0M65.9 544.9h0M62.3 534.8h0M61.6 541.1h0M61.9 545.8h0M63.1 556.3h0M65.1 553.7h0M63.4 542.7h0M62.6 540.7h0M62.1 536.7h0M64.9 542.8h0M63.2 530.8h0M62.1 541.9h0M61.6 535.9h0M65.4 546.3h0M62.0 529.9h0M63.4 552.6h0M63.4 549.6h0M62.7 543.8h0M64.9 534.5h0M62.3 533.1h0M65.2 542.0h0M61.7 538.7h0M62.6 534.1h0M65.2 544.7h0M64.6 536.3h0M65.4 543.6h0M63.4 548.3h0M64.4 546.4h0M63.7 548.4h0M62.1 542.1h0M65.2 534.3h0M61.2 531.6h0M61.2 538.6h0M63.0 535.6h0M65.2 545.7h0M62.2 546.4h0M61.1 540.3h0M62.3 549.4h0M62.8 532.7h0M61.8 541.6h0M61.6 543.6h0M65.6 551.2h0M65.2 552.3h0M62.8 548.3h0M65.5 550.8h0M62.8 544.7h0M62.3 537.4h0M65.6 542.3h0M63.8 545.5h0M65.6 548.5h0M66.0 554.5h0M63.7 549.5h0M66.1 543.3h0M65.5 527.2h0M61.5 540.0h0M65.0 537.4h0M65.6 541.7h0M63.9 553.0h0M61.3 540.6h0M62.3 535.3h0M62.0 543.1h0M62.2 543.0h0M64.4 534.0h0M61.9 544.2h0M63.6 529.9h0M61.4 548.0h0M61.3 547.7h0M65.5 533.2h0M61.8 548.6h0M63.0 544.3h0M66.0 540.4h0M65.4 528.9h0M65.1 533.3h0M62.9 537.8h0M64.2 534.5h0M65.7 540.7h0M64.4 532.2h0M62.0 552.1h0M62.9 546.5h0M65.2 532.4h0M64.9 543.2h0M62.8 546.9h0M64.0 538.6h0M65.4 533.4h0M63.6 546.0h0M62.1 540.2h0M65.4 540.1h0M64.7 550.7h0M64.8 534.6h0M63.1 538.1h0M65.8 544.6h0M63.8 526.1h0M64.7 537.7h0M65.7 548.2h0M63.1 557.5h0M62.9 541.5h0M62.0 547.1h0" stroke="#e8913f" stroke-opacity="0.55" stroke-width="0.9" stroke-linecap="round" fill="none"/>
<path d="M79.4,498.2 L79.4,498.2 L78.9,499.6 L78.9,500.9 L78.9,502.3 L78.9,503.7 L78.9,505.1 L78.9,506.4 L78.9,507.8 L78.9,509.2 L78.9,510.6 L78.9,511.9 L78.9,513.3 L78.9,514.7 L78.9,516.0 L78.9,517.4 L78.9,518.8 L78.8,520.2 L78.6,521.5 L78.4,522.9 L78.2,524.3 L77.9,525.6 L77.5,527.0 L77.1,528.4 L76.6,529.8 L76.0,531.1 L75.4,532.5 L74.6,533.9 L73.9,535.3 L73.3,536.6 L72.8,538.0 L72.6,539.4 L72.8,540.7 L73.3,542.1 L74.0,543.5 L74.9,544.9 L75.9,546.2 L76.8,547.6 L77.5,549.0 L78.1,550.4 L78.7,551.7 L79.4,553.1 L79.4,553.1 Z" fill="#67aa60" stroke="#222" stroke-width="0.55"/>
<path d="M79.8 536.1h0M83.2 524.1h0M82.6 541.2h0M80.7 542.6h0M81.4 539.8h0M82.8 526.3h0M83.3 543.0h0M79.7 527.4h0M84.2 540.5h0M83.6 536.4h0M81.4 542.6h0M79.8 539.6h0M82.4 548.0h0M81.4 529.2h0M79.8 538.2h0M84.4 521.0h0M84.1 541.5h0M81.1 531.4h0M80.8 535.9h0M80.2 534.2h0M81.7 537.8h0M84.3 537.3h0M83.8 536.4h0M81.1 541.5h0M84.0 531.9h0M82.7 538.4h0M79.8 537.8h0M82.3 536.9h0M82.5 539.8h0M79.7 545.6h0M82.6 545.6h0M81.7 542.2h0M79.7 547.2h0M79.9 537.7h0M84.1 536.5h0M84.0 537.4h0M83.2 540.9h0M82.6 536.0h0M81.4 532.5h0M81.1 528.8h0M81.3 534.7h0M82.6 544.6h0M83.9 539.2h0M83.1 537.3h0M83.0 538.1h0M82.8 549.3h0M81.0 534.8h0M84.1 540.0h0M84.3 547.8h0M80.4 543.9h0M82.0 539.1h0M82.9 544.3h0M81.1 544.4h0M79.9 541.4h0M82.4 547.1h0M83.6 528.7h0M84.3 536.7h0M82.4 526.7h0M80.1 539.4h0M81.2 540.7h0M81.9 536.5h0M83.8 542.0h0M82.1 533.3h0M83.6 537.6h0M80.1 534.9h0M84.5 538.0h0M80.5 539.1h0M83.8 540.6h0M82.3 537.4h0M80.2 539.9h0M84.3 538.6h0M81.6 548.2h0M82.2 529.7h0M82.5 544.6h0M84.1 525.6h0M82.8 537.7h0M80.6 535.7h0M83.1 522.9h0M83.6 535.4h0M83.4 532.2h0M83.9 543.0h0M79.7 550.3h0M83.9 536.1h0M82.9 537.8h0M83.6 540.8h0M80.1 530.8h0M79.6 545.5h0M82.7 545.7h0M81.8 544.6h0M81.7 539.8h0M84.1 538.8h0M82.3 527.8h0M84.0 537.9h0M83.4 537.9h0M80.5 541.6h0M82.3 539.1h0M82.7 552.7h0M83.0 543.6h0M81.5 539.8h0M83.4 541.4h0M80.2 532.6h0M84.4 545.8h0M83.1 536.6h0M84.4 531.6h0M83.3 542.2h0M84.1 528.7h0M79.9 535.2h0M82.5 534.2h0M81.9 535.5h0M80.4 546.6h0M81.8 544.1h0M84.4 550.3h0M83.2 538.8h0M81.8 544.0h0M80.2 547.3h0M84.5 525.4h0M82.7 536.2h0M79.8 552.3h0M81.2 540.1h0M79.9 530.3h0M82.7 524.4h0M81.1 550.0h0M82.5 540.3h0M83.1 551.0h0M80.4 545.0h0M82.5 532.3h0M81.7 534.6h0M79.7 529.5h0M83.1 545.1h0M84.3 541.9h0M83.4 534.1h0M82.8 528.4h0M82.8 527.9h0M83.3 533.1h0M80.1 537.4h0M80.3 534.7h0M82.9 537.5h0M80.3 539.4h0M83.5 530.8h0M83.0 537.7h0M80.3 542.9h0M79.4 537.7h0M80.7 521.7h0M82.4 529.0h0M81.7 522.6h0M81.1 536.5h0M82.9 538.5h0M83.6 541.8h0M83.1 539.5h0M81.3 531.2h0M80.6 537.9h0M83.7 537.8h0M80.2 527.5h0M84.4 540.3h0M82.0 528.2h0M80.0 534.9h0M80.8 536.7h0M82.8 537.4h0M83.6 524.0h0M79.7 549.9h0M81.6 538.9h0M84.6 539.5h0M84.0 549.2h0M79.9 533.9h0M83.1 532.5h0M82.8 546.1h0M82.5 540.7h0M80.9 546.9h0M83.8 540.2h0M82.6 525.3h0" stroke="#86c982" stroke-opacity="0.55" stroke-width="0.9" stroke-linecap="round" fill="none"/>
<path d="M45.1,539.6 L63.6,542.6 L82.0,537.4" fill="none" stroke="#000" stroke-width="1.8" stroke-linecap="round" stroke-dasharray="0 4.3"/>
<line x1="45.1" y1="524.1" x2="45.1" y2="534.1" stroke="#000" stroke-width="0.7"/>
<line x1="45.1" y1="546.1" x2="45.1" y2="557.7" stroke="#000" stroke-width="0.7"/>
<line x1="44.0" y1="524.1" x2="46.2" y2="524.1" stroke="#000" stroke-width="0.7"/>
<line x1="44.0" y1="557.7" x2="46.2" y2="557.7" stroke="#000" stroke-width="0.7"/>
<rect x="43.6" y="534.1" width="3.0" height="12.0" fill="none" stroke="#000" stroke-width="0.7"/>
<circle cx="45.1" cy="539.6" r="2.8" fill="#000"/>
<path d="M45.1,498.3L46.4,499.9L45.1,501.5L43.8,499.9ZM45.1,521.5L46.4,523.1L45.1,524.7L43.8,523.1ZM45.1,520.1L46.4,521.8L45.1,523.4L43.8,521.8ZM45.1,518.8L46.4,520.4L45.1,522.0L43.8,520.4ZM45.1,517.5L46.4,519.1L45.1,520.7L43.8,519.1ZM45.1,516.1L46.4,517.7L45.1,519.3L43.8,517.7ZM45.1,514.8L46.4,516.4L45.1,518.0L43.8,516.4ZM45.1,513.4L46.4,515.0L45.1,516.6L43.8,515.0ZM45.1,512.0L46.4,513.6L45.1,515.2L43.8,513.6ZM45.1,510.7L46.4,512.3L45.1,513.9L43.8,512.3ZM45.1,509.4L46.4,511.0L45.1,512.6L43.8,511.0ZM45.1,508.0L46.4,509.6L45.1,511.2L43.8,509.6ZM45.1,506.6L46.4,508.2L45.1,509.9L43.8,508.2ZM45.1,505.3L46.4,506.9L45.1,508.5L43.8,506.9Z" fill="#000"/>
<line x1="63.6" y1="525.6" x2="63.6" y2="537.1" stroke="#000" stroke-width="0.7"/>
<line x1="63.6" y1="549.1" x2="63.6" y2="557.7" stroke="#000" stroke-width="0.7"/>
<line x1="62.5" y1="525.6" x2="64.7" y2="525.6" stroke="#000" stroke-width="0.7"/>
<line x1="62.5" y1="557.7" x2="64.7" y2="557.7" stroke="#000" stroke-width="0.7"/>
<rect x="62.1" y="537.1" width="3.0" height="12.0" fill="none" stroke="#000" stroke-width="0.7"/>
<circle cx="63.6" cy="542.6" r="2.8" fill="#000"/>
<path d="M63.6,512.7L64.8,514.2L63.6,515.6L62.4,514.2ZM63.6,523.1L64.8,524.6L63.6,526.1L62.4,524.6ZM63.6,521.4L64.8,522.8L63.6,524.3L62.4,522.8ZM63.6,519.5L64.8,521.0L63.6,522.5L62.4,521.0ZM63.6,517.8L64.8,519.2L63.6,520.7L62.4,519.2Z" fill="#000"/>
<line x1="82.0" y1="510.6" x2="82.0" y2="531.9" stroke="#000" stroke-width="0.7"/>
<line x1="82.0" y1="543.9" x2="82.0" y2="553.1" stroke="#000" stroke-width="0.7"/>
<line x1="80.9" y1="510.6" x2="83.1" y2="510.6" stroke="#000" stroke-width="0.7"/>
<line x1="80.9" y1="553.1" x2="83.1" y2="553.1" stroke="#000" stroke-width="0.7"/>
<rect x="80.5" y="531.9" width="3.0" height="12.0" fill="#fff" stroke="#000" stroke-width="0.7"/>
<circle cx="82.0" cy="537.4" r="2.8" fill="#000"/>
<path d="M82.0,497.8L83.2,499.2L82.0,500.6L80.8,499.2ZM82.0,508.1L83.2,509.6L82.0,511.0L80.8,509.6ZM82.0,505.7L83.2,507.2L82.0,508.6L80.8,507.2ZM82.0,503.3L83.2,504.8L82.0,506.2L80.8,504.8Z" fill="#000"/>
<text x="168.7" y="483.6" font-size="7.65" font-weight="bold" text-anchor="middle" fill="#111">Partially remitted</text>
<text x="168.7" y="491.8" font-size="7.65" font-weight="bold" text-anchor="middle" fill="#111">participants</text>
<line x1="139.2" y1="496.4" x2="139.2" y2="560.8" stroke="#222" stroke-width="0.8"/>
<line x1="138.8" y1="560.4" x2="199.2" y2="560.4" stroke="#222" stroke-width="0.8"/>
<text x="134.6" y="515.4" font-size="6.95" text-anchor="end" fill="#4d4d4d">1500</text>
<text x="134.6" y="533.5" font-size="6.95" text-anchor="end" fill="#4d4d4d">1000</text>
<text x="134.6" y="551.3" font-size="6.95" text-anchor="end" fill="#4d4d4d">500</text>
<text x="115.4" y="528.6" font-size="7.3" font-weight="bold" text-anchor="middle" fill="#111" transform="rotate(-90 115.39999999999999 528.6)">Number of streamlines</text>
<text x="149.6" y="570.0" font-size="5.7" font-weight="bold" text-anchor="middle" fill="#111">HC</text>
<text x="168.5" y="570.0" font-size="5.7" font-weight="bold" text-anchor="middle" fill="#111">MDD</text>
<text x="192.8" y="570.0" font-size="5.7" font-weight="bold" text-anchor="middle" fill="#111">MDD+ANX</text>
<path d="M150.7,498.2 L150.7,498.2 L150.2,499.7 L150.2,501.2 L150.2,502.7 L150.2,504.1 L150.2,505.6 L150.2,507.1 L150.2,508.6 L150.2,510.1 L150.2,511.6 L150.2,513.1 L150.2,514.6 L150.2,516.0 L150.2,517.5 L150.2,519.0 L150.2,520.5 L150.2,522.0 L150.2,523.5 L150.2,525.0 L150.2,526.5 L150.1,527.9 L149.8,529.4 L149.5,530.9 L149.0,532.4 L148.4,533.9 L147.6,535.4 L146.7,536.9 L145.7,538.4 L144.9,539.8 L144.6,541.3 L144.8,542.8 L145.2,544.3 L145.8,545.8 L146.5,547.3 L147.2,548.8 L148.0,550.3 L148.6,551.8 L149.2,553.2 L149.7,554.7 L150.0,556.2 L150.7,557.7 L150.7,557.7 Z" fill="#3e5a80" stroke="#222" stroke-width="0.55"/>
<path d="M153.7 537.8h0M154.8 555.2h0M152.8 534.3h0M154.6 543.9h0M155.5 526.7h0M155.9 546.2h0M154.8 532.8h0M153.1 538.4h0M154.7 535.6h0M154.6 543.8h0M153.8 545.9h0M154.2 531.9h0M154.5 547.0h0M155.4 531.7h0M155.7 547.8h0M154.7 537.9h0M152.8 538.7h0M152.5 542.5h0M153.7 543.4h0M154.2 542.8h0M155.8 532.7h0M154.4 537.9h0M151.6 546.4h0M151.6 538.5h0M150.7 538.3h0M151.1 548.9h0M155.4 532.8h0M155.4 536.3h0M150.8 553.0h0M154.4 540.0h0M153.3 539.3h0M153.2 536.7h0M155.8 529.5h0M153.9 541.7h0M154.3 550.9h0M152.8 532.3h0M152.8 543.4h0M153.3 542.1h0M153.7 551.3h0M155.3 552.1h0M155.1 555.7h0M155.4 526.2h0M153.1 545.1h0M154.1 542.6h0M155.7 547.4h0M152.0 540.7h0M151.7 549.3h0M152.7 544.8h0M152.5 537.3h0M154.1 533.4h0M154.4 545.5h0M154.4 533.3h0M152.3 539.5h0M154.7 533.5h0M152.5 537.5h0M151.2 534.1h0M151.9 531.7h0M151.8 535.7h0M152.9 537.8h0M152.5 539.2h0M153.4 531.8h0M154.8 544.3h0M155.4 532.6h0M154.3 546.7h0M155.8 553.0h0M155.8 532.2h0M154.9 537.2h0M154.2 541.9h0M151.1 540.9h0M153.9 550.6h0M153.1 534.7h0M154.3 546.6h0M151.2 539.0h0M152.9 536.0h0M155.3 549.4h0M151.4 537.6h0M153.3 539.6h0M151.0 545.8h0M151.0 546.2h0M152.8 553.1h0M152.8 525.8h0M151.8 530.0h0M153.1 534.0h0M153.6 550.7h0M155.8 545.2h0M155.8 532.2h0M154.9 537.4h0M153.5 547.0h0M152.3 546.3h0M151.0 544.5h0M151.6 547.6h0M152.2 539.0h0M153.7 541.2h0M155.4 542.5h0M153.4 547.0h0M151.4 536.4h0M153.5 544.2h0M152.3 543.0h0M155.9 548.3h0M151.2 535.4h0M155.0 552.7h0M153.3 532.5h0M152.1 545.0h0M152.3 533.9h0M151.9 551.8h0M154.2 539.6h0M152.8 541.1h0M154.9 551.4h0M150.9 557.4h0M153.8 539.8h0M151.6 544.6h0M152.5 541.5h0M151.4 536.9h0M151.8 538.5h0M154.6 542.6h0M155.2 547.8h0M151.4 552.6h0M151.7 537.1h0M152.5 530.9h0M153.3 544.4h0M152.0 544.7h0M151.9 538.9h0M154.2 544.2h0M152.5 546.1h0M154.8 529.7h0M152.2 550.0h0M153.2 540.1h0M153.7 540.4h0M152.7 545.1h0M151.9 551.3h0M155.2 540.9h0M154.5 536.1h0M155.4 542.2h0M154.9 555.7h0M152.3 533.6h0M155.6 538.5h0M154.3 539.3h0M153.6 529.5h0M152.0 543.7h0M150.9 531.1h0M155.0 540.2h0M154.8 541.5h0M154.3 533.8h0M152.8 545.9h0M150.9 539.1h0M153.0 545.0h0M150.9 541.1h0M152.0 541.3h0M151.2 547.9h0M151.3 526.9h0M150.9 547.7h0M153.6 536.0h0M153.2 545.4h0M152.9 534.6h0M150.9 533.2h0M153.1 543.1h0M155.4 548.6h0M151.7 538.3h0M153.8 529.9h0M154.1 543.8h0M152.0 532.8h0M151.1 543.5h0M155.8 546.0h0M151.1 535.2h0M152.5 557.5h0M153.7 533.1h0M152.6 543.2h0M151.6 537.9h0M154.1 544.3h0M153.0 547.7h0M154.2 534.4h0M152.0 534.9h0M153.2 548.8h0M154.2 538.0h0M155.7 538.3h0M154.5 542.5h0M155.7 542.4h0M151.8 547.3h0M150.9 540.2h0M155.2 540.3h0M153.9 536.1h0M152.6 547.2h0M153.8 545.2h0M154.7 543.5h0M151.2 536.2h0M154.5 547.5h0M153.6 541.9h0M153.2 549.2h0M151.6 531.7h0M154.1 526.6h0M150.9 535.3h0M155.7 537.4h0M155.2 537.5h0M150.7 542.5h0M153.2 543.0h0M151.2 555.2h0M154.1 533.1h0M153.7 546.3h0M152.3 541.0h0M152.0 528.8h0M154.8 528.1h0M151.6 540.8h0M155.3 547.8h0M154.0 540.9h0M155.2 540.7h0M152.4 531.8h0M154.0 542.1h0M153.0 546.1h0M155.6 549.2h0M153.7 539.0h0M155.8 551.7h0M152.4 529.6h0M151.5 533.1h0M153.0 532.8h0M151.1 548.0h0M153.6 535.7h0M155.6 544.2h0M155.5 539.3h0M150.7 547.1h0M154.2 543.6h0M153.7 535.8h0M153.3 552.8h0M155.8 541.9h0M153.1 538.7h0M154.9 552.8h0M153.9 550.2h0M153.7 547.3h0M154.2 534.4h0M154.2 528.2h0M152.9 545.5h0M152.3 543.4h0M153.1 530.1h0M151.2 534.7h0M154.8 552.4h0M153.8 540.6h0M154.1 527.0h0M155.1 545.2h0M153.3 550.9h0M152.7 542.3h0M154.0 546.0h0M152.7 546.3h0M152.4 536.2h0M155.9 534.8h0M152.3 553.1h0M152.4 531.6h0M152.3 544.3h0M152.1 533.6h0M151.2 542.6h0M153.3 547.2h0M155.8 548.3h0M155.5 541.1h0M155.5 537.7h0M153.6 534.7h0M151.2 548.1h0M153.5 541.1h0M153.7 550.2h0M151.6 545.1h0M152.7 531.8h0M154.0 543.5h0M152.4 548.7h0M152.1 536.9h0M153.5 535.5h0M152.0 533.6h0M155.2 539.3h0M151.9 544.7h0M154.8 538.2h0M151.7 534.5h0M152.3 540.5h0M151.7 539.2h0M154.4 543.4h0M151.8 535.5h0M155.9 541.1h0M153.1 537.9h0M153.7 535.8h0M154.3 546.6h0M152.6 527.5h0M152.4 555.6h0M152.0 537.5h0M152.8 539.0h0M152.3 536.6h0M153.2 538.7h0M152.1 544.4h0M155.4 547.8h0M155.6 539.9h0M151.4 534.0h0M151.5 535.3h0M151.4 552.9h0M151.1 542.6h0M153.0 546.2h0M151.7 540.0h0M152.6 539.1h0M155.8 537.7h0M152.4 545.6h0M154.8 535.2h0M155.8 535.6h0M152.3 549.3h0M154.7 538.8h0M152.0 537.3h0M153.4 530.0h0M151.1 551.0h0M153.0 526.9h0M153.1 538.2h0M154.7 535.3h0M154.3 542.6h0M153.5 538.1h0M152.4 534.6h0M154.1 535.9h0M152.8 537.3h0M154.5 541.2h0M150.9 543.4h0M155.8 548.8h0M152.5 538.2h0M154.1 541.2h0M151.3 547.6h0M153.7 534.6h0M152.1 540.5h0M154.4 543.4h0M152.4 534.2h0M151.4 553.2h0M155.9 537.8h0M151.0 541.5h0M150.9 543.7h0M151.7 540.1h0M152.8 553.9h0M154.5 534.4h0M155.6 547.4h0M152.7 537.8h0M154.8 538.9h0M153.0 554.8h0M153.0 529.1h0M150.9 541.3h0M151.6 555.7h0M155.0 536.6h0M151.4 549.8h0M152.3 549.9h0M153.4 541.2h0M154.5 544.2h0M152.5 552.6h0M151.6 544.8h0M155.3 541.2h0M153.6 535.4h0M154.3 534.2h0M155.3 534.4h0M151.3 539.2h0M153.3 530.6h0M155.6 535.4h0M154.0 538.5h0M151.4 539.3h0M151.8 543.2h0M154.5 552.3h0M153.6 551.5h0M152.7 549.9h0M153.2 548.1h0M155.1 532.0h0M155.6 534.8h0M151.8 545.5h0M152.6 550.6h0M154.9 538.8h0M151.7 542.0h0M155.0 541.8h0M154.1 547.5h0M154.5 541.9h0M154.6 548.2h0M153.5 533.4h0M153.1 532.4h0M152.6 532.8h0M153.0 547.6h0M155.8 538.4h0M152.8 543.5h0M153.6 548.8h0M154.5 547.6h0M150.9 536.3h0M155.1 539.8h0M151.4 536.3h0M153.3 534.2h0M153.0 552.2h0M154.7 546.3h0M154.8 537.5h0M155.4 537.8h0M152.9 532.9h0M151.0 545.6h0M155.1 528.8h0M152.9 531.1h0M151.1 550.8h0M152.1 531.1h0M155.8 532.4h0M151.7 536.9h0M154.4 532.2h0M154.9 541.2h0M150.7 543.0h0M151.0 542.1h0M155.4 541.3h0M154.8 529.4h0M154.1 548.6h0M153.5 543.6h0M155.5 545.8h0M152.8 540.9h0M153.0 541.7h0M155.2 532.4h0M153.6 533.7h0M155.5 554.2h0M152.2 534.2h0M153.1 529.7h0M152.8 542.1h0M155.3 533.7h0M155.7 535.8h0M154.4 533.7h0M154.0 546.0h0M155.8 546.4h0M155.0 538.3h0M151.0 543.2h0M153.6 529.9h0M152.9 542.3h0M152.4 545.0h0M155.9 540.9h0M154.0 546.9h0M154.9 543.9h0M154.9 530.3h0M152.6 545.4h0M154.1 537.3h0M153.2 531.5h0M151.5 540.1h0M153.2 534.7h0M153.8 533.1h0M153.7 539.9h0M154.4 548.2h0M154.9 530.9h0M153.5 527.5h0M152.6 541.4h0M153.6 538.7h0M155.3 533.1h0M152.6 532.4h0M154.5 537.3h0M155.2 541.1h0M152.0 533.6h0M151.0 533.7h0M152.7 540.2h0M154.4 537.8h0M151.1 548.8h0M154.8 544.7h0M153.3 534.7h0M151.3 533.1h0M154.3 536.5h0M155.9 542.9h0M152.5 531.0h0M154.1 550.2h0M155.8 544.9h0M155.9 540.6h0M152.8 541.3h0M153.7 543.0h0M152.9 541.2h0M153.8 535.5h0M151.0 539.8h0M153.4 539.5h0M152.7 545.1h0M151.1 540.1h0M151.1 539.6h0M151.9 539.9h0M155.1 552.1h0M152.9 541.8h0M151.1 551.8h0M152.1 534.2h0M153.8 547.7h0M155.0 537.7h0M153.7 530.9h0M154.4 534.9h0M155.0 553.7h0M155.4 542.2h0M150.7 531.3h0M150.7 536.0h0M153.7 540.3h0M153.0 541.4h0M153.1 536.4h0M154.2 540.7h0M151.9 554.0h0M153.2 546.3h0M151.6 538.5h0M154.1 553.5h0M152.1 536.2h0M151.1 532.7h0" stroke="#4a6ca6" stroke-opacity="0.55" stroke-width="0.9" stroke-linecap="round" fill="none"/>
<path d="M169.0,522.3 L169.0,522.3 L168.7,523.1 L168.5,524.0 L168.5,524.8 L168.5,525.6 L168.5,526.5 L168.5,527.3 L168.5,528.2 L168.5,529.0 L168.5,529.8 L168.4,530.7 L168.3,531.5 L168.2,532.3 L168.0,533.2 L167.8,534.0 L167.5,534.9 L167.2,535.7 L166.9,536.5 L166.5,537.4 L166.0,538.2 L165.5,539.0 L164.9,539.9 L164.3,540.7 L163.8,541.6 L163.5,542.4 L163.3,543.2 L163.3,544.1 L163.5,544.9 L163.8,545.8 L164.2,546.6 L164.7,547.4 L165.2,548.3 L165.7,549.1 L166.3,549.9 L166.8,550.8 L167.2,551.6 L167.6,552.4 L167.9,553.3 L168.2,554.1 L168.7,555.0 L169.0,555.8 L169.0,555.8 Z" fill="#db8233" stroke="#222" stroke-width="0.55"/>
<path d="M169.7 547.7h0M170.3 540.7h0M169.9 529.5h0M171.4 541.4h0M170.1 541.1h0M171.5 552.2h0M172.8 542.8h0M172.9 529.9h0M170.7 548.6h0M173.4 535.8h0M171.3 548.2h0M171.6 547.2h0M171.4 547.4h0M170.0 538.5h0M173.1 540.1h0M170.5 531.0h0M172.0 544.1h0M171.1 536.1h0M169.0 549.4h0M171.9 544.8h0M173.0 542.2h0M170.5 539.0h0M173.1 545.8h0M169.4 553.0h0M172.8 529.5h0M172.8 544.8h0M174.1 554.6h0M170.4 546.3h0M169.9 544.7h0M171.3 533.3h0M173.3 546.2h0M171.9 538.6h0M171.8 544.7h0M169.2 539.5h0M173.0 542.9h0M173.4 541.1h0M171.3 547.3h0M171.3 529.8h0M173.0 547.4h0M172.9 533.9h0M170.1 541.3h0M169.2 536.0h0M169.3 546.4h0M173.5 535.4h0M172.0 537.6h0M171.5 550.3h0M170.3 546.1h0M173.9 550.8h0M173.3 538.1h0M173.6 537.2h0M169.7 548.8h0M170.5 541.4h0M170.4 542.5h0M174.0 542.9h0M170.8 540.9h0M172.7 538.0h0M171.3 542.5h0M173.3 544.4h0M173.9 538.2h0M172.6 539.7h0M169.5 547.3h0M172.4 536.1h0M171.5 543.8h0M170.1 550.6h0M169.1 547.4h0M173.3 550.2h0M170.5 544.8h0M174.1 543.8h0M171.9 538.4h0M169.7 547.9h0M169.2 542.0h0M171.0 537.9h0M171.3 536.9h0M174.0 535.3h0M173.3 538.6h0M171.2 547.9h0M169.9 540.7h0M170.8 544.7h0M173.2 545.6h0M174.0 550.0h0M171.8 543.4h0M170.9 551.3h0M173.7 543.1h0M172.2 538.0h0M173.6 536.0h0M171.0 542.9h0M171.8 537.7h0M169.3 547.7h0M169.9 548.2h0M172.7 553.0h0M171.4 531.9h0M172.2 546.8h0M171.6 539.4h0M170.2 537.8h0M172.8 549.1h0M172.4 550.0h0M171.0 530.5h0M172.3 544.8h0M174.1 550.6h0M173.7 533.6h0M172.4 542.6h0M169.8 548.0h0M171.0 533.4h0M171.1 547.5h0M173.1 552.5h0M171.1 548.3h0M170.3 542.3h0M171.8 535.6h0M171.4 545.6h0M171.2 539.5h0M170.7 539.0h0M170.0 537.2h0M171.2 538.3h0M169.9 540.6h0M173.0 538.5h0M174.1 535.3h0M171.3 543.8h0M173.3 539.2h0M170.9 546.4h0M172.9 535.7h0M170.4 540.1h0M171.4 541.9h0M169.2 535.6h0M173.6 543.4h0M173.4 536.0h0M172.1 530.9h0M170.7 536.3h0M174.1 549.6h0M172.8 549.2h0M173.5 537.1h0M174.1 547.1h0M172.5 549.5h0M171.8 545.9h0M173.0 544.2h0M171.5 539.6h0M173.0 533.9h0M169.8 536.8h0M173.7 547.1h0M170.7 540.7h0M171.1 539.8h0M172.1 553.9h0M171.8 542.5h0M169.6 546.8h0M171.4 532.4h0M171.8 536.5h0M172.6 543.4h0M169.6 529.7h0M172.1 545.5h0M174.2 539.9h0M172.4 535.1h0M172.0 532.6h0M170.8 543.3h0M170.9 547.8h0M170.5 536.7h0M169.1 544.9h0M169.7 530.6h0M173.4 551.5h0M172.6 539.4h0M169.6 528.6h0M169.7 555.0h0M169.0 549.7h0M172.2 546.2h0M173.7 547.0h0M173.6 542.4h0M173.8 536.2h0M169.5 532.4h0M171.1 551.3h0M170.2 538.2h0M169.3 541.3h0M170.1 551.2h0M173.6 544.7h0M170.3 532.1h0M173.4 535.9h0M170.1 547.1h0M169.9 531.5h0M172.7 543.9h0M173.0 538.9h0M169.3 532.7h0M172.0 530.2h0M171.9 544.3h0M170.9 546.8h0M171.7 539.8h0M169.6 546.6h0M173.0 534.5h0M169.7 542.0h0M172.9 546.1h0M172.6 538.6h0M170.9 543.5h0M173.3 544.0h0M170.7 543.5h0M172.2 540.7h0M173.8 536.8h0M171.1 544.5h0M174.0 546.1h0M169.9 535.0h0M170.9 542.2h0M170.6 538.0h0M172.3 549.0h0M170.9 542.4h0M173.3 539.0h0M169.9 544.8h0M171.0 531.6h0M172.5 548.9h0M173.5 550.4h0M172.4 544.2h0M173.8 550.7h0M172.6 544.2h0M170.1 536.9h0M170.7 537.8h0M173.2 538.3h0M173.1 545.0h0M170.4 546.9h0M172.8 550.9h0M172.9 535.1h0M173.4 536.5h0M170.3 538.3h0M170.7 548.3h0M170.7 532.5h0M171.7 530.7h0M170.2 529.9h0M169.6 537.2h0M170.8 549.4h0M170.6 543.9h0M170.5 532.1h0M169.4 546.7h0M173.3 530.7h0M171.4 547.3h0M172.1 543.4h0M172.3 546.9h0M171.8 545.7h0M174.2 536.6h0M172.3 531.1h0M169.6 546.0h0M173.1 536.3h0M172.7 531.8h0M173.0 536.7h0M171.7 547.8h0M170.0 546.6h0M171.9 540.1h0M171.9 540.6h0M170.0 539.7h0M169.5 541.6h0M171.9 537.6h0M171.1 543.6h0M173.6 542.9h0M173.7 553.2h0M171.2 534.6h0M173.3 554.9h0M171.1 546.8h0M173.6 546.9h0M173.2 541.6h0M173.2 541.9h0M169.8 545.6h0M171.4 544.6h0M172.4 541.2h0M171.7 548.9h0M172.5 536.1h0M170.2 544.9h0M172.4 537.9h0M169.6 542.2h0M172.9 546.5h0M170.8 538.3h0M172.3 553.2h0M170.6 536.3h0M174.1 536.3h0M171.8 539.4h0M170.8 534.4h0M173.3 545.6h0M173.9 539.5h0M172.9 541.3h0M172.0 530.8h0M170.9 546.2h0M170.5 536.5h0M171.2 541.7h0M171.7 545.0h0M169.1 539.8h0M170.5 546.6h0M169.2 547.5h0M171.3 544.8h0M173.7 541.4h0M169.7 548.1h0M170.2 534.0h0M173.3 530.8h0M173.4 545.4h0M173.5 545.7h0M173.4 539.1h0M170.0 545.2h0M171.2 545.6h0M174.2 550.9h0M173.7 545.0h0M169.8 541.5h0M173.8 544.8h0M170.7 541.4h0M171.5 550.0h0M169.3 543.9h0M170.5 547.8h0M169.9 543.7h0M173.4 532.5h0M170.7 534.8h0M169.8 539.1h0M172.6 540.0h0M169.0 540.1h0M171.8 539.9h0M169.4 541.4h0M170.5 536.9h0M173.5 541.0h0M172.1 530.8h0M170.9 545.5h0M170.2 541.0h0M172.3 542.2h0M171.1 543.7h0M172.5 533.8h0M173.4 536.4h0M170.6 541.8h0M170.9 548.1h0M170.2 532.7h0M169.1 549.2h0M173.3 547.1h0M172.7 545.3h0M171.9 537.0h0M173.8 534.2h0M169.4 549.3h0M169.8 541.2h0M171.1 531.6h0M174.0 540.0h0M173.3 529.5h0M173.4 546.0h0M171.4 534.3h0M171.6 544.2h0M171.5 537.6h0M172.9 545.9h0M170.7 536.2h0M173.3 540.8h0M170.4 543.2h0M170.5 542.9h0M169.6 539.3h0M169.3 544.7h0M171.9 543.8h0M172.3 547.3h0M173.4 538.1h0M169.5 540.9h0M170.8 535.4h0M171.6 542.2h0M169.6 551.1h0M174.0 550.7h0M172.4 543.6h0M172.2 549.9h0M169.0 544.7h0M170.7 543.3h0M172.3 529.8h0M170.3 532.9h0M172.3 550.8h0M170.7 534.3h0M173.6 539.8h0M173.3 540.9h0M169.2 542.4h0M171.0 548.3h0M171.0 542.7h0M169.4 542.1h0M171.4 540.8h0" stroke="#e8913f" stroke-opacity="0.55" stroke-width="0.9" stroke-linecap="round" fill="none"/>
<path d="M187.4,509.4 L187.4,509.4 L187.0,510.5 L186.9,511.7 L186.9,512.8 L186.9,513.9 L186.9,515.0 L186.9,516.2 L186.9,517.3 L186.9,518.4 L186.9,519.6 L186.9,520.7 L186.8,521.8 L186.7,523.0 L186.5,524.1 L186.4,525.2 L186.2,526.4 L185.9,527.5 L185.7,528.6 L185.4,529.7 L185.1,530.9 L184.7,532.0 L184.4,533.1 L184.0,534.3 L183.7,535.4 L183.4,536.5 L183.3,537.6 L183.3,538.8 L183.4,539.9 L183.6,541.0 L183.9,542.2 L184.2,543.3 L184.6,544.4 L185.0,545.6 L185.4,546.7 L185.8,547.8 L186.1,549.0 L186.4,550.1 L186.6,551.2 L186.8,552.3 L187.0,553.5 L187.4,554.6 L187.4,554.6 Z" fill="#67aa60" stroke="#222" stroke-width="0.55"/>
<path d="M187.5 528.8h0M187.7 530.8h0M191.0 536.6h0M191.9 542.9h0M192.2 535.8h0M188.8 527.1h0M192.3 537.6h0M192.5 527.8h0M190.1 545.5h0M188.3 536.2h0M191.1 532.6h0M192.5 535.5h0M188.5 544.0h0M192.6 534.8h0M191.8 547.9h0M188.2 535.3h0M190.8 536.2h0M188.2 528.4h0M189.1 531.5h0M191.5 539.3h0M189.7 536.7h0M191.9 525.6h0M192.5 539.9h0M192.2 522.6h0M187.5 540.4h0M190.9 548.3h0M189.8 540.7h0M188.2 540.0h0M190.1 543.8h0M190.4 531.4h0M192.3 537.6h0M190.6 533.4h0M189.4 531.6h0M188.8 533.0h0M188.6 548.0h0M188.6 542.5h0M190.7 533.8h0M190.8 544.3h0M187.5 548.8h0M190.5 537.7h0M188.5 542.4h0M191.6 537.4h0M192.2 542.5h0M188.6 533.8h0M187.7 541.3h0M191.8 539.9h0M191.9 532.0h0M190.9 540.8h0M187.7 542.0h0M189.5 533.7h0M190.2 541.0h0M187.6 543.3h0M188.5 545.8h0M189.0 520.2h0M189.6 537.7h0M190.9 535.9h0M192.5 536.0h0M190.0 526.9h0M188.3 528.6h0M190.8 550.0h0M189.0 547.4h0M187.7 531.5h0M189.4 547.3h0M189.0 534.7h0M188.2 535.0h0M191.9 549.6h0M188.0 521.7h0M191.0 541.2h0M188.7 534.7h0M188.3 541.1h0M188.7 553.2h0M188.6 546.7h0M187.6 530.9h0M191.6 534.2h0M191.6 522.7h0M188.9 544.8h0M188.5 548.6h0M188.4 546.7h0M191.0 535.3h0M191.7 520.4h0M191.4 546.1h0M190.5 546.6h0M191.5 529.6h0M192.2 547.1h0M191.0 543.5h0M188.5 533.7h0M191.5 542.6h0M190.1 544.0h0M191.0 535.0h0M187.7 529.9h0M192.2 543.8h0M190.5 545.1h0M189.9 541.2h0M187.9 542.4h0M188.0 536.5h0M191.8 528.4h0M191.5 533.1h0M188.1 534.5h0M191.6 543.3h0M190.0 532.9h0M191.0 535.3h0M191.2 532.6h0M189.0 534.7h0M187.5 535.7h0M188.9 532.4h0M192.4 535.7h0M190.4 544.8h0M191.9 539.9h0M188.8 532.1h0M191.7 538.0h0M191.8 531.4h0M191.6 541.0h0M191.7 531.6h0M188.1 520.7h0M190.1 540.2h0M187.9 536.0h0M191.6 535.0h0M188.9 539.8h0M190.0 540.1h0M189.9 550.3h0M192.5 538.0h0M191.2 530.8h0M188.3 541.2h0M188.6 541.7h0M191.2 535.7h0M191.5 548.9h0M188.4 533.9h0M192.3 542.1h0M187.7 540.1h0M190.4 533.3h0M192.5 532.7h0M190.1 533.2h0M190.1 533.2h0M188.3 545.2h0M188.8 543.6h0M190.9 535.5h0M190.3 534.0h0M192.4 533.7h0M188.4 542.6h0M189.5 546.8h0M191.2 522.0h0M191.6 546.7h0M188.3 544.0h0M189.0 534.8h0M190.5 529.7h0M191.7 528.4h0M191.1 545.8h0M192.1 541.6h0M191.7 541.8h0M191.5 530.9h0M188.4 543.4h0M190.8 524.9h0M191.4 542.0h0M188.3 548.1h0M189.9 537.3h0M189.2 534.6h0M191.9 551.9h0M190.9 537.5h0M188.7 534.9h0M190.1 536.9h0M191.5 539.2h0M191.6 527.4h0M192.4 538.1h0M191.9 542.2h0M191.4 525.1h0M191.7 540.0h0M188.6 549.4h0M190.2 531.2h0M191.2 544.0h0M188.8 534.6h0" stroke="#86c982" stroke-opacity="0.55" stroke-width="0.9" stroke-linecap="round" fill="none"/>
<path d="M153.3,540.4 L171.6,542.6 L190.0,535.4" fill="none" stroke="#000" stroke-width="1.8" stroke-linecap="round" stroke-dasharray="0 4.3"/>
<line x1="153.3" y1="524.1" x2="153.3" y2="534.9" stroke="#000" stroke-width="0.7"/>
<line x1="153.3" y1="546.9" x2="153.3" y2="557.7" stroke="#000" stroke-width="0.7"/>
<line x1="152.2" y1="524.1" x2="154.4" y2="524.1" stroke="#000" stroke-width="0.7"/>
<line x1="152.2" y1="557.7" x2="154.4" y2="557.7" stroke="#000" stroke-width="0.7"/>
<rect x="151.8" y="534.9" width="3.0" height="12.0" fill="none" stroke="#000" stroke-width="0.7"/>
<circle cx="153.3" cy="540.4" r="2.8" fill="#000"/>
<path d="M153.3,497.6L154.6,499.2L153.3,500.8L152.0,499.2ZM153.3,521.5L154.6,523.1L153.3,524.7L152.0,523.1ZM153.3,520.1L154.6,521.8L153.3,523.4L152.0,521.8ZM153.3,518.8L154.6,520.4L153.3,522.0L152.0,520.4ZM153.3,517.5L154.6,519.1L153.3,520.7L152.0,519.1ZM153.3,516.1L154.6,517.7L153.3,519.3L152.0,517.7ZM153.3,514.8L154.6,516.4L153.3,518.0L152.0,516.4ZM153.3,513.4L154.6,515.0L153.3,516.6L152.0,515.0ZM153.3,512.0L154.6,513.6L153.3,515.2L152.0,513.6ZM153.3,510.7L154.6,512.3L153.3,513.9L152.0,512.3ZM153.3,509.4L154.6,511.0L153.3,512.6L152.0,511.0ZM153.3,508.0L154.6,509.6L153.3,511.2L152.0,509.6ZM153.3,506.6L154.6,508.2L153.3,509.9L152.0,508.2ZM153.3,505.3L154.6,506.9L153.3,508.5L152.0,506.9Z" fill="#000"/>
<line x1="171.6" y1="528.3" x2="171.6" y2="537.1" stroke="#000" stroke-width="0.7"/>
<line x1="171.6" y1="549.1" x2="171.6" y2="555.8" stroke="#000" stroke-width="0.7"/>
<line x1="170.5" y1="528.3" x2="172.7" y2="528.3" stroke="#000" stroke-width="0.7"/>
<line x1="170.5" y1="555.8" x2="172.7" y2="555.8" stroke="#000" stroke-width="0.7"/>
<rect x="170.1" y="537.1" width="3.0" height="12.0" fill="none" stroke="#000" stroke-width="0.7"/>
<circle cx="171.6" cy="542.6" r="2.8" fill="#000"/>
<path d="M171.6,521.8L172.8,523.3L171.6,524.8L170.4,523.3ZM171.6,525.8L172.8,527.3L171.6,528.8L170.4,527.3Z" fill="#000"/>
<line x1="190.0" y1="518.0" x2="190.0" y2="529.9" stroke="#000" stroke-width="0.7"/>
<line x1="190.0" y1="541.9" x2="190.0" y2="554.6" stroke="#000" stroke-width="0.7"/>
<line x1="188.9" y1="518.0" x2="191.1" y2="518.0" stroke="#000" stroke-width="0.7"/>
<line x1="188.9" y1="554.6" x2="191.1" y2="554.6" stroke="#000" stroke-width="0.7"/>
<rect x="188.5" y="529.9" width="3.0" height="12.0" fill="#fff" stroke="#000" stroke-width="0.7"/>
<circle cx="190.0" cy="535.4" r="2.8" fill="#000"/>
<path d="M190.0,508.9L191.2,510.4L190.0,511.8L188.8,510.4ZM190.0,515.6L191.2,517.0L190.0,518.5L188.8,517.0Z" fill="#000"/>
<text x="276.0" y="483.6" font-size="7.65" font-weight="bold" text-anchor="middle" fill="#111">Fully remitted</text>
<text x="276.0" y="491.8" font-size="7.65" font-weight="bold" text-anchor="middle" fill="#111">participants</text>
<line x1="246.5" y1="496.4" x2="246.5" y2="560.8" stroke="#222" stroke-width="0.8"/>
<line x1="246.1" y1="560.4" x2="306.5" y2="560.4" stroke="#222" stroke-width="0.8"/>
<text x="241.9" y="515.4" font-size="6.95" text-anchor="end" fill="#4d4d4d">1500</text>
<text x="241.9" y="533.5" font-size="6.95" text-anchor="end" fill="#4d4d4d">1000</text>
<text x="241.9" y="551.3" font-size="6.95" text-anchor="end" fill="#4d4d4d">500</text>
<text x="222.7" y="528.6" font-size="7.3" font-weight="bold" text-anchor="middle" fill="#111" transform="rotate(-90 222.7 528.6)">Number of streamlines</text>
<text x="256.9" y="570.0" font-size="5.7" font-weight="bold" text-anchor="middle" fill="#111">HC</text>
<text x="275.8" y="570.0" font-size="5.7" font-weight="bold" text-anchor="middle" fill="#111">MDD</text>
<text x="300.1" y="570.0" font-size="5.7" font-weight="bold" text-anchor="middle" fill="#111">MDD+ANX</text>
<path d="M257.8,498.9 L257.8,498.9 L257.3,500.4 L257.3,501.8 L257.3,503.3 L257.3,504.8 L257.3,506.2 L257.3,507.7 L257.3,509.2 L257.3,510.7 L257.3,512.1 L257.3,513.6 L257.3,515.1 L257.3,516.5 L257.3,518.0 L257.3,519.5 L257.3,520.9 L257.3,522.4 L257.3,523.9 L257.3,525.4 L257.3,526.8 L257.2,528.3 L257.0,529.8 L256.7,531.2 L256.3,532.7 L255.7,534.2 L255.0,535.6 L254.2,537.1 L253.2,538.6 L252.3,540.1 L251.8,541.5 L251.9,543.0 L252.2,544.5 L252.8,545.9 L253.5,547.4 L254.2,548.9 L255.0,550.3 L255.7,551.8 L256.3,553.3 L256.8,554.8 L257.1,556.2 L257.8,557.7 L257.8,557.7 Z" fill="#3e5a80" stroke="#222" stroke-width="0.55"/>
<path d="M259.9 541.8h0M258.4 536.6h0M258.4 533.7h0M262.8 537.5h0M259.1 536.8h0M262.3 538.3h0M260.9 535.9h0M262.7 532.0h0M262.9 537.7h0M262.1 529.7h0M259.4 529.7h0M262.3 529.3h0M260.8 536.1h0M259.3 535.2h0M259.7 546.3h0M261.9 534.0h0M261.3 542.6h0M262.9 530.9h0M261.2 546.5h0M259.6 545.0h0M258.8 538.8h0M259.4 546.1h0M259.5 543.3h0M262.1 538.0h0M260.6 539.4h0M259.7 527.0h0M260.0 541.7h0M258.2 533.1h0M258.3 545.6h0M262.1 544.6h0M260.9 539.5h0M259.4 554.3h0M258.3 549.3h0M258.8 553.0h0M260.8 546.5h0M262.3 552.3h0M258.5 538.7h0M259.7 549.3h0M260.3 547.2h0M258.3 550.5h0M259.3 550.9h0M259.6 545.1h0M262.2 544.7h0M262.5 532.1h0M261.0 547.6h0M258.3 547.0h0M259.7 546.0h0M260.4 557.2h0M259.1 547.2h0M260.9 548.8h0M258.8 545.2h0M262.2 554.7h0M261.8 531.6h0M261.1 555.4h0M262.8 532.6h0M262.1 535.0h0M258.2 552.4h0M262.6 544.5h0M258.0 541.8h0M261.4 535.9h0M261.9 547.3h0M259.7 541.8h0M258.0 543.6h0M257.9 539.0h0M261.6 543.8h0M262.6 546.9h0M258.7 539.9h0M259.6 548.2h0M260.8 537.6h0M258.9 539.2h0M260.3 549.0h0M262.0 549.9h0M258.3 549.2h0M260.0 550.1h0M258.6 532.7h0M260.3 543.3h0M257.9 548.2h0M262.2 539.7h0M257.9 535.7h0M261.6 529.3h0M259.8 540.6h0M262.8 537.3h0M258.9 542.3h0M261.2 539.8h0M260.7 536.0h0M261.8 536.6h0M258.7 536.1h0M258.1 539.1h0M259.3 538.5h0M258.0 546.9h0M259.5 532.2h0M259.5 545.0h0M262.6 553.6h0M262.4 546.2h0M258.0 549.2h0M259.6 531.9h0M259.0 527.0h0M260.3 547.3h0M259.6 554.4h0M259.4 551.7h0M262.8 528.3h0M260.4 541.4h0M258.7 547.2h0M259.3 552.8h0M259.1 536.5h0M259.1 547.1h0M258.0 534.6h0M262.3 543.4h0M262.1 542.6h0M262.5 536.6h0M260.0 540.0h0M261.3 544.1h0M262.2 543.7h0M260.9 543.7h0M261.0 538.6h0M262.2 546.3h0M258.0 540.5h0M262.7 540.5h0M259.5 545.4h0M259.3 531.8h0M259.2 549.3h0M262.0 538.2h0M261.6 533.9h0M260.2 539.6h0M258.8 543.4h0M260.4 527.3h0M261.3 535.6h0M259.7 533.2h0M258.0 549.7h0M259.8 546.7h0M259.9 542.2h0M259.7 529.2h0M262.2 536.9h0M259.5 545.0h0M262.6 546.5h0M261.5 540.2h0M261.1 548.9h0M262.7 544.9h0M260.7 539.2h0M260.3 535.4h0M260.3 527.2h0M260.4 543.2h0M257.8 544.2h0M262.1 550.7h0M258.1 544.1h0M262.7 545.6h0M258.3 532.8h0M262.3 538.9h0M258.7 544.0h0M261.1 533.3h0M258.3 531.1h0M258.8 541.7h0M262.0 538.0h0M262.4 543.5h0M260.7 546.9h0M258.9 538.0h0M260.7 538.1h0M260.0 544.7h0M261.9 542.1h0M262.3 538.7h0M260.5 541.7h0M260.0 531.6h0M259.2 533.9h0M261.1 540.2h0M262.8 545.9h0M259.3 545.3h0M262.1 534.9h0M259.6 539.5h0M260.1 537.5h0M260.7 535.3h0M262.8 550.7h0M260.9 541.0h0M261.2 533.1h0M259.5 537.9h0M259.1 541.8h0M260.8 538.3h0M258.2 529.2h0M259.8 537.2h0M260.2 545.8h0M262.6 532.0h0M260.4 547.8h0M262.5 540.4h0M261.8 532.4h0M258.4 541.4h0M258.8 540.9h0M259.7 553.0h0M261.7 539.7h0M262.7 539.9h0M257.9 545.8h0M261.4 543.4h0M260.7 543.9h0M262.4 539.1h0M261.1 545.4h0M261.6 537.3h0M261.8 547.6h0M260.6 535.1h0M262.1 535.7h0M258.6 538.6h0M258.6 556.7h0M262.4 539.6h0M260.5 550.3h0M262.5 538.8h0M261.1 540.5h0M260.7 535.8h0M259.9 538.8h0M261.6 545.2h0M259.2 539.8h0M260.8 541.2h0M262.3 538.8h0M261.9 543.7h0M261.0 530.2h0M261.7 539.2h0M260.6 536.8h0M262.2 545.3h0M259.1 537.7h0M261.7 554.4h0M258.2 542.0h0M259.7 548.4h0M261.5 541.6h0M257.9 526.1h0M260.1 537.6h0M259.8 537.6h0M259.3 546.9h0M262.1 546.0h0M259.8 546.1h0M260.0 545.5h0M259.1 542.7h0M260.9 545.8h0M262.0 533.6h0M262.9 528.2h0M259.3 541.7h0M262.7 532.8h0M260.9 554.3h0M259.7 546.7h0M258.9 539.6h0M260.9 542.4h0M262.6 540.5h0M259.9 536.0h0M262.8 543.3h0M261.8 549.6h0M260.5 555.4h0M262.9 532.8h0M259.1 547.9h0M259.1 552.6h0M261.8 531.2h0M261.5 545.5h0M258.6 541.7h0M257.9 538.8h0M259.7 536.6h0M257.9 538.1h0M259.9 534.8h0M260.0 544.5h0M258.1 549.3h0M261.0 541.7h0M260.8 540.9h0M261.9 544.2h0M258.6 532.6h0M261.7 542.2h0M260.0 533.0h0M262.5 545.8h0M258.9 539.4h0M258.0 535.6h0M258.5 536.0h0M261.9 544.6h0M260.5 538.0h0M259.5 537.2h0M259.5 551.1h0M261.5 546.5h0M260.5 539.5h0M259.3 544.1h0M259.2 543.7h0M260.0 542.6h0M258.1 545.6h0M262.1 539.7h0M261.3 551.1h0M258.1 541.5h0M260.2 542.3h0M258.4 542.9h0M260.5 533.9h0M260.0 531.1h0M260.7 553.0h0M260.5 549.8h0M258.0 534.7h0M262.3 528.5h0M262.6 530.5h0M258.1 535.0h0M258.8 541.6h0M259.5 535.5h0M262.2 542.0h0M259.0 536.2h0M262.5 541.7h0M261.0 539.5h0M260.4 529.2h0M259.0 535.2h0M261.8 535.9h0M258.3 532.5h0M262.8 546.2h0M260.3 532.5h0M259.5 542.4h0M261.0 550.8h0M259.5 546.5h0M262.1 535.6h0M260.0 538.3h0M260.0 541.7h0M262.1 541.5h0M259.1 546.0h0M263.0 531.4h0M262.0 542.1h0M261.8 547.4h0M262.5 533.7h0M259.7 551.4h0M258.6 554.9h0M260.9 557.6h0M259.3 546.3h0M261.4 545.7h0M262.5 546.8h0M262.8 540.5h0M257.8 543.0h0M260.8 543.5h0M261.3 538.8h0M260.6 539.3h0M260.7 550.1h0M260.6 544.3h0M261.9 541.0h0M259.5 534.2h0M261.0 538.4h0M261.0 537.5h0M260.8 540.4h0M258.6 538.7h0M261.9 545.7h0M259.0 532.8h0M261.1 544.2h0M261.3 542.1h0M259.6 549.9h0M259.3 543.5h0M262.6 554.9h0M261.3 549.9h0M259.0 548.6h0M260.8 538.1h0M259.1 547.3h0M261.9 542.3h0M258.3 556.9h0M260.5 549.2h0M262.7 556.1h0M261.5 540.2h0M257.9 534.2h0M262.5 551.3h0M262.9 544.5h0M260.8 541.4h0M262.0 553.4h0M258.7 543.0h0M262.0 538.7h0M257.9 538.7h0M261.7 552.1h0M259.5 532.3h0M259.8 534.0h0M260.3 547.0h0M260.4 530.5h0M258.9 552.1h0M259.5 539.8h0M259.0 536.8h0M259.8 550.5h0M261.3 533.9h0M261.9 533.9h0M257.9 546.3h0M261.4 547.0h0M258.8 548.8h0M262.2 533.3h0M262.5 551.2h0M262.7 546.5h0M258.0 539.7h0M260.4 548.7h0M258.7 539.4h0M261.6 528.1h0M260.6 526.1h0M259.6 553.4h0M260.1 548.5h0M260.7 531.2h0M262.9 544.3h0M261.3 539.7h0M259.5 549.7h0M261.0 545.4h0M259.2 534.5h0M261.0 543.4h0M259.7 537.1h0M261.2 540.4h0M258.3 543.0h0M258.8 535.1h0M258.2 535.9h0M258.1 546.0h0M261.8 545.4h0M261.1 550.1h0M259.0 546.0h0M263.0 539.5h0M260.5 535.9h0M257.9 544.0h0M262.3 539.9h0M258.3 549.6h0M260.4 530.2h0M258.3 536.1h0M261.1 537.5h0M262.1 555.1h0M262.4 552.9h0M261.4 543.2h0M262.5 545.7h0M259.1 543.0h0M260.7 543.9h0M262.0 552.5h0M259.2 537.8h0M261.2 538.5h0M261.8 540.6h0M263.0 547.4h0M259.3 548.5h0M257.8 547.8h0M258.1 535.1h0M258.0 548.7h0M262.1 532.4h0M262.1 539.9h0M262.7 535.8h0M259.4 543.1h0M261.7 538.7h0M262.4 539.5h0M262.0 542.3h0M262.6 537.0h0M262.5 538.9h0M258.7 542.6h0M258.7 540.4h0M261.7 543.3h0M258.9 552.1h0M260.2 541.7h0M258.4 543.1h0M260.8 549.0h0M257.9 542.1h0M262.3 541.8h0M258.4 542.7h0M260.2 538.6h0M261.0 535.9h0M260.3 537.6h0M261.5 528.7h0M258.9 541.1h0M260.9 531.7h0M257.9 538.9h0M259.2 550.5h0M261.2 535.2h0M257.9 538.6h0M260.6 543.1h0M263.0 527.5h0M262.3 540.7h0M263.0 546.2h0M258.7 554.6h0M260.8 550.8h0M258.5 546.7h0M259.4 545.8h0M260.1 544.5h0M258.2 542.3h0M259.1 546.9h0M260.0 539.9h0M260.2 552.3h0M261.7 540.3h0M262.5 540.4h0M259.2 557.0h0M262.8 539.2h0M261.2 529.8h0M259.9 537.3h0M260.6 526.0h0M258.5 537.0h0M258.8 538.6h0M260.9 541.0h0M261.1 533.0h0M262.5 549.9h0M259.2 535.5h0M258.6 538.5h0M261.2 537.3h0M258.7 548.1h0M260.7 540.2h0M261.1 531.6h0M260.1 546.5h0M258.1 543.6h0M261.5 540.6h0M261.3 542.3h0" stroke="#4a6ca6" stroke-opacity="0.55" stroke-width="0.9" stroke-linecap="round" fill="none"/>
<path d="M276.6,516.7 L276.6,516.7 L276.3,517.7 L276.1,518.7 L276.1,519.8 L276.1,520.8 L276.1,521.8 L276.1,522.8 L276.1,523.9 L276.1,524.9 L276.1,525.9 L276.1,526.9 L276.1,528.0 L276.1,529.0 L276.0,530.0 L275.9,531.0 L275.7,532.1 L275.5,533.1 L275.2,534.1 L274.8,535.1 L274.3,536.2 L273.8,537.2 L273.2,538.2 L272.6,539.2 L272.0,540.3 L271.5,541.3 L271.3,542.3 L271.4,543.3 L271.5,544.4 L271.8,545.4 L272.2,546.4 L272.6,547.4 L273.1,548.5 L273.6,549.5 L274.1,550.5 L274.5,551.5 L275.0,552.6 L275.3,553.6 L275.6,554.6 L275.9,555.6 L276.2,556.7 L276.6,557.7 L276.6,557.7 Z" fill="#db8233" stroke="#222" stroke-width="0.55"/>
<path d="M278.5 541.3h0M280.0 554.8h0M279.1 529.0h0M278.4 531.3h0M278.1 556.4h0M276.8 533.0h0M278.8 542.7h0M281.0 539.6h0M277.9 544.8h0M281.7 552.7h0M279.3 540.1h0M278.4 554.8h0M278.2 552.0h0M279.0 538.2h0M277.7 538.7h0M280.7 539.4h0M277.1 549.3h0M278.7 546.6h0M276.9 534.7h0M280.7 544.9h0M279.0 544.0h0M277.5 550.6h0M279.8 541.0h0M277.5 536.9h0M278.5 539.7h0M276.8 537.6h0M278.5 535.6h0M279.7 557.5h0M278.9 548.5h0M281.8 546.5h0M279.7 543.2h0M276.8 543.3h0M277.0 535.0h0M277.3 527.4h0M281.1 543.3h0M281.2 539.8h0M278.4 545.7h0M278.9 546.9h0M280.2 541.6h0M278.0 526.4h0M278.4 542.7h0M278.3 552.2h0M278.3 552.5h0M280.9 544.6h0M280.2 548.6h0M280.2 533.9h0M281.8 551.1h0M279.6 531.2h0M281.6 540.0h0M278.2 527.5h0M279.6 540.3h0M277.7 553.1h0M281.6 546.4h0M280.9 536.8h0M277.0 544.8h0M278.2 551.4h0M276.7 554.4h0M278.8 538.6h0M279.1 540.5h0M277.9 548.5h0M279.5 539.5h0M280.8 557.2h0M278.6 540.6h0M278.2 539.6h0M279.0 536.9h0M279.0 529.0h0M279.6 546.1h0M278.0 544.4h0M280.0 546.5h0M280.2 538.4h0M276.9 549.8h0M280.8 540.7h0M280.7 544.1h0M279.1 527.8h0M281.8 537.5h0M278.9 545.7h0M281.6 542.4h0M281.7 537.1h0M280.2 537.3h0M281.6 536.1h0M281.4 553.0h0M277.6 539.9h0M281.0 545.5h0M280.5 544.4h0M279.4 539.9h0M278.1 543.2h0M279.3 552.5h0M276.7 535.6h0M278.1 530.2h0M280.8 541.4h0M277.0 540.5h0M279.0 544.5h0M278.5 541.0h0M279.5 535.9h0M278.5 534.8h0M278.1 541.7h0M278.0 537.7h0M281.0 533.8h0M277.9 545.7h0M278.5 545.7h0M277.3 538.4h0M279.4 540.4h0M278.9 544.6h0M278.5 541.0h0M279.3 532.9h0M279.2 555.3h0M280.6 535.9h0M280.0 534.3h0M279.0 541.6h0M280.8 543.2h0M276.7 545.0h0M277.6 529.7h0M280.2 540.8h0M281.0 537.1h0M277.2 553.6h0M279.1 537.3h0M276.8 540.6h0M278.6 528.2h0M279.4 536.0h0M281.8 542.2h0M276.7 542.6h0M277.6 535.1h0M277.2 529.6h0M278.5 536.8h0M280.5 548.0h0M279.1 536.0h0M277.4 547.3h0M281.7 534.5h0M278.8 546.5h0M279.8 530.6h0M278.8 549.4h0M281.5 545.1h0M280.7 536.7h0M281.5 545.2h0M279.6 556.2h0M280.0 540.9h0M277.1 536.3h0M281.3 546.5h0M279.8 546.3h0M280.3 529.2h0M277.8 545.8h0M279.1 547.1h0M277.5 539.5h0M279.7 544.0h0M281.4 533.1h0M277.8 544.4h0M276.7 536.7h0M278.5 547.6h0M281.2 550.5h0M277.9 541.3h0M278.1 541.9h0M276.9 545.7h0M276.7 546.9h0M280.9 543.6h0M280.9 531.9h0M276.7 545.1h0M279.5 544.3h0M280.1 549.3h0M278.8 530.6h0M281.4 529.1h0M278.5 530.2h0M278.0 539.4h0M277.2 537.5h0M277.5 540.3h0M281.4 548.1h0M278.6 532.2h0M278.4 553.0h0M281.5 538.3h0M276.8 528.9h0M278.1 548.3h0M280.3 550.7h0M277.9 552.1h0M279.9 550.5h0M279.2 543.3h0M277.5 538.1h0M279.2 538.2h0M280.4 537.9h0M278.3 532.9h0M281.3 536.3h0M281.6 538.0h0M281.1 544.1h0M278.2 545.4h0M277.8 542.7h0M279.7 541.2h0M280.1 540.8h0M276.9 529.6h0M280.1 547.8h0M276.6 540.8h0M278.2 546.2h0M279.4 540.1h0M280.0 538.5h0M279.1 543.7h0M281.3 539.6h0M281.0 539.8h0M278.8 538.7h0M279.9 538.3h0M278.7 544.6h0M279.1 542.0h0M277.9 536.2h0M276.7 529.3h0M278.2 543.4h0M279.2 539.8h0M278.1 534.4h0M279.1 537.1h0M280.3 532.8h0M280.2 539.8h0M277.9 536.0h0M279.4 534.3h0M279.3 554.4h0M278.3 539.6h0M281.0 553.2h0M280.8 549.6h0M278.9 536.2h0M277.5 543.5h0M280.6 546.0h0M279.3 533.7h0M279.4 542.9h0M280.2 536.4h0M278.4 540.0h0M280.8 532.1h0M279.5 552.2h0M279.6 539.0h0M277.9 546.1h0M279.0 547.6h0M280.2 534.5h0M278.6 537.1h0M277.6 530.4h0M276.7 553.1h0M281.1 545.9h0M278.5 540.3h0M280.2 538.5h0M280.6 534.8h0M279.2 538.8h0M281.0 547.0h0M281.1 536.4h0M281.8 547.5h0M281.0 554.4h0M277.8 532.6h0M280.7 539.1h0M280.2 544.3h0M279.0 536.0h0M277.3 545.3h0M280.2 538.7h0M278.5 533.4h0M279.5 545.5h0M281.4 536.3h0M280.7 545.8h0M281.1 542.3h0M276.9 545.5h0M281.1 532.9h0M279.5 532.7h0M278.3 541.5h0M276.7 537.7h0M279.8 552.0h0M280.5 541.6h0M277.1 544.4h0M281.2 533.0h0M280.7 531.1h0M277.9 534.1h0M280.4 539.5h0M278.2 537.3h0M277.8 547.6h0M279.2 554.3h0M278.5 547.7h0M279.3 536.7h0M280.0 544.1h0M277.4 543.1h0M278.8 536.6h0M276.7 539.0h0M280.2 539.4h0M279.9 532.9h0M281.2 526.1h0M279.1 541.9h0M279.9 532.0h0M276.8 539.4h0M279.8 543.8h0M280.4 543.2h0M276.8 534.4h0M280.0 544.3h0M280.4 532.6h0M278.1 534.9h0M276.9 538.6h0M281.7 538.9h0M281.7 547.6h0M278.5 539.0h0M280.3 534.2h0M277.1 546.1h0M277.0 539.7h0M281.1 541.0h0M277.6 539.4h0M278.9 537.9h0M279.0 551.3h0M281.0 541.4h0M281.0 537.0h0M281.2 537.3h0M280.8 537.4h0M276.6 543.3h0M277.2 546.4h0M279.9 543.7h0M279.2 542.5h0M281.0 532.2h0M279.7 539.8h0M278.4 540.7h0M281.1 550.7h0M277.4 532.7h0M277.4 537.5h0M277.2 547.4h0M278.8 528.4h0M280.8 537.3h0M281.7 529.7h0M278.7 531.6h0M280.9 547.4h0M279.9 538.9h0M277.3 542.7h0M278.1 532.6h0M278.3 540.8h0M278.5 536.6h0M277.7 533.9h0M279.4 537.7h0M279.1 545.3h0M280.3 549.3h0M279.6 536.8h0M278.9 531.3h0M281.6 536.0h0M278.4 551.9h0M280.6 532.3h0M278.7 536.4h0M281.7 546.2h0M279.5 530.5h0M277.8 540.7h0M278.3 542.1h0M278.9 541.3h0M281.0 525.7h0M277.0 549.6h0M278.2 554.5h0M281.6 552.8h0M277.7 545.8h0M280.0 527.2h0M281.3 541.6h0M277.7 541.5h0M281.0 535.6h0M276.9 540.3h0M277.9 540.7h0M277.2 533.2h0M279.8 540.9h0M277.2 539.1h0M280.5 538.7h0M281.3 531.1h0M281.3 537.4h0M277.7 555.6h0M277.8 539.0h0M278.4 544.5h0M280.2 527.9h0M280.7 540.7h0M277.8 545.0h0M280.3 547.4h0M278.5 540.0h0M279.3 538.9h0M279.9 543.2h0M279.7 538.1h0" stroke="#e8913f" stroke-opacity="0.55" stroke-width="0.9" stroke-linecap="round" fill="none"/>
<path d="M294.7,511.7 L294.7,511.7 L294.4,512.7 L294.2,513.8 L294.2,514.8 L294.2,515.8 L294.2,516.9 L294.2,517.9 L294.2,518.9 L294.2,520.0 L294.1,521.0 L294.0,522.0 L293.8,523.1 L293.7,524.1 L293.5,525.2 L293.3,526.2 L293.1,527.2 L292.8,528.3 L292.5,529.3 L292.1,530.3 L291.7,531.4 L291.3,532.4 L290.8,533.4 L290.3,534.5 L289.8,535.5 L289.4,536.5 L289.0,537.6 L288.8,538.6 L288.7,539.6 L288.8,540.7 L289.1,541.7 L289.5,542.8 L290.0,543.8 L290.7,544.8 L291.3,545.9 L291.9,546.9 L292.5,547.9 L293.0,549.0 L293.4,550.0 L293.8,551.0 L294.3,552.1 L294.7,553.1 L294.7,553.1 Z" fill="#67aa60" stroke="#222" stroke-width="0.55"/>
<path d="M299.5 532.2h0M298.8 532.6h0M294.9 537.6h0M299.5 538.6h0M298.7 522.6h0M299.8 543.1h0M295.2 540.6h0M299.3 542.7h0M297.6 542.2h0M296.0 536.5h0M297.5 538.7h0M299.1 535.6h0M297.4 529.4h0M299.0 541.8h0M296.4 543.8h0M299.4 532.3h0M297.8 542.1h0M295.3 537.6h0M298.1 543.4h0M295.8 534.9h0M298.9 539.4h0M295.7 542.8h0M295.7 546.5h0M298.4 545.0h0M297.9 546.3h0M297.6 537.2h0M299.7 538.6h0M298.6 534.0h0M295.7 546.2h0M299.6 544.4h0M298.3 552.2h0M295.4 532.3h0M296.5 539.1h0M299.6 540.2h0M295.4 548.9h0M297.9 542.0h0M299.5 538.8h0M297.1 542.0h0M298.1 532.6h0M296.3 543.6h0M295.4 537.5h0M298.5 534.6h0M298.0 538.0h0M294.7 544.6h0M296.5 539.3h0M297.9 539.6h0M297.1 547.1h0M296.9 530.6h0M299.1 538.1h0M298.5 536.9h0M297.2 544.3h0M295.7 535.1h0M299.4 543.4h0M296.7 535.2h0M298.4 535.4h0M296.4 547.7h0M299.6 533.1h0M295.4 534.4h0M299.0 531.6h0M297.2 541.5h0M296.7 541.3h0M296.0 540.4h0M298.0 539.1h0M298.1 547.4h0M299.6 540.7h0M299.2 537.8h0M299.8 539.4h0M296.2 543.1h0M299.1 537.6h0M297.4 537.5h0M297.0 541.6h0M298.3 538.8h0M296.2 539.9h0M297.1 537.6h0M297.1 534.3h0M296.9 550.6h0M297.5 546.0h0M296.3 528.3h0M298.4 542.1h0M296.2 534.5h0M296.7 545.0h0M296.6 527.6h0M297.3 530.4h0M295.5 536.5h0M295.0 538.0h0M296.7 552.4h0M299.2 525.6h0M298.0 534.9h0M296.8 542.0h0M296.8 537.5h0M297.9 547.6h0M296.6 532.5h0M295.9 533.7h0M298.8 540.8h0M298.3 538.8h0M297.1 526.3h0M295.7 542.8h0M296.0 529.2h0M296.5 551.4h0M297.3 538.6h0M295.3 528.1h0M294.8 552.4h0M297.1 544.3h0M295.0 536.9h0M299.4 536.0h0M299.6 526.7h0M296.3 540.7h0M298.1 533.6h0M294.8 528.0h0M294.7 523.2h0M297.6 538.2h0M298.8 532.8h0M297.2 532.5h0M298.1 539.6h0M296.1 530.0h0M296.3 535.1h0M299.6 532.0h0M296.8 537.7h0M295.9 540.7h0M297.0 527.7h0M298.1 531.3h0M297.9 531.2h0M297.2 535.0h0M298.1 529.9h0M296.4 525.9h0M298.0 537.4h0M297.4 546.1h0M298.7 541.7h0M297.7 534.8h0M296.0 539.1h0M297.1 541.1h0M296.6 542.3h0M299.7 537.2h0M299.4 531.2h0M295.8 542.4h0M299.7 533.6h0M295.4 530.2h0M297.8 536.4h0M299.6 528.8h0M298.7 539.0h0M295.7 533.6h0M295.4 542.4h0M299.5 534.1h0M299.7 533.1h0M295.0 531.4h0M298.5 537.0h0M296.6 535.5h0M299.1 530.6h0M297.1 536.6h0M295.1 544.6h0M297.9 543.9h0M299.1 541.5h0M295.7 548.4h0M295.4 542.7h0M295.9 543.0h0M296.5 549.9h0M299.6 548.7h0M296.6 535.0h0M296.9 546.4h0M297.9 538.9h0M298.7 539.9h0M296.3 543.5h0M297.7 528.0h0M297.3 542.1h0M296.8 548.3h0M295.6 542.9h0M298.1 532.7h0M299.7 537.5h0M298.0 533.2h0M298.5 540.1h0" stroke="#86c982" stroke-opacity="0.55" stroke-width="0.9" stroke-linecap="round" fill="none"/>
<path d="M260.4,540.4 L279.2,542.4 L297.3,537.4" fill="none" stroke="#000" stroke-width="1.8" stroke-linecap="round" stroke-dasharray="0 4.3"/>
<line x1="260.4" y1="524.8" x2="260.4" y2="534.9" stroke="#000" stroke-width="0.7"/>
<line x1="260.4" y1="546.9" x2="260.4" y2="557.7" stroke="#000" stroke-width="0.7"/>
<line x1="259.3" y1="524.8" x2="261.5" y2="524.8" stroke="#000" stroke-width="0.7"/>
<line x1="259.3" y1="557.7" x2="261.5" y2="557.7" stroke="#000" stroke-width="0.7"/>
<rect x="258.9" y="534.9" width="3.0" height="12.0" fill="none" stroke="#000" stroke-width="0.7"/>
<circle cx="260.4" cy="540.4" r="2.8" fill="#000"/>
<path d="M260.4,498.3L261.7,499.9L260.4,501.5L259.1,499.9ZM260.4,522.2L261.7,523.8L260.4,525.4L259.1,523.8ZM260.4,520.8L261.7,522.4L260.4,524.0L259.1,522.4ZM260.4,519.5L261.7,521.1L260.4,522.7L259.1,521.1ZM260.4,518.1L261.7,519.8L260.4,521.4L259.1,519.8ZM260.4,516.8L261.7,518.4L260.4,520.0L259.1,518.4ZM260.4,515.4L261.7,517.0L260.4,518.6L259.1,517.0ZM260.4,514.1L261.7,515.7L260.4,517.3L259.1,515.7ZM260.4,512.7L261.7,514.3L260.4,515.9L259.1,514.3ZM260.4,511.4L261.7,513.0L260.4,514.6L259.1,513.0ZM260.4,510.0L261.7,511.6L260.4,513.2L259.1,511.6ZM260.4,508.7L261.7,510.3L260.4,511.9L259.1,510.3ZM260.4,507.3L261.7,508.9L260.4,510.5L259.1,508.9ZM260.4,506.0L261.7,507.6L260.4,509.2L259.1,507.6Z" fill="#000"/>
<line x1="279.2" y1="525.4" x2="279.2" y2="536.9" stroke="#000" stroke-width="0.7"/>
<line x1="279.2" y1="548.9" x2="279.2" y2="557.7" stroke="#000" stroke-width="0.7"/>
<line x1="278.1" y1="525.4" x2="280.3" y2="525.4" stroke="#000" stroke-width="0.7"/>
<line x1="278.1" y1="557.7" x2="280.3" y2="557.7" stroke="#000" stroke-width="0.7"/>
<rect x="277.7" y="536.9" width="3.0" height="12.0" fill="none" stroke="#000" stroke-width="0.7"/>
<circle cx="279.2" cy="542.4" r="2.8" fill="#000"/>
<path d="M279.2,516.2L280.4,517.7L279.2,519.1L278.0,517.7ZM279.2,522.9L280.4,524.4L279.2,525.9L278.0,524.4ZM279.2,521.1L280.4,522.6L279.2,524.1L278.0,522.6Z" fill="#000"/>
<line x1="297.3" y1="520.1" x2="297.3" y2="531.9" stroke="#000" stroke-width="0.7"/>
<line x1="297.3" y1="543.9" x2="297.3" y2="553.1" stroke="#000" stroke-width="0.7"/>
<line x1="296.2" y1="520.1" x2="298.4" y2="520.1" stroke="#000" stroke-width="0.7"/>
<line x1="296.2" y1="553.1" x2="298.4" y2="553.1" stroke="#000" stroke-width="0.7"/>
<rect x="295.8" y="531.9" width="3.0" height="12.0" fill="#fff" stroke="#000" stroke-width="0.7"/>
<circle cx="297.3" cy="537.4" r="2.8" fill="#000"/>
<path d="M297.3,511.3L298.5,512.7L297.3,514.2L296.1,512.7ZM297.3,517.6L298.5,519.1L297.3,520.5L296.1,519.1Z" fill="#000"/>
<text x="383.8" y="483.6" font-size="7.65" font-weight="bold" text-anchor="middle" fill="#111">Corrected for</text>
<text x="383.8" y="491.8" font-size="7.65" font-weight="bold" text-anchor="middle" fill="#111">non-linear age effects</text>
<line x1="354.3" y1="496.4" x2="354.3" y2="560.8" stroke="#222" stroke-width="0.8"/>
<line x1="353.9" y1="560.4" x2="414.3" y2="560.4" stroke="#222" stroke-width="0.8"/>
<text x="349.7" y="515.4" font-size="6.95" text-anchor="end" fill="#4d4d4d">1500</text>
<text x="349.7" y="533.5" font-size="6.95" text-anchor="end" fill="#4d4d4d">1000</text>
<text x="349.7" y="551.3" font-size="6.95" text-anchor="end" fill="#4d4d4d">500</text>
<text x="330.5" y="528.6" font-size="7.3" font-weight="bold" text-anchor="middle" fill="#111" transform="rotate(-90 330.5 528.6)">Number of streamlines</text>
<text x="364.7" y="570.0" font-size="5.7" font-weight="bold" text-anchor="middle" fill="#111">HC</text>
<text x="383.6" y="570.0" font-size="5.7" font-weight="bold" text-anchor="middle" fill="#111">MDD</text>
<text x="407.9" y="570.0" font-size="5.7" font-weight="bold" text-anchor="middle" fill="#111">MDD+ANX</text>
<path d="M366.0,499.2 L366.0,499.2 L365.5,500.7 L365.5,502.1 L365.5,503.6 L365.5,505.0 L365.5,506.5 L365.5,508.0 L365.5,509.4 L365.5,510.9 L365.5,512.4 L365.5,513.8 L365.5,515.3 L365.5,516.8 L365.5,518.2 L365.5,519.7 L365.5,521.1 L365.5,522.6 L365.5,524.1 L365.5,525.5 L365.5,527.0 L365.3,528.4 L365.1,529.9 L364.7,531.4 L364.2,532.8 L363.6,534.3 L362.8,535.8 L361.8,537.2 L360.7,538.7 L359.7,540.1 L359.2,541.6 L359.3,543.1 L359.7,544.5 L360.3,546.0 L361.1,547.5 L362.0,548.9 L362.9,550.4 L363.6,551.8 L364.3,553.3 L364.8,554.8 L365.3,556.2 L366.0,557.7 L366.0,557.7 Z" fill="#3e5a80" stroke="#222" stroke-width="0.55"/>
<path d="M369.6 534.0h0M366.6 536.2h0M367.0 538.5h0M366.3 545.8h0M370.5 537.5h0M366.1 526.8h0M369.0 536.3h0M368.5 539.2h0M369.9 539.1h0M371.0 542.3h0M368.0 543.3h0M371.0 549.5h0M369.9 544.0h0M368.3 550.3h0M370.4 551.0h0M368.8 540.9h0M369.2 541.6h0M370.6 530.5h0M366.6 552.5h0M367.0 539.1h0M368.3 538.2h0M368.3 551.2h0M369.9 545.6h0M369.9 551.3h0M367.1 551.2h0M370.7 532.3h0M369.6 541.0h0M370.4 538.8h0M369.8 531.5h0M367.4 540.2h0M370.4 540.9h0M366.7 548.9h0M366.7 545.3h0M366.2 529.8h0M369.3 549.9h0M368.1 545.6h0M370.1 531.1h0M368.1 532.8h0M367.8 530.2h0M370.9 548.3h0M368.7 527.6h0M369.5 543.1h0M366.2 539.1h0M368.1 524.8h0M369.4 542.9h0M366.4 534.3h0M369.5 544.4h0M367.2 544.9h0M366.9 544.9h0M369.9 543.9h0M367.9 532.7h0M369.3 533.4h0M370.3 532.5h0M368.5 536.3h0M366.0 538.6h0M369.8 529.2h0M369.0 542.3h0M368.2 544.0h0M369.3 543.1h0M366.5 545.9h0M369.3 539.7h0M366.8 529.1h0M368.6 537.0h0M367.7 537.1h0M371.1 542.1h0M370.6 554.1h0M371.1 545.6h0M369.2 546.4h0M369.8 550.6h0M369.4 543.6h0M369.1 547.1h0M369.3 536.4h0M370.7 543.9h0M367.0 541.5h0M370.1 534.0h0M370.6 536.5h0M370.8 551.4h0M368.3 526.6h0M366.7 548.5h0M368.5 540.4h0M367.1 548.3h0M369.4 532.2h0M367.1 543.1h0M366.0 537.3h0M369.9 529.2h0M367.6 548.6h0M368.8 535.5h0M370.7 533.1h0M368.7 543.0h0M368.3 532.8h0M369.2 536.0h0M370.7 545.1h0M367.4 534.4h0M367.3 538.3h0M369.5 544.2h0M369.1 545.4h0M370.3 541.2h0M366.5 539.0h0M367.2 548.3h0M367.8 542.4h0M369.2 548.6h0M368.0 539.2h0M370.7 533.0h0M370.9 535.9h0M369.4 540.2h0M367.6 550.0h0M369.9 546.3h0M367.8 533.2h0M368.9 551.7h0M368.9 536.1h0M366.7 539.4h0M366.3 543.6h0M370.2 535.2h0M370.6 541.7h0M366.6 538.1h0M370.9 543.8h0M367.9 532.1h0M369.4 548.8h0M366.1 547.8h0M369.3 537.5h0M369.4 544.6h0M370.6 535.1h0M369.6 543.6h0M366.3 543.2h0M367.1 540.4h0M369.2 525.8h0M369.6 541.8h0M370.2 546.5h0M368.5 545.0h0M370.1 548.9h0M367.7 528.3h0M370.2 537.7h0M368.4 540.0h0M368.4 545.5h0M370.6 552.3h0M366.4 539.5h0M367.0 540.5h0M371.1 533.9h0M368.5 532.7h0M369.1 537.3h0M366.2 540.5h0M366.4 529.3h0M369.4 546.7h0M370.3 552.3h0M367.9 541.6h0M369.4 534.2h0M367.2 546.3h0M370.4 550.7h0M370.4 539.8h0M369.3 552.0h0M367.6 543.3h0M366.5 546.1h0M370.7 537.5h0M368.5 533.0h0M368.9 549.0h0M370.2 546.4h0M366.4 546.3h0M369.8 551.5h0M368.6 551.1h0M366.7 534.5h0M369.9 543.0h0M369.8 541.9h0M370.8 538.6h0M367.1 542.1h0M367.3 539.8h0M369.2 534.0h0M370.9 534.4h0M370.9 543.6h0M369.0 543.7h0M370.7 549.5h0M369.2 536.1h0M366.3 533.2h0M368.9 545.7h0M368.0 546.8h0M370.5 544.5h0M368.2 539.1h0M370.0 544.7h0M368.3 539.5h0M366.2 533.1h0M368.1 531.4h0M366.0 535.3h0M368.0 534.5h0M367.3 537.2h0M370.9 551.8h0M367.7 534.0h0M370.4 540.7h0M369.8 538.7h0M370.5 544.0h0M369.7 534.2h0M370.8 541.0h0M368.7 553.4h0M368.3 549.5h0M369.8 549.9h0M369.1 535.5h0M368.8 533.4h0M368.2 555.1h0M367.4 542.0h0M367.8 545.8h0M367.3 536.6h0M366.1 543.7h0M370.2 543.4h0M367.0 538.9h0M367.4 542.6h0M368.6 549.1h0M367.8 552.6h0M370.8 531.6h0M370.2 544.2h0M366.8 529.8h0M370.9 529.4h0M371.0 541.6h0M367.4 548.5h0M371.1 541.4h0M367.6 553.4h0M369.0 542.2h0M366.1 549.9h0M366.6 552.1h0M366.0 535.2h0M366.2 531.4h0M371.2 533.6h0M367.0 545.7h0M366.0 542.6h0M370.0 531.2h0M366.9 550.3h0M366.5 541.7h0M370.4 554.4h0M369.9 547.1h0M366.3 543.0h0M367.6 547.3h0M366.3 539.1h0M370.2 542.5h0M368.5 535.8h0M369.0 552.7h0M367.4 536.1h0M367.9 542.1h0M369.6 543.8h0M367.6 541.7h0M370.6 549.0h0M371.0 540.5h0M366.9 547.6h0M367.1 542.4h0M368.2 543.4h0M370.4 541.2h0M366.3 535.7h0M368.6 553.9h0M370.0 548.3h0M368.1 548.2h0M368.4 534.8h0M369.7 538.1h0M367.4 547.6h0M370.6 543.4h0M366.9 545.2h0M367.9 528.1h0M366.3 539.6h0M371.1 544.3h0M368.7 556.8h0M369.7 553.2h0M368.7 539.9h0M371.1 545.9h0M366.6 540.6h0M367.4 527.4h0M370.4 534.7h0M366.1 546.3h0M366.0 550.5h0M367.6 537.6h0M366.1 549.5h0M368.2 539.4h0M371.0 545.7h0M369.6 533.8h0M368.2 538.5h0M370.4 536.1h0M367.8 543.8h0M368.4 532.4h0M370.8 543.3h0M370.6 542.2h0M366.5 546.4h0M369.1 545.1h0M370.2 551.9h0M370.0 531.9h0M368.3 536.3h0M369.4 552.4h0M367.2 531.0h0M370.4 541.0h0M369.2 542.9h0M369.0 542.3h0M369.0 545.1h0M370.2 536.8h0M370.0 544.3h0M367.6 542.5h0M370.7 540.2h0M369.1 545.0h0M368.0 541.4h0M367.6 551.3h0M369.3 548.9h0M366.3 543.6h0M368.6 540.8h0M366.2 537.4h0M368.8 538.9h0M368.5 552.1h0M367.2 542.8h0M370.3 546.1h0M371.2 538.6h0M367.8 532.6h0M366.8 532.7h0M370.1 531.4h0M366.1 537.4h0M369.8 531.7h0M368.7 536.0h0M366.8 546.5h0M368.9 544.6h0M371.0 541.1h0M370.4 542.7h0M367.0 537.0h0M366.6 535.6h0M370.3 529.0h0M368.8 547.8h0M367.3 536.3h0M366.5 544.2h0M367.6 536.7h0M370.6 540.7h0M367.2 539.0h0M368.4 542.5h0M370.2 527.0h0M367.9 543.9h0M367.4 540.1h0M370.3 549.6h0M367.9 542.7h0M370.8 546.8h0M370.6 538.8h0M367.8 546.6h0M367.0 541.9h0M366.0 534.4h0M367.6 538.3h0M369.1 545.1h0M366.2 542.5h0M369.1 543.4h0M369.2 535.9h0M368.7 543.6h0M370.9 526.1h0M368.6 546.2h0M367.0 538.2h0M366.4 553.7h0M366.5 544.3h0M367.1 545.3h0M371.1 550.9h0M366.4 536.4h0M366.9 551.7h0M366.9 536.2h0M366.5 539.9h0M370.3 537.2h0M371.1 526.7h0M369.7 555.9h0M367.6 538.9h0M366.5 540.4h0M368.5 546.5h0M368.6 546.8h0M366.8 543.8h0M370.5 535.1h0M366.6 527.2h0M366.3 534.8h0M368.9 538.6h0M368.8 546.9h0M368.3 541.8h0M369.8 551.6h0M368.9 542.5h0M370.8 540.1h0M368.1 546.0h0M366.5 544.4h0M366.9 543.0h0M368.8 545.2h0M368.7 543.7h0M367.7 540.4h0M370.3 557.6h0M368.4 544.7h0M369.5 538.4h0M368.1 547.1h0M367.4 534.9h0M369.5 545.0h0M370.3 537.6h0M367.3 538.1h0M369.9 548.4h0M370.7 547.6h0M368.8 549.7h0M366.7 536.3h0M366.4 529.3h0M367.9 533.1h0M367.2 535.1h0M368.1 543.8h0M366.9 554.9h0M366.5 538.3h0M369.0 533.7h0M367.3 542.3h0M367.4 544.0h0M366.6 550.4h0M367.4 551.0h0M370.7 534.0h0M369.6 536.9h0M369.8 538.1h0M370.2 535.0h0M368.4 543.1h0M367.1 536.0h0M369.5 542.0h0M366.7 547.8h0M367.2 550.3h0M366.5 545.0h0M370.7 543.9h0M370.1 552.8h0M366.5 546.2h0M370.2 531.4h0M368.3 536.2h0M368.9 545.2h0M367.9 541.4h0M370.8 539.4h0M370.4 554.1h0M370.3 548.5h0M371.2 542.8h0M369.1 554.7h0M367.8 544.1h0M369.6 557.0h0M368.6 537.0h0M370.4 538.4h0M366.1 547.5h0M369.9 550.1h0M370.2 546.4h0M369.4 532.2h0M367.9 544.3h0M366.5 539.3h0M370.0 540.6h0M369.2 550.7h0M368.7 536.6h0M370.5 546.8h0M369.1 533.3h0M370.2 541.3h0M369.1 548.0h0M371.0 537.9h0M368.7 548.1h0M371.0 543.6h0M370.3 545.3h0M368.1 538.0h0M366.7 553.1h0M366.5 546.2h0M367.1 532.9h0M371.0 539.1h0M368.4 538.1h0M369.8 541.7h0M366.8 549.1h0M366.2 544.1h0M368.7 539.8h0M369.4 527.8h0M366.2 533.4h0M369.2 540.6h0M367.5 535.9h0M370.6 527.5h0M366.4 537.2h0M367.7 546.2h0M368.0 545.8h0M366.1 539.8h0M370.3 541.3h0M367.2 542.8h0M366.3 537.8h0M366.1 540.5h0M370.7 538.0h0M366.4 545.1h0M366.9 533.5h0M366.6 547.3h0M367.4 551.2h0M370.6 546.3h0M368.3 537.5h0M367.4 543.4h0M367.9 538.3h0M367.8 540.8h0M370.4 534.8h0M366.8 546.6h0M367.7 544.7h0M369.4 539.1h0M368.0 552.6h0M366.8 543.2h0M368.5 543.8h0M370.7 531.0h0M368.3 542.0h0M369.9 544.2h0" stroke="#4a6ca6" stroke-opacity="0.55" stroke-width="0.9" stroke-linecap="round" fill="none"/>
<path d="M384.1,513.2 L384.1,513.2 L383.7,514.3 L383.6,515.4 L383.6,516.5 L383.6,517.6 L383.6,518.8 L383.6,519.9 L383.6,521.0 L383.6,522.1 L383.6,523.2 L383.6,524.3 L383.6,525.4 L383.6,526.5 L383.6,527.7 L383.6,528.8 L383.5,529.9 L383.4,531.0 L383.2,532.1 L382.9,533.2 L382.5,534.3 L382.1,535.4 L381.6,536.6 L380.9,537.7 L380.2,538.8 L379.5,539.9 L378.8,541.0 L378.4,542.1 L378.4,543.2 L378.6,544.3 L378.9,545.5 L379.4,546.6 L379.9,547.7 L380.5,548.8 L381.0,549.9 L381.6,551.0 L382.1,552.1 L382.6,553.2 L383.0,554.4 L383.3,555.5 L383.7,556.6 L384.1,557.7 L384.1,557.7 Z" fill="#db8233" stroke="#222" stroke-width="0.55"/>
<path d="M385.0 544.9h0M388.2 535.0h0M388.7 539.4h0M387.8 539.7h0M388.5 543.8h0M384.8 540.9h0M389.2 540.2h0M387.6 547.5h0M385.0 531.0h0M387.2 538.5h0M388.0 533.1h0M387.3 527.1h0M388.9 539.3h0M386.0 551.3h0M387.5 553.7h0M388.0 547.3h0M386.9 528.8h0M387.6 538.6h0M384.7 541.2h0M388.8 536.5h0M387.0 544.2h0M387.3 541.7h0M388.2 533.8h0M386.1 537.0h0M388.1 556.9h0M387.8 537.3h0M388.1 551.9h0M387.2 541.2h0M386.7 542.8h0M387.5 553.8h0M385.3 541.6h0M384.8 534.1h0M388.9 536.9h0M386.5 542.6h0M385.2 546.2h0M388.5 544.8h0M384.5 549.3h0M388.6 543.2h0M384.5 542.4h0M386.5 542.2h0M387.2 538.8h0M387.5 531.9h0M384.9 547.1h0M385.1 537.7h0M385.5 538.9h0M387.6 539.6h0M386.8 545.3h0M384.2 534.4h0M388.3 546.8h0M384.4 535.7h0M386.0 552.2h0M387.9 553.9h0M384.5 533.0h0M387.7 532.1h0M385.0 544.4h0M386.0 545.3h0M389.3 539.2h0M388.9 547.4h0M388.8 550.0h0M388.3 534.5h0M386.7 542.2h0M384.3 537.7h0M384.2 537.4h0M385.6 550.3h0M385.4 546.3h0M388.6 549.5h0M387.4 539.3h0M388.8 540.3h0M387.0 540.9h0M388.1 539.5h0M384.5 547.6h0M386.8 537.4h0M387.2 547.5h0M385.7 546.0h0M385.4 530.2h0M384.7 532.1h0M387.4 534.0h0M388.3 538.7h0M384.3 550.2h0M388.9 537.7h0M388.1 544.5h0M385.1 539.3h0M388.7 545.5h0M389.2 531.9h0M388.1 540.9h0M389.0 530.5h0M388.8 539.9h0M388.4 535.7h0M385.0 529.7h0M384.4 536.1h0M385.6 546.2h0M388.7 546.8h0M387.5 539.3h0M386.2 538.2h0M388.7 548.9h0M387.8 534.8h0M388.7 534.8h0M388.6 532.6h0M387.8 550.0h0M384.3 551.0h0M388.5 535.6h0M387.1 539.4h0M388.6 537.7h0M384.1 531.1h0M384.8 550.9h0M384.5 536.8h0M387.6 539.5h0M389.2 533.7h0M384.6 547.0h0M386.0 543.5h0M388.5 541.5h0M389.1 541.4h0M385.9 536.9h0M388.2 543.9h0M388.4 529.4h0M386.6 533.0h0M389.2 544.5h0M387.1 529.6h0M384.8 535.4h0M384.2 546.9h0M386.0 545.3h0M385.4 538.4h0M389.0 530.5h0M387.8 540.1h0M389.3 539.3h0M384.9 539.9h0M388.0 551.3h0M384.2 533.4h0M384.4 540.7h0M386.3 542.6h0M387.3 549.8h0M388.7 534.4h0M384.4 530.5h0M388.2 536.1h0M388.3 543.8h0M387.2 536.8h0M384.5 539.0h0M387.0 550.5h0M387.1 531.5h0M386.3 532.4h0M385.7 541.1h0M387.3 544.5h0M386.8 547.4h0M386.4 548.9h0M386.1 544.7h0M386.1 550.4h0M388.1 540.1h0M388.0 548.1h0M385.8 534.8h0M385.2 535.9h0M384.6 546.3h0M386.8 550.1h0M386.5 535.1h0M387.3 533.4h0M388.2 542.0h0M387.3 548.5h0M389.0 538.7h0M387.4 542.6h0M384.5 538.0h0M384.9 546.3h0M385.9 539.8h0M385.9 534.3h0M384.1 544.3h0M389.3 553.9h0M389.3 543.0h0M388.7 543.1h0M386.0 544.6h0M389.2 549.3h0M388.7 550.6h0M386.4 538.2h0M386.2 537.1h0M384.2 547.2h0M387.6 533.8h0M385.1 544.5h0M387.5 544.4h0M387.4 538.3h0M388.9 549.7h0M386.6 543.7h0M385.1 548.4h0M386.2 539.8h0M387.9 546.4h0M385.5 538.9h0M387.9 544.2h0M385.2 542.9h0M389.1 538.4h0M388.5 540.3h0M385.8 535.8h0M387.4 539.5h0M385.6 539.6h0M387.9 541.3h0M385.5 529.7h0M387.0 543.1h0M387.9 529.3h0M388.3 545.5h0M385.0 549.4h0M388.7 552.1h0M385.0 541.3h0M384.2 543.0h0M388.1 540.1h0M385.2 544.3h0M384.4 549.2h0M389.1 527.9h0M389.0 536.2h0M384.6 549.2h0M389.3 555.6h0M386.0 555.3h0M385.5 543.4h0M384.4 526.7h0M385.7 533.8h0M386.2 535.6h0M384.5 549.0h0M384.5 537.3h0M384.2 530.6h0M385.3 536.6h0M385.4 531.1h0M388.7 549.3h0M389.1 538.1h0M387.4 540.4h0M387.7 538.8h0M384.7 546.4h0M386.7 549.9h0M387.1 539.6h0M389.1 536.6h0M386.8 531.4h0M385.6 541.4h0M385.4 535.6h0M385.4 544.2h0M387.4 539.3h0M388.1 541.1h0M388.9 545.1h0M384.3 546.6h0M384.8 539.6h0M386.7 543.6h0M385.6 543.7h0M389.1 549.9h0M386.4 540.3h0M388.5 536.6h0M388.8 545.5h0M387.1 535.3h0M389.1 551.3h0M389.0 541.1h0M387.3 533.4h0M389.2 528.4h0M389.0 542.1h0M384.6 555.5h0M386.2 548.4h0M385.4 546.4h0M388.2 539.7h0M387.3 550.8h0M386.7 547.4h0M386.0 529.2h0M388.7 549.9h0M387.5 535.5h0M386.7 539.2h0M385.6 542.6h0M387.7 534.1h0M387.6 542.0h0M386.4 554.4h0M385.7 536.1h0M386.5 541.3h0M388.7 534.1h0M387.1 556.6h0M387.3 535.8h0M388.8 549.7h0M384.5 541.7h0M387.7 539.1h0M388.5 543.2h0M388.8 547.6h0M386.3 533.2h0M387.6 544.7h0M386.0 545.0h0M387.3 547.1h0M385.5 551.4h0M388.7 542.8h0M388.1 541.9h0M387.9 540.1h0M386.6 538.2h0M388.9 534.6h0M387.7 542.1h0M387.1 533.8h0M386.2 541.5h0M384.1 548.7h0M386.6 553.9h0M387.2 535.8h0M385.7 540.8h0M385.4 538.6h0M389.2 554.5h0M387.6 539.3h0M387.1 547.5h0M388.3 555.2h0M384.9 547.4h0M387.9 547.4h0M386.5 551.0h0M386.6 552.1h0M386.2 540.1h0M387.5 538.5h0M388.0 548.8h0M385.3 527.5h0M386.3 549.8h0M389.0 538.1h0M384.1 545.2h0M389.0 544.0h0M387.7 556.8h0M384.7 529.5h0M384.4 538.5h0M384.9 534.6h0M387.0 533.8h0M388.9 536.6h0M387.5 532.8h0M387.7 540.5h0M389.2 539.1h0M388.7 543.2h0M386.5 538.4h0M386.8 538.4h0M385.9 541.7h0M384.8 528.6h0M387.1 551.4h0M386.5 543.7h0M384.9 540.7h0M389.2 541.2h0M388.8 531.5h0M388.1 535.7h0M385.6 534.8h0M386.3 546.9h0M386.4 543.1h0M386.9 541.3h0M386.2 548.0h0M384.7 556.5h0M385.1 540.9h0M386.1 535.2h0M387.3 540.8h0M389.3 547.3h0M384.9 549.3h0M386.3 539.0h0M387.7 538.0h0M387.0 553.9h0M386.4 546.7h0M388.8 548.4h0M384.4 531.9h0M389.1 545.8h0M386.0 542.5h0M385.8 542.3h0M386.0 534.1h0M386.2 540.4h0M388.6 552.2h0M385.2 536.2h0M387.3 549.6h0M387.8 549.1h0M386.7 550.1h0M385.2 550.2h0M384.7 537.6h0M385.6 542.3h0M388.2 531.5h0M386.7 533.7h0M386.2 539.0h0M385.5 540.4h0M385.9 535.9h0M385.2 536.9h0M386.2 536.7h0M385.6 538.9h0" stroke="#e8913f" stroke-opacity="0.55" stroke-width="0.9" stroke-linecap="round" fill="none"/>
<path d="M402.5,498.9 L402.5,498.9 L402.0,500.3 L402.0,501.6 L402.0,503.0 L402.0,504.4 L402.0,505.8 L402.0,507.1 L402.0,508.5 L402.0,509.9 L402.0,511.3 L402.0,512.6 L402.0,514.0 L402.0,515.4 L402.0,516.8 L402.0,518.1 L401.9,519.5 L401.8,520.9 L401.6,522.3 L401.4,523.6 L401.1,525.0 L400.8,526.4 L400.4,527.8 L399.9,529.1 L399.4,530.5 L398.8,531.9 L398.1,533.3 L397.3,534.6 L396.6,536.0 L396.1,537.4 L395.7,538.8 L395.7,540.1 L396.1,541.5 L396.7,542.9 L397.5,544.3 L398.3,545.6 L399.2,547.0 L400.0,548.4 L400.7,549.8 L401.3,551.1 L401.8,552.5 L402.5,553.9 L402.5,553.9 Z" fill="#67aa60" stroke="#222" stroke-width="0.55"/>
<path d="M407.5 539.5h0M406.9 523.0h0M407.7 537.7h0M405.6 540.7h0M403.8 540.8h0M405.1 542.3h0M404.8 546.7h0M406.2 529.2h0M405.2 533.6h0M402.6 518.3h0M402.9 535.7h0M405.8 539.5h0M403.5 534.8h0M402.6 541.1h0M405.7 547.6h0M406.4 537.4h0M403.4 541.7h0M406.1 538.4h0M406.6 531.5h0M404.1 543.3h0M404.0 539.2h0M406.0 532.1h0M403.5 533.6h0M406.3 546.5h0M403.8 535.3h0M403.9 527.4h0M407.6 534.2h0M406.9 548.5h0M405.7 537.3h0M404.6 537.3h0M407.4 538.5h0M406.2 540.1h0M403.1 545.0h0M404.7 531.9h0M407.2 525.4h0M403.4 538.8h0M405.8 537.0h0M403.6 526.5h0M407.4 534.4h0M404.1 531.0h0M402.5 527.4h0M402.7 531.0h0M403.6 542.0h0M406.9 547.0h0M403.9 532.9h0M407.6 542.3h0M404.4 545.5h0M405.3 542.3h0M405.9 543.9h0M406.1 537.6h0M405.9 533.4h0M406.1 535.5h0M405.7 530.9h0M406.4 531.4h0M405.4 545.9h0M406.9 541.5h0M404.2 551.0h0M407.5 539.1h0M404.2 539.6h0M407.1 544.4h0M406.5 542.5h0M407.3 539.1h0M405.7 550.9h0M406.0 544.5h0M407.0 526.0h0M402.8 542.5h0M402.9 527.6h0M407.3 541.8h0M405.5 514.7h0M406.2 545.8h0M406.0 531.4h0M406.4 536.6h0M403.3 539.5h0M405.7 530.7h0M403.0 542.4h0M406.7 544.4h0M407.1 551.8h0M405.3 548.0h0M404.4 530.7h0M405.3 544.7h0M404.0 534.5h0M407.0 539.5h0M402.7 549.5h0M406.5 536.8h0M404.7 548.5h0M404.7 536.5h0M405.9 534.1h0M405.9 543.4h0M404.9 529.7h0M407.0 546.9h0M404.4 546.7h0M403.6 546.4h0M403.5 540.4h0M406.6 531.4h0M403.1 547.7h0M402.5 543.4h0M403.1 529.4h0M407.4 547.6h0M404.8 543.3h0M404.1 540.6h0M403.5 538.3h0M407.4 535.8h0M407.0 533.7h0M406.9 540.2h0M403.5 538.3h0M407.4 534.0h0M404.5 533.4h0M404.3 530.5h0M402.6 540.3h0M404.2 528.5h0M405.3 546.7h0M406.4 535.1h0M403.6 537.2h0M405.7 535.7h0M405.2 535.2h0M405.7 541.9h0M404.6 540.8h0M407.6 536.7h0M406.5 538.3h0M404.5 538.9h0M404.0 541.0h0M406.2 534.9h0M406.5 536.2h0M406.0 530.9h0M402.8 545.8h0M405.0 532.7h0M406.6 544.3h0M405.1 545.3h0M405.7 541.5h0M405.7 534.5h0M403.3 537.4h0M407.4 535.3h0M404.8 527.6h0M403.4 536.6h0M403.1 548.3h0M405.7 533.1h0M402.7 541.9h0M403.0 550.0h0M402.6 531.9h0M405.9 528.0h0M404.5 536.0h0M404.6 533.3h0M404.4 542.3h0M405.1 546.8h0M404.5 529.0h0M403.8 542.1h0M406.0 531.0h0M406.4 539.9h0M404.9 540.6h0M402.8 528.4h0M407.5 530.6h0M403.3 531.0h0M405.8 544.1h0M406.0 544.3h0M403.5 545.4h0M405.8 549.5h0M403.1 536.9h0M407.1 537.9h0M406.5 549.2h0M406.8 531.3h0M402.5 532.8h0M404.2 549.8h0M407.1 544.0h0M407.4 541.3h0M406.5 540.3h0M404.5 540.6h0M403.8 543.0h0M405.7 544.0h0M407.4 535.6h0M405.5 534.5h0" stroke="#86c982" stroke-opacity="0.55" stroke-width="0.9" stroke-linecap="round" fill="none"/>
<path d="M368.6,539.9 L386.7,542.6 L405.1,537.4" fill="none" stroke="#000" stroke-width="1.8" stroke-linecap="round" stroke-dasharray="0 4.3"/>
<line x1="368.6" y1="524.8" x2="368.6" y2="534.4" stroke="#000" stroke-width="0.7"/>
<line x1="368.6" y1="546.4" x2="368.6" y2="557.7" stroke="#000" stroke-width="0.7"/>
<line x1="367.5" y1="524.8" x2="369.7" y2="524.8" stroke="#000" stroke-width="0.7"/>
<line x1="367.5" y1="557.7" x2="369.7" y2="557.7" stroke="#000" stroke-width="0.7"/>
<rect x="367.1" y="534.4" width="3.0" height="12.0" fill="none" stroke="#000" stroke-width="0.7"/>
<circle cx="368.6" cy="539.9" r="2.8" fill="#000"/>
<path d="M368.6,498.6L369.9,500.2L368.6,501.8L367.3,500.2ZM368.6,522.2L369.9,523.8L368.6,525.4L367.3,523.8ZM368.6,520.8L369.9,522.4L368.6,524.0L367.3,522.4ZM368.6,519.5L369.9,521.1L368.6,522.7L367.3,521.1ZM368.6,518.1L369.9,519.8L368.6,521.4L367.3,519.8ZM368.6,516.8L369.9,518.4L368.6,520.0L367.3,518.4ZM368.6,515.4L369.9,517.0L368.6,518.6L367.3,517.0ZM368.6,514.1L369.9,515.7L368.6,517.3L367.3,515.7ZM368.6,512.7L369.9,514.3L368.6,515.9L367.3,514.3ZM368.6,511.4L369.9,513.0L368.6,514.6L367.3,513.0ZM368.6,510.0L369.9,511.6L368.6,513.2L367.3,511.6ZM368.6,508.7L369.9,510.3L368.6,511.9L367.3,510.3ZM368.6,507.3L369.9,508.9L368.6,510.5L367.3,508.9ZM368.6,506.0L369.9,507.6L368.6,509.2L367.3,507.6Z" fill="#000"/>
<line x1="386.7" y1="525.6" x2="386.7" y2="537.1" stroke="#000" stroke-width="0.7"/>
<line x1="386.7" y1="549.1" x2="386.7" y2="557.7" stroke="#000" stroke-width="0.7"/>
<line x1="385.6" y1="525.6" x2="387.8" y2="525.6" stroke="#000" stroke-width="0.7"/>
<line x1="385.6" y1="557.7" x2="387.8" y2="557.7" stroke="#000" stroke-width="0.7"/>
<rect x="385.2" y="537.1" width="3.0" height="12.0" fill="none" stroke="#000" stroke-width="0.7"/>
<circle cx="386.7" cy="542.6" r="2.8" fill="#000"/>
<path d="M386.7,512.7L387.9,514.2L386.7,515.6L385.5,514.2ZM386.7,523.1L387.9,524.6L386.7,526.1L385.5,524.6ZM386.7,521.4L387.9,522.8L386.7,524.3L385.5,522.8ZM386.7,519.5L387.9,521.0L386.7,522.5L385.5,521.0ZM386.7,517.8L387.9,519.2L386.7,520.7L385.5,519.2Z" fill="#000"/>
<line x1="405.1" y1="511.0" x2="405.1" y2="531.9" stroke="#000" stroke-width="0.7"/>
<line x1="405.1" y1="543.9" x2="405.1" y2="553.9" stroke="#000" stroke-width="0.7"/>
<line x1="404.0" y1="511.0" x2="406.2" y2="511.0" stroke="#000" stroke-width="0.7"/>
<line x1="404.0" y1="553.9" x2="406.2" y2="553.9" stroke="#000" stroke-width="0.7"/>
<rect x="403.6" y="531.9" width="3.0" height="12.0" fill="#fff" stroke="#000" stroke-width="0.7"/>
<circle cx="405.1" cy="537.4" r="2.8" fill="#000"/>
<path d="M405.1,498.4L406.3,499.9L405.1,501.3L403.9,499.9ZM405.1,508.6L406.3,510.0L405.1,511.5L403.9,510.0ZM405.1,506.2L406.3,507.6L405.1,509.1L403.9,507.6Z" fill="#000"/>
<text x="60.7" y="593.3" font-size="7.65" font-weight="bold" text-anchor="middle" fill="#111">Corrected for</text>
<text x="60.7" y="601.5" font-size="7.65" font-weight="bold" text-anchor="middle" fill="#111">head motion</text>
<line x1="31.2" y1="606.9" x2="31.2" y2="671.3" stroke="#222" stroke-width="0.8"/>
<line x1="30.8" y1="670.9" x2="91.2" y2="670.9" stroke="#222" stroke-width="0.8"/>
<text x="26.6" y="622.0" font-size="6.95" text-anchor="end" fill="#4d4d4d">1500</text>
<text x="26.6" y="640.3" font-size="6.95" text-anchor="end" fill="#4d4d4d">1000</text>
<text x="26.6" y="658.5" font-size="6.95" text-anchor="end" fill="#4d4d4d">500</text>
<text x="7.4" y="639.1" font-size="7.3" font-weight="bold" text-anchor="middle" fill="#111" transform="rotate(-90 7.399999999999999 639.1)">Number of streamlines</text>
<text x="41.6" y="680.5" font-size="5.7" font-weight="bold" text-anchor="middle" fill="#111">HC</text>
<text x="60.5" y="680.5" font-size="5.7" font-weight="bold" text-anchor="middle" fill="#111">MDD</text>
<text x="84.8" y="680.5" font-size="5.7" font-weight="bold" text-anchor="middle" fill="#111">MDD+ANX</text>
<path d="M42.5,609.1 L42.5,609.1 L42.0,610.6 L42.0,612.0 L42.0,613.5 L42.0,614.9 L42.0,616.4 L42.0,617.8 L42.0,619.2 L42.0,620.7 L42.0,622.1 L42.0,623.6 L42.0,625.1 L42.0,626.5 L42.0,628.0 L42.0,629.4 L42.0,630.9 L42.0,632.3 L42.0,633.8 L42.0,635.2 L42.0,636.6 L42.0,638.1 L41.8,639.6 L41.6,641.0 L41.2,642.5 L40.7,643.9 L40.1,645.4 L39.3,646.8 L38.3,648.2 L37.2,649.7 L36.2,651.1 L35.7,652.6 L35.8,654.1 L36.3,655.5 L37.1,657.0 L38.0,658.4 L38.9,659.9 L39.8,661.3 L40.6,662.8 L41.2,664.2 L41.7,665.6 L42.5,667.1 L42.5,667.1 Z" fill="#3e5a80" stroke="#222" stroke-width="0.55"/>
<path d="M46.0 661.6h0M42.7 650.2h0M43.9 646.8h0M46.3 657.9h0M45.0 648.2h0M45.9 646.8h0M45.4 653.8h0M44.0 648.3h0M45.7 645.1h0M45.5 637.1h0M43.4 648.1h0M44.4 653.1h0M46.8 636.5h0M45.9 645.9h0M47.3 651.2h0M45.0 653.3h0M42.9 650.2h0M45.8 654.2h0M44.1 646.5h0M43.9 654.5h0M46.2 640.4h0M44.5 646.0h0M43.6 663.8h0M47.2 656.2h0M44.8 653.9h0M42.8 651.8h0M45.5 653.4h0M43.2 652.7h0M45.3 655.0h0M44.5 651.0h0M46.9 640.2h0M46.7 653.2h0M46.3 642.2h0M45.2 653.2h0M46.4 649.9h0M44.1 649.1h0M45.7 657.1h0M47.3 646.2h0M47.6 651.7h0M45.5 644.2h0M46.4 642.7h0M46.4 648.9h0M47.7 648.3h0M46.1 661.8h0M47.2 659.4h0M46.3 664.7h0M45.9 654.6h0M46.9 655.3h0M45.5 649.7h0M43.3 652.0h0M43.5 649.2h0M47.3 646.9h0M46.9 652.3h0M44.8 660.1h0M42.5 651.5h0M45.9 642.1h0M47.4 649.5h0M46.4 642.8h0M47.4 648.5h0M47.6 647.6h0M43.1 648.6h0M47.0 645.4h0M42.8 652.7h0M43.0 650.2h0M43.9 648.5h0M44.3 646.2h0M47.4 661.4h0M44.8 650.0h0M43.1 649.9h0M44.0 659.7h0M43.5 651.4h0M43.0 665.7h0M43.7 652.0h0M45.7 646.0h0M47.2 644.1h0M43.9 651.1h0M47.7 657.2h0M46.9 661.0h0M42.5 645.9h0M45.5 646.6h0M45.3 641.8h0M43.7 642.4h0M42.9 648.6h0M45.6 653.5h0M44.5 643.7h0M44.2 650.6h0M46.8 645.2h0M45.1 638.2h0M44.3 653.7h0M43.7 637.9h0M47.1 658.4h0M47.6 646.1h0M44.0 652.4h0M43.1 640.3h0M42.8 655.0h0M43.4 662.1h0M43.9 653.0h0M46.4 646.2h0M47.6 657.3h0M44.5 655.6h0M43.1 649.7h0M46.7 651.8h0M43.0 655.4h0M47.4 660.5h0M46.7 652.9h0M47.1 658.0h0M42.5 651.8h0M43.2 648.2h0M43.1 657.7h0M45.7 653.1h0M43.5 655.2h0M45.6 655.6h0M47.7 638.7h0M43.4 656.4h0M46.1 658.2h0M45.9 652.4h0M47.4 645.4h0M43.6 661.6h0M43.7 647.8h0M42.7 650.0h0M46.0 646.6h0M42.7 654.2h0M47.2 644.9h0M46.8 642.4h0M47.5 659.8h0M44.6 647.2h0M43.9 646.4h0M45.4 647.8h0M47.5 648.0h0M44.9 658.6h0M43.6 651.6h0M47.6 650.9h0M44.5 652.8h0M44.3 656.1h0M46.8 657.0h0M44.7 647.0h0M46.2 650.5h0M43.8 656.1h0M44.8 651.7h0M44.8 647.1h0M45.5 651.9h0M44.8 642.2h0M42.9 645.5h0M43.2 648.4h0M45.5 650.5h0M43.4 659.7h0M42.7 658.1h0M46.2 654.2h0M46.8 656.4h0M44.3 649.5h0M46.2 653.7h0M43.0 647.5h0M43.8 645.1h0M46.7 650.0h0M46.1 651.9h0M44.3 648.9h0M44.3 647.3h0M45.3 653.1h0M47.6 649.4h0M45.8 652.3h0M44.6 652.4h0M46.5 644.8h0M43.5 652.1h0M45.1 663.6h0M42.8 657.3h0M43.9 654.5h0M43.1 659.1h0M45.7 654.3h0M44.0 642.0h0M47.0 652.7h0M45.3 638.8h0M46.9 660.4h0M47.4 654.7h0M44.6 662.7h0M44.6 647.2h0M47.2 666.0h0M46.5 646.0h0M44.8 646.8h0M44.4 651.2h0M47.5 646.7h0M43.1 654.2h0M47.5 645.6h0M44.1 647.7h0M45.8 661.1h0M46.0 651.9h0M47.7 653.5h0M46.6 651.8h0M43.9 648.7h0M43.3 657.4h0M44.2 652.9h0M43.7 648.4h0M42.9 653.0h0M46.2 640.8h0M43.7 657.7h0M43.9 655.6h0M44.3 648.3h0M42.6 658.5h0M46.8 660.8h0M45.3 645.1h0M44.8 646.2h0M42.7 641.8h0M46.9 637.0h0M46.3 647.5h0M44.8 648.4h0M47.3 636.8h0M46.4 645.4h0M46.2 659.5h0M44.6 660.7h0M47.5 653.8h0M43.8 643.7h0M45.2 662.3h0M45.9 653.6h0M42.6 648.5h0M45.6 641.9h0M45.5 650.8h0M42.8 658.4h0M43.4 657.9h0M46.9 645.9h0M47.4 650.7h0M46.6 660.6h0M43.1 657.3h0M42.8 641.1h0M46.9 651.5h0M46.6 656.9h0M46.8 652.0h0M44.0 638.0h0M42.5 661.1h0M45.7 660.2h0M46.3 646.1h0M46.5 656.4h0M45.4 636.9h0M45.2 660.4h0M44.6 648.5h0M43.2 644.0h0M46.9 652.1h0M43.2 650.1h0M46.3 649.9h0M46.5 653.2h0M47.2 658.7h0M46.7 648.9h0M45.2 655.3h0M43.3 639.6h0M43.2 639.8h0M43.5 658.4h0M44.5 655.4h0M46.2 655.5h0M47.1 655.2h0M45.7 646.2h0M47.6 648.3h0M43.8 651.4h0M45.2 659.2h0M42.9 655.2h0M44.5 662.5h0M47.4 649.1h0M42.8 657.7h0M42.6 649.6h0M47.0 643.7h0M44.1 658.1h0M46.6 657.6h0M45.7 647.1h0M44.6 652.8h0M47.5 663.1h0M46.8 651.7h0M44.4 652.6h0M46.0 658.0h0M47.5 655.9h0M44.4 651.3h0M43.4 662.4h0M45.4 649.2h0M47.7 651.6h0M43.2 636.6h0M44.1 658.6h0M46.0 646.2h0M44.4 654.3h0M45.6 651.4h0M45.7 656.3h0M44.7 642.9h0M46.1 642.3h0M46.9 649.0h0M46.4 648.3h0M47.3 655.5h0M46.7 654.4h0M45.5 654.5h0M44.2 648.6h0M47.6 660.9h0M43.4 653.6h0M47.4 652.8h0M43.9 646.9h0M46.1 637.0h0M46.4 644.1h0M47.5 643.2h0M46.0 648.3h0M42.9 641.2h0M47.1 651.0h0M47.6 644.2h0M45.1 648.7h0M43.0 665.6h0M42.9 651.6h0M44.2 651.8h0M45.4 659.5h0M47.0 661.7h0M43.1 642.5h0M44.7 648.2h0M44.1 642.1h0M45.4 656.3h0M47.7 641.9h0M45.5 647.5h0M42.8 655.5h0M44.5 647.0h0M45.8 653.6h0M44.0 647.0h0M47.5 660.2h0M47.4 641.2h0M43.7 652.0h0M44.6 659.7h0M44.1 649.9h0M47.0 651.7h0M45.6 649.8h0M44.2 640.4h0M45.0 654.7h0M42.5 651.6h0M47.5 644.3h0M46.4 651.0h0M47.5 643.1h0M47.1 640.5h0M42.6 661.2h0M44.2 663.0h0M44.6 649.1h0M45.7 660.9h0M46.2 637.1h0M43.6 642.1h0M45.0 645.3h0M43.7 661.9h0M45.8 649.9h0M43.1 645.1h0M46.0 648.7h0M44.2 653.6h0M45.8 648.7h0M46.5 648.9h0M45.0 656.6h0M43.0 640.8h0M47.6 664.8h0M42.9 645.7h0M46.5 661.0h0M43.4 651.7h0M47.7 653.3h0M43.4 656.2h0M46.1 656.5h0M45.0 655.6h0M46.7 654.5h0M45.8 642.8h0M45.3 652.2h0M46.8 646.3h0M45.8 651.4h0M45.4 664.2h0M44.2 652.5h0M42.9 655.6h0M45.3 654.9h0M46.7 661.8h0M42.7 648.2h0M44.4 653.1h0M43.9 647.4h0M43.8 660.3h0M45.6 645.7h0M42.7 639.8h0M46.1 661.2h0M42.6 643.2h0M45.3 649.6h0M44.8 661.3h0M47.0 655.5h0M42.6 644.0h0M46.3 660.2h0M46.8 654.5h0M43.5 652.7h0M46.7 659.0h0M44.7 651.2h0M45.1 659.3h0M43.6 648.5h0M44.0 657.0h0M44.0 645.9h0M43.6 658.8h0M43.8 652.9h0M45.8 658.3h0M43.9 655.3h0M44.9 658.3h0M45.0 660.1h0M42.9 654.3h0M43.6 647.9h0M46.1 646.6h0M43.4 655.0h0M43.3 646.8h0M45.6 655.5h0M43.6 640.6h0M47.3 651.0h0M44.0 651.9h0M46.7 650.9h0M45.3 648.1h0M46.3 651.4h0M46.7 653.0h0M44.1 645.7h0M43.0 658.0h0M45.4 655.7h0M42.6 648.1h0M42.9 650.9h0M44.3 649.4h0M45.4 650.4h0M46.5 655.4h0M47.6 645.1h0M43.9 657.7h0M43.9 643.0h0M43.0 658.1h0M42.6 654.5h0M44.9 645.9h0M45.3 653.0h0M45.5 654.1h0M46.5 650.1h0M44.7 650.5h0M46.1 658.1h0M44.2 648.0h0M45.6 641.8h0M45.4 658.0h0M43.5 647.9h0M45.6 648.0h0M43.2 647.9h0M42.9 657.4h0M46.7 644.1h0M46.5 656.2h0M45.9 664.4h0M46.7 653.7h0M43.5 663.2h0M46.8 648.0h0M43.4 640.2h0M43.3 652.7h0M44.1 650.9h0M47.1 662.3h0M44.2 651.8h0M44.6 652.2h0M42.8 654.0h0M42.7 660.9h0M46.9 663.3h0M46.7 640.4h0M44.6 649.7h0M45.3 661.0h0M45.1 645.8h0M44.5 643.9h0M46.2 657.1h0M45.8 661.0h0M45.0 646.8h0M44.4 652.1h0M46.0 658.5h0M43.3 642.2h0M44.5 653.9h0M44.0 664.1h0M45.4 658.0h0M45.5 652.9h0M46.3 653.1h0M43.3 654.9h0M43.8 642.8h0M47.4 650.9h0M44.0 649.3h0M45.8 647.6h0M43.3 652.7h0M46.4 648.8h0M44.7 641.9h0M47.3 644.1h0M47.2 647.6h0M46.1 650.6h0M47.1 649.5h0M47.0 654.5h0M45.9 651.6h0M42.5 664.1h0M45.9 657.2h0M44.4 652.1h0M47.7 649.1h0M42.9 653.4h0M46.7 651.5h0M46.8 652.2h0M47.6 660.0h0M47.2 650.5h0M43.1 662.5h0" stroke="#4a6ca6" stroke-opacity="0.55" stroke-width="0.9" stroke-linecap="round" fill="none"/>
<path d="M61.0,622.6 L61.0,622.6 L60.6,623.8 L60.5,624.9 L60.5,626.1 L60.5,627.2 L60.5,628.4 L60.5,629.5 L60.5,630.6 L60.5,631.8 L60.5,633.0 L60.5,634.1 L60.5,635.2 L60.5,636.4 L60.5,637.6 L60.5,638.7 L60.5,639.9 L60.5,641.0 L60.4,642.1 L60.2,643.3 L59.9,644.5 L59.6,645.6 L59.2,646.8 L58.7,647.9 L58.0,649.1 L57.3,650.2 L56.5,651.4 L55.8,652.5 L55.4,653.6 L55.3,654.8 L55.5,656.0 L55.8,657.1 L56.3,658.2 L56.9,659.4 L57.6,660.6 L58.2,661.7 L58.8,662.9 L59.3,664.0 L59.8,665.1 L60.1,666.3 L60.5,667.5 L61.0,668.6 L61.0,668.6 Z" fill="#db8233" stroke="#222" stroke-width="0.55"/>
<path d="M61.3 650.2h0M65.2 651.9h0M61.1 656.8h0M63.3 658.7h0M65.7 652.2h0M64.2 652.9h0M63.1 649.3h0M64.7 659.5h0M62.6 648.3h0M63.8 650.3h0M64.7 638.1h0M65.4 639.5h0M61.1 645.4h0M61.3 650.4h0M65.8 654.5h0M62.1 663.5h0M64.7 640.3h0M63.0 642.6h0M62.0 643.8h0M66.0 649.8h0M62.9 658.4h0M64.5 665.8h0M64.2 639.8h0M61.0 658.4h0M64.5 652.9h0M65.5 654.3h0M65.5 653.3h0M62.2 657.4h0M63.5 660.1h0M62.8 643.3h0M63.3 659.9h0M64.7 652.9h0M63.5 665.1h0M62.9 666.3h0M65.9 665.7h0M64.3 643.8h0M64.9 655.0h0M62.5 654.3h0M64.1 656.7h0M65.1 661.2h0M62.8 653.3h0M64.7 660.1h0M63.9 658.9h0M61.8 648.6h0M65.9 651.6h0M62.1 648.7h0M64.7 649.0h0M66.1 663.1h0M61.9 654.1h0M63.8 644.8h0M62.8 660.3h0M65.6 655.0h0M64.0 640.1h0M61.2 659.9h0M61.9 654.5h0M62.9 656.5h0M65.7 653.5h0M66.1 647.1h0M62.1 654.2h0M62.5 656.8h0M64.4 661.1h0M63.6 647.0h0M62.4 647.1h0M63.9 650.2h0M64.5 651.6h0M61.2 651.6h0M61.6 649.8h0M64.2 655.0h0M61.4 661.0h0M61.7 655.0h0M65.0 661.6h0M62.8 648.1h0M61.3 650.3h0M65.7 654.0h0M61.8 646.4h0M64.6 643.9h0M62.9 640.9h0M61.5 655.9h0M64.2 647.9h0M63.3 659.1h0M64.7 648.7h0M64.7 650.9h0M64.9 649.6h0M65.4 654.9h0M66.0 637.3h0M62.2 656.7h0M65.6 642.4h0M62.3 641.7h0M64.0 654.9h0M66.0 646.6h0M64.8 647.8h0M62.1 651.8h0M64.6 654.4h0M61.5 654.5h0M63.8 651.0h0M64.2 651.7h0M61.7 657.6h0M62.8 649.8h0M64.5 653.7h0M65.1 652.7h0M62.0 649.5h0M61.9 649.2h0M61.2 643.5h0M63.7 647.4h0M63.3 644.3h0M63.3 654.4h0M63.5 650.0h0M66.1 648.9h0M65.3 649.9h0M63.0 649.3h0M62.4 653.0h0M66.0 649.2h0M63.6 648.3h0M64.1 654.9h0M64.5 642.2h0M65.7 646.8h0M65.1 648.3h0M61.7 647.1h0M64.0 651.4h0M62.1 651.5h0M63.7 648.5h0M63.1 657.2h0M62.4 656.3h0M66.2 663.5h0M61.9 649.3h0M66.1 656.7h0M64.6 644.8h0M66.0 656.3h0M65.5 660.5h0M61.5 649.9h0M61.7 655.4h0M62.6 657.0h0M61.7 638.4h0M62.7 665.9h0M65.0 666.0h0M65.8 645.7h0M63.1 662.1h0M62.4 652.9h0M61.7 650.0h0M62.1 650.7h0M61.8 652.6h0M62.0 656.9h0M62.1 663.6h0M61.9 653.9h0M63.9 657.6h0M65.5 661.4h0M61.6 652.5h0M65.9 654.5h0M65.1 660.9h0M63.6 655.5h0M63.6 659.7h0M61.4 644.0h0M64.2 654.2h0M62.4 658.1h0M63.9 638.6h0M63.0 641.4h0M61.0 637.8h0M62.5 660.2h0M61.6 653.9h0M62.8 654.5h0M61.3 644.8h0M61.9 647.2h0M62.8 668.2h0M61.8 651.8h0M61.3 643.6h0M65.7 645.8h0M64.3 643.2h0M64.8 657.6h0M63.4 653.8h0M61.6 657.8h0M63.3 657.0h0M65.3 652.3h0M64.6 644.3h0M62.5 664.4h0M64.8 650.0h0M65.1 654.4h0M66.0 662.2h0M65.1 649.2h0M61.7 643.4h0M64.5 646.5h0M64.3 654.2h0M64.4 638.5h0M64.0 649.1h0M64.5 650.1h0M61.3 663.1h0M62.5 654.0h0M65.0 648.0h0M63.8 657.2h0M61.1 650.1h0M65.6 660.6h0M61.2 644.8h0M61.0 668.2h0M64.1 654.5h0M62.0 652.3h0M63.9 644.0h0M61.6 657.0h0M64.4 663.3h0M63.2 651.0h0M64.6 657.7h0M66.1 654.5h0M61.6 653.1h0M64.0 655.9h0M61.5 648.8h0M61.2 659.5h0M65.7 655.8h0M65.9 650.3h0M61.2 656.0h0M61.5 648.3h0M61.3 640.7h0M61.4 665.1h0M64.1 654.5h0M62.8 641.3h0M63.0 651.1h0M64.3 647.7h0M64.3 656.2h0M62.3 646.5h0M63.2 652.1h0M64.2 643.4h0M63.9 656.2h0M62.4 649.7h0M62.0 653.7h0M66.1 648.2h0M63.0 657.7h0M65.7 644.2h0M61.9 653.9h0M66.0 649.3h0M64.0 646.9h0M63.7 653.4h0M62.1 663.8h0M64.7 652.4h0M65.6 644.3h0M61.5 663.9h0M66.1 654.3h0M65.8 658.5h0M62.0 650.7h0M65.2 655.6h0M65.1 652.8h0M61.8 655.3h0M63.2 655.9h0M63.2 657.7h0M61.1 644.9h0M61.6 652.2h0M61.3 649.6h0M61.5 652.7h0M62.3 657.1h0M61.4 658.9h0M66.0 663.9h0M65.0 658.0h0M61.7 650.8h0M64.9 660.3h0M61.7 649.0h0M61.0 658.8h0M65.3 656.7h0M64.4 655.3h0M62.6 659.4h0M64.3 638.6h0M62.1 654.5h0M63.4 649.2h0M63.4 661.2h0M64.2 649.6h0M63.1 642.1h0M61.2 641.5h0M62.7 646.7h0M63.6 650.4h0M61.5 658.2h0M63.5 649.4h0M61.0 655.2h0M62.7 641.5h0M63.4 648.6h0M63.7 642.7h0M62.3 648.8h0M61.9 646.2h0M65.7 655.1h0M63.5 651.1h0M65.4 664.0h0M61.4 645.0h0M61.5 658.9h0M63.2 659.9h0M62.4 661.0h0M65.0 653.5h0M62.4 658.4h0M63.9 666.6h0M65.5 652.2h0M61.3 648.6h0M62.6 656.0h0M61.6 666.5h0M65.4 652.3h0M65.3 665.4h0M62.0 654.1h0M64.8 652.0h0M61.5 648.7h0M61.2 662.3h0M64.0 649.3h0M63.7 659.7h0M62.3 660.6h0M61.8 653.2h0M65.6 645.6h0M63.2 638.0h0M64.2 646.1h0M62.6 660.2h0M62.1 642.9h0M62.0 660.5h0M62.0 657.6h0M62.9 647.7h0M66.0 657.9h0M63.6 650.8h0M64.0 643.8h0M64.3 652.8h0M65.2 659.1h0M63.6 649.0h0M64.7 642.2h0M63.0 647.2h0M64.1 665.7h0M63.8 642.9h0M61.2 653.4h0M65.2 648.2h0M63.2 652.9h0M66.0 656.9h0M61.7 666.0h0M65.2 644.4h0M64.0 656.0h0M65.7 644.7h0M66.0 660.6h0M65.3 644.7h0M62.6 661.4h0M63.6 644.2h0M63.1 645.1h0M61.5 651.8h0M62.3 658.6h0M65.8 641.2h0M63.0 652.7h0M64.1 645.4h0M63.0 646.5h0M65.5 654.4h0M66.1 649.2h0M65.9 652.6h0M65.7 654.1h0M65.6 653.5h0M65.3 647.2h0M65.9 644.3h0M61.6 654.0h0M63.9 661.2h0M65.3 655.8h0M61.5 658.7h0M62.8 662.1h0M64.6 650.8h0M64.0 650.4h0M65.2 664.0h0M65.5 664.2h0M61.8 659.3h0M61.2 657.0h0M64.9 654.3h0M62.4 655.1h0M63.8 650.3h0M61.8 648.8h0M61.8 650.0h0M64.8 648.7h0M61.9 655.0h0M62.3 641.3h0M61.5 659.7h0" stroke="#e8913f" stroke-opacity="0.55" stroke-width="0.9" stroke-linecap="round" fill="none"/>
<path d="M79.4,615.1 L79.4,615.1 L79.0,616.3 L78.9,617.6 L78.9,618.8 L78.9,620.0 L78.9,621.2 L78.9,622.5 L78.9,623.7 L78.9,624.9 L78.9,626.1 L78.9,627.4 L78.9,628.6 L78.9,629.8 L78.8,631.0 L78.7,632.2 L78.5,633.5 L78.3,634.7 L78.1,635.9 L77.8,637.1 L77.5,638.4 L77.1,639.6 L76.7,640.8 L76.2,642.1 L75.7,643.3 L75.1,644.5 L74.5,645.7 L74.0,647.0 L73.6,648.2 L73.4,649.4 L73.5,650.6 L73.7,651.9 L74.2,653.1 L74.8,654.3 L75.5,655.5 L76.2,656.8 L76.9,658.0 L77.5,659.2 L78.0,660.4 L78.4,661.6 L78.9,662.9 L79.4,664.1 L79.4,664.1 Z" fill="#67aa60" stroke="#222" stroke-width="0.55"/>
<path d="M80.0 658.6h0M80.3 639.8h0M82.8 650.1h0M82.7 644.7h0M81.6 656.4h0M79.9 636.4h0M79.4 645.8h0M83.4 650.3h0M84.0 646.7h0M84.6 653.3h0M82.7 654.5h0M84.4 653.9h0M82.5 650.2h0M84.0 640.7h0M84.5 645.9h0M81.9 660.7h0M80.2 641.1h0M84.6 652.1h0M84.4 653.3h0M81.3 647.9h0M82.4 660.6h0M80.2 652.2h0M80.2 647.5h0M84.5 663.2h0M83.9 643.3h0M79.6 650.9h0M84.4 649.2h0M82.7 656.4h0M80.0 652.1h0M82.7 647.0h0M82.9 644.9h0M82.8 646.6h0M81.5 654.9h0M79.5 648.2h0M81.0 646.7h0M84.3 653.6h0M80.6 652.3h0M81.2 648.3h0M81.3 645.3h0M82.8 654.4h0M83.9 643.3h0M79.9 648.4h0M79.5 655.7h0M80.6 651.1h0M81.7 648.4h0M83.1 657.6h0M80.1 644.1h0M79.9 650.7h0M79.8 653.1h0M81.4 641.6h0M83.8 646.7h0M82.0 652.3h0M80.7 647.4h0M80.7 645.3h0M81.0 643.6h0M83.7 652.2h0M84.5 648.4h0M80.7 641.9h0M81.7 652.9h0M84.3 639.7h0M84.1 649.3h0M83.2 646.5h0M80.0 639.5h0M81.4 655.2h0M81.2 650.8h0M83.1 649.3h0M81.7 661.2h0M81.4 646.4h0M82.6 651.0h0M82.7 646.4h0M84.4 640.5h0M83.8 646.1h0M79.7 652.4h0M81.4 654.9h0M80.9 638.1h0M81.4 654.0h0M82.3 638.3h0M83.4 649.0h0M79.6 650.0h0M82.1 645.4h0M82.0 657.2h0M80.1 642.7h0M84.4 647.0h0M79.7 642.6h0M82.4 648.6h0M79.6 652.4h0M81.7 650.2h0M82.9 653.8h0M79.6 637.7h0M84.2 644.7h0M82.8 654.6h0M83.2 643.7h0M80.1 656.0h0M81.6 642.2h0M81.1 652.0h0M83.9 645.7h0M83.0 626.5h0M83.8 643.6h0M81.4 657.7h0M82.5 644.2h0M82.7 650.7h0M84.0 657.8h0M83.6 649.0h0M80.0 662.0h0M84.3 642.0h0M82.5 649.6h0M82.5 649.4h0M80.3 644.3h0M81.0 650.0h0M82.4 631.9h0M80.1 640.8h0M84.4 643.4h0M79.5 651.8h0M80.5 646.9h0M82.2 640.7h0M83.7 626.6h0M84.3 645.2h0M79.9 651.0h0M81.8 640.7h0M84.6 653.3h0M79.9 663.3h0M82.1 650.2h0M83.8 648.1h0M84.4 647.5h0M82.4 643.8h0M81.3 647.1h0M80.8 640.0h0M82.9 653.8h0M81.0 644.7h0M82.6 648.8h0M83.6 644.0h0M81.7 655.5h0M80.1 655.3h0M80.7 651.5h0M82.7 654.5h0M80.8 652.8h0M80.5 643.8h0M82.6 653.9h0M84.4 642.5h0M84.2 637.2h0M82.5 643.1h0M80.0 654.5h0M84.0 651.9h0M82.5 639.7h0M84.6 653.8h0M79.6 646.7h0M82.3 651.6h0M81.7 642.7h0M84.6 658.0h0M84.2 655.7h0M81.1 651.4h0M81.9 645.0h0M81.4 654.8h0M79.5 644.3h0M79.8 636.5h0M84.3 662.8h0M84.4 645.6h0M80.2 653.3h0M83.4 657.5h0M84.3 648.1h0M83.9 649.7h0M82.4 642.3h0M81.4 657.4h0M84.4 658.3h0M83.5 647.9h0M82.6 654.4h0M80.1 644.6h0M81.2 650.1h0M83.9 651.1h0M83.7 642.9h0" stroke="#86c982" stroke-opacity="0.55" stroke-width="0.9" stroke-linecap="round" fill="none"/>
<path d="M45.1,650.6 L63.6,652.8 L82.0,647.5" fill="none" stroke="#000" stroke-width="1.8" stroke-linecap="round" stroke-dasharray="0 4.3"/>
<line x1="45.1" y1="635.8" x2="45.1" y2="645.1" stroke="#000" stroke-width="0.7"/>
<line x1="45.1" y1="657.1" x2="45.1" y2="667.1" stroke="#000" stroke-width="0.7"/>
<line x1="44.0" y1="635.8" x2="46.2" y2="635.8" stroke="#000" stroke-width="0.7"/>
<line x1="44.0" y1="667.1" x2="46.2" y2="667.1" stroke="#000" stroke-width="0.7"/>
<rect x="43.6" y="645.1" width="3.0" height="12.0" fill="none" stroke="#000" stroke-width="0.7"/>
<circle cx="45.1" cy="650.6" r="2.8" fill="#000"/>
<path d="M45.1,608.5L46.4,610.1L45.1,611.7L43.8,610.1ZM45.1,633.2L46.4,634.8L45.1,636.4L43.8,634.8ZM45.1,631.8L46.4,633.4L45.1,635.0L43.8,633.4ZM45.1,630.5L46.4,632.1L45.1,633.7L43.8,632.1ZM45.1,629.1L46.4,630.8L45.1,632.4L43.8,630.8ZM45.1,627.8L46.4,629.4L45.1,631.0L43.8,629.4ZM45.1,626.4L46.4,628.0L45.1,629.6L43.8,628.0ZM45.1,625.1L46.4,626.7L45.1,628.3L43.8,626.7ZM45.1,623.7L46.4,625.3L45.1,626.9L43.8,625.3ZM45.1,622.4L46.4,624.0L45.1,625.6L43.8,624.0ZM45.1,621.0L46.4,622.6L45.1,624.2L43.8,622.6ZM45.1,619.7L46.4,621.3L45.1,622.9L43.8,621.3ZM45.1,618.3L46.4,619.9L45.1,621.5L43.8,619.9ZM45.1,617.0L46.4,618.6L45.1,620.2L43.8,618.6Z" fill="#000"/>
<line x1="63.6" y1="637.3" x2="63.6" y2="647.3" stroke="#000" stroke-width="0.7"/>
<line x1="63.6" y1="659.3" x2="63.6" y2="668.6" stroke="#000" stroke-width="0.7"/>
<line x1="62.5" y1="637.3" x2="64.7" y2="637.3" stroke="#000" stroke-width="0.7"/>
<line x1="62.5" y1="668.6" x2="64.7" y2="668.6" stroke="#000" stroke-width="0.7"/>
<rect x="62.1" y="647.3" width="3.0" height="12.0" fill="none" stroke="#000" stroke-width="0.7"/>
<circle cx="63.6" cy="652.8" r="2.8" fill="#000"/>
<path d="M63.6,622.1L64.8,623.6L63.6,625.1L62.4,623.6ZM63.6,634.8L64.8,636.3L63.6,637.8L62.4,636.3ZM63.6,633.0L64.8,634.5L63.6,636.0L62.4,634.5ZM63.6,631.2L64.8,632.7L63.6,634.1L62.4,632.7ZM63.6,629.4L64.8,630.9L63.6,632.4L62.4,630.9ZM63.6,627.6L64.8,629.1L63.6,630.5L62.4,629.1Z" fill="#000"/>
<line x1="82.0" y1="625.5" x2="82.0" y2="642.0" stroke="#000" stroke-width="0.7"/>
<line x1="82.0" y1="654.0" x2="82.0" y2="664.1" stroke="#000" stroke-width="0.7"/>
<line x1="80.9" y1="625.5" x2="83.1" y2="625.5" stroke="#000" stroke-width="0.7"/>
<line x1="80.9" y1="664.1" x2="83.1" y2="664.1" stroke="#000" stroke-width="0.7"/>
<rect x="80.5" y="642.0" width="3.0" height="12.0" fill="#fff" stroke="#000" stroke-width="0.7"/>
<circle cx="82.0" cy="647.5" r="2.8" fill="#000"/>
<path d="M82.0,614.6L83.2,616.1L82.0,617.6L80.8,616.1ZM82.0,623.1L83.2,624.5L82.0,626.0L80.8,624.5ZM82.0,620.7L83.2,622.1L82.0,623.6L80.8,622.1Z" fill="#000"/>
<text x="168.7" y="593.3" font-size="7.65" font-weight="bold" text-anchor="middle" fill="#111">Excluding</text>
<text x="168.7" y="601.5" font-size="7.65" font-weight="bold" text-anchor="middle" fill="#111">connectome outliers</text>
<line x1="139.2" y1="606.9" x2="139.2" y2="671.3" stroke="#222" stroke-width="0.8"/>
<line x1="138.8" y1="670.9" x2="199.2" y2="670.9" stroke="#222" stroke-width="0.8"/>
<text x="134.6" y="623.0" font-size="6.95" text-anchor="end" fill="#4d4d4d">1500</text>
<text x="134.6" y="641.8" font-size="6.95" text-anchor="end" fill="#4d4d4d">1000</text>
<text x="134.6" y="659.4" font-size="6.95" text-anchor="end" fill="#4d4d4d">500</text>
<text x="115.4" y="639.1" font-size="7.3" font-weight="bold" text-anchor="middle" fill="#111" transform="rotate(-90 115.39999999999999 639.1)">Number of streamlines</text>
<text x="149.6" y="680.5" font-size="5.7" font-weight="bold" text-anchor="middle" fill="#111">HC</text>
<text x="168.5" y="680.5" font-size="5.7" font-weight="bold" text-anchor="middle" fill="#111">MDD</text>
<text x="192.8" y="680.5" font-size="5.7" font-weight="bold" text-anchor="middle" fill="#111">MDD+ANX</text>
<path d="M150.7,609.1 L150.7,609.1 L150.2,610.6 L150.2,612.0 L150.2,613.5 L150.2,614.9 L150.2,616.4 L150.2,617.8 L150.2,619.2 L150.2,620.7 L150.2,622.1 L150.2,623.6 L150.2,625.1 L150.2,626.5 L150.2,628.0 L150.2,629.4 L150.2,630.9 L150.2,632.3 L150.2,633.8 L150.2,635.2 L150.2,636.6 L150.2,638.1 L150.1,639.6 L149.8,641.0 L149.5,642.5 L149.0,643.9 L148.4,645.4 L147.6,646.8 L146.7,648.2 L145.6,649.7 L144.7,651.1 L144.2,652.6 L144.3,654.1 L144.8,655.5 L145.5,657.0 L146.4,658.4 L147.3,659.9 L148.1,661.3 L148.9,662.8 L149.5,664.2 L150.0,665.6 L150.7,667.1 L150.7,667.1 Z" fill="#3e5a80" stroke="#222" stroke-width="0.55"/>
<path d="M151.4 654.5h0M153.3 655.4h0M152.2 648.3h0M153.6 640.9h0M151.5 643.7h0M153.9 652.7h0M150.7 644.8h0M155.6 648.0h0M154.1 654.6h0M153.7 646.7h0M152.9 639.9h0M153.8 652.3h0M151.6 651.7h0M154.5 658.0h0M155.9 647.8h0M155.0 648.8h0M151.0 647.7h0M154.2 643.7h0M151.7 656.1h0M155.0 661.5h0M155.1 651.0h0M154.9 664.2h0M153.1 648.0h0M150.7 661.0h0M150.9 643.4h0M151.3 642.5h0M151.9 651.0h0M154.7 657.9h0M152.7 658.2h0M155.4 650.2h0M154.5 655.2h0M151.7 644.7h0M153.7 654.8h0M152.1 658.2h0M154.1 661.5h0M152.9 654.1h0M151.4 661.1h0M155.2 640.9h0M151.2 654.1h0M153.0 657.3h0M154.1 657.6h0M152.5 666.0h0M152.9 655.1h0M152.0 648.5h0M150.7 646.3h0M150.8 658.8h0M153.1 647.8h0M153.9 653.4h0M150.9 657.3h0M151.1 660.2h0M154.3 656.5h0M154.4 646.0h0M154.8 656.0h0M153.7 662.9h0M153.0 652.2h0M151.7 655.2h0M154.8 653.5h0M152.3 643.2h0M154.5 653.9h0M152.0 655.9h0M155.6 648.1h0M154.5 648.9h0M155.8 655.4h0M155.5 645.4h0M153.5 658.5h0M154.6 646.8h0M153.0 649.5h0M153.3 652.3h0M152.9 655.5h0M150.9 660.5h0M153.5 659.0h0M155.3 648.3h0M154.3 640.4h0M155.3 653.0h0M151.5 658.3h0M153.8 646.7h0M152.4 645.1h0M150.7 653.2h0M154.7 659.2h0M155.9 641.2h0M153.3 657.1h0M152.2 660.8h0M153.0 650.1h0M154.3 645.5h0M152.6 656.1h0M154.3 638.4h0M153.2 660.3h0M155.6 661.9h0M152.5 653.7h0M152.7 654.5h0M155.2 658.4h0M155.0 641.7h0M152.7 650.6h0M154.2 638.4h0M151.2 644.9h0M151.2 648.8h0M155.5 646.0h0M152.8 659.7h0M153.3 644.4h0M154.1 657.8h0M155.2 657.9h0M152.0 646.6h0M153.4 643.6h0M152.0 649.4h0M153.1 655.4h0M152.8 662.8h0M154.2 649.3h0M153.3 663.3h0M155.2 650.7h0M151.1 647.8h0M155.4 642.8h0M154.7 655.1h0M151.9 648.9h0M151.4 654.9h0M154.0 644.4h0M155.2 651.7h0M152.5 652.8h0M152.7 663.3h0M151.1 652.0h0M154.0 638.0h0M152.3 648.4h0M153.6 654.9h0M152.4 649.3h0M152.2 654.0h0M152.4 651.5h0M154.1 663.2h0M151.3 641.5h0M155.7 652.7h0M151.3 654.5h0M151.2 657.7h0M153.6 657.8h0M153.0 651.5h0M150.8 648.6h0M155.2 652.5h0M151.7 656.1h0M155.1 654.5h0M152.5 653.4h0M152.8 640.1h0M153.2 641.9h0M151.6 643.5h0M153.5 653.8h0M155.0 643.2h0M155.9 652.2h0M154.7 651.0h0M151.9 647.7h0M154.8 654.1h0M155.6 639.4h0M154.9 662.5h0M151.0 646.2h0M152.9 647.9h0M155.0 653.5h0M155.7 658.3h0M151.3 653.5h0M153.0 649.3h0M154.2 644.8h0M155.9 651.1h0M155.7 653.9h0M153.5 646.2h0M151.6 664.0h0M151.8 652.7h0M151.0 648.6h0M152.1 666.2h0M153.1 657.2h0M153.6 664.9h0M151.6 648.1h0M153.0 643.4h0M152.4 650.5h0M151.4 646.8h0M153.0 661.8h0M151.6 663.5h0M150.9 655.4h0M155.2 650.1h0M152.3 653.8h0M155.7 648.9h0M155.6 654.5h0M151.7 644.9h0M152.7 646.4h0M155.4 643.4h0M154.6 655.9h0M154.6 652.2h0M151.8 649.6h0M154.8 662.5h0M153.3 640.5h0M154.3 653.4h0M154.1 645.6h0M154.3 655.7h0M151.5 646.1h0M155.9 651.5h0M152.7 651.7h0M150.8 641.0h0M153.3 636.6h0M153.7 647.7h0M154.7 646.7h0M151.6 651.4h0M153.0 645.3h0M151.1 649.6h0M155.6 650.0h0M154.2 648.0h0M153.2 644.6h0M152.1 644.6h0M151.9 647.9h0M152.2 652.4h0M154.4 642.1h0M155.3 639.2h0M155.6 656.5h0M153.9 649.9h0M152.5 661.5h0M153.6 652.2h0M153.2 659.1h0M153.9 649.1h0M151.0 656.2h0M153.9 646.7h0M153.3 647.0h0M152.9 648.4h0M155.8 643.9h0M152.2 641.2h0M153.6 647.1h0M151.9 643.3h0M150.9 646.3h0M151.3 656.5h0M154.6 658.2h0M155.6 658.3h0M151.9 639.9h0M154.1 652.4h0M151.3 642.9h0M153.3 647.0h0M155.6 646.6h0M155.6 642.8h0M151.5 638.5h0M155.3 644.8h0M151.3 647.9h0M153.5 647.5h0M151.8 651.1h0M155.2 641.9h0M154.6 660.7h0M151.9 649.5h0M151.2 651.2h0M153.4 657.2h0M153.7 655.9h0M150.8 648.5h0M153.9 660.3h0M153.8 652.1h0M152.9 646.7h0M154.0 646.5h0M151.4 656.4h0M152.2 653.8h0M153.3 641.5h0M151.3 651.6h0M152.1 656.7h0M155.9 640.3h0M152.2 664.7h0M151.8 651.6h0M152.9 647.8h0M153.2 645.4h0M153.8 640.0h0M154.7 646.9h0M155.4 652.3h0M152.7 655.6h0M150.9 644.7h0M151.8 656.6h0M154.6 650.7h0M150.9 657.7h0M153.7 662.5h0M152.8 653.8h0M154.2 654.0h0M152.0 661.1h0M152.1 645.2h0M152.4 650.3h0M154.7 652.4h0M153.2 649.3h0M151.3 660.1h0M153.4 659.9h0M155.4 640.9h0M151.5 652.8h0M152.0 658.5h0M155.2 649.8h0M151.0 655.1h0M153.2 655.5h0M150.7 645.1h0M152.3 654.8h0M152.8 652.5h0M152.6 663.9h0M151.9 650.4h0M151.6 663.6h0M155.3 650.7h0M153.0 645.0h0M152.6 644.0h0M152.6 655.4h0M154.9 648.4h0M152.7 652.8h0M154.2 642.2h0M151.8 658.7h0M151.9 657.5h0M153.3 653.5h0M154.0 659.1h0M154.3 664.6h0M151.8 645.1h0M152.5 656.5h0M153.5 657.0h0M154.4 646.9h0M155.8 665.2h0M151.3 656.6h0M154.1 643.7h0M155.6 657.2h0M152.0 660.5h0M155.5 650.9h0M154.6 654.8h0M155.4 650.9h0M155.4 650.1h0M151.5 636.2h0M152.9 651.9h0M153.0 650.8h0M151.7 651.7h0M154.4 664.7h0M150.7 652.0h0M154.5 651.4h0M152.3 648.8h0M153.3 641.1h0M151.0 660.9h0M153.0 650.3h0M153.8 657.4h0M152.9 648.4h0M155.5 650.1h0M155.8 651.4h0M154.0 652.3h0M153.6 656.7h0M155.7 661.9h0M154.1 645.5h0M150.8 661.2h0M154.0 647.3h0M154.6 656.4h0M151.0 659.0h0M154.2 645.7h0M151.5 654.8h0M152.2 642.7h0M153.2 655.6h0M150.9 663.3h0M153.2 651.0h0M155.1 661.2h0M152.3 650.7h0M154.4 655.6h0M150.7 665.5h0M151.5 656.1h0M154.4 649.4h0M151.1 656.7h0M151.5 654.0h0M151.5 651.8h0M152.5 648.9h0M153.0 660.8h0M151.2 650.9h0M150.8 651.0h0M155.5 648.2h0M150.9 643.9h0M150.8 650.6h0M155.1 651.9h0M152.2 648.9h0M153.2 647.1h0M155.4 643.4h0M155.2 652.0h0M150.8 647.7h0M154.1 658.0h0M151.4 650.5h0M152.7 653.6h0M152.9 650.0h0M154.5 644.0h0M151.8 645.1h0M154.9 649.9h0M154.2 650.8h0M152.3 652.6h0M154.4 656.7h0M153.4 652.8h0M152.4 657.0h0M155.6 654.0h0M151.9 639.0h0M151.2 652.5h0M155.0 662.6h0M152.7 651.1h0M155.6 653.7h0M155.1 638.0h0M153.3 651.2h0M154.6 650.5h0M154.4 640.4h0M155.3 646.2h0M155.0 650.8h0M153.1 649.2h0M152.8 652.6h0M152.3 651.3h0M153.6 639.0h0M152.7 656.6h0M152.7 661.2h0M151.6 648.7h0M155.2 655.9h0M152.2 652.3h0M150.7 646.7h0M153.6 645.6h0M155.0 644.4h0M152.3 651.5h0M155.4 649.5h0M155.7 649.1h0M151.6 651.1h0M152.9 656.7h0M153.3 653.1h0M155.5 641.4h0M153.9 648.0h0M153.5 655.6h0M154.4 650.2h0M151.6 644.6h0M152.8 648.7h0M155.4 636.0h0M152.9 655.8h0M154.3 638.4h0M154.1 663.4h0M155.5 647.3h0M151.3 660.2h0M155.1 645.3h0M155.5 653.6h0M152.7 651.0h0M153.6 647.0h0M153.6 648.9h0M154.2 650.0h0M152.1 659.8h0M153.7 650.7h0M155.4 650.2h0M155.8 646.2h0M152.4 640.8h0M151.0 650.4h0M153.6 649.6h0M150.8 646.7h0M153.0 662.5h0M151.8 645.9h0M153.3 654.0h0M155.6 638.5h0M152.1 657.2h0M152.6 652.7h0M151.5 641.8h0M154.3 649.6h0M153.3 655.9h0M151.4 651.3h0M150.9 652.8h0M150.8 644.0h0M153.4 661.4h0M155.4 662.0h0M151.2 656.0h0M155.4 665.7h0M151.9 648.9h0M152.9 657.7h0M151.4 657.2h0M154.3 645.9h0M153.8 655.4h0M153.2 654.6h0M155.3 648.7h0M151.3 642.5h0M154.4 653.3h0M155.8 657.8h0M154.8 652.0h0M154.5 647.1h0M154.7 643.7h0M151.3 659.0h0M154.1 655.5h0M154.7 654.5h0M154.2 647.6h0M152.1 642.3h0M152.5 641.8h0M151.8 657.4h0M154.2 661.6h0M152.1 649.4h0M154.8 648.1h0M151.2 654.6h0M152.7 653.3h0M155.0 652.9h0M153.2 653.3h0M155.6 655.0h0M154.4 654.1h0M150.9 645.9h0M151.5 647.5h0M155.3 665.8h0M153.0 651.8h0M154.7 656.0h0M155.2 654.5h0M155.1 661.8h0" stroke="#4a6ca6" stroke-opacity="0.55" stroke-width="0.9" stroke-linecap="round" fill="none"/>
<path d="M169.0,628.4 L169.0,628.4 L168.7,629.4 L168.5,630.4 L168.5,631.4 L168.5,632.4 L168.5,633.4 L168.5,634.4 L168.5,635.4 L168.5,636.4 L168.5,637.4 L168.5,638.5 L168.5,639.5 L168.5,640.5 L168.5,641.5 L168.3,642.5 L168.1,643.5 L167.9,644.5 L167.6,645.5 L167.3,646.5 L166.8,647.5 L166.3,648.5 L165.7,649.5 L165.1,650.5 L164.4,651.5 L163.8,652.5 L163.4,653.5 L163.3,654.5 L163.4,655.5 L163.7,656.5 L164.0,657.5 L164.5,658.5 L165.0,659.6 L165.6,660.6 L166.1,661.6 L166.6,662.6 L167.1,663.6 L167.5,664.6 L167.9,665.6 L168.2,666.6 L168.6,667.6 L169.0,668.6 L169.0,668.6 Z" fill="#db8233" stroke="#222" stroke-width="0.55"/>
<path d="M171.4 655.9h0M172.8 660.5h0M170.7 647.4h0M169.9 656.6h0M169.7 637.6h0M171.5 660.0h0M171.1 649.2h0M173.7 639.7h0M172.9 659.8h0M169.6 659.2h0M173.0 654.4h0M172.6 647.5h0M171.4 651.8h0M170.0 658.7h0M171.0 651.4h0M172.5 657.1h0M171.6 644.7h0M169.7 650.7h0M173.3 652.6h0M170.8 661.4h0M169.3 647.9h0M173.5 644.1h0M174.0 647.6h0M173.5 649.1h0M172.1 647.6h0M169.1 654.9h0M171.1 662.1h0M172.6 653.9h0M169.4 653.0h0M171.2 652.3h0M173.3 652.2h0M172.0 644.0h0M170.2 651.3h0M172.6 657.7h0M172.8 654.2h0M173.2 641.8h0M169.4 646.8h0M172.5 646.2h0M169.5 651.6h0M172.6 646.2h0M171.8 649.0h0M172.8 648.6h0M173.3 649.7h0M169.9 668.0h0M173.9 649.6h0M171.4 652.1h0M170.6 650.8h0M173.2 640.5h0M170.2 653.7h0M173.7 665.4h0M171.3 649.2h0M173.4 654.5h0M170.5 650.1h0M171.6 653.5h0M169.9 652.7h0M173.1 662.1h0M170.4 657.9h0M170.5 662.9h0M171.5 643.5h0M170.6 646.2h0M173.3 656.3h0M172.7 651.6h0M169.0 654.9h0M171.3 650.8h0M170.5 646.9h0M169.3 657.1h0M171.7 662.2h0M174.0 648.2h0M172.1 637.9h0M170.2 649.0h0M171.8 662.3h0M173.2 648.6h0M173.1 652.8h0M173.7 642.6h0M171.4 655.6h0M172.6 660.9h0M169.9 651.7h0M171.0 642.2h0M172.6 657.0h0M173.6 639.9h0M174.2 649.9h0M171.8 661.4h0M170.3 639.6h0M171.0 642.9h0M172.1 657.1h0M169.7 646.2h0M172.8 642.6h0M173.3 648.5h0M172.2 657.0h0M172.0 657.7h0M171.6 655.7h0M170.0 661.4h0M169.5 657.3h0M170.5 654.1h0M172.1 649.1h0M173.2 661.1h0M172.4 651.5h0M171.0 657.2h0M173.9 644.5h0M170.1 661.9h0M169.4 659.2h0M174.1 657.0h0M170.9 660.2h0M173.3 656.3h0M170.9 657.2h0M169.7 649.8h0M172.7 655.6h0M173.1 642.8h0M172.1 639.7h0M172.0 656.4h0M174.1 644.7h0M172.7 658.5h0M169.6 645.6h0M170.1 651.5h0M169.2 654.8h0M173.0 659.8h0M172.8 666.0h0M171.8 653.2h0M170.2 663.4h0M172.7 650.0h0M173.8 640.7h0M172.6 658.0h0M169.1 654.8h0M172.2 654.6h0M169.1 657.2h0M169.9 646.3h0M171.5 651.7h0M169.7 651.6h0M173.5 667.0h0M169.8 645.4h0M172.9 656.8h0M172.0 662.1h0M172.4 648.1h0M172.7 667.7h0M171.3 654.1h0M172.0 642.0h0M169.6 653.9h0M170.9 639.6h0M171.7 652.1h0M172.3 643.3h0M171.8 645.2h0M173.5 649.2h0M170.2 652.6h0M169.1 666.0h0M172.3 643.0h0M169.5 653.6h0M171.2 644.3h0M171.6 649.9h0M173.6 647.8h0M173.1 650.5h0M171.6 651.4h0M171.0 655.9h0M170.3 655.5h0M174.0 648.3h0M173.1 657.8h0M172.7 642.6h0M174.1 651.8h0M172.6 656.8h0M170.4 658.0h0M169.3 657.3h0M170.1 659.7h0M174.2 656.5h0M171.1 654.5h0M173.7 644.3h0M173.5 659.3h0M172.2 644.5h0M172.0 658.7h0M169.6 659.1h0M171.2 642.9h0M170.1 653.4h0M169.3 650.8h0M173.2 646.8h0M173.8 653.8h0M170.4 655.6h0M169.6 654.3h0M169.6 644.5h0M172.5 657.1h0M174.1 655.6h0M171.7 662.6h0M172.0 661.7h0M170.9 651.2h0M170.7 642.4h0M172.8 658.0h0M172.6 656.9h0M169.3 658.2h0M172.0 656.9h0M173.6 641.5h0M173.0 641.3h0M169.4 652.4h0M173.2 643.8h0M169.3 651.0h0M172.6 650.6h0M169.6 643.9h0M169.6 650.6h0M169.6 665.0h0M172.9 661.4h0M170.6 657.9h0M171.3 654.1h0M169.3 661.3h0M172.8 648.1h0M173.0 646.1h0M171.1 648.5h0M170.2 651.2h0M173.6 652.9h0M174.1 641.7h0M173.7 655.3h0M171.2 651.1h0M171.8 652.7h0M172.4 652.4h0M174.0 659.1h0M172.3 654.6h0M171.5 657.1h0M174.0 655.4h0M171.9 652.3h0M173.4 651.2h0M174.2 660.0h0M172.6 646.0h0M170.9 647.6h0M170.4 654.6h0M171.6 656.9h0M171.1 651.5h0M172.9 667.4h0M171.1 653.1h0M172.5 641.7h0M171.7 653.0h0M172.8 654.5h0M173.2 650.1h0M171.6 661.2h0M172.8 657.2h0M172.9 659.7h0M172.2 648.8h0M173.3 654.5h0M169.8 643.6h0M171.4 659.2h0M172.1 657.6h0M174.1 648.3h0M170.4 650.2h0M170.8 652.9h0M169.1 666.0h0M172.6 656.7h0M171.2 655.5h0M170.0 662.8h0M169.0 660.2h0M171.0 653.9h0M170.1 657.8h0M173.8 654.7h0M172.3 647.4h0M172.8 659.4h0M172.3 645.6h0M169.7 647.6h0M169.8 660.8h0M170.7 659.4h0M173.1 653.7h0M173.0 657.4h0M172.8 647.2h0M174.0 665.0h0M170.7 656.8h0M170.7 652.2h0M169.8 654.6h0M174.1 648.4h0M171.7 648.6h0M173.5 651.2h0M170.9 643.4h0M172.7 644.4h0M171.9 648.4h0M172.2 659.2h0M171.6 654.6h0M169.2 657.3h0M172.2 666.1h0M172.4 654.3h0M174.2 659.0h0M173.4 645.5h0M172.4 646.3h0M172.0 641.9h0M173.3 640.7h0M170.3 647.6h0M169.8 641.4h0M169.0 651.3h0M171.1 652.1h0M171.9 650.6h0M173.4 656.0h0M169.1 648.9h0M173.8 655.9h0M173.3 652.8h0M172.7 659.4h0M169.5 650.3h0M172.9 648.7h0M169.6 668.2h0M173.7 658.3h0M170.4 656.9h0M169.7 655.5h0M170.3 651.6h0M170.9 641.7h0M170.8 652.9h0M173.5 660.8h0M170.4 652.6h0M171.1 652.2h0M172.9 649.2h0M170.6 656.5h0M172.3 652.4h0M174.2 661.3h0M173.8 652.8h0M173.1 653.2h0M172.3 649.5h0M169.0 650.9h0M172.3 654.5h0M174.0 655.4h0M173.2 648.9h0M170.3 652.0h0M170.3 667.6h0M170.1 660.9h0M169.0 650.1h0M170.2 647.1h0M169.8 659.0h0M172.1 656.4h0M173.9 664.7h0M171.8 652.7h0M172.1 658.9h0M169.3 660.4h0M170.7 652.0h0M171.0 654.0h0M172.0 656.6h0M173.6 655.5h0M173.1 663.0h0M173.3 648.6h0M169.5 660.8h0M169.9 650.3h0M169.1 644.9h0M171.5 649.2h0M169.1 645.5h0M171.6 658.0h0M172.2 645.0h0M171.1 647.2h0M169.5 651.5h0M173.2 655.4h0M171.6 652.0h0M173.4 648.8h0M169.6 656.4h0M171.4 650.5h0M172.2 659.3h0M171.0 657.9h0M174.0 651.4h0M172.3 659.5h0M171.1 653.0h0M170.3 655.9h0M169.6 643.6h0M173.1 647.1h0M173.8 663.9h0M173.0 655.9h0M171.4 649.4h0M169.5 651.0h0M169.9 654.1h0M173.7 645.8h0M171.9 646.2h0M170.1 645.1h0M174.0 658.9h0M171.0 663.6h0M173.2 654.0h0M169.9 657.3h0M171.2 662.5h0" stroke="#e8913f" stroke-opacity="0.55" stroke-width="0.9" stroke-linecap="round" fill="none"/>
<path d="M187.1,611.4 L187.1,611.4 L186.6,612.8 L186.6,614.1 L186.6,615.5 L186.6,616.8 L186.6,618.2 L186.6,619.5 L186.6,620.9 L186.6,622.2 L186.6,623.6 L186.6,625.0 L186.6,626.3 L186.6,627.7 L186.6,629.0 L186.6,630.4 L186.5,631.7 L186.4,633.1 L186.2,634.4 L186.0,635.8 L185.7,637.1 L185.4,638.5 L185.1,639.9 L184.6,641.2 L184.1,642.6 L183.6,643.9 L183.0,645.3 L182.4,646.6 L181.9,648.0 L181.5,649.3 L181.4,650.7 L181.6,652.0 L181.9,653.4 L182.5,654.8 L183.1,656.1 L183.9,657.5 L184.5,658.8 L185.2,660.2 L185.7,661.5 L186.1,662.9 L186.5,664.2 L187.1,665.6 L187.1,665.6 Z" fill="#67aa60" stroke="#222" stroke-width="0.55"/>
<path d="M189.2 642.5h0M189.6 648.4h0M187.9 648.1h0M189.9 653.6h0M190.1 650.9h0M188.2 656.6h0M191.0 655.0h0M189.3 654.4h0M188.3 640.4h0M188.6 653.7h0M188.5 648.6h0M192.3 660.1h0M190.4 644.6h0M188.1 651.0h0M190.7 639.5h0M189.6 645.3h0M187.9 639.3h0M191.8 659.0h0M190.4 639.7h0M191.6 648.6h0M190.7 643.4h0M189.8 646.4h0M188.1 643.1h0M191.1 657.5h0M189.4 646.8h0M188.4 663.3h0M188.4 646.8h0M190.3 644.3h0M190.3 637.9h0M190.7 647.6h0M190.1 649.4h0M191.9 652.0h0M189.0 643.2h0M191.7 654.5h0M187.3 660.6h0M190.1 649.9h0M189.9 647.5h0M189.4 653.8h0M188.9 649.5h0M190.5 661.1h0M192.0 652.2h0M188.5 643.3h0M192.1 644.8h0M189.1 641.5h0M191.1 647.4h0M189.5 633.7h0M187.5 656.9h0M191.9 647.9h0M190.2 653.8h0M188.5 652.9h0M189.2 653.4h0M190.6 643.0h0M189.5 647.7h0M191.2 662.9h0M187.7 654.5h0M190.8 649.7h0M188.4 641.2h0M188.6 660.0h0M189.7 641.7h0M190.7 642.0h0M190.7 653.9h0M188.5 649.7h0M189.1 643.4h0M190.7 649.6h0M188.9 657.3h0M189.1 649.1h0M189.2 640.5h0M190.0 657.8h0M188.2 655.0h0M189.0 649.4h0M188.5 649.4h0M188.2 657.7h0M189.2 647.1h0M188.2 642.7h0M190.9 663.4h0M191.7 653.7h0M191.3 651.8h0M189.4 654.8h0M189.9 653.5h0M188.1 643.8h0M189.2 644.7h0M191.4 661.0h0M187.4 643.1h0M191.0 652.4h0M187.3 653.2h0M192.0 641.9h0M192.2 643.6h0M189.4 654.7h0M190.7 640.1h0M187.8 664.7h0M190.8 645.1h0M192.1 642.6h0M190.4 639.9h0M192.2 646.9h0M187.4 653.8h0M189.6 653.0h0M191.0 640.3h0M190.0 659.4h0M191.4 641.3h0M191.4 637.5h0M188.9 654.5h0M187.6 635.4h0M189.6 648.3h0M190.2 640.1h0M189.8 651.3h0M190.4 653.8h0M191.2 655.6h0M189.8 661.0h0M187.6 655.8h0M190.8 647.2h0M190.3 645.1h0M188.6 653.6h0M190.5 631.4h0M188.0 648.2h0M187.8 650.8h0M189.2 646.8h0M189.5 641.6h0M188.3 649.3h0M190.3 639.5h0M189.1 645.7h0M189.0 664.7h0M189.8 651.5h0M190.9 647.8h0M190.6 641.4h0M191.1 638.0h0M187.3 644.9h0M189.9 641.1h0M188.0 655.3h0M188.5 660.5h0M189.4 655.4h0M192.3 642.2h0M190.2 649.8h0M188.9 647.1h0M189.5 656.0h0M189.3 657.2h0M187.2 647.5h0M187.5 644.4h0M187.3 651.7h0M190.4 649.4h0M190.1 656.2h0M189.1 654.4h0M187.6 633.9h0M190.4 650.5h0M189.5 644.2h0M189.8 647.9h0M188.9 665.6h0M190.8 652.2h0M190.5 650.4h0M188.4 649.8h0M189.6 662.9h0M191.7 651.5h0M190.5 648.4h0M189.4 635.4h0M189.5 660.1h0M190.2 645.0h0M189.3 652.9h0M189.5 657.4h0M188.0 659.6h0M191.5 648.7h0M192.0 650.8h0M188.6 654.8h0M190.2 639.5h0M190.0 655.1h0M188.2 655.3h0M188.5 638.6h0M188.7 650.6h0M189.5 646.3h0M188.8 645.2h0M190.2 657.2h0M191.5 645.6h0" stroke="#86c982" stroke-opacity="0.55" stroke-width="0.9" stroke-linecap="round" fill="none"/>
<path d="M153.3,652.0 L171.6,654.3 L189.7,648.3" fill="none" stroke="#000" stroke-width="1.8" stroke-linecap="round" stroke-dasharray="0 4.3"/>
<line x1="153.3" y1="635.8" x2="153.3" y2="646.5" stroke="#000" stroke-width="0.7"/>
<line x1="153.3" y1="658.5" x2="153.3" y2="667.1" stroke="#000" stroke-width="0.7"/>
<line x1="152.2" y1="635.8" x2="154.4" y2="635.8" stroke="#000" stroke-width="0.7"/>
<line x1="152.2" y1="667.1" x2="154.4" y2="667.1" stroke="#000" stroke-width="0.7"/>
<rect x="151.8" y="646.5" width="3.0" height="12.0" fill="none" stroke="#000" stroke-width="0.7"/>
<circle cx="153.3" cy="652.0" r="2.8" fill="#000"/>
<path d="M153.3,608.5L154.6,610.1L153.3,611.7L152.0,610.1ZM153.3,633.2L154.6,634.8L153.3,636.4L152.0,634.8ZM153.3,631.8L154.6,633.4L153.3,635.0L152.0,633.4ZM153.3,630.5L154.6,632.1L153.3,633.7L152.0,632.1ZM153.3,629.1L154.6,630.8L153.3,632.4L152.0,630.8ZM153.3,627.8L154.6,629.4L153.3,631.0L152.0,629.4ZM153.3,626.4L154.6,628.0L153.3,629.6L152.0,628.0ZM153.3,625.1L154.6,626.7L153.3,628.3L152.0,626.7ZM153.3,623.7L154.6,625.3L153.3,626.9L152.0,625.3ZM153.3,622.4L154.6,624.0L153.3,625.6L152.0,624.0ZM153.3,621.0L154.6,622.6L153.3,624.2L152.0,622.6ZM153.3,619.7L154.6,621.3L153.3,622.9L152.0,621.3ZM153.3,618.3L154.6,619.9L153.3,621.5L152.0,619.9ZM153.3,617.0L154.6,618.6L153.3,620.2L152.0,618.6Z" fill="#000"/>
<line x1="171.6" y1="637.3" x2="171.6" y2="648.8" stroke="#000" stroke-width="0.7"/>
<line x1="171.6" y1="660.8" x2="171.6" y2="668.6" stroke="#000" stroke-width="0.7"/>
<line x1="170.5" y1="637.3" x2="172.7" y2="637.3" stroke="#000" stroke-width="0.7"/>
<line x1="170.5" y1="668.6" x2="172.7" y2="668.6" stroke="#000" stroke-width="0.7"/>
<rect x="170.1" y="648.8" width="3.0" height="12.0" fill="none" stroke="#000" stroke-width="0.7"/>
<circle cx="171.6" cy="654.3" r="2.8" fill="#000"/>
<path d="M171.6,627.9L172.8,629.4L171.6,630.9L170.4,629.4ZM171.6,634.8L172.8,636.3L171.6,637.8L170.4,636.3ZM171.6,633.0L172.8,634.5L171.6,636.0L170.4,634.5Z" fill="#000"/>
<line x1="189.7" y1="623.1" x2="189.7" y2="642.8" stroke="#000" stroke-width="0.7"/>
<line x1="189.7" y1="654.8" x2="189.7" y2="665.6" stroke="#000" stroke-width="0.7"/>
<line x1="188.6" y1="623.1" x2="190.8" y2="623.1" stroke="#000" stroke-width="0.7"/>
<line x1="188.6" y1="665.6" x2="190.8" y2="665.6" stroke="#000" stroke-width="0.7"/>
<rect x="188.2" y="642.8" width="3.0" height="12.0" fill="#fff" stroke="#000" stroke-width="0.7"/>
<circle cx="189.7" cy="648.3" r="2.8" fill="#000"/>
<path d="M189.7,610.9L190.9,612.4L189.7,613.9L188.5,612.4ZM189.7,620.7L190.9,622.1L189.7,623.6L188.5,622.1ZM189.7,618.3L190.9,619.7L189.7,621.2L188.5,619.7Z" fill="#000"/>
<text x="276.0" y="593.3" font-size="7.65" font-weight="bold" text-anchor="middle" fill="#111">Corrected for</text>
<text x="276.0" y="601.5" font-size="7.65" font-weight="bold" text-anchor="middle" fill="#111">GMV of nodes</text>
<line x1="246.5" y1="606.9" x2="246.5" y2="671.3" stroke="#222" stroke-width="0.8"/>
<line x1="246.1" y1="670.9" x2="306.5" y2="670.9" stroke="#222" stroke-width="0.8"/>
<text x="241.9" y="619.1" font-size="6.95" text-anchor="end" fill="#4d4d4d">0.006</text>
<text x="241.9" y="640.2" font-size="6.95" text-anchor="end" fill="#4d4d4d">0.004</text>
<text x="241.9" y="660.6" font-size="6.95" text-anchor="end" fill="#4d4d4d">0.002</text>
<text x="220.9" y="637.6" font-size="7.3" font-weight="bold" text-anchor="middle" fill="#111" transform="rotate(-90 220.9 637.6)">Streamline volume density</text>
<text x="256.9" y="680.5" font-size="5.7" font-weight="bold" text-anchor="middle" fill="#111">HC</text>
<text x="275.8" y="680.5" font-size="5.7" font-weight="bold" text-anchor="middle" fill="#111">MDD</text>
<text x="300.1" y="680.5" font-size="5.7" font-weight="bold" text-anchor="middle" fill="#111">MDD+ANX</text>
<path d="M257.8,609.1 L257.8,609.1 L257.3,610.5 L257.3,612.0 L257.3,613.4 L257.3,614.8 L257.3,616.2 L257.3,617.7 L257.3,619.1 L257.3,620.5 L257.3,622.0 L257.3,623.4 L257.3,624.8 L257.3,626.3 L257.3,627.7 L257.3,629.1 L257.3,630.5 L257.3,632.0 L257.3,633.4 L257.3,634.8 L257.1,636.3 L256.9,637.7 L256.5,639.1 L256.1,640.6 L255.5,642.0 L254.7,643.4 L253.8,644.9 L252.8,646.3 L252.1,647.7 L251.8,649.1 L251.9,650.6 L252.3,652.0 L252.8,653.4 L253.4,654.9 L254.0,656.3 L254.7,657.7 L255.4,659.1 L256.0,660.6 L256.5,662.0 L256.8,663.4 L257.2,664.9 L257.8,666.3 L257.8,666.3 Z" fill="#3e5a80" stroke="#222" stroke-width="0.55"/>
<path d="M258.1 635.6h0M259.1 648.5h0M257.9 657.0h0M260.1 638.7h0M260.1 643.4h0M258.1 657.2h0M261.3 644.8h0M259.6 650.2h0M261.7 654.0h0M260.3 652.4h0M262.6 647.9h0M261.6 648.6h0M262.8 644.9h0M258.7 653.3h0M262.0 638.9h0M258.9 658.9h0M259.7 638.0h0M260.1 648.6h0M262.2 646.9h0M258.7 639.3h0M258.1 641.3h0M260.5 641.7h0M259.5 643.9h0M261.7 644.1h0M260.0 652.3h0M259.9 660.1h0M260.8 655.7h0M259.6 650.4h0M260.7 653.1h0M258.3 647.1h0M258.3 657.1h0M258.9 657.4h0M262.7 650.9h0M259.9 634.0h0M259.7 654.9h0M260.0 647.0h0M262.6 660.4h0M260.1 642.1h0M260.2 650.8h0M260.1 647.5h0M261.9 653.3h0M259.4 637.1h0M262.4 643.1h0M260.7 640.9h0M258.5 654.1h0M260.9 656.7h0M258.2 639.6h0M262.9 648.0h0M261.6 641.9h0M262.5 643.7h0M258.4 645.7h0M258.7 640.9h0M260.1 649.1h0M258.3 652.3h0M259.1 652.0h0M258.7 641.6h0M261.9 650.0h0M257.9 637.1h0M262.8 653.7h0M258.8 654.1h0M262.2 652.9h0M262.9 648.5h0M259.9 645.2h0M258.6 654.0h0M262.6 645.6h0M262.5 639.2h0M261.4 653.9h0M260.4 635.8h0M261.4 645.8h0M262.1 648.4h0M258.7 636.6h0M259.0 637.5h0M262.6 658.6h0M260.3 651.3h0M260.6 642.1h0M258.3 653.4h0M261.6 655.1h0M261.7 647.3h0M262.0 662.7h0M261.7 645.3h0M258.1 650.1h0M260.1 661.5h0M258.6 647.2h0M257.8 659.2h0M261.2 656.2h0M259.3 643.0h0M258.7 652.9h0M259.0 656.8h0M261.0 643.1h0M259.8 643.6h0M258.5 647.7h0M262.4 638.8h0M257.9 643.5h0M257.8 643.2h0M259.1 661.2h0M259.8 642.0h0M262.2 656.3h0M258.5 655.1h0M259.2 641.9h0M258.5 654.5h0M262.0 664.6h0M263.0 646.8h0M258.7 647.1h0M259.2 644.3h0M260.8 649.0h0M259.1 640.1h0M257.9 648.9h0M261.6 645.4h0M258.8 648.1h0M258.8 638.8h0M261.8 638.0h0M260.0 657.9h0M260.6 656.2h0M259.1 647.5h0M259.4 641.0h0M257.9 657.1h0M260.6 653.4h0M258.1 645.4h0M261.7 647.3h0M258.0 634.7h0M263.0 638.2h0M261.3 645.2h0M261.4 647.7h0M261.6 650.1h0M260.3 642.9h0M258.3 641.3h0M260.4 650.3h0M261.1 643.6h0M260.8 652.6h0M261.7 647.5h0M259.3 653.7h0M258.1 642.7h0M260.9 661.4h0M261.9 646.3h0M258.2 649.1h0M259.7 639.3h0M260.5 647.3h0M261.4 653.7h0M260.7 649.8h0M260.3 639.3h0M259.7 647.5h0M257.8 639.6h0M262.4 647.8h0M259.8 653.3h0M260.8 646.4h0M259.5 644.0h0M259.1 651.9h0M259.6 650.8h0M258.8 638.4h0M261.4 644.9h0M260.4 655.0h0M262.7 642.7h0M263.0 643.7h0M261.5 644.4h0M261.8 657.8h0M261.7 649.3h0M261.7 641.2h0M260.9 652.9h0M259.7 652.3h0M260.7 665.5h0M262.4 639.2h0M261.7 649.7h0M259.0 651.8h0M259.6 647.2h0M261.8 646.7h0M258.9 655.0h0M260.6 658.3h0M259.3 644.7h0M260.0 649.8h0M258.4 651.7h0M260.4 650.5h0M258.4 660.1h0M262.4 641.3h0M261.4 644.9h0M259.6 651.8h0M260.0 645.1h0M258.0 643.1h0M260.6 642.2h0M261.4 637.1h0M258.9 652.7h0M258.1 651.0h0M260.5 647.9h0M258.0 657.1h0M258.1 651.6h0M259.3 643.2h0M258.4 651.3h0M260.7 640.3h0M258.1 647.0h0M259.2 642.7h0M260.9 655.7h0M261.3 650.7h0M261.7 646.7h0M262.3 646.5h0M261.4 650.5h0M259.1 658.2h0M261.6 643.0h0M262.8 654.6h0M259.6 635.5h0M258.0 654.4h0M259.8 641.7h0M257.9 656.8h0M259.1 647.8h0M258.1 653.7h0M262.1 653.4h0M260.2 654.9h0M257.8 659.2h0M260.9 648.1h0M261.3 634.7h0M262.8 652.5h0M262.0 660.2h0M259.3 645.4h0M259.2 645.9h0M259.7 634.1h0M262.0 649.9h0M259.6 643.4h0M257.9 639.7h0M258.3 650.6h0M260.2 651.4h0M260.2 646.1h0M261.1 636.4h0M260.6 639.9h0M258.8 645.1h0M261.8 643.4h0M262.2 656.3h0M258.3 639.4h0M260.4 651.9h0M262.8 651.6h0M262.8 648.7h0M261.4 650.2h0M261.3 655.0h0M258.8 654.5h0M258.2 654.1h0M261.5 658.0h0M259.9 644.4h0M259.5 654.0h0M260.8 658.4h0M257.8 643.1h0M258.5 643.5h0M258.4 644.8h0M262.8 640.3h0M262.2 639.9h0M258.1 646.3h0M258.8 653.7h0M260.1 645.9h0M258.2 635.5h0M259.3 659.2h0M262.7 662.7h0M259.7 654.2h0M259.0 647.1h0M258.9 634.9h0M257.8 652.8h0M262.8 637.1h0M260.1 641.4h0M258.4 644.8h0M262.4 639.9h0M262.6 642.0h0M261.7 662.7h0M258.5 656.7h0M261.3 656.2h0M260.5 658.3h0M258.5 642.2h0M261.5 646.3h0M262.4 656.5h0M261.4 644.9h0M259.4 657.4h0M261.0 660.6h0M260.5 654.2h0M261.9 641.6h0M262.4 638.3h0M260.4 643.3h0M258.1 642.2h0M260.6 656.4h0M260.5 646.6h0M258.2 640.0h0M258.4 648.3h0M261.9 644.5h0M263.0 647.2h0M261.0 648.3h0M259.1 653.9h0M261.9 640.9h0M258.7 645.7h0M262.9 656.4h0M259.8 640.3h0M259.2 649.4h0M258.0 650.7h0M259.6 639.4h0M259.8 651.1h0M259.5 643.6h0M258.0 648.6h0M261.6 646.7h0M261.1 645.3h0M261.3 653.3h0M260.4 653.1h0M260.9 660.0h0M258.4 648.4h0M259.6 650.0h0M259.7 643.4h0M262.3 639.9h0M260.6 653.1h0M261.2 640.9h0M260.9 652.5h0M261.9 638.1h0M259.2 648.9h0M259.3 652.0h0M259.9 652.5h0M259.7 655.2h0M262.4 633.4h0M258.5 647.6h0M261.4 651.3h0M262.6 639.2h0M259.8 645.3h0M259.9 643.8h0M261.5 648.3h0M263.0 655.4h0M260.3 647.5h0M262.8 642.0h0M260.9 650.2h0M261.4 656.0h0M258.7 642.5h0M258.1 634.0h0M259.5 656.2h0M258.1 653.2h0M259.6 651.4h0M258.6 639.1h0M259.7 657.3h0M260.4 639.0h0M258.4 639.8h0M258.8 644.7h0M261.7 648.9h0M260.8 664.5h0M262.3 646.8h0M260.7 665.5h0M261.6 642.8h0M260.4 643.5h0M259.8 653.3h0M261.1 648.5h0M258.2 662.2h0M259.3 650.5h0M258.9 653.2h0M263.0 640.9h0M261.4 656.5h0M262.1 653.4h0M261.9 637.4h0M261.4 656.1h0M261.3 653.8h0M262.9 653.7h0M262.3 654.7h0M260.7 651.7h0M260.1 644.3h0M262.7 649.7h0M260.9 645.5h0M258.9 652.8h0M259.9 648.3h0M260.7 658.8h0M258.9 660.9h0M262.8 653.3h0M258.6 660.8h0M259.7 649.7h0M259.2 660.2h0M258.0 640.5h0M259.0 662.1h0M260.8 646.5h0M262.2 647.2h0M260.1 649.7h0M259.7 654.0h0M259.6 647.4h0M260.0 650.9h0M262.6 661.7h0M262.7 646.0h0M259.9 645.9h0M258.6 647.1h0M262.9 651.5h0M258.4 650.5h0M259.5 649.0h0M261.3 658.4h0M262.3 640.9h0M259.6 655.2h0M260.0 635.4h0M260.6 647.7h0M260.7 640.5h0M258.9 633.2h0M258.5 653.7h0M258.9 654.8h0M262.5 641.2h0M258.2 642.5h0M260.6 651.7h0M260.0 646.4h0M262.0 660.5h0M261.5 643.6h0M259.3 664.9h0M260.3 640.5h0M262.2 653.5h0M259.6 648.0h0M261.8 647.4h0M260.3 646.6h0M260.9 636.0h0M258.4 648.3h0M261.5 646.8h0M261.3 649.0h0M259.6 642.9h0M260.0 640.0h0M260.5 633.5h0M258.7 651.1h0M262.3 645.7h0M262.0 649.0h0M260.2 649.8h0M258.7 656.3h0M261.5 635.1h0M259.3 663.9h0M260.8 648.5h0M262.3 643.7h0M260.3 648.4h0M261.2 644.3h0M259.2 641.7h0M261.4 643.5h0M257.9 644.4h0M263.0 654.6h0M258.1 648.6h0M261.8 650.0h0M262.9 660.8h0M262.1 641.6h0M260.3 643.6h0M261.6 651.6h0M259.4 643.0h0M261.6 656.2h0M261.4 656.9h0M262.9 637.7h0M260.8 639.1h0M262.0 639.8h0M261.8 650.7h0M261.6 643.0h0M259.1 656.1h0M257.9 642.1h0M258.8 639.8h0M260.7 644.1h0M260.3 647.7h0M258.3 645.8h0M259.4 645.7h0M259.1 651.9h0M260.1 641.7h0M258.7 638.2h0M262.2 644.4h0M258.4 639.2h0M261.1 651.9h0M257.8 655.2h0M260.9 645.4h0M260.6 653.1h0M258.9 645.8h0M262.7 651.9h0M260.4 646.3h0M261.2 645.0h0M259.3 650.4h0M261.2 650.8h0M261.5 645.9h0M258.5 658.3h0M261.0 644.0h0M260.1 652.0h0M259.6 650.4h0M260.2 662.2h0M259.9 643.9h0M262.7 656.0h0M260.5 648.7h0M262.4 649.2h0M262.3 655.1h0M262.6 661.3h0M259.9 660.4h0M262.7 650.0h0M259.0 645.1h0M258.2 656.1h0M258.9 653.1h0M261.2 655.2h0M259.2 643.9h0M259.8 653.9h0M259.1 649.4h0M261.9 649.6h0M261.3 658.5h0M262.9 651.2h0M259.0 655.1h0M259.9 652.1h0M262.6 660.9h0" stroke="#4a6ca6" stroke-opacity="0.55" stroke-width="0.9" stroke-linecap="round" fill="none"/>
<path d="M276.6,623.4 L276.6,623.4 L276.2,624.5 L276.1,625.7 L276.1,626.8 L276.1,627.9 L276.1,629.0 L276.1,630.2 L276.1,631.3 L276.1,632.4 L276.1,633.6 L276.1,634.7 L276.1,635.8 L276.1,637.0 L275.9,638.1 L275.7,639.2 L275.5,640.4 L275.1,641.5 L274.7,642.6 L274.2,643.7 L273.6,644.9 L272.8,646.0 L272.0,647.1 L271.2,648.3 L270.5,649.4 L270.3,650.5 L270.4,651.6 L270.6,652.8 L270.9,653.9 L271.3,655.0 L271.7,656.2 L272.3,657.3 L272.8,658.4 L273.4,659.6 L273.9,660.7 L274.4,661.8 L274.8,663.0 L275.2,664.1 L275.5,665.2 L275.8,666.3 L276.1,667.5 L276.6,668.6 L276.6,668.6 Z" fill="#db8233" stroke="#222" stroke-width="0.55"/>
<path d="M278.6 646.4h0M277.7 644.4h0M278.5 648.6h0M276.6 653.2h0M278.9 652.2h0M281.2 645.9h0M276.7 651.9h0M279.4 635.8h0M276.8 658.3h0M279.6 655.8h0M280.2 651.6h0M278.8 646.8h0M279.4 661.0h0M281.5 661.6h0M280.0 667.6h0M279.7 648.1h0M279.5 648.7h0M277.7 646.7h0M278.4 651.6h0M280.0 644.1h0M276.7 649.1h0M281.2 644.1h0M281.7 653.5h0M278.9 649.6h0M277.6 650.5h0M281.1 650.7h0M278.0 652.6h0M281.1 658.9h0M281.4 645.5h0M278.0 644.1h0M279.1 653.1h0M277.4 666.6h0M278.2 644.3h0M277.9 650.0h0M278.8 644.8h0M277.8 653.5h0M278.6 653.0h0M277.0 646.3h0M278.5 659.7h0M279.6 658.0h0M277.2 639.1h0M276.9 651.1h0M281.3 651.5h0M281.0 666.1h0M280.5 659.5h0M278.8 641.4h0M280.1 647.7h0M280.4 647.7h0M277.8 654.6h0M277.1 642.1h0M279.1 640.6h0M279.9 639.5h0M278.4 643.2h0M276.8 659.8h0M277.4 657.4h0M278.0 650.8h0M279.5 649.3h0M278.3 646.5h0M279.5 644.9h0M276.6 643.1h0M281.2 638.6h0M281.0 648.1h0M279.3 646.8h0M279.0 667.8h0M279.8 656.9h0M278.3 653.7h0M277.8 660.7h0M280.4 661.2h0M280.4 639.6h0M277.4 644.8h0M278.8 650.4h0M281.5 645.9h0M281.7 656.7h0M278.2 656.2h0M278.0 653.4h0M279.3 643.7h0M278.4 651.9h0M277.6 647.5h0M279.7 646.6h0M277.3 658.8h0M277.5 667.2h0M277.7 643.4h0M277.1 646.1h0M276.9 649.9h0M279.0 649.3h0M277.0 663.1h0M281.0 647.3h0M277.5 649.9h0M279.2 646.6h0M279.4 651.5h0M277.0 655.7h0M276.7 644.5h0M277.9 652.0h0M277.9 648.3h0M281.1 646.8h0M279.6 644.1h0M281.1 661.5h0M278.8 652.1h0M277.7 663.2h0M279.5 663.7h0M277.1 661.3h0M276.9 642.9h0M280.5 653.6h0M278.6 657.0h0M277.5 644.0h0M278.0 654.5h0M278.9 655.3h0M281.7 657.5h0M279.7 637.5h0M277.1 644.8h0M277.1 658.1h0M279.4 649.5h0M279.0 652.9h0M279.9 649.3h0M279.1 639.9h0M278.4 640.4h0M277.3 659.2h0M279.0 647.8h0M278.0 643.7h0M276.6 645.7h0M281.7 650.7h0M280.4 650.8h0M278.8 652.2h0M277.0 641.2h0M281.2 658.2h0M279.3 661.5h0M276.8 655.7h0M279.9 656.8h0M279.2 656.7h0M278.9 658.6h0M280.5 654.5h0M281.4 648.6h0M280.3 647.5h0M280.0 650.3h0M279.0 651.2h0M281.5 647.0h0M279.7 646.0h0M277.3 660.6h0M279.1 642.6h0M281.4 651.8h0M278.3 647.6h0M279.0 653.6h0M279.5 666.3h0M278.8 636.4h0M279.0 661.8h0M281.4 658.5h0M278.3 642.7h0M280.2 642.6h0M277.3 659.1h0M278.4 652.8h0M278.0 640.2h0M278.6 646.7h0M281.0 659.2h0M278.2 638.0h0M279.9 655.0h0M278.1 637.3h0M281.6 636.0h0M279.3 648.4h0M280.2 658.3h0M280.3 648.9h0M280.8 663.0h0M277.7 650.1h0M279.2 637.8h0M280.5 644.6h0M278.5 653.6h0M279.0 643.1h0M281.0 648.8h0M278.2 647.1h0M281.8 645.8h0M280.5 645.7h0M281.8 646.6h0M279.0 656.8h0M276.6 647.3h0M277.9 644.3h0M278.0 644.2h0M280.1 652.6h0M278.7 643.1h0M280.8 657.0h0M279.1 651.2h0M281.8 660.5h0M277.4 663.9h0M279.5 647.6h0M279.7 647.8h0M281.8 666.9h0M280.5 651.3h0M278.1 656.1h0M281.3 646.4h0M277.9 648.4h0M280.9 657.3h0M277.2 657.0h0M277.8 650.8h0M277.7 659.8h0M276.8 645.3h0M280.3 641.2h0M281.3 645.8h0M277.6 653.8h0M279.1 638.6h0M278.1 658.1h0M279.2 654.2h0M281.6 645.3h0M280.4 648.6h0M279.0 655.9h0M278.6 640.5h0M279.2 652.5h0M278.7 653.9h0M278.9 645.6h0M279.2 652.7h0M277.4 662.1h0M278.6 642.2h0M279.3 650.7h0M280.4 646.8h0M281.7 656.3h0M278.8 661.5h0M278.6 660.8h0M280.9 655.5h0M278.7 660.7h0M277.7 652.5h0M280.3 655.5h0M281.1 649.2h0M280.7 659.9h0M279.9 643.1h0M279.3 644.7h0M280.5 641.8h0M277.5 654.9h0M278.5 650.9h0M276.8 645.4h0M277.1 644.8h0M281.0 652.1h0M279.2 640.5h0M280.0 655.3h0M280.3 656.4h0M278.9 655.7h0M277.2 652.5h0M278.5 648.9h0M276.9 654.0h0M280.0 652.2h0M279.9 657.3h0M278.8 648.7h0M281.2 660.2h0M277.3 648.8h0M278.3 661.8h0M279.9 649.7h0M277.5 662.1h0M279.0 660.7h0M280.5 651.9h0M281.0 661.2h0M279.9 643.6h0M280.7 652.3h0M279.0 664.4h0M280.7 647.7h0M278.3 661.7h0M277.0 649.1h0M279.0 644.6h0M280.5 638.3h0M279.7 650.8h0M278.7 641.5h0M277.1 645.0h0M278.2 655.5h0M281.3 656.4h0M281.0 652.5h0M277.6 642.4h0M281.7 648.6h0M279.7 647.9h0M281.4 655.3h0M278.1 641.8h0M278.9 662.2h0M280.7 643.5h0M281.1 665.0h0M281.0 649.7h0M281.1 651.4h0M277.8 638.1h0M276.6 646.5h0M281.1 644.1h0M280.8 636.3h0M277.0 650.6h0M279.2 668.1h0M277.0 640.5h0M277.7 659.2h0M277.0 647.6h0M278.6 654.0h0M279.6 649.9h0M276.9 646.6h0M277.9 651.2h0M278.6 648.5h0M276.8 643.9h0M277.1 642.9h0M279.7 647.3h0M276.7 651.8h0M276.8 646.4h0M279.8 640.8h0M281.0 660.2h0M277.1 642.7h0M281.3 656.9h0M279.4 655.3h0M280.2 663.2h0M278.1 659.5h0M279.3 652.4h0M280.0 665.0h0M280.0 642.1h0M279.8 642.6h0M281.4 649.3h0M277.2 654.7h0M277.4 647.4h0M279.3 649.9h0M279.9 642.8h0M277.7 657.5h0M280.5 664.3h0M278.6 648.6h0M280.7 650.0h0M280.8 651.7h0M278.6 650.4h0M280.4 647.8h0M277.3 660.5h0M279.4 641.0h0M276.7 656.9h0M281.2 654.0h0M279.0 642.9h0M278.8 643.3h0M279.1 640.2h0M277.8 645.2h0M277.2 644.2h0M277.1 641.4h0M278.6 658.7h0M277.0 648.3h0M281.7 655.5h0M278.1 651.1h0M281.3 649.9h0M278.9 650.8h0M281.6 658.1h0M278.5 662.6h0M280.6 643.0h0M280.2 645.6h0M279.4 644.6h0M277.9 648.2h0M281.3 666.0h0M280.1 635.5h0M281.7 636.7h0M277.6 655.7h0M279.6 662.1h0M276.9 647.2h0M278.0 643.3h0M277.0 658.0h0M276.9 649.7h0M280.3 666.7h0M276.8 639.1h0M279.4 658.4h0M281.3 645.7h0M278.6 646.2h0M277.5 649.6h0M281.1 649.7h0M278.8 661.2h0M280.0 654.5h0M281.1 641.6h0M279.4 650.7h0M277.1 652.6h0M279.5 649.7h0M279.7 650.4h0M279.0 641.3h0M281.6 650.1h0M281.2 655.0h0" stroke="#e8913f" stroke-opacity="0.55" stroke-width="0.9" stroke-linecap="round" fill="none"/>
<path d="M294.7,622.6 L294.7,622.6 L294.4,623.6 L294.2,624.7 L294.2,625.7 L294.2,626.8 L294.2,627.8 L294.1,628.8 L294.0,629.9 L293.9,630.9 L293.7,631.9 L293.5,633.0 L293.3,634.0 L293.1,635.1 L292.8,636.1 L292.5,637.1 L292.2,638.2 L291.8,639.2 L291.4,640.2 L291.0,641.3 L290.6,642.3 L290.2,643.4 L289.8,644.4 L289.5,645.4 L289.4,646.5 L289.4,647.5 L289.5,648.5 L289.7,649.6 L290.0,650.6 L290.4,651.6 L290.8,652.7 L291.2,653.7 L291.7,654.8 L292.1,655.8 L292.5,656.8 L292.9,657.9 L293.3,658.9 L293.6,660.0 L293.8,661.0 L294.0,662.0 L294.3,663.1 L294.7,664.1 L294.7,664.1 Z" fill="#67aa60" stroke="#222" stroke-width="0.55"/>
<path d="M297.3 651.5h0M298.8 652.6h0M299.9 642.1h0M298.6 639.8h0M298.0 655.7h0M296.3 657.9h0M296.3 647.0h0M298.8 644.3h0M296.8 648.3h0M295.4 649.3h0M299.4 646.7h0M296.5 654.3h0M295.6 648.9h0M295.7 654.6h0M294.8 644.5h0M298.8 646.1h0M296.7 646.1h0M296.9 642.3h0M296.9 653.2h0M297.7 659.3h0M297.4 645.7h0M299.6 645.9h0M295.4 651.1h0M298.8 636.7h0M295.4 652.9h0M297.3 643.3h0M299.4 643.6h0M295.1 638.7h0M297.4 646.3h0M296.6 654.0h0M298.5 645.0h0M297.5 647.9h0M296.3 646.1h0M295.2 645.3h0M298.4 646.0h0M295.1 646.7h0M297.0 645.9h0M298.5 662.6h0M297.3 644.6h0M298.4 638.6h0M296.3 645.2h0M295.1 633.5h0M297.4 660.5h0M294.9 646.2h0M298.0 633.6h0M299.8 653.4h0M299.5 648.6h0M297.6 639.0h0M295.6 640.8h0M295.0 650.5h0M295.0 649.4h0M297.4 643.0h0M297.7 645.7h0M297.2 643.0h0M296.6 652.4h0M297.6 632.5h0M295.4 641.1h0M296.7 648.0h0M296.0 652.1h0M296.4 647.9h0M298.0 646.6h0M298.8 655.3h0M296.3 651.1h0M297.5 658.1h0M296.2 648.6h0M298.8 644.6h0M298.7 646.9h0M299.5 649.0h0M299.0 641.2h0M295.7 645.0h0M295.8 658.7h0M297.8 653.8h0M295.1 642.9h0M297.2 650.4h0M298.4 652.1h0M294.7 652.3h0M297.8 658.7h0M297.1 656.8h0M296.1 663.5h0M297.2 645.3h0M297.2 640.6h0M296.5 648.5h0M297.7 653.0h0M298.5 653.5h0M299.1 649.8h0M294.9 643.3h0M298.7 655.2h0M298.1 641.9h0M296.7 648.9h0M298.3 639.7h0M298.1 642.1h0M295.5 653.4h0M295.2 638.5h0M299.6 647.3h0M298.6 635.1h0M299.3 641.7h0M298.8 662.8h0M295.9 656.8h0M295.6 638.5h0M295.1 654.4h0M296.4 645.8h0M296.2 642.2h0M295.9 644.8h0M296.2 640.6h0M298.7 644.7h0M298.2 656.5h0M296.8 630.6h0M298.1 645.8h0M296.0 641.0h0M295.4 637.9h0M295.3 648.5h0M295.2 640.8h0M296.6 655.2h0M298.4 648.4h0M295.3 650.7h0M295.5 649.6h0M296.0 657.7h0M299.0 634.0h0M297.7 652.7h0M295.4 655.6h0M299.2 649.3h0M299.7 653.9h0M295.3 661.7h0M296.9 648.6h0M294.9 657.9h0M297.4 641.4h0M294.9 643.8h0M298.7 649.4h0M295.0 638.9h0M294.8 643.2h0M298.7 640.7h0M297.7 648.9h0M296.4 645.6h0M294.7 653.3h0M299.7 658.7h0M297.0 644.2h0M295.8 658.2h0M299.8 640.2h0M296.7 654.9h0M295.4 644.1h0M299.4 630.9h0M297.2 638.1h0M299.1 642.2h0M299.4 631.4h0M299.6 648.3h0M299.2 647.7h0M295.3 654.3h0M299.1 642.3h0M297.5 652.8h0M297.2 638.3h0M296.7 645.5h0M295.2 643.5h0M295.2 658.6h0M297.6 653.4h0M295.0 644.5h0M297.0 646.7h0M299.1 640.7h0M299.7 644.5h0M296.2 643.3h0M298.4 641.6h0M297.9 643.1h0M295.3 645.7h0M298.1 645.9h0M298.0 641.6h0M297.5 643.5h0M297.9 645.4h0M298.8 650.9h0M297.3 641.0h0M299.1 639.8h0M298.9 637.8h0" stroke="#86c982" stroke-opacity="0.55" stroke-width="0.9" stroke-linecap="round" fill="none"/>
<path d="M260.4,649.8 L279.2,652.0 L297.3,646.8" fill="none" stroke="#000" stroke-width="1.8" stroke-linecap="round" stroke-dasharray="0 4.3"/>
<line x1="260.4" y1="632.0" x2="260.4" y2="644.3" stroke="#000" stroke-width="0.7"/>
<line x1="260.4" y1="656.3" x2="260.4" y2="666.3" stroke="#000" stroke-width="0.7"/>
<line x1="259.3" y1="632.0" x2="261.5" y2="632.0" stroke="#000" stroke-width="0.7"/>
<line x1="259.3" y1="666.3" x2="261.5" y2="666.3" stroke="#000" stroke-width="0.7"/>
<rect x="258.9" y="644.3" width="3.0" height="12.0" fill="none" stroke="#000" stroke-width="0.7"/>
<circle cx="260.4" cy="649.8" r="2.8" fill="#000"/>
<path d="M260.4,608.5L261.7,610.1L260.4,611.7L259.1,610.1ZM260.4,629.4L261.7,631.0L260.4,632.6L259.1,631.0ZM260.4,628.0L261.7,629.6L260.4,631.2L259.1,629.6ZM260.4,626.7L261.7,628.3L260.4,629.9L259.1,628.3ZM260.4,625.4L261.7,627.0L260.4,628.6L259.1,627.0ZM260.4,624.0L261.7,625.6L260.4,627.2L259.1,625.6ZM260.4,622.6L261.7,624.2L260.4,625.9L259.1,624.2ZM260.4,621.3L261.7,622.9L260.4,624.5L259.1,622.9ZM260.4,619.9L261.7,621.5L260.4,623.1L259.1,621.5ZM260.4,618.6L261.7,620.2L260.4,621.8L259.1,620.2ZM260.4,617.2L261.7,618.9L260.4,620.5L259.1,618.9ZM260.4,615.9L261.7,617.5L260.4,619.1L259.1,617.5Z" fill="#000"/>
<line x1="279.2" y1="633.5" x2="279.2" y2="646.5" stroke="#000" stroke-width="0.7"/>
<line x1="279.2" y1="658.5" x2="279.2" y2="668.6" stroke="#000" stroke-width="0.7"/>
<line x1="278.1" y1="633.5" x2="280.3" y2="633.5" stroke="#000" stroke-width="0.7"/>
<line x1="278.1" y1="668.6" x2="280.3" y2="668.6" stroke="#000" stroke-width="0.7"/>
<rect x="277.7" y="646.5" width="3.0" height="12.0" fill="none" stroke="#000" stroke-width="0.7"/>
<circle cx="279.2" cy="652.0" r="2.8" fill="#000"/>
<path d="M279.2,622.9L280.4,624.4L279.2,625.9L278.0,624.4ZM279.2,631.0L280.4,632.5L279.2,634.0L278.0,632.5ZM279.2,629.2L280.4,630.7L279.2,632.2L278.0,630.7ZM279.2,627.4L280.4,628.9L279.2,630.4L278.0,628.9Z" fill="#000"/>
<line x1="297.3" y1="629.9" x2="297.3" y2="641.3" stroke="#000" stroke-width="0.7"/>
<line x1="297.3" y1="653.3" x2="297.3" y2="664.1" stroke="#000" stroke-width="0.7"/>
<line x1="296.2" y1="629.9" x2="298.4" y2="629.9" stroke="#000" stroke-width="0.7"/>
<line x1="296.2" y1="664.1" x2="298.4" y2="664.1" stroke="#000" stroke-width="0.7"/>
<rect x="295.8" y="641.3" width="3.0" height="12.0" fill="#fff" stroke="#000" stroke-width="0.7"/>
<circle cx="297.3" cy="646.8" r="2.8" fill="#000"/>
<path d="M297.3,622.1L298.5,623.6L297.3,625.1L296.1,623.6Z" fill="#000"/>
<text x="383.8" y="593.3" font-size="7.65" font-weight="bold" text-anchor="middle" fill="#111">Inclusion of</text>
<text x="383.8" y="601.5" font-size="7.65" font-weight="bold" text-anchor="middle" fill="#111">subcortical nodes</text>
<line x1="354.3" y1="606.9" x2="354.3" y2="671.3" stroke="#222" stroke-width="0.8"/>
<line x1="353.9" y1="670.9" x2="414.3" y2="670.9" stroke="#222" stroke-width="0.8"/>
<text x="349.7" y="627.0" font-size="6.95" text-anchor="end" fill="#4d4d4d">7500</text>
<text x="349.7" y="646.7" font-size="6.95" text-anchor="end" fill="#4d4d4d">5000</text>
<text x="349.7" y="666.4" font-size="6.95" text-anchor="end" fill="#4d4d4d">2500</text>
<text x="330.5" y="639.1" font-size="7.3" font-weight="bold" text-anchor="middle" fill="#111" transform="rotate(-90 330.5 639.1)">Number of streamlines</text>
<text x="364.7" y="680.5" font-size="5.7" font-weight="bold" text-anchor="middle" fill="#111">HC</text>
<text x="383.6" y="680.5" font-size="5.7" font-weight="bold" text-anchor="middle" fill="#111">MDD</text>
<text x="407.9" y="680.5" font-size="5.7" font-weight="bold" text-anchor="middle" fill="#111">MDD+ANX</text>
<path d="M366.0,612.9 L366.0,612.9 L365.6,614.2 L365.5,615.6 L365.5,616.9 L365.5,618.2 L365.5,619.6 L365.5,620.9 L365.5,622.2 L365.5,623.6 L365.5,624.9 L365.5,626.2 L365.5,627.6 L365.5,628.9 L365.5,630.3 L365.5,631.6 L365.5,632.9 L365.4,634.3 L365.2,635.6 L364.9,636.9 L364.5,638.3 L364.0,639.6 L363.4,640.9 L362.6,642.3 L361.7,643.6 L360.8,644.9 L360.1,646.3 L359.8,647.6 L359.9,648.9 L360.1,650.3 L360.5,651.6 L361.0,652.9 L361.6,654.3 L362.2,655.6 L362.8,657.0 L363.4,658.3 L363.9,659.6 L364.4,661.0 L364.8,662.3 L365.1,663.6 L365.4,665.0 L366.0,666.3 L366.0,666.3 Z" fill="#3e5a80" stroke="#222" stroke-width="0.55"/>
<path d="M370.6 649.4h0M369.1 664.8h0M370.5 652.1h0M370.3 639.1h0M367.8 645.3h0M369.2 641.4h0M367.3 643.8h0M370.4 651.1h0M369.5 650.2h0M368.5 648.6h0M369.2 635.7h0M370.2 650.1h0M370.2 642.2h0M366.6 649.3h0M368.5 656.2h0M367.9 646.9h0M367.2 648.1h0M366.8 651.8h0M369.0 645.2h0M368.0 643.5h0M369.4 649.4h0M366.7 649.2h0M371.1 657.9h0M368.4 645.2h0M366.5 654.5h0M368.9 647.5h0M369.0 658.5h0M371.1 653.6h0M366.9 637.8h0M369.1 649.4h0M366.1 641.3h0M370.9 661.3h0M368.2 649.8h0M367.5 639.0h0M366.2 636.3h0M369.9 653.1h0M367.6 662.5h0M366.0 638.1h0M368.6 644.3h0M370.8 640.1h0M370.4 646.5h0M368.0 644.2h0M370.9 646.5h0M367.4 654.1h0M366.1 641.6h0M371.0 650.3h0M370.6 664.9h0M368.0 634.2h0M370.4 659.1h0M371.2 638.5h0M368.8 651.7h0M368.5 646.5h0M369.8 654.5h0M371.0 652.8h0M369.9 651.3h0M371.0 635.8h0M369.7 634.9h0M366.6 654.9h0M369.8 654.6h0M368.1 649.5h0M367.1 651.5h0M371.1 653.1h0M370.6 648.3h0M367.7 646.0h0M366.7 646.8h0M369.5 641.9h0M366.4 647.5h0M368.5 643.6h0M366.0 651.3h0M367.6 650.5h0M369.5 655.4h0M367.8 644.5h0M370.7 653.3h0M369.0 656.7h0M369.0 632.3h0M368.8 651.2h0M366.5 639.6h0M366.3 640.2h0M369.6 665.0h0M366.2 640.6h0M369.3 650.6h0M368.1 647.5h0M369.0 646.9h0M366.8 639.8h0M366.2 630.6h0M370.2 632.5h0M366.3 641.8h0M367.8 634.4h0M369.0 640.2h0M369.6 648.9h0M370.5 638.5h0M366.1 649.1h0M366.4 639.2h0M369.3 642.6h0M369.3 648.3h0M369.4 648.5h0M369.2 637.5h0M366.0 640.1h0M370.3 644.3h0M368.8 642.9h0M366.8 661.9h0M369.6 641.9h0M366.3 634.1h0M366.5 631.6h0M366.3 634.2h0M369.8 648.3h0M367.8 641.8h0M366.4 659.4h0M367.8 641.8h0M367.1 657.3h0M369.9 640.7h0M370.7 638.9h0M368.0 648.2h0M371.0 634.7h0M370.5 653.2h0M366.0 646.0h0M370.1 651.6h0M367.6 661.0h0M369.2 641.9h0M367.5 643.6h0M370.5 640.4h0M366.9 647.6h0M369.3 637.9h0M370.6 661.4h0M367.4 652.8h0M370.3 648.2h0M370.7 634.4h0M369.2 650.2h0M370.5 640.1h0M369.0 662.1h0M368.1 639.1h0M368.9 641.0h0M369.6 658.9h0M366.5 646.4h0M367.2 645.2h0M368.4 638.2h0M370.0 650.3h0M369.3 643.1h0M366.7 648.0h0M370.3 654.7h0M368.2 637.8h0M369.3 646.8h0M369.2 634.4h0M366.9 657.4h0M371.1 639.6h0M369.5 653.4h0M366.3 643.9h0M368.4 642.1h0M367.5 635.6h0M368.5 636.7h0M369.3 657.5h0M371.1 646.0h0M369.9 647.1h0M366.9 639.2h0M369.3 639.9h0M366.3 637.4h0M369.0 656.4h0M366.7 639.8h0M370.6 636.8h0M368.3 654.7h0M369.1 652.5h0M370.5 648.7h0M367.9 637.7h0M370.8 652.7h0M369.5 654.7h0M369.8 652.9h0M366.6 644.0h0M371.1 645.7h0M370.5 644.0h0M370.7 632.1h0M368.6 647.9h0M367.0 648.5h0M370.1 651.5h0M368.4 650.4h0M368.6 651.8h0M367.5 636.4h0M369.4 663.5h0M371.1 655.7h0M367.3 646.3h0M369.6 630.8h0M371.0 635.5h0M369.1 641.6h0M367.0 653.9h0M370.3 645.2h0M368.7 643.8h0M367.4 644.0h0M370.4 634.7h0M369.6 649.3h0M371.2 639.1h0M369.0 650.2h0M369.8 647.2h0M367.7 645.9h0M370.6 648.2h0M369.6 653.3h0M369.1 653.1h0M368.0 652.1h0M370.2 641.4h0M366.6 652.0h0M369.0 643.1h0M366.5 640.9h0M370.3 638.3h0M366.3 649.5h0M367.7 637.2h0M366.5 643.1h0M368.9 653.5h0M370.2 651.6h0M368.9 653.3h0M367.1 640.4h0M366.3 659.5h0M370.6 654.0h0M370.4 643.8h0M367.3 654.4h0M369.9 639.8h0M366.4 643.9h0M371.2 638.3h0M367.2 652.9h0M368.7 654.9h0M366.3 640.0h0M366.9 643.0h0M366.9 663.7h0M369.8 656.3h0M366.3 645.9h0M367.5 639.5h0M367.4 656.0h0M370.3 639.3h0M368.9 651.0h0M367.1 655.6h0M369.4 644.0h0M368.1 644.4h0M370.1 640.5h0M369.1 649.2h0M370.8 640.0h0M367.4 640.0h0M370.3 648.8h0M369.9 645.8h0M368.5 647.7h0M369.5 666.1h0M367.2 655.0h0M370.6 645.3h0M369.0 651.6h0M367.7 641.5h0M366.8 645.7h0M368.6 653.4h0M366.2 649.3h0M367.0 655.6h0M369.5 642.8h0M368.8 649.2h0M368.4 652.7h0M369.1 653.6h0M370.1 656.9h0M366.2 657.4h0M371.0 649.1h0M369.1 659.5h0M368.3 652.9h0M366.3 644.2h0M367.0 643.0h0M369.9 644.9h0M366.7 640.1h0M369.4 658.5h0M371.1 638.7h0M369.9 652.7h0M370.7 651.3h0M370.3 645.0h0M369.3 650.4h0M368.5 651.7h0M366.7 646.9h0M366.2 644.3h0M366.6 646.5h0M370.6 641.8h0M369.9 646.3h0M366.1 637.1h0M370.6 661.5h0M368.5 659.8h0M369.2 640.6h0M369.5 644.0h0M366.8 659.7h0M371.2 646.8h0M366.8 650.8h0M367.6 662.5h0M367.8 646.5h0M369.5 645.1h0M369.9 646.5h0M366.9 644.8h0M366.6 641.5h0M368.3 636.6h0M370.4 657.9h0M368.2 640.0h0M369.2 659.5h0M366.5 641.4h0M369.2 652.7h0M368.2 631.7h0M369.8 642.6h0M370.5 646.7h0M368.4 638.2h0M371.0 654.5h0M366.5 654.6h0M367.2 651.0h0M366.8 657.7h0M369.0 642.7h0M369.4 653.1h0M366.8 647.7h0M367.9 659.9h0M367.0 658.5h0M371.1 650.0h0M370.9 649.7h0M370.3 639.9h0M369.6 649.2h0M369.4 634.5h0M367.2 649.7h0M369.2 646.6h0M367.1 642.6h0M370.7 642.1h0M368.3 645.7h0M369.5 659.0h0M370.5 650.9h0M368.0 645.4h0M368.0 653.3h0M369.5 647.2h0M366.8 656.7h0M368.0 650.0h0M367.5 641.4h0M371.1 655.3h0M367.4 638.3h0M370.6 643.8h0M366.1 657.3h0M368.2 661.0h0M370.6 638.7h0M370.2 641.6h0M371.1 654.1h0M366.5 644.4h0M371.0 644.3h0M370.9 651.1h0M370.7 642.7h0M367.6 633.2h0M369.8 643.7h0M369.9 651.2h0M368.6 640.0h0M368.3 648.2h0M369.6 655.4h0M366.2 639.2h0M366.4 655.4h0M370.4 653.4h0M369.3 642.2h0M367.6 645.0h0M367.9 652.0h0M367.6 646.5h0M367.1 652.8h0M366.9 645.6h0M370.5 658.3h0M366.1 643.7h0M367.5 659.7h0M368.3 658.9h0M370.2 650.1h0M366.6 638.5h0M370.4 652.4h0M369.6 652.9h0M367.0 652.1h0M366.2 636.9h0M367.5 658.0h0M368.5 642.3h0M368.1 644.9h0M370.3 654.1h0M370.3 646.9h0M369.4 638.0h0M367.9 637.4h0M367.1 659.9h0M366.7 665.0h0M366.8 639.2h0M366.7 654.7h0M367.0 652.9h0M367.2 648.8h0M370.4 641.7h0M367.9 643.8h0M367.9 648.4h0M366.9 645.9h0M369.5 657.3h0M371.2 656.9h0M368.1 645.9h0M368.4 640.9h0M367.7 648.6h0M369.4 647.2h0M368.3 646.2h0M369.3 649.0h0M366.7 649.7h0M367.1 662.0h0M370.6 639.4h0M368.1 647.3h0M367.3 634.5h0M366.2 653.1h0M367.2 641.3h0M366.6 655.5h0M367.5 641.9h0M366.7 652.3h0M368.5 641.0h0M370.4 635.5h0M370.5 643.4h0M366.6 651.6h0M367.4 640.4h0M368.0 649.1h0M368.3 642.9h0M368.3 643.6h0M367.0 653.6h0M370.6 651.0h0M368.8 636.0h0M368.5 651.0h0M371.2 648.9h0M371.0 657.2h0M369.5 641.6h0M367.7 660.2h0M367.1 645.8h0M369.1 653.2h0M369.9 653.4h0M369.0 656.9h0M368.1 635.1h0M370.0 636.2h0M366.8 643.4h0M367.1 649.1h0M367.7 640.7h0M368.3 647.3h0M367.5 632.3h0M370.2 642.5h0M368.5 642.0h0M367.1 640.2h0M370.4 649.0h0M371.0 660.8h0M367.6 638.0h0M369.4 644.6h0M367.2 648.6h0M369.2 642.2h0M369.6 648.0h0M368.3 653.3h0M367.9 654.2h0M368.0 643.7h0M366.0 657.9h0M369.7 654.7h0M368.7 638.9h0M368.4 638.4h0M370.9 646.7h0M367.3 646.7h0M369.3 661.8h0M369.5 647.4h0M369.0 656.5h0M369.4 653.8h0M370.1 637.8h0M370.9 657.7h0M368.7 649.0h0M369.6 648.0h0M369.4 640.8h0M368.6 638.0h0M370.9 649.1h0M366.9 651.8h0M367.6 656.2h0M368.4 649.6h0M370.8 652.0h0M368.5 635.3h0M366.2 648.4h0M370.9 664.8h0M368.5 643.8h0M368.7 643.7h0M368.6 664.2h0M368.6 656.3h0M366.7 659.6h0M371.0 646.8h0M370.1 650.2h0M367.0 642.1h0M370.2 640.4h0M366.7 649.6h0M366.2 638.2h0M367.3 649.1h0M367.6 647.5h0M368.7 647.9h0M366.3 659.5h0M368.8 654.8h0M369.8 640.9h0M366.8 640.8h0M368.4 649.0h0M367.3 647.6h0M369.5 642.2h0M371.2 661.5h0M366.8 647.3h0" stroke="#4a6ca6" stroke-opacity="0.55" stroke-width="0.9" stroke-linecap="round" fill="none"/>
<path d="M384.1,609.1 L384.1,609.1 L383.6,610.6 L383.6,612.1 L383.6,613.6 L383.6,615.1 L383.6,616.5 L383.6,618.0 L383.6,619.5 L383.6,621.0 L383.6,622.5 L383.6,624.0 L383.6,625.5 L383.6,627.0 L383.6,628.4 L383.6,629.9 L383.6,631.4 L383.6,632.9 L383.6,634.4 L383.6,635.9 L383.3,637.4 L383.0,638.9 L382.5,640.3 L381.9,641.8 L381.1,643.3 L380.1,644.8 L379.1,646.3 L378.2,647.8 L377.9,649.3 L378.0,650.8 L378.3,652.2 L378.8,653.7 L379.3,655.2 L380.0,656.7 L380.6,658.2 L381.3,659.7 L381.9,661.2 L382.4,662.6 L382.8,664.1 L383.2,665.6 L383.5,667.1 L384.1,668.6 L384.1,668.6 Z" fill="#db8233" stroke="#222" stroke-width="0.55"/>
<path d="M384.5 645.9h0M386.2 660.9h0M388.6 641.8h0M386.4 642.2h0M388.5 640.3h0M387.8 659.4h0M386.0 648.5h0M386.3 649.0h0M389.2 653.6h0M386.9 647.6h0M386.5 661.7h0M388.4 642.9h0M385.5 644.8h0M384.1 653.8h0M385.1 644.5h0M385.3 656.9h0M386.7 648.6h0M386.6 650.7h0M389.0 641.8h0M388.7 637.6h0M385.9 638.0h0M386.2 641.4h0M386.8 653.4h0M386.1 645.8h0M387.1 632.8h0M386.4 632.6h0M385.1 647.7h0M388.8 643.5h0M388.7 644.3h0M386.0 643.7h0M385.1 655.5h0M386.7 651.3h0M384.8 665.1h0M384.8 642.3h0M385.0 643.6h0M388.0 659.5h0M387.5 641.4h0M386.6 662.1h0M388.0 651.3h0M384.3 655.9h0M385.9 645.6h0M384.2 632.4h0M385.4 658.1h0M388.3 641.9h0M384.8 650.4h0M388.6 648.0h0M384.8 638.7h0M385.0 649.4h0M388.7 646.1h0M386.0 650.1h0M388.6 666.6h0M386.4 656.2h0M385.7 646.7h0M387.2 643.3h0M387.0 646.0h0M385.3 651.9h0M388.0 646.3h0M386.6 639.2h0M385.4 661.5h0M385.8 640.3h0M385.6 645.6h0M388.2 643.6h0M389.2 648.5h0M384.6 656.0h0M386.6 648.4h0M388.9 652.7h0M385.9 658.5h0M384.6 649.4h0M386.1 637.9h0M388.7 657.9h0M387.0 647.4h0M387.3 646.4h0M385.5 657.9h0M384.8 651.7h0M384.1 656.6h0M384.6 640.9h0M384.8 642.3h0M384.5 653.1h0M384.6 638.2h0M388.4 643.7h0M388.7 641.4h0M386.3 657.1h0M385.7 636.1h0M386.1 641.5h0M388.5 645.0h0M384.2 662.2h0M386.8 667.1h0M386.8 659.6h0M388.3 638.2h0M387.4 652.3h0M387.3 642.9h0M385.0 652.8h0M386.1 650.0h0M387.8 656.9h0M384.4 644.9h0M386.5 664.0h0M384.3 639.2h0M386.8 647.1h0M389.1 654.4h0M386.8 657.7h0M385.0 655.6h0M386.7 642.1h0M388.6 641.2h0M388.6 666.0h0M385.0 645.1h0M384.5 636.3h0M387.1 647.0h0M386.2 648.0h0M388.4 645.5h0M384.2 653.7h0M388.0 641.6h0M385.3 655.9h0M385.5 663.4h0M388.2 647.5h0M384.4 647.0h0M385.4 661.2h0M388.4 654.5h0M384.4 644.7h0M387.0 660.3h0M388.8 644.5h0M384.8 645.2h0M384.9 642.7h0M386.1 648.6h0M385.6 639.0h0M384.4 652.3h0M385.9 642.6h0M387.0 639.7h0M388.4 652.2h0M384.9 644.9h0M386.3 647.9h0M387.6 658.2h0M387.9 645.5h0M387.3 638.6h0M389.0 644.2h0M387.5 652.8h0M387.7 663.8h0M389.3 647.1h0M386.6 650.5h0M385.2 642.4h0M386.6 660.6h0M388.2 656.5h0M385.9 642.9h0M387.1 633.6h0M389.1 654.2h0M388.3 632.8h0M388.4 645.9h0M388.5 651.1h0M385.3 638.7h0M387.3 656.1h0M386.3 639.2h0M384.2 649.1h0M389.0 645.8h0M387.0 637.2h0M386.9 647.1h0M385.2 644.9h0M387.8 635.2h0M387.3 664.7h0M388.5 649.9h0M386.8 644.1h0M388.9 646.7h0M387.8 662.2h0M385.4 648.2h0M385.8 643.3h0M385.7 656.1h0M386.6 642.9h0M386.5 642.4h0M384.2 653.1h0M384.2 648.3h0M388.0 661.7h0M387.7 643.4h0M389.0 638.1h0M388.1 645.8h0M388.2 658.5h0M387.6 645.1h0M384.6 640.5h0M385.0 660.0h0M384.4 649.7h0M385.8 658.6h0M389.1 647.7h0M387.0 639.8h0M386.4 647.0h0M385.8 640.6h0M386.5 648.0h0M389.1 638.5h0M385.1 643.0h0M387.6 636.5h0M387.7 647.9h0M385.5 656.3h0M385.2 642.5h0M388.3 655.6h0M388.0 636.6h0M389.3 644.6h0M386.3 641.8h0M387.4 637.4h0M385.4 657.1h0M388.0 642.9h0M389.3 632.1h0M384.3 653.3h0M387.4 635.8h0M384.8 644.4h0M388.2 660.1h0M387.9 638.6h0M384.3 648.4h0M384.7 664.6h0M385.9 640.0h0M388.0 638.3h0M389.2 662.0h0M385.8 641.4h0M384.3 660.1h0M389.2 647.9h0M385.2 651.4h0M387.8 654.2h0M388.3 667.3h0M388.1 635.8h0M384.9 644.3h0M385.5 666.4h0M384.5 655.1h0M388.9 634.6h0M386.4 660.1h0M386.6 647.0h0M389.1 663.5h0M388.1 647.1h0M388.0 636.7h0M385.6 644.1h0M386.5 651.2h0M384.5 655.9h0M388.4 651.8h0M385.9 657.9h0M385.4 636.6h0M384.3 637.0h0M388.0 665.3h0M388.7 643.8h0M385.2 656.9h0M386.1 661.8h0M385.1 645.2h0M385.9 656.5h0M385.2 650.3h0M388.1 652.3h0M388.0 647.5h0M384.2 651.0h0M386.0 660.8h0M387.6 656.3h0M386.8 644.1h0M386.3 642.6h0M384.3 637.7h0M386.9 639.6h0M385.3 644.6h0M387.7 654.1h0M387.9 651.2h0M385.3 653.2h0M389.3 654.7h0M386.1 653.5h0M388.0 644.4h0M387.9 656.7h0M384.1 638.8h0M386.1 645.4h0M388.1 639.2h0M384.7 639.0h0M385.1 652.6h0M387.8 644.0h0M386.5 647.4h0M385.6 652.6h0M385.5 657.8h0M384.6 647.7h0M389.0 653.5h0M388.3 655.3h0M389.0 649.3h0M387.2 643.2h0M387.3 655.7h0M387.1 637.4h0M386.0 656.0h0M387.1 649.5h0M387.1 649.4h0M384.5 654.1h0M384.9 643.0h0M389.0 632.8h0M384.7 652.4h0M386.6 644.5h0M386.4 664.0h0M384.6 648.2h0M388.3 661.2h0M386.9 659.4h0M388.4 653.4h0M386.4 657.1h0M384.9 648.4h0M386.1 650.2h0M384.7 665.7h0M386.3 650.1h0M387.9 646.2h0M385.6 645.5h0M385.9 634.9h0M388.2 640.8h0M384.3 657.9h0M384.8 661.1h0M388.1 643.7h0M386.2 643.0h0M389.1 655.0h0M384.1 644.1h0M385.4 640.4h0M385.9 650.5h0M384.4 660.0h0M385.1 639.2h0M385.4 659.7h0M388.4 649.7h0M384.3 643.3h0M387.5 646.2h0M387.7 656.0h0M388.9 644.1h0M389.1 655.5h0M388.5 640.2h0M388.7 651.7h0M386.1 648.5h0M384.6 653.3h0M384.8 660.8h0M387.7 649.0h0M384.7 641.1h0M387.8 635.1h0M388.2 642.3h0M386.3 651.0h0M387.4 645.9h0M384.7 654.9h0M387.0 655.5h0M386.7 640.2h0M388.5 640.7h0M389.0 645.4h0M389.2 658.5h0M384.4 653.2h0M388.7 649.6h0M386.5 647.5h0M384.2 634.4h0M387.2 641.8h0M388.4 661.2h0M386.0 667.6h0M385.2 656.7h0M388.2 639.5h0M387.7 647.3h0M388.9 650.4h0M384.8 643.4h0M389.1 651.2h0M384.8 642.3h0M388.0 638.6h0M384.6 647.0h0M386.5 643.1h0M384.6 647.8h0M385.3 657.8h0M384.6 652.9h0M386.3 658.8h0M387.6 648.5h0M386.1 645.2h0M387.9 662.2h0M387.7 647.1h0M386.2 644.4h0M388.0 649.6h0M385.6 652.9h0M387.9 661.1h0M384.7 649.6h0M388.7 644.3h0M385.1 637.9h0M386.6 646.8h0M387.1 644.0h0" stroke="#e8913f" stroke-opacity="0.55" stroke-width="0.9" stroke-linecap="round" fill="none"/>
<path d="M402.5,617.9 L402.5,617.9 L402.1,619.0 L402.0,620.2 L402.0,621.3 L402.0,622.4 L402.0,623.6 L402.0,624.7 L402.0,625.8 L402.0,627.0 L401.9,628.1 L401.8,629.2 L401.6,630.4 L401.4,631.5 L401.2,632.7 L401.0,633.8 L400.7,634.9 L400.4,636.1 L400.1,637.2 L399.7,638.3 L399.2,639.5 L398.7,640.6 L398.3,641.7 L397.8,642.9 L397.5,644.0 L397.3,645.1 L397.2,646.3 L397.3,647.4 L397.5,648.5 L397.8,649.7 L398.2,650.8 L398.6,651.9 L399.1,653.1 L399.6,654.2 L400.1,655.4 L400.5,656.5 L400.9,657.6 L401.2,658.8 L401.5,659.9 L401.8,661.0 L402.1,662.2 L402.5,663.3 L402.5,663.3 Z" fill="#67aa60" stroke="#222" stroke-width="0.55"/>
<path d="M402.8 650.2h0M406.4 642.9h0M403.8 649.1h0M403.3 643.7h0M406.9 660.4h0M402.5 650.7h0M403.3 648.0h0M406.4 645.3h0M406.9 629.9h0M404.0 648.2h0M403.9 642.9h0M406.3 653.9h0M403.2 651.6h0M402.8 642.0h0M407.6 644.1h0M403.3 645.9h0M403.4 637.0h0M405.0 655.8h0M406.1 635.7h0M404.7 653.9h0M405.8 647.6h0M404.2 641.0h0M404.4 645.8h0M407.0 655.3h0M406.3 645.0h0M407.0 644.6h0M403.4 637.5h0M404.5 632.2h0M403.0 648.0h0M406.1 641.5h0M404.1 644.3h0M403.6 640.5h0M403.0 647.0h0M405.1 659.0h0M404.1 648.1h0M403.4 649.8h0M407.6 643.8h0M404.3 630.0h0M404.8 651.1h0M406.2 651.4h0M407.4 639.6h0M406.4 647.4h0M404.7 633.8h0M405.2 647.3h0M403.3 645.0h0M404.3 639.4h0M403.0 640.6h0M404.1 652.7h0M406.1 639.1h0M407.7 656.8h0M403.0 649.6h0M407.5 652.2h0M404.9 638.4h0M406.4 647.3h0M405.0 638.2h0M403.0 651.6h0M405.1 643.1h0M404.5 636.0h0M406.1 629.3h0M406.2 652.9h0M404.0 640.5h0M404.1 640.6h0M405.5 645.7h0M406.9 657.9h0M403.8 637.5h0M403.7 636.8h0M404.8 652.9h0M405.7 635.7h0M405.3 649.0h0M407.4 646.0h0M407.3 639.2h0M407.6 637.2h0M406.3 648.5h0M404.8 644.4h0M407.7 648.6h0M404.9 645.9h0M405.7 648.3h0M406.9 654.1h0M406.5 636.4h0M404.3 645.0h0M404.4 638.5h0M403.0 644.5h0M406.5 647.6h0M405.9 639.1h0M406.8 645.3h0M407.6 639.8h0M402.6 650.5h0M407.4 649.6h0M402.6 635.3h0M405.4 643.4h0M405.8 626.5h0M404.9 646.3h0M405.2 628.1h0M407.3 651.2h0M403.0 648.0h0M403.9 635.8h0M405.5 656.6h0M407.0 639.8h0M406.3 645.2h0M403.2 650.0h0M407.0 638.0h0M404.4 655.6h0M404.3 641.2h0M406.9 662.2h0M406.2 654.5h0M405.5 643.7h0M405.6 645.3h0M406.9 656.4h0M404.2 654.6h0M406.8 649.4h0M406.3 647.9h0M405.7 647.1h0M406.7 653.8h0M407.4 640.7h0M403.6 645.9h0M404.4 642.9h0M403.5 645.1h0M403.7 651.2h0M405.7 635.5h0M404.9 652.8h0M404.9 642.6h0M406.5 640.1h0M406.2 656.7h0M403.1 650.1h0M407.1 637.4h0M407.1 648.7h0M402.9 660.0h0M407.4 647.4h0M404.7 628.2h0M403.2 654.4h0M407.5 658.1h0M407.7 643.4h0M406.2 632.9h0M406.4 651.5h0M404.0 630.9h0M407.0 644.8h0M405.2 649.3h0M406.4 642.8h0M404.7 639.3h0M406.2 652.5h0M405.0 645.9h0M405.3 652.5h0M406.6 654.9h0M403.5 642.2h0M405.9 641.6h0M402.6 648.9h0M403.2 656.3h0M407.4 644.0h0M403.6 653.9h0M403.1 643.9h0M404.2 643.1h0M402.9 647.8h0M403.5 652.4h0M403.6 648.9h0M404.5 656.8h0M405.9 644.7h0M404.6 643.7h0M403.2 659.8h0M404.2 645.3h0M405.0 645.6h0M404.1 643.9h0M404.1 643.9h0M403.1 634.7h0M403.0 645.7h0M405.2 655.7h0M404.5 651.5h0M407.3 645.3h0M404.1 652.9h0M407.5 645.7h0M405.5 650.8h0" stroke="#86c982" stroke-opacity="0.55" stroke-width="0.9" stroke-linecap="round" fill="none"/>
<path d="M368.6,647.5 L386.7,649.0 L405.1,645.3" fill="none" stroke="#000" stroke-width="1.8" stroke-linecap="round" stroke-dasharray="0 4.3"/>
<line x1="368.6" y1="630.5" x2="368.6" y2="642.0" stroke="#000" stroke-width="0.7"/>
<line x1="368.6" y1="654.0" x2="368.6" y2="666.3" stroke="#000" stroke-width="0.7"/>
<line x1="367.5" y1="630.5" x2="369.7" y2="630.5" stroke="#000" stroke-width="0.7"/>
<line x1="367.5" y1="666.3" x2="369.7" y2="666.3" stroke="#000" stroke-width="0.7"/>
<rect x="367.1" y="642.0" width="3.0" height="12.0" fill="none" stroke="#000" stroke-width="0.7"/>
<circle cx="368.6" cy="647.5" r="2.8" fill="#000"/>
<path d="M368.6,612.3L369.9,613.9L368.6,615.5L367.3,613.9ZM368.6,627.9L369.9,629.5L368.6,631.1L367.3,629.5ZM368.6,626.5L369.9,628.1L368.6,629.8L367.3,628.1ZM368.6,625.2L369.9,626.8L368.6,628.4L367.3,626.8ZM368.6,623.9L369.9,625.5L368.6,627.1L367.3,625.5ZM368.6,622.5L369.9,624.1L368.6,625.7L367.3,624.1ZM368.6,621.1L369.9,622.8L368.6,624.4L367.3,622.8ZM368.6,619.8L369.9,621.4L368.6,623.0L367.3,621.4Z" fill="#000"/>
<line x1="386.7" y1="632.0" x2="386.7" y2="643.5" stroke="#000" stroke-width="0.7"/>
<line x1="386.7" y1="655.5" x2="386.7" y2="668.6" stroke="#000" stroke-width="0.7"/>
<line x1="385.6" y1="632.0" x2="387.8" y2="632.0" stroke="#000" stroke-width="0.7"/>
<line x1="385.6" y1="668.6" x2="387.8" y2="668.6" stroke="#000" stroke-width="0.7"/>
<rect x="385.2" y="643.5" width="3.0" height="12.0" fill="none" stroke="#000" stroke-width="0.7"/>
<circle cx="386.7" cy="649.0" r="2.8" fill="#000"/>
<path d="M386.7,608.6L387.9,610.1L386.7,611.6L385.5,610.1ZM386.7,629.5L387.9,631.0L386.7,632.5L385.5,631.0ZM386.7,627.8L387.9,629.2L386.7,630.7L385.5,629.2ZM386.7,625.9L387.9,627.4L386.7,628.9L385.5,627.4ZM386.7,624.1L387.9,625.6L386.7,627.1L385.5,625.6ZM386.7,622.3L387.9,623.8L386.7,625.2L385.5,623.8ZM386.7,620.5L387.9,622.0L386.7,623.5L385.5,622.0ZM386.7,618.8L387.9,620.2L386.7,621.7L385.5,620.2ZM386.7,616.9L387.9,618.4L386.7,619.9L385.5,618.4ZM386.7,615.1L387.9,616.6L386.7,618.1L385.5,616.6ZM386.7,613.3L387.9,614.8L386.7,616.2L385.5,614.8Z" fill="#000"/>
<line x1="405.1" y1="626.3" x2="405.1" y2="639.8" stroke="#000" stroke-width="0.7"/>
<line x1="405.1" y1="651.8" x2="405.1" y2="663.3" stroke="#000" stroke-width="0.7"/>
<line x1="404.0" y1="626.3" x2="406.2" y2="626.3" stroke="#000" stroke-width="0.7"/>
<line x1="404.0" y1="663.3" x2="406.2" y2="663.3" stroke="#000" stroke-width="0.7"/>
<rect x="403.6" y="639.8" width="3.0" height="12.0" fill="#fff" stroke="#000" stroke-width="0.7"/>
<circle cx="405.1" cy="645.3" r="2.8" fill="#000"/>
<path d="M405.1,617.4L406.3,618.9L405.1,620.4L403.9,618.9ZM405.1,623.9L406.3,625.3L405.1,626.8L403.9,625.3Z" fill="#000"/>
</svg></body></html>
